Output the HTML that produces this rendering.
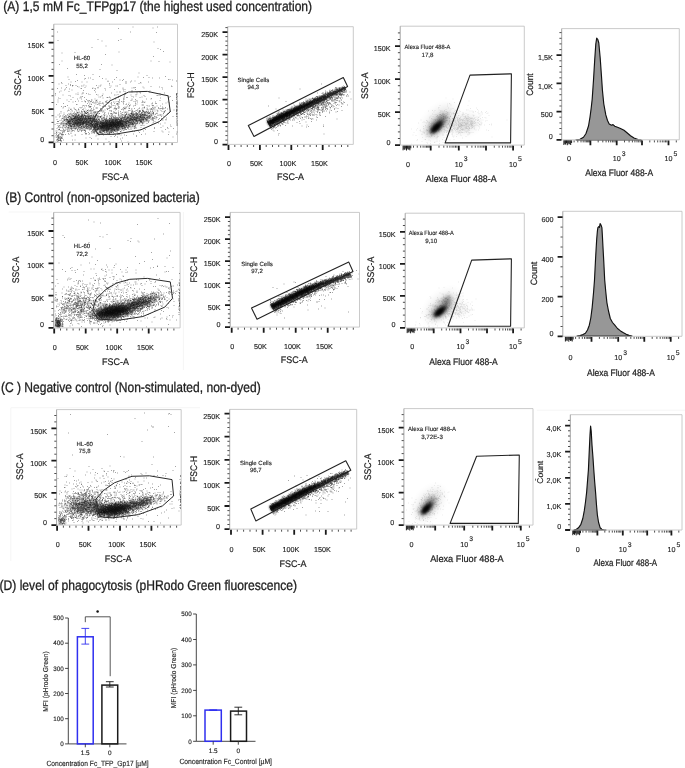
<!DOCTYPE html><html><head><meta charset="utf-8"><title>Figure</title><style>html,body{margin:0;padding:0;background:#fff;width:685px;height:768px;overflow:hidden}svg{display:block;will-change:transform;filter:blur(.35px)}text{font-family:"Liberation Sans",sans-serif;text-rendering:geometricPrecision}</style></head><body><svg width="685" height="768" viewBox="0 0 685 768" font-family="Liberation Sans, sans-serif" shape-rendering="auto"><defs><filter id="b0" x="-100%" y="-100%" width="300%" height="300%"><feGaussianBlur stdDeviation="2.4"/></filter><filter id="b1" x="-100%" y="-100%" width="300%" height="300%"><feGaussianBlur stdDeviation="2.2"/></filter><filter id="b2" x="-100%" y="-100%" width="300%" height="300%"><feGaussianBlur stdDeviation="2"/></filter><filter id="b3" x="-100%" y="-100%" width="300%" height="300%"><feGaussianBlur stdDeviation="2.4"/></filter><filter id="b4" x="-100%" y="-100%" width="300%" height="300%"><feGaussianBlur stdDeviation="2"/></filter><filter id="b5" x="-100%" y="-100%" width="300%" height="300%"><feGaussianBlur stdDeviation="2"/></filter><filter id="b6" x="-100%" y="-100%" width="300%" height="300%"><feGaussianBlur stdDeviation="0.9"/></filter><filter id="b7" x="-100%" y="-100%" width="300%" height="300%"><feGaussianBlur stdDeviation="2.1"/></filter><filter id="b8" x="-100%" y="-100%" width="300%" height="300%"><feGaussianBlur stdDeviation="2"/></filter><filter id="b9" x="-100%" y="-100%" width="300%" height="300%"><feGaussianBlur stdDeviation="2.5"/></filter><filter id="b10" x="-100%" y="-100%" width="300%" height="300%"><feGaussianBlur stdDeviation="2.4"/></filter><filter id="b11" x="-20%" y="-50%" width="140%" height="200%"><feGaussianBlur stdDeviation="0.8"/></filter><filter id="b12" x="-20%" y="-50%" width="140%" height="200%"><feGaussianBlur stdDeviation="0.8"/></filter><filter id="b13" x="-20%" y="-50%" width="140%" height="200%"><feGaussianBlur stdDeviation="0.8"/></filter><filter id="b14" x="-100%" y="-100%" width="300%" height="300%"><feGaussianBlur stdDeviation="4"/></filter><filter id="b15" x="-100%" y="-100%" width="300%" height="300%"><feGaussianBlur stdDeviation="2.6"/></filter><filter id="b16" x="-100%" y="-100%" width="300%" height="300%"><feGaussianBlur stdDeviation="1.7"/></filter><filter id="b17" x="-100%" y="-100%" width="300%" height="300%"><feGaussianBlur stdDeviation="1.0"/></filter><filter id="b18" x="-100%" y="-100%" width="300%" height="300%"><feGaussianBlur stdDeviation="2.2"/></filter><filter id="b19" x="-100%" y="-100%" width="300%" height="300%"><feGaussianBlur stdDeviation="4"/></filter><filter id="b20" x="-100%" y="-100%" width="300%" height="300%"><feGaussianBlur stdDeviation="4"/></filter><filter id="b21" x="-100%" y="-100%" width="300%" height="300%"><feGaussianBlur stdDeviation="2.6"/></filter><filter id="b22" x="-100%" y="-100%" width="300%" height="300%"><feGaussianBlur stdDeviation="1.7"/></filter><filter id="b23" x="-100%" y="-100%" width="300%" height="300%"><feGaussianBlur stdDeviation="1.0"/></filter><filter id="b24" x="-100%" y="-100%" width="300%" height="300%"><feGaussianBlur stdDeviation="2.2"/></filter><filter id="b25" x="-100%" y="-100%" width="300%" height="300%"><feGaussianBlur stdDeviation="4"/></filter><filter id="b26" x="-100%" y="-100%" width="300%" height="300%"><feGaussianBlur stdDeviation="4"/></filter><filter id="b27" x="-100%" y="-100%" width="300%" height="300%"><feGaussianBlur stdDeviation="2.6"/></filter><filter id="b28" x="-100%" y="-100%" width="300%" height="300%"><feGaussianBlur stdDeviation="1.7"/></filter><filter id="b29" x="-100%" y="-100%" width="300%" height="300%"><feGaussianBlur stdDeviation="1.0"/></filter><filter id="b30" x="-100%" y="-100%" width="300%" height="300%"><feGaussianBlur stdDeviation="2.2"/></filter></defs><rect width="685" height="768" fill="#fff"/><text x="3.3" y="11.3" font-size="14.0" textLength="308.8" lengthAdjust="spacingAndGlyphs" fill="#1e1e1e" stroke="#1e1e1e" stroke-width="0.3">(A) 1,5 mM Fc_TFPgp17 (the highest used concentration)</text><text x="5.2" y="202.1" font-size="14.0" textLength="194.6" lengthAdjust="spacingAndGlyphs" fill="#1e1e1e" stroke="#1e1e1e" stroke-width="0.3">(B) Control (non-opsonized bacteria)</text><text x=".9" y="392" font-size="14.0" textLength="259.8" lengthAdjust="spacingAndGlyphs" fill="#1e1e1e" stroke="#1e1e1e" stroke-width="0.3">(C ) Negative control (Non-stimulated, non-dyed)</text><text x="-.5" y="589.5" font-size="14.0" textLength="297.6" lengthAdjust="spacingAndGlyphs" fill="#1e1e1e" stroke="#1e1e1e" stroke-width="0.3">(D) level of phagocytosis (pHRodo Green fluorescence)</text><path d="M10.8 408L10.8 561" stroke="#f2f2f2" stroke-width="0.8"/><path d="M10.8 407.7L200 407.7" stroke="#f2f2f2" stroke-width="0.8"/><path d="M8.7 212L52 212" stroke="#f2f2f2" stroke-width="0.8"/><path d="M183.4 212L183.4 370" stroke="#f2f2f2" stroke-width="0.8"/><path d="M536.8 410.2L685 410.2" stroke="#f2f2f2" stroke-width="0.8"/><ellipse cx="78.5" cy="121.3" rx="13.6" ry="4.6" transform="rotate(-5 78.5 121.3)" fill="#000" opacity="0.4" filter="url(#b0)"/><ellipse cx="110.1" cy="125" rx="14.9" ry="4.6" transform="rotate(-10 110.1 125)" fill="#000" opacity="0.55" filter="url(#b1)"/><ellipse cx="138.6" cy="119.7" rx="11.2" ry="3.3" transform="rotate(-18 138.6 119.7)" fill="#000" opacity="0.28" filter="url(#b2)"/><ellipse cx="94" cy="123.7" rx="6.2" ry="4" transform="rotate(0 94 123.7)" fill="#000" opacity="0.25" filter="url(#b3)"/><path transform="scale(.5)" d="M265 54h2m47 0h2m-11 2h2m-124 39h2m141 8h2m-91 1h2m-116 18h2m214 2h2m-223 5h2m14 8h2m161 18h2m19 1h2m-116 1h2m-38 1h2m15 1h2m59 0h2m-9 1h2m21 2h2m13 5h2m-143 1h2m54 3h2m37 1h2m110 1h2m-188 1h2m126 0h2m31 0h2m-188 1h2m35 0h2m152 0h2m-130 1h2m70 0h2m18 0h2m-175 1h2m73 0h2m-61 1h2m192 0h2m-27 4h2m-54 1h2m-131 1h2m178 0h2m-145 2h2m7 0h2m39 2h2m41 0h2m23 0h2m-83 1h2m41 0h2m-127 1h2m201 1h2m4 0h2m-181 1h2m106 0h2m39 1h2m-131 1h2m38 0h2m16 0h2m118 0h2m-172 1h2m47 0h2m17 0h2m-122 1h2m41 0h2m44 0h2m39 0h2m-129 1h2m181 0h2m-142 1h2m66 0h2m31 0h2m27 0h2m7 0h2m-56 1h2m21 0h2m-157 1h2m146 0h2m-90 1h2m1 0h2m12 0h2m19 0h2m58 0h2m69 0h2m-178 1h2m101 0h2m-103 1h2m27 0h2m35 0h2m47 0h2m-172 1h2m28 0h2m29 0h2m1 0h2m5 0h2m38 0h2m1 0h2m14 0h2m27 0h2m59 0h2m-124 1h2m2 0h2m66 0h2m-98 1h2m13 0h2m-1 0h2m9 0h2m28 0h2m9 0h2m-133 1h2m77 0h2m21 0h2m3 0h2m-1 0h2m34 0h2m-76 1h2m39 0h2m13 0h2m19 0h2m-93 1h2m67 0h2m-31 1h2m59 0h2m-1 0h2m17 0h2m-171 1h2m81 0h2m6 0h2m0 0h2m-61 1h2m2 0h2m3 0h2m51 0h2m26 0h2m35 0h2m1 0h2m13 0h2m-193 1h2m5 0h2m49 0h2m37 0h2m-44 1h2m70 0h2m1 0h2m34 0h2m34 0h2m-163 1h2m53 0h2m0 0h2m-75 1h2m37 0h2m3 0h2m95 0h2m3 0h2m-95 1h2m14 0h2m0 0h2m8 0h2m2 0h2m15 0h2m7 0h2m17 0h2m23 0h2m15 0h2m6 0h2m-163 1h2m131 0h2m6 0h2m10 0h2m3 0h2m-1 0h2m7 0h2m-186 1h2m35 0h2m53 0h2m1 0h2m-90 1h2m7 0h2m3 0h2m7 0h2m22 0h2m3 0h2m85 0h2m2 0h2m-128 1h2m3 0h2m3 0h2m75 0h2m21 0h2m35 0h2m-168 1h2m5 0h2m4 0h2m9 0h2m20 0h2m-1 0h2m2 0h2m11 0h2m15 0h2m42 0h2m27 0h2m3 0h2m-151 1h2m1 0h2m24 0h2m3 0h2m62 0h2m10 0h2m1 0h2m-1 0h2m5 0h2m3 0h2m-1 0h2m10 0h2m17 0h2m3 0h2m-182 1h2m8 0h2m8 0h2m5 0h2m13 0h2m12 0h2m20 0h2m-1 0h2m22 0h2m35 0h2m3 0h2m6 0h2m-148 1h2m6 0h2m10 0h2m59 0h2m6 0h2m17 0h2m11 0h2m0 0h2m8 0h2m0 0h2m1 0h2m-174 1h2m4 0h2m41 0h2m-1 0h2m17 0h2m24 0h2m35 0h2m15 0h2m5 0h2m5 0h2m3 0h2m35 0h2m-191 1h2m1 0h2m4 0h2m2 0h2m1 0h2m17 0h2m-1 0h2m6 0h2m40 0h2m7 0h2m2 0h2m3 0h2m9 0h2m8 0h2m8 0h2m-1 0h2m4 0h2m16 0h2m6 0h2m4 0h2m-157 1h2m9 0h2m83 0h2m7 0h2m-1 0h2m1 0h2m0 0h2m1 0h2m8 0h2m20 0h2m2 0h2m-174 1h2m28 0h2m24 0h2m15 0h2m15 0h2m25 0h2m8 0h2m1 0h2m0 0h2m5 0h2m4 0h2m0 0h2m1 0h2m0 0h2m-1 0h2m1 0h2m18 0h2m-197 1h2m25 0h2m1 0h2m17 0h2m2 0h2m22 0h2m48 0h2m1 0h2m10 0h2m6 0h2m-1 0h2m4 0h2m7 0h2m0 0h2m2 0h2m8 0h2m16 0h2m2 0h2m4 0h2m-184 1h2m4 0h2m0 0h2m1 0h2m0 0h2m6 0h2m2 0h2m0 0h2m9 0h2m-1 0h2m2 0h2m-1 0h2m1 0h2m-1 0h2m54 0h2m11 0h2m2 0h2m-1 0h2m9 0h2m2 0h2m0 0h2m17 0h2m12 0h2m4 0h2m-204 1h2m-1 0h2m3 0h2m19 0h2m3 0h2m9 0h2m-1 0h2m4 0h2m2 0h2m10 0h2m-1 0h2m7 0h2m28 0h2m14 0h2m1 0h2m3 0h2m5 0h2m6 0h2m10 0h2m1 0h2m4 0h2m10 0h2m-162 1h2m-1 0h2m5 0h2m3 0h2m1 0h2m-1 0h2m5 0h2m-1 0h2m9 0h2m0 0h2m1 0h2m-1 0h2m7 0h2m6 0h2m2 0h2m17 0h2m23 0h2m13 0h2m-1 0h2m-1 0h2m-1 0h2m0 0h2m10 0h2m1 0h2m-1 0h2m17 0h2m44 0h2m-219 1h2m19 0h2m-1 0h2m1 0h2m3 0h2m2 0h2m6 0h2m1 0h2m1 0h2m0 0h2m1 0h2m40 0h2m19 0h2m1 0h2m-1 0h2m21 0h2m0 0h2m-1 0h2m1 0h2m14 0h2m16 0h2m-1 0h2m-178 1h2m3 0h2m6 0h2m5 0h2m1 0h2m0 0h2m37 0h2m5 0h2m13 0h2m20 0h2m1 0h2m2 0h2m0 0h2m1 0h2m10 0h2m1 0h2m-1 0h2m6 0h2m0 0h2m0 0h2m0 0h2m0 0h2m3 0h2m-1 0h2m8 0h2m1 0h2m-172 1h2m4 0h2m3 0h2m3 0h2m5 0h2m4 0h2m2 0h2m-1 0h2m10 0h2m-1 0h2m0 0h2m-1 0h2m17 0h2m27 0h2m5 0h2m9 0h2m1 0h2m3 0h2m-1 0h2m11 0h2m1 0h2m-1 0h2m0 0h2m1 0h2m12 0h2m6 0h2m24 0h2m-202 1h2m11 0h2m1 0h2m-1 0h2m0 0h2m0 0h2m1 0h2m10 0h2m0 0h2m-1 0h2m1 0h2m1 0h2m-1 0h2m0 0h2m-1 0h2m-1 0h2m-1 0h2m0 0h2m17 0h2m6 0h2m6 0h2m0 0h2m17 0h2m-1 0h2m8 0h2m-1 0h2m5 0h2m5 0h2m0 0h2m4 0h2m9 0h2m-161 1h2m12 0h2m6 0h2m-1 0h2m1 0h2m2 0h2m1 0h2m9 0h2m3 0h2m13 0h2m13 0h2m3 0h2m13 0h2m1 0h2m18 0h2m0 0h2m1 0h2m0 0h2m0 0h2m6 0h2m-1 0h2m-1 0h2m1 0h2m5 0h2m1 0h2m1 0h2m5 0h2m2 0h2m-168 1h2m0 0h2m2 0h2m6 0h2m10 0h2m0 0h2m5 0h2m2 0h2m0 0h2m3 0h2m9 0h2m1 0h2m1 0h2m3 0h2m9 0h2m-1 0h2m4 0h2m4 0h2m1 0h2m-1 0h2m0 0h2m2 0h2m-1 0h2m1 0h2m0 0h2m8 0h2m12 0h2m0 0h2m-1 0h2m-1 0h2m-1 0h2m-1 0h2m-1 0h2m9 0h2m-1 0h2m-1 0h2m3 0h2m-1 0h2m2 0h2m38 0h2m-211 1h2m3 0h2m3 0h2m4 0h2m2 0h2m-1 0h2m-1 0h2m4 0h2m1 0h2m3 0h2m0 0h2m-1 0h2m1 0h2m11 0h2m2 0h2m-1 0h2m0 0h2m0 0h2m-1 0h2m0 0h2m4 0h2m8 0h2m5 0h2m2 0h2m1 0h2m2 0h2m3 0h2m4 0h2m1 0h2m0 0h2m0 0h2m-1 0h2m2 0h2m2 0h2m-1 0h2m2 0h2m1 0h2m0 0h2m1 0h2m1 0h2m0 0h2m2 0h2m-1 0h2m0 0h2m6 0h2m38 0h2m-189 1h2m8 0h2m1 0h2m0 0h2m7 0h2m-1 0h2m1 0h2m3 0h2m1 0h2m1 0h2m1 0h2m0 0h2m1 0h2m-1 0h2m9 0h2m13 0h2m3 0h2m3 0h2m2 0h2m2 0h2m0 0h2m-1 0h2m7 0h2m0 0h2m-1 0h2m0 0h2m6 0h2m4 0h2m5 0h2m2 0h2m-1 0h2m0 0h2m3 0h2m-1 0h2m11 0h2m0 0h2m10 0h2m-183 1h2m10 0h2m18 0h2m3 0h2m1 0h2m-1 0h2m6 0h2m25 0h2m1 0h2m-1 0h2m0 0h2m2 0h2m-1 0h2m4 0h2m6 0h2m2 0h2m2 0h2m4 0h2m5 0h2m-1 0h2m-1 0h2m2 0h2m-1 0h2m0 0h2m13 0h2m-1 0h2m2 0h2m2 0h2m-1 0h2m-1 0h2m3 0h2m8 0h2m-183 1h2m18 0h2m-1 0h2m-1 0h2m-1 0h2m3 0h2m6 0h2m1 0h2m13 0h2m-1 0h2m3 0h2m4 0h2m3 0h2m-1 0h2m-1 0h2m0 0h2m4 0h2m12 0h2m0 0h2m-1 0h2m1 0h2m3 0h2m6 0h2m0 0h2m0 0h2m-1 0h2m1 0h2m1 0h2m0 0h2m2 0h2m0 0h2m0 0h2m-1 0h2m-1 0h2m1 0h2m-1 0h2m3 0h2m9 0h2m4 0h2m0 0h2m13 0h2m11 0h2m-186 1h2m7 0h2m2 0h2m8 0h2m-1 0h2m0 0h2m2 0h2m6 0h2m-1 0h2m0 0h2m2 0h2m-1 0h2m0 0h2m-1 0h2m-1 0h2m1 0h2m-1 0h2m1 0h2m-1 0h2m2 0h2m0 0h2m-1 0h2m-1 0h2m-1 0h2m2 0h2m4 0h2m1 0h2m4 0h2m-1 0h2m1 0h2m-1 0h2m-1 0h2m4 0h2m-1 0h2m-1 0h2m-1 0h2m-1 0h2m3 0h2m1 0h2m-1 0h2m1 0h2m3 0h2m2 0h2m-1 0h2m6 0h2m1 0h2m12 0h2m4 0h2m24 0h2m-185 1h2m10 0h2m0 0h2m2 0h2m4 0h2m2 0h2m5 0h2m6 0h2m-1 0h2m0 0h2m5 0h2m2 0h2m12 0h2m3 0h2m0 0h2m1 0h2m-1 0h2m2 0h2m0 0h2m-1 0h2m2 0h2m0 0h2m0 0h2m-1 0h2m-1 0h2m-1 0h2m0 0h2m4 0h2m0 0h2m1 0h2m1 0h2m7 0h2m-1 0h2m-1 0h2m0 0h2m-1 0h2m1 0h2m0 0h2m-1 0h2m0 0h2m4 0h2m10 0h2m1 0h2m12 0h2m-176 1h2m3 0h2m11 0h2m4 0h2m2 0h2m2 0h2m-1 0h2m-1 0h2m-1 0h2m1 0h2m2 0h2m0 0h2m1 0h2m10 0h2m7 0h2m3 0h2m-1 0h2m5 0h2m1 0h2m0 0h2m-1 0h2m-1 0h2m0 0h2m0 0h2m5 0h2m-1 0h2m1 0h2m-1 0h2m-1 0h2m-1 0h2m-1 0h2m1 0h2m-1 0h2m1 0h2m1 0h2m0 0h2m0 0h2m-1 0h2m0 0h2m9 0h2m0 0h2m25 0h2m28 0h2m-205 1h2m0 0h2m19 0h2m0 0h2m1 0h2m6 0h2m-1 0h2m1 0h2m3 0h2m-1 0h2m4 0h2m6 0h2m5 0h2m5 0h2m1 0h2m-1 0h2m-1 0h2m2 0h2m-1 0h2m-1 0h2m0 0h2m3 0h2m-1 0h2m-1 0h2m1 0h2m-1 0h2m-1 0h2m0 0h2m-1 0h2m2 0h2m-1 0h2m-1 0h2m-1 0h2m0 0h2m-1 0h2m-1 0h2m-1 0h2m-1 0h2m-1 0h2m3 0h2m0 0h2m-1 0h2m0 0h2m3 0h2m6 0h2m0 0h2m8 0h2m8 0h2m2 0h2m29 0h2m-185 1h2m7 0h2m9 0h2m3 0h2m3 0h2m3 0h2m2 0h2m-1 0h2m4 0h2m4 0h2m2 0h2m9 0h2m0 0h2m0 0h2m5 0h2m-1 0h2m3 0h2m-1 0h2m-1 0h2m0 0h2m-1 0h2m2 0h2m2 0h2m-1 0h2m0 0h2m-1 0h2m-1 0h2m-1 0h2m-1 0h2m3 0h2m-1 0h2m1 0h2m0 0h2m-1 0h2m1 0h2m2 0h2m4 0h2m-1 0h2m2 0h2m3 0h2m-1 0h2m4 0h2m10 0h2m34 0h2m-190 1h2m1 0h2m2 0h2m7 0h2m2 0h2m-1 0h2m-1 0h2m3 0h2m-1 0h2m2 0h2m5 0h2m0 0h2m0 0h2m0 0h2m1 0h2m1 0h2m-1 0h2m-1 0h2m2 0h2m-1 0h2m-1 0h2m0 0h2m-1 0h2m-1 0h2m8 0h2m-1 0h2m5 0h2m2 0h2m0 0h2m-1 0h2m1 0h2m2 0h2m-1 0h2m1 0h2m0 0h2m-1 0h2m-1 0h2m0 0h2m0 0h2m7 0h2m0 0h2m-1 0h2m8 0h2m0 0h2m1 0h2m2 0h2m-145 1h2m1 0h2m1 0h2m3 0h2m-1 0h2m3 0h2m31 0h2m-1 0h2m-1 0h2m0 0h2m1 0h2m1 0h2m5 0h2m6 0h2m0 0h2m-1 0h2m0 0h2m2 0h2m-1 0h2m-1 0h2m-1 0h2m3 0h2m1 0h2m-1 0h2m0 0h2m2 0h2m2 0h2m0 0h2m-1 0h2m-1 0h2m1 0h2m2 0h2m-1 0h2m4 0h2m4 0h2m-1 0h2m-1 0h2m2 0h2m-1 0h2m-139 1h2m12 0h2m16 0h2m8 0h2m6 0h2m9 0h2m-1 0h2m3 0h2m2 0h2m4 0h2m-1 0h2m-1 0h2m1 0h2m0 0h2m-1 0h2m2 0h2m0 0h2m1 0h2m-1 0h2m-1 0h2m3 0h2m-1 0h2m0 0h2m0 0h2m2 0h2m2 0h2m3 0h2m3 0h2m3 0h2m11 0h2m10 0h2m-164 1h2m22 0h2m0 0h2m1 0h2m3 0h2m11 0h2m3 0h2m2 0h2m1 0h2m0 0h2m3 0h2m1 0h2m0 0h2m1 0h2m5 0h2m4 0h2m0 0h2m1 0h2m-1 0h2m-1 0h2m-1 0h2m-1 0h2m0 0h2m0 0h2m-1 0h2m0 0h2m-1 0h2m5 0h2m0 0h2m-1 0h2m-1 0h2m-1 0h2m1 0h2m0 0h2m1 0h2m7 0h2m5 0h2m-122 1h2m6 0h2m6 0h2m5 0h2m1 0h2m7 0h2m5 0h2m4 0h2m-1 0h2m0 0h2m2 0h2m-1 0h2m1 0h2m-1 0h2m0 0h2m-1 0h2m1 0h2m0 0h2m-1 0h2m1 0h2m0 0h2m2 0h2m-1 0h2m2 0h2m2 0h2m2 0h2m0 0h2m4 0h2m1 0h2m-1 0h2m0 0h2m0 0h2m-1 0h2m0 0h2m1 0h2m14 0h2m-139 1h2m9 0h2m3 0h2m8 0h2m11 0h2m5 0h2m2 0h2m0 0h2m2 0h2m0 0h2m0 0h2m0 0h2m6 0h2m1 0h2m-1 0h2m-1 0h2m-1 0h2m2 0h2m1 0h2m2 0h2m-1 0h2m5 0h2m-1 0h2m4 0h2m6 0h2m2 0h2m7 0h2m12 0h2m-155 1h2m7 0h2m3 0h2m12 0h2m13 0h2m3 0h2m2 0h2m-1 0h2m6 0h2m11 0h2m10 0h2m1 0h2m3 0h2m1 0h2m-1 0h2m1 0h2m5 0h2m6 0h2m-1 0h2m-1 0h2m0 0h2m6 0h2m-1 0h2m3 0h2m6 0h2m22 0h2m-149 1h2m6 0h2m3 0h2m7 0h2m14 0h2m2 0h2m1 0h2m1 0h2m4 0h2m0 0h2m0 0h2m3 0h2m3 0h2m0 0h2m0 0h2m-1 0h2m2 0h2m-1 0h2m-1 0h2m-1 0h2m-1 0h2m0 0h2m2 0h2m3 0h2m4 0h2m1 0h2m2 0h2m6 0h2m38 0h2m-164 1h2m13 0h2m1 0h2m0 0h2m2 0h2m8 0h2m13 0h2m10 0h2m5 0h2m-1 0h2m5 0h2m0 0h2m1 0h2m0 0h2m-1 0h2m1 0h2m-1 0h2m-1 0h2m-1 0h2m0 0h2m4 0h2m0 0h2m5 0h2m-1 0h2m3 0h2m4 0h2m9 0h2m11 0h2m-152 1h2m23 0h2m4 0h2m4 0h2m5 0h2m16 0h2m4 0h2m6 0h2m1 0h2m-1 0h2m2 0h2m0 0h2m2 0h2m4 0h2m0 0h2m1 0h2m2 0h2m-1 0h2m0 0h2m4 0h2m0 0h2m-1 0h2m-120 1h2m7 0h2m5 0h2m52 0h2m1 0h2m0 0h2m0 0h2m-1 0h2m2 0h2m-1 0h2m5 0h2m2 0h2m0 0h2m2 0h2m4 0h2m3 0h2m-1 0h2m1 0h2m4 0h2m0 0h2m7 0h2m0 0h2m37 0h2m-165 1h2m1 0h2m22 0h2m14 0h2m14 0h2m3 0h2m-1 0h2m4 0h2m1 0h2m0 0h2m-1 0h2m7 0h2m-1 0h2m-1 0h2m-1 0h2m2 0h2m1 0h2m8 0h2m1 0h2m-109 1h2m31 0h2m5 0h2m13 0h2m20 0h2m-1 0h2m3 0h2m9 0h2m3 0h2m17 0h2m-136 1h2m8 0h2m2 0h2m9 0h2m47 0h2m17 0h2m-1 0h2m0 0h2m3 0h2m-1 0h2m6 0h2m-1 0h2m-1 0h2m3 0h2m32 0h2m-130 1h2m44 0h2m22 0h2m6 0h2m8 0h2m14 0h2m-117 1h2m72 0h2m7 0h2m2 0h2m7 0h2m-38 1h2m-1 0h2m6 0h2m3 0h2m1 0h2m5 0h2m8 0h2m0 0h2m-1 0h2m-112 1h2m6 0h2m66 0h2m2 0h2m2 0h2m19 0h2m-1 0h2m-79 1h2m35 0h2m16 0h2m3 0h2m2 0h2m7 0h2m-93 1h2m-1 0h2m46 0h2m52 0h2m38 0h2m22 0h2m-180 1h2m23 0h2m60 0h2m18 0h2m15 0h2m0 0h2m42 0h2m-159 1h2m-16 1h2m10 0h2m105 0h2m20 0h2m-138 1h2m-1 0h2m72 0h2m79 0h2m-160 1h2m0 0h2m103 0h2m-114 1h2m234 0h2m-225 1h2m55 0h2m-10 1h2m-58 1h2m5 0h2m-9 1h2m123 0h2m-128 1h2m4 0h2m4 1h2m-7 1h2m-9 1h2m5 0h2m94 1h2m-108 1h2m142 0h2" stroke="#000" stroke-width="1.4" opacity="0.5"/><path transform="scale(.5)" d="M114 64h2m144 0h2m-67 15h2m44 0h2m-40 3h2m102 2h2m6 13h2m-107 12h2m89 13h2m14 1h2m-117 6h2m19 1h2m52 16h2m-127 3h2m14 2h2m-35 3h2m95 1h2m52 0h2m-112 1h2m2 0h2m-12 1h2m39 1h2m-76 1h2m200 0h2m3 1h2m-192 1h2m88 0h2m-31 1h2m52 0h2m-56 1h2m-76 1h2m20 0h2m8 0h2m121 0h2m-176 1h2m156 0h2m-1 1h2m-166 2h2m120 1h2m-97 2h2m-2 1h2m19 0h2m30 0h2m35 0h2m-82 1h2m63 2h2m24 1h2m-38 1h2m-21 1h2m36 1h2m40 0h2m-144 1h2m13 0h2m65 0h2m-46 1h2m20 0h2m73 0h2m-32 3h2m3 0h2m23 0h2m63 2h2m-11 1h2m-72 1h2m-96 1h2m92 0h2m20 0h2m-148 1h2m68 0h2m34 0h2m28 0h2m-60 2h2m42 0h2m22 0h2m-109 1h2m31 1h2m84 0h2m-140 1h2m66 0h2m64 0h2m-61 1h2m9 0h2m15 0h2m-96 2h2m33 0h2m55 0h2m-76 1h2m8 1h2m9 0h2m43 0h2m21 1h2m56 0h2m-129 1h2m-57 1h2m11 0h2m60 0h2m28 0h2m3 0h2m18 0h2m-75 1h2m93 0h2m-107 1h2m5 0h2m18 0h2m75 0h2m64 0h2m-169 1h2m8 0h2m132 0h2m-132 1h2m18 0h2m80 0h2m7 0h2m-92 1h2m11 0h2m-43 1h2m60 0h2m12 1h2m-106 1h2m41 0h2m24 0h2m56 0h2m9 0h2m-142 1h2m22 0h2m-60 1h2m46 0h2m1 0h2m22 0h2m10 0h2m17 0h2m-17 1h2m15 0h2m69 0h2m-118 1h2m90 0h2m17 0h2m10 0h2m-157 1h2m72 0h2m0 0h2m10 0h2m27 0h2m45 0h2m-134 1h2m35 0h2m-1 0h2m12 0h2m10 0h2m9 0h2m46 0h2m5 0h2m-177 1h2m64 0h2m46 0h2m-1 0h2m18 0h2m16 0h2m0 0h2m0 0h2m-167 1h2m90 0h2m59 0h2m7 0h2m-168 1h2m38 0h2m4 0h2m2 0h2m14 0h2m42 0h2m26 0h2m-102 1h2m102 0h2m5 0h2m-135 1h2m23 0h2m43 0h2m46 0h2m6 0h2m25 0h2m8 0h2m-196 1h2m39 0h2m8 0h2m7 0h2m8 0h2m47 0h2m22 0h2m2 0h2m17 0h2m-126 1h2m4 0h2m36 0h2m42 0h2m13 0h2m17 0h2m51 0h2m-186 1h2m14 0h2m2 0h2m15 0h2m57 0h2m30 0h2m5 0h2m3 0h2m-1 0h2m0 0h2m7 0h2m-139 1h2m0 0h2m9 0h2m4 0h2m51 0h2m21 0h2m-1 0h2m-106 1h2m6 0h2m0 0h2m12 0h2m10 0h2m21 0h2m0 0h2m6 0h2m28 0h2m0 0h2m10 0h2m6 0h2m11 0h2m-1 0h2m-1 0h2m-1 0h2m6 0h2m5 0h2m11 0h2m-210 1h2m24 0h2m7 0h2m21 0h2m44 0h2m44 0h2m4 0h2m1 0h2m8 0h2m-140 1h2m1 0h2m21 0h2m75 0h2m2 0h2m-1 0h2m4 0h2m9 0h2m-1 0h2m3 0h2m-1 0h2m1 0h2m3 0h2m10 0h2m18 0h2m-186 1h2m0 0h2m8 0h2m12 0h2m3 0h2m7 0h2m-1 0h2m2 0h2m8 0h2m1 0h2m14 0h2m8 0h2m14 0h2m2 0h2m14 0h2m3 0h2m4 0h2m0 0h2m0 0h2m7 0h2m5 0h2m-1 0h2m28 0h2m-191 1h2m1 0h2m9 0h2m10 0h2m5 0h2m3 0h2m3 0h2m10 0h2m3 0h2m30 0h2m26 0h2m7 0h2m-1 0h2m1 0h2m1 0h2m2 0h2m-1 0h2m-1 0h2m14 0h2m0 0h2m-1 0h2m-1 0h2m7 0h2m-167 1h2m7 0h2m0 0h2m8 0h2m4 0h2m5 0h2m-1 0h2m3 0h2m12 0h2m1 0h2m8 0h2m3 0h2m4 0h2m34 0h2m1 0h2m5 0h2m12 0h2m5 0h2m15 0h2m2 0h2m-1 0h2m-177 1h2m7 0h2m-1 0h2m9 0h2m0 0h2m9 0h2m2 0h2m2 0h2m1 0h2m1 0h2m-1 0h2m4 0h2m0 0h2m-1 0h2m-1 0h2m-1 0h2m1 0h2m5 0h2m0 0h2m65 0h2m-1 0h2m11 0h2m0 0h2m11 0h2m10 0h2m-1 0h2m16 0h2m-218 1h2m5 0h2m20 0h2m10 0h2m5 0h2m1 0h2m-1 0h2m-1 0h2m-1 0h2m33 0h2m19 0h2m4 0h2m12 0h2m5 0h2m9 0h2m2 0h2m-1 0h2m1 0h2m-1 0h2m1 0h2m1 0h2m4 0h2m3 0h2m1 0h2m1 0h2m4 0h2m-164 1h2m3 0h2m7 0h2m4 0h2m1 0h2m4 0h2m3 0h2m4 0h2m-1 0h2m1 0h2m-1 0h2m-1 0h2m8 0h2m1 0h2m30 0h2m0 0h2m1 0h2m4 0h2m6 0h2m7 0h2m1 0h2m5 0h2m0 0h2m-1 0h2m19 0h2m2 0h2m5 0h2m-176 1h2m4 0h2m13 0h2m2 0h2m0 0h2m-1 0h2m-1 0h2m-1 0h2m-1 0h2m5 0h2m0 0h2m-1 0h2m9 0h2m6 0h2m0 0h2m0 0h2m3 0h2m32 0h2m1 0h2m12 0h2m-1 0h2m0 0h2m-1 0h2m3 0h2m1 0h2m-1 0h2m0 0h2m-1 0h2m-1 0h2m-1 0h2m2 0h2m1 0h2m-1 0h2m3 0h2m4 0h2m5 0h2m4 0h2m0 0h2m2 0h2m-180 1h2m2 0h2m10 0h2m1 0h2m1 0h2m-1 0h2m0 0h2m6 0h2m-1 0h2m1 0h2m-1 0h2m1 0h2m-1 0h2m6 0h2m1 0h2m-1 0h2m-1 0h2m0 0h2m-1 0h2m14 0h2m9 0h2m8 0h2m-1 0h2m1 0h2m5 0h2m-1 0h2m1 0h2m0 0h2m3 0h2m3 0h2m5 0h2m1 0h2m3 0h2m0 0h2m8 0h2m-1 0h2m3 0h2m11 0h2m0 0h2m8 0h2m0 0h2m11 0h2m-177 1h2m-1 0h2m0 0h2m-1 0h2m3 0h2m-1 0h2m-1 0h2m1 0h2m4 0h2m2 0h2m1 0h2m1 0h2m4 0h2m-1 0h2m0 0h2m-1 0h2m1 0h2m0 0h2m0 0h2m5 0h2m3 0h2m5 0h2m0 0h2m28 0h2m0 0h2m4 0h2m9 0h2m2 0h2m9 0h2m5 0h2m21 0h2m-194 1h2m19 0h2m2 0h2m6 0h2m-1 0h2m7 0h2m-1 0h2m2 0h2m-1 0h2m0 0h2m-1 0h2m0 0h2m3 0h2m3 0h2m5 0h2m1 0h2m2 0h2m-1 0h2m3 0h2m4 0h2m16 0h2m2 0h2m3 0h2m-1 0h2m2 0h2m15 0h2m5 0h2m2 0h2m3 0h2m0 0h2m5 0h2m-1 0h2m2 0h2m0 0h2m7 0h2m21 0h2m-187 1h2m0 0h2m3 0h2m0 0h2m-1 0h2m0 0h2m1 0h2m0 0h2m1 0h2m0 0h2m5 0h2m3 0h2m2 0h2m1 0h2m0 0h2m3 0h2m-1 0h2m2 0h2m5 0h2m17 0h2m6 0h2m6 0h2m1 0h2m-1 0h2m1 0h2m2 0h2m0 0h2m0 0h2m8 0h2m1 0h2m0 0h2m3 0h2m1 0h2m-1 0h2m5 0h2m12 0h2m3 0h2m-1 0h2m9 0h2m-1 0h2m25 0h2m-205 1h2m17 0h2m3 0h2m4 0h2m3 0h2m3 0h2m28 0h2m5 0h2m-1 0h2m4 0h2m0 0h2m2 0h2m3 0h2m1 0h2m-1 0h2m4 0h2m6 0h2m14 0h2m-1 0h2m1 0h2m4 0h2m7 0h2m0 0h2m-1 0h2m16 0h2m-166 1h2m1 0h2m5 0h2m-1 0h2m1 0h2m4 0h2m-1 0h2m1 0h2m1 0h2m-1 0h2m-1 0h2m1 0h2m-1 0h2m9 0h2m1 0h2m-1 0h2m-1 0h2m3 0h2m-1 0h2m-1 0h2m-1 0h2m-1 0h2m0 0h2m11 0h2m0 0h2m6 0h2m0 0h2m3 0h2m-1 0h2m4 0h2m0 0h2m-1 0h2m4 0h2m-1 0h2m-1 0h2m2 0h2m2 0h2m-1 0h2m1 0h2m4 0h2m3 0h2m5 0h2m0 0h2m-1 0h2m4 0h2m-1 0h2m7 0h2m-177 1h2m18 0h2m-1 0h2m-1 0h2m5 0h2m-1 0h2m2 0h2m3 0h2m-1 0h2m2 0h2m5 0h2m-1 0h2m12 0h2m4 0h2m0 0h2m0 0h2m0 0h2m0 0h2m4 0h2m7 0h2m-1 0h2m5 0h2m0 0h2m1 0h2m-1 0h2m-1 0h2m4 0h2m0 0h2m1 0h2m-1 0h2m-1 0h2m0 0h2m-1 0h2m0 0h2m-1 0h2m-1 0h2m0 0h2m0 0h2m0 0h2m1 0h2m-1 0h2m0 0h2m7 0h2m14 0h2m-1 0h2m8 0h2m-161 1h2m17 0h2m-1 0h2m-1 0h2m-1 0h2m5 0h2m2 0h2m2 0h2m-1 0h2m0 0h2m0 0h2m-1 0h2m-1 0h2m2 0h2m-1 0h2m-1 0h2m2 0h2m2 0h2m6 0h2m5 0h2m0 0h2m4 0h2m0 0h2m3 0h2m-1 0h2m1 0h2m-1 0h2m-1 0h2m4 0h2m17 0h2m0 0h2m8 0h2m0 0h2m5 0h2m5 0h2m-1 0h2m-147 1h2m6 0h2m3 0h2m-1 0h2m-1 0h2m1 0h2m2 0h2m-1 0h2m-1 0h2m1 0h2m1 0h2m4 0h2m2 0h2m14 0h2m0 0h2m4 0h2m1 0h2m-1 0h2m1 0h2m1 0h2m0 0h2m-1 0h2m-1 0h2m0 0h2m0 0h2m0 0h2m-1 0h2m0 0h2m-1 0h2m0 0h2m-1 0h2m-1 0h2m0 0h2m-1 0h2m-1 0h2m-1 0h2m0 0h2m0 0h2m-1 0h2m-1 0h2m-1 0h2m-1 0h2m1 0h2m3 0h2m4 0h2m0 0h2m0 0h2m0 0h2m10 0h2m-155 1h2m16 0h2m0 0h2m4 0h2m0 0h2m4 0h2m-1 0h2m-1 0h2m0 0h2m-1 0h2m1 0h2m3 0h2m0 0h2m-1 0h2m6 0h2m2 0h2m1 0h2m1 0h2m4 0h2m3 0h2m-1 0h2m0 0h2m6 0h2m2 0h2m0 0h2m1 0h2m2 0h2m-1 0h2m8 0h2m-1 0h2m0 0h2m0 0h2m-1 0h2m-1 0h2m0 0h2m3 0h2m1 0h2m8 0h2m0 0h2m2 0h2m14 0h2m19 0h2m22 0h2m-201 1h2m-1 0h2m-1 0h2m1 0h2m2 0h2m1 0h2m6 0h2m-1 0h2m0 0h2m-1 0h2m0 0h2m6 0h2m-1 0h2m-1 0h2m2 0h2m3 0h2m2 0h2m-1 0h2m-1 0h2m-1 0h2m2 0h2m1 0h2m-1 0h2m0 0h2m-1 0h2m-1 0h2m3 0h2m0 0h2m2 0h2m0 0h2m-1 0h2m1 0h2m0 0h2m1 0h2m1 0h2m-1 0h2m-1 0h2m3 0h2m-1 0h2m1 0h2m2 0h2m-1 0h2m0 0h2m0 0h2m-1 0h2m-1 0h2m1 0h2m-1 0h2m1 0h2m0 0h2m0 0h2m-1 0h2m9 0h2m3 0h2m0 0h2m0 0h2m9 0h2m7 0h2m-174 1h2m1 0h2m1 0h2m4 0h2m3 0h2m-1 0h2m5 0h2m2 0h2m-1 0h2m5 0h2m-1 0h2m0 0h2m0 0h2m1 0h2m-1 0h2m3 0h2m-1 0h2m2 0h2m3 0h2m-1 0h2m2 0h2m-1 0h2m-1 0h2m0 0h2m0 0h2m-1 0h2m6 0h2m0 0h2m9 0h2m-1 0h2m-1 0h2m0 0h2m-1 0h2m3 0h2m-1 0h2m1 0h2m0 0h2m-1 0h2m1 0h2m-1 0h2m-1 0h2m0 0h2m-1 0h2m0 0h2m-1 0h2m0 0h2m0 0h2m1 0h2m-1 0h2m0 0h2m-1 0h2m3 0h2m0 0h2m3 0h2m-159 1h2m28 0h2m3 0h2m-1 0h2m11 0h2m0 0h2m-1 0h2m0 0h2m1 0h2m3 0h2m0 0h2m9 0h2m5 0h2m0 0h2m3 0h2m1 0h2m0 0h2m2 0h2m-1 0h2m0 0h2m4 0h2m0 0h2m0 0h2m-1 0h2m-1 0h2m2 0h2m-1 0h2m-1 0h2m-1 0h2m-1 0h2m-1 0h2m-1 0h2m1 0h2m0 0h2m2 0h2m1 0h2m-1 0h2m-1 0h2m10 0h2m1 0h2m0 0h2m-134 1h2m6 0h2m1 0h2m4 0h2m3 0h2m4 0h2m11 0h2m8 0h2m2 0h2m1 0h2m1 0h2m-1 0h2m-1 0h2m5 0h2m1 0h2m-1 0h2m1 0h2m-1 0h2m-1 0h2m-1 0h2m-1 0h2m-1 0h2m-1 0h2m3 0h2m-1 0h2m-1 0h2m-1 0h2m-1 0h2m-1 0h2m-1 0h2m2 0h2m-1 0h2m7 0h2m2 0h2m-1 0h2m-1 0h2m1 0h2m-1 0h2m0 0h2m-1 0h2m0 0h2m-1 0h2m-1 0h2m82 0h2m-224 1h2m16 0h2m1 0h2m11 0h2m0 0h2m-1 0h2m2 0h2m-1 0h2m3 0h2m3 0h2m0 0h2m2 0h2m2 0h2m6 0h2m-1 0h2m0 0h2m6 0h2m0 0h2m2 0h2m0 0h2m2 0h2m1 0h2m1 0h2m2 0h2m-1 0h2m0 0h2m-1 0h2m-1 0h2m-1 0h2m-1 0h2m4 0h2m-1 0h2m-1 0h2m1 0h2m0 0h2m3 0h2m-1 0h2m-1 0h2m0 0h2m0 0h2m0 0h2m0 0h2m25 0h2m-148 1h2m2 0h2m5 0h2m0 0h2m2 0h2m1 0h2m-1 0h2m13 0h2m0 0h2m4 0h2m7 0h2m2 0h2m5 0h2m0 0h2m-1 0h2m-1 0h2m-1 0h2m-1 0h2m-1 0h2m1 0h2m3 0h2m1 0h2m-1 0h2m0 0h2m1 0h2m-1 0h2m0 0h2m-1 0h2m1 0h2m0 0h2m-1 0h2m0 0h2m0 0h2m2 0h2m1 0h2m0 0h2m5 0h2m-1 0h2m1 0h2m9 0h2m53 0h2m-211 1h2m14 0h2m8 0h2m12 0h2m4 0h2m-1 0h2m14 0h2m2 0h2m6 0h2m4 0h2m2 0h2m-1 0h2m-1 0h2m-1 0h2m0 0h2m1 0h2m3 0h2m1 0h2m-1 0h2m-1 0h2m-1 0h2m0 0h2m-1 0h2m0 0h2m3 0h2m5 0h2m0 0h2m1 0h2m0 0h2m7 0h2m3 0h2m-120 1h2m4 0h2m5 0h2m8 0h2m1 0h2m20 0h2m-1 0h2m4 0h2m2 0h2m4 0h2m2 0h2m-1 0h2m-1 0h2m0 0h2m-1 0h2m-1 0h2m5 0h2m2 0h2m1 0h2m1 0h2m0 0h2m-1 0h2m-1 0h2m1 0h2m1 0h2m-1 0h2m2 0h2m2 0h2m7 0h2m0 0h2m4 0h2m-151 1h2m14 0h2m0 0h2m21 0h2m-1 0h2m4 0h2m3 0h2m-1 0h2m3 0h2m8 0h2m-1 0h2m0 0h2m3 0h2m3 0h2m0 0h2m-1 0h2m-1 0h2m1 0h2m3 0h2m8 0h2m-1 0h2m-1 0h2m2 0h2m0 0h2m3 0h2m-1 0h2m-1 0h2m9 0h2m-1 0h2m1 0h2m15 0h2m36 0h2m-180 1h2m1 0h2m4 0h2m9 0h2m1 0h2m1 0h2m9 0h2m2 0h2m8 0h2m10 0h2m1 0h2m3 0h2m1 0h2m1 0h2m0 0h2m0 0h2m-1 0h2m-1 0h2m0 0h2m0 0h2m-1 0h2m15 0h2m-1 0h2m3 0h2m0 0h2m3 0h2m0 0h2m4 0h2m7 0h2m5 0h2m-161 1h2m36 0h2m9 0h2m0 0h2m5 0h2m9 0h2m11 0h2m-1 0h2m2 0h2m5 0h2m5 0h2m1 0h2m1 0h2m-1 0h2m0 0h2m7 0h2m-1 0h2m2 0h2m5 0h2m-1 0h2m-1 0h2m1 0h2m57 0h2m-133 1h2m-1 0h2m-1 0h2m0 0h2m7 0h2m3 0h2m0 0h2m5 0h2m4 0h2m0 0h2m3 0h2m1 0h2m2 0h2m-1 0h2m-1 0h2m0 0h2m5 0h2m24 0h2m-146 1h2m-1 0h2m22 0h2m10 0h2m3 0h2m18 0h2m2 0h2m1 0h2m7 0h2m18 0h2m0 0h2m3 0h2m-1 0h2m0 0h2m-1 0h2m1 0h2m-1 0h2m-1 0h2m1 0h2m-1 0h2m12 0h2m-117 1h2m31 0h2m9 0h2m8 0h2m15 0h2m3 0h2m1 0h2m0 0h2m0 0h2m6 0h2m0 0h2m4 0h2m0 0h2m6 0h2m-125 1h2m22 0h2m0 0h2m13 0h2m2 0h2m1 0h2m23 0h2m13 0h2m7 0h2m2 0h2m5 0h2m4 0h2m1 0h2m-113 1h2m6 0h2m18 0h2m32 0h2m3 0h2m7 0h2m8 0h2m1 0h2m-1 0h2m1 0h2m-1 0h2m-1 0h2m-1 0h2m5 0h2m0 0h2m-1 0h2m42 0h2m-144 1h2m20 0h2m12 0h2m13 0h2m4 0h2m5 0h2m-1 0h2m-76 1h2m14 0h2m45 0h2m18 0h2m2 0h2m1 0h2m3 0h2m103 0h2m-210 1h2m5 0h2m72 0h2m0 0h2m24 0h2m-115 1h2m67 0h2m1 0h2m1 0h2m3 0h2m22 0h2m-1 0h2m-101 1h2m15 0h2m34 0h2m-4 1h2m24 0h2m6 0h2m-84 1h2m39 0h2m46 0h2m4 0h2m15 0h2m100 0h2m-141 1h2m7 0h2m40 0h2m-136 1h2m156 1h2m-152 2h2m0 0h2m108 0h2m-123 1h2m0 0h2m0 0h2m2 0h2m-7 1h2m1 0h2m123 0h2m-127 1h2m-2 1h2m90 0h2m-98 1h2m-5 1h2m-1 0h2m4 0h2m28 0h2m-35 1h2m0 0h2m122 1h2m-129 1h2m4 1h2" stroke="#000" stroke-width="1.4" opacity="0.5"/><path transform="scale(.5)" d="M236 57h2m74 8h2m-199 16h2m119 0h2m-27 11h2m107 7h2m-173 6h2m-28 1h2m181 7h2m-109 26h2m32 2h2m-50 8h2m106 2h2m-97 2h2m130 0h2m-57 1h2m27 2h2m-78 3h2m106 0h2m-188 4h2m99 0h2m-29 1h2m34 0h2m-11 1h2m-130 2h2m93 0h2m31 0h2m-113 2h2m25 1h2m32 0h2m15 0h2m-89 1h2m7 0h2m3 0h2m4 0h2m9 1h2m7 0h2m27 0h2m19 0h2m119 0h2m-43 1h2m-108 2h2m70 0h2m1 0h2m-150 1h2m61 0h2m76 0h2m-104 1h2m-1 0h2m20 0h2m-48 1h2m105 0h2m2 1h2m-5 1h2m-127 2h2m14 1h2m124 0h2m-75 1h2m48 0h2m8 0h2m21 1h2m4 0h2m-115 1h2m54 0h2m56 0h2m-172 1h2m60 0h2m-23 1h2m10 0h2m11 0h2m1 1h2m47 1h2m-93 1h2m65 0h2m81 0h2m26 0h2m18 0h2m-97 1h2m-6 1h2m25 0h2m75 0h2m-180 1h2m102 0h2m-54 1h2m36 0h2m0 0h2m64 1h2m-181 3h2m-10 1h2m48 0h2m34 0h2m17 0h2m-84 2h2m17 0h2m13 0h2m54 0h2m36 0h2m-123 1h2m15 0h2m0 0h2m26 0h2m21 0h2m-65 1h2m66 0h2m30 0h2m38 0h2m-97 1h2m5 0h2m13 0h2m44 0h2m-86 1h2m103 0h2m32 0h2m-166 1h2m134 0h2m-134 1h2m1 0h2m8 0h2m5 0h2m33 0h2m0 0h2m9 0h2m76 0h2m-214 1h2m38 0h2m-1 0h2m78 0h2m-29 1h2m52 0h2m24 0h2m-117 1h2m3 0h2m21 0h2m57 0h2m9 0h2m35 0h2m-54 1h2m10 0h2m37 0h2m13 0h2m-117 1h2m3 0h2m-86 1h2m52 0h2m40 0h2m33 0h2m-100 1h2m18 0h2m48 0h2m15 0h2m40 0h2m19 0h2m19 0h2m-207 1h2m10 0h2m30 0h2m65 0h2m13 0h2m53 0h2m22 0h2m-150 1h2m29 0h2m33 0h2m71 0h2m-182 1h2m13 0h2m69 0h2m20 0h2m34 0h2m7 0h2m13 0h2m-155 1h2m6 0h2m48 0h2m-74 1h2m7 0h2m77 0h2m43 0h2m27 0h2m7 0h2m32 0h2m-212 1h2m42 0h2m18 0h2m16 0h2m35 0h2m0 0h2m4 0h2m6 0h2m5 0h2m49 0h2m-198 1h2m8 0h2m76 0h2m60 0h2m-1 0h2m-1 0h2m5 0h2m34 0h2m-163 1h2m17 0h2m90 0h2m15 0h2m2 0h2m25 0h2m11 0h2m-201 1h2m26 0h2m12 0h2m3 0h2m57 0h2m6 0h2m5 0h2m20 0h2m5 0h2m-140 1h2m0 0h2m17 0h2m10 0h2m1 0h2m18 0h2m17 0h2m1 0h2m39 0h2m24 0h2m6 0h2m20 0h2m-183 1h2m10 0h2m19 0h2m49 0h2m15 0h2m12 0h2m7 0h2m-1 0h2m8 0h2m-1 0h2m2 0h2m8 0h2m2 0h2m1 0h2m7 0h2m-143 1h2m3 0h2m19 0h2m8 0h2m17 0h2m28 0h2m3 0h2m1 0h2m22 0h2m45 0h2m-196 1h2m4 0h2m1 0h2m10 0h2m-1 0h2m22 0h2m26 0h2m47 0h2m2 0h2m0 0h2m-1 0h2m1 0h2m11 0h2m1 0h2m0 0h2m5 0h2m3 0h2m27 0h2m-209 1h2m10 0h2m15 0h2m-1 0h2m3 0h2m21 0h2m49 0h2m6 0h2m-1 0h2m2 0h2m0 0h2m12 0h2m0 0h2m9 0h2m4 0h2m-135 1h2m-1 0h2m2 0h2m0 0h2m6 0h2m7 0h2m9 0h2m19 0h2m45 0h2m2 0h2m6 0h2m4 0h2m-1 0h2m10 0h2m0 0h2m5 0h2m7 0h2m2 0h2m-163 1h2m5 0h2m2 0h2m3 0h2m1 0h2m0 0h2m8 0h2m1 0h2m26 0h2m8 0h2m9 0h2m5 0h2m12 0h2m7 0h2m14 0h2m4 0h2m1 0h2m0 0h2m3 0h2m0 0h2m-1 0h2m2 0h2m-175 1h2m33 0h2m2 0h2m5 0h2m1 0h2m3 0h2m1 0h2m10 0h2m6 0h2m20 0h2m13 0h2m7 0h2m8 0h2m-1 0h2m0 0h2m0 0h2m2 0h2m10 0h2m2 0h2m3 0h2m7 0h2m-1 0h2m-169 1h2m6 0h2m6 0h2m1 0h2m-1 0h2m1 0h2m-1 0h2m0 0h2m0 0h2m-1 0h2m-1 0h2m2 0h2m-1 0h2m27 0h2m4 0h2m27 0h2m5 0h2m11 0h2m-1 0h2m1 0h2m-1 0h2m10 0h2m4 0h2m2 0h2m-1 0h2m0 0h2m4 0h2m6 0h2m4 0h2m20 0h2m-194 1h2m0 0h2m8 0h2m-1 0h2m3 0h2m7 0h2m0 0h2m1 0h2m5 0h2m5 0h2m1 0h2m-1 0h2m1 0h2m5 0h2m8 0h2m5 0h2m3 0h2m-1 0h2m7 0h2m2 0h2m13 0h2m7 0h2m-1 0h2m1 0h2m0 0h2m-1 0h2m2 0h2m0 0h2m0 0h2m1 0h2m0 0h2m-1 0h2m0 0h2m-1 0h2m2 0h2m0 0h2m1 0h2m0 0h2m9 0h2m-171 1h2m6 0h2m12 0h2m0 0h2m0 0h2m-1 0h2m10 0h2m2 0h2m1 0h2m9 0h2m11 0h2m4 0h2m2 0h2m22 0h2m1 0h2m2 0h2m7 0h2m5 0h2m0 0h2m3 0h2m1 0h2m0 0h2m1 0h2m0 0h2m0 0h2m-1 0h2m-1 0h2m3 0h2m5 0h2m6 0h2m2 0h2m12 0h2m-167 1h2m-1 0h2m-1 0h2m10 0h2m6 0h2m4 0h2m3 0h2m3 0h2m-1 0h2m6 0h2m21 0h2m11 0h2m7 0h2m1 0h2m3 0h2m0 0h2m-1 0h2m6 0h2m10 0h2m4 0h2m2 0h2m0 0h2m2 0h2m-1 0h2m4 0h2m3 0h2m3 0h2m-1 0h2m4 0h2m-189 1h2m15 0h2m3 0h2m-1 0h2m-1 0h2m8 0h2m0 0h2m-1 0h2m-1 0h2m0 0h2m2 0h2m1 0h2m-1 0h2m2 0h2m-1 0h2m1 0h2m1 0h2m0 0h2m5 0h2m8 0h2m14 0h2m7 0h2m7 0h2m7 0h2m7 0h2m1 0h2m2 0h2m2 0h2m-1 0h2m-1 0h2m2 0h2m-1 0h2m0 0h2m-1 0h2m12 0h2m-1 0h2m5 0h2m9 0h2m12 0h2m-183 1h2m8 0h2m4 0h2m2 0h2m0 0h2m0 0h2m0 0h2m10 0h2m-1 0h2m2 0h2m26 0h2m4 0h2m4 0h2m-1 0h2m5 0h2m-1 0h2m2 0h2m2 0h2m-1 0h2m-1 0h2m2 0h2m-1 0h2m8 0h2m-1 0h2m2 0h2m5 0h2m12 0h2m-1 0h2m2 0h2m20 0h2m-181 1h2m0 0h2m5 0h2m-1 0h2m0 0h2m3 0h2m2 0h2m0 0h2m-1 0h2m0 0h2m-1 0h2m10 0h2m1 0h2m4 0h2m6 0h2m5 0h2m-1 0h2m11 0h2m12 0h2m2 0h2m2 0h2m2 0h2m0 0h2m3 0h2m2 0h2m0 0h2m-1 0h2m-1 0h2m-1 0h2m-1 0h2m3 0h2m0 0h2m0 0h2m-1 0h2m-1 0h2m2 0h2m-1 0h2m-1 0h2m-1 0h2m0 0h2m12 0h2m3 0h2m0 0h2m6 0h2m2 0h2m-180 1h2m-1 0h2m-1 0h2m23 0h2m-1 0h2m0 0h2m10 0h2m2 0h2m2 0h2m-1 0h2m5 0h2m1 0h2m1 0h2m5 0h2m3 0h2m7 0h2m0 0h2m1 0h2m1 0h2m-1 0h2m9 0h2m0 0h2m1 0h2m0 0h2m0 0h2m-1 0h2m-1 0h2m1 0h2m5 0h2m3 0h2m1 0h2m0 0h2m-1 0h2m4 0h2m3 0h2m3 0h2m4 0h2m37 0h2m-208 1h2m13 0h2m3 0h2m-1 0h2m8 0h2m-1 0h2m-1 0h2m0 0h2m1 0h2m0 0h2m1 0h2m8 0h2m-1 0h2m5 0h2m6 0h2m0 0h2m0 0h2m0 0h2m9 0h2m3 0h2m1 0h2m3 0h2m2 0h2m6 0h2m0 0h2m4 0h2m3 0h2m-1 0h2m5 0h2m1 0h2m2 0h2m0 0h2m1 0h2m7 0h2m9 0h2m0 0h2m-148 1h2m-1 0h2m8 0h2m3 0h2m2 0h2m1 0h2m4 0h2m7 0h2m2 0h2m0 0h2m-1 0h2m-1 0h2m0 0h2m2 0h2m6 0h2m1 0h2m10 0h2m3 0h2m0 0h2m-1 0h2m-1 0h2m-1 0h2m-1 0h2m-1 0h2m2 0h2m2 0h2m2 0h2m1 0h2m-1 0h2m-1 0h2m-1 0h2m0 0h2m-1 0h2m2 0h2m1 0h2m0 0h2m-1 0h2m2 0h2m1 0h2m3 0h2m1 0h2m8 0h2m-170 1h2m9 0h2m4 0h2m3 0h2m0 0h2m-1 0h2m-1 0h2m1 0h2m14 0h2m-1 0h2m-1 0h2m3 0h2m-1 0h2m-1 0h2m0 0h2m0 0h2m3 0h2m10 0h2m1 0h2m0 0h2m3 0h2m-1 0h2m8 0h2m2 0h2m2 0h2m8 0h2m0 0h2m3 0h2m1 0h2m-1 0h2m5 0h2m-1 0h2m2 0h2m0 0h2m0 0h2m9 0h2m12 0h2m5 0h2m-142 1h2m-1 0h2m0 0h2m0 0h2m3 0h2m0 0h2m4 0h2m3 0h2m-1 0h2m-1 0h2m-1 0h2m0 0h2m5 0h2m11 0h2m-1 0h2m-1 0h2m2 0h2m1 0h2m1 0h2m4 0h2m8 0h2m-1 0h2m9 0h2m3 0h2m-1 0h2m-1 0h2m7 0h2m-1 0h2m5 0h2m1 0h2m2 0h2m2 0h2m15 0h2m-154 1h2m-1 0h2m18 0h2m-1 0h2m0 0h2m0 0h2m-1 0h2m-1 0h2m0 0h2m-1 0h2m1 0h2m5 0h2m-1 0h2m9 0h2m2 0h2m4 0h2m2 0h2m2 0h2m-1 0h2m2 0h2m-1 0h2m5 0h2m-1 0h2m3 0h2m-1 0h2m-1 0h2m1 0h2m0 0h2m0 0h2m-1 0h2m0 0h2m0 0h2m-1 0h2m3 0h2m0 0h2m0 0h2m-1 0h2m3 0h2m7 0h2m18 0h2m-153 1h2m2 0h2m5 0h2m1 0h2m5 0h2m4 0h2m-1 0h2m3 0h2m0 0h2m2 0h2m0 0h2m0 0h2m4 0h2m10 0h2m4 0h2m3 0h2m6 0h2m4 0h2m-1 0h2m0 0h2m0 0h2m0 0h2m0 0h2m0 0h2m1 0h2m-1 0h2m-1 0h2m-1 0h2m0 0h2m-1 0h2m-1 0h2m3 0h2m-1 0h2m4 0h2m3 0h2m9 0h2m-1 0h2m0 0h2m-154 1h2m2 0h2m2 0h2m3 0h2m5 0h2m7 0h2m2 0h2m0 0h2m6 0h2m1 0h2m0 0h2m-1 0h2m9 0h2m0 0h2m8 0h2m7 0h2m-1 0h2m-1 0h2m-1 0h2m-1 0h2m0 0h2m-1 0h2m2 0h2m-1 0h2m-1 0h2m3 0h2m4 0h2m-1 0h2m0 0h2m1 0h2m-1 0h2m0 0h2m0 0h2m4 0h2m-1 0h2m-1 0h2m4 0h2m0 0h2m-1 0h2m3 0h2m1 0h2m0 0h2m0 0h2m-121 1h2m1 0h2m-1 0h2m-1 0h2m0 0h2m2 0h2m1 0h2m1 0h2m0 0h2m-1 0h2m3 0h2m0 0h2m1 0h2m-1 0h2m-1 0h2m0 0h2m0 0h2m0 0h2m2 0h2m2 0h2m1 0h2m11 0h2m1 0h2m0 0h2m1 0h2m0 0h2m-1 0h2m1 0h2m-1 0h2m2 0h2m2 0h2m-1 0h2m-1 0h2m0 0h2m-1 0h2m0 0h2m0 0h2m0 0h2m0 0h2m-1 0h2m11 0h2m6 0h2m0 0h2m-148 1h2m22 0h2m-1 0h2m-1 0h2m4 0h2m-1 0h2m-1 0h2m-1 0h2m3 0h2m10 0h2m-1 0h2m3 0h2m3 0h2m1 0h2m5 0h2m0 0h2m5 0h2m4 0h2m0 0h2m0 0h2m-1 0h2m-1 0h2m-1 0h2m0 0h2m-1 0h2m1 0h2m0 0h2m-1 0h2m-1 0h2m1 0h2m-1 0h2m0 0h2m-1 0h2m1 0h2m2 0h2m-1 0h2m-1 0h2m-1 0h2m-1 0h2m-1 0h2m4 0h2m11 0h2m37 0h2m-141 1h2m6 0h2m13 0h2m-1 0h2m-1 0h2m1 0h2m1 0h2m1 0h2m-1 0h2m1 0h2m-1 0h2m-1 0h2m2 0h2m-1 0h2m0 0h2m2 0h2m2 0h2m-1 0h2m-1 0h2m2 0h2m0 0h2m-1 0h2m-1 0h2m-1 0h2m1 0h2m3 0h2m1 0h2m1 0h2m-1 0h2m0 0h2m8 0h2m-144 1h2m9 0h2m8 0h2m2 0h2m6 0h2m3 0h2m1 0h2m0 0h2m3 0h2m13 0h2m1 0h2m-1 0h2m-1 0h2m-1 0h2m5 0h2m-1 0h2m-1 0h2m3 0h2m5 0h2m-1 0h2m-1 0h2m1 0h2m1 0h2m-1 0h2m2 0h2m1 0h2m-1 0h2m-1 0h2m1 0h2m-1 0h2m-1 0h2m0 0h2m-1 0h2m0 0h2m-1 0h2m-1 0h2m-1 0h2m-1 0h2m0 0h2m1 0h2m2 0h2m4 0h2m2 0h2m29 0h2m-165 1h2m0 0h2m13 0h2m3 0h2m1 0h2m9 0h2m5 0h2m7 0h2m4 0h2m-1 0h2m0 0h2m-1 0h2m2 0h2m1 0h2m3 0h2m-1 0h2m-1 0h2m2 0h2m1 0h2m-1 0h2m-1 0h2m0 0h2m-1 0h2m-1 0h2m-1 0h2m0 0h2m1 0h2m-1 0h2m-1 0h2m0 0h2m-1 0h2m-1 0h2m-1 0h2m-1 0h2m-1 0h2m1 0h2m-1 0h2m-1 0h2m-1 0h2m0 0h2m3 0h2m-1 0h2m0 0h2m1 0h2m-1 0h2m0 0h2m13 0h2m-1 0h2m2 0h2m-132 1h2m0 0h2m-1 0h2m4 0h2m16 0h2m-1 0h2m0 0h2m-1 0h2m-1 0h2m-1 0h2m0 0h2m3 0h2m8 0h2m-1 0h2m4 0h2m1 0h2m-1 0h2m0 0h2m5 0h2m3 0h2m2 0h2m-1 0h2m1 0h2m1 0h2m-1 0h2m-1 0h2m-1 0h2m-1 0h2m-1 0h2m5 0h2m4 0h2m1 0h2m7 0h2m-1 0h2m5 0h2m75 0h2m-226 1h2m8 0h2m7 0h2m14 0h2m3 0h2m3 0h2m8 0h2m1 0h2m6 0h2m-1 0h2m0 0h2m-1 0h2m-1 0h2m2 0h2m0 0h2m7 0h2m-1 0h2m-1 0h2m1 0h2m1 0h2m-1 0h2m1 0h2m0 0h2m-1 0h2m-1 0h2m-1 0h2m0 0h2m-1 0h2m-1 0h2m3 0h2m1 0h2m1 0h2m0 0h2m8 0h2m-1 0h2m1 0h2m3 0h2m-137 1h2m13 0h2m21 0h2m6 0h2m13 0h2m3 0h2m0 0h2m-1 0h2m1 0h2m0 0h2m1 0h2m0 0h2m0 0h2m-1 0h2m2 0h2m0 0h2m4 0h2m0 0h2m-1 0h2m2 0h2m0 0h2m3 0h2m1 0h2m2 0h2m16 0h2m65 0h2m11 0h2m-189 1h2m0 0h2m1 0h2m20 0h2m1 0h2m1 0h2m18 0h2m-1 0h2m2 0h2m-1 0h2m8 0h2m0 0h2m-1 0h2m-1 0h2m3 0h2m0 0h2m-1 0h2m-1 0h2m0 0h2m1 0h2m0 0h2m3 0h2m4 0h2m-1 0h2m0 0h2m2 0h2m-120 1h2m4 0h2m27 0h2m17 0h2m4 0h2m-1 0h2m2 0h2m-1 0h2m6 0h2m4 0h2m1 0h2m0 0h2m-1 0h2m6 0h2m37 0h2m17 0h2m45 0h2m9 0h2m-210 1h2m10 0h2m8 0h2m3 0h2m0 0h2m4 0h2m0 0h2m16 0h2m7 0h2m1 0h2m-1 0h2m1 0h2m-1 0h2m-1 0h2m-1 0h2m1 0h2m-1 0h2m-1 0h2m-1 0h2m0 0h2m-1 0h2m0 0h2m2 0h2m7 0h2m5 0h2m-1 0h2m15 0h2m-72 1h2m0 0h2m-1 0h2m6 0h2m2 0h2m0 0h2m1 0h2m-1 0h2m-1 0h2m1 0h2m7 0h2m25 0h2m3 0h2m21 0h2m48 0h2m-215 1h2m17 0h2m1 0h2m17 0h2m4 0h2m2 0h2m15 0h2m1 0h2m1 0h2m0 0h2m11 0h2m0 0h2m-1 0h2m2 0h2m13 0h2m3 0h2m-1 0h2m0 0h2m8 0h2m-125 1h2m75 0h2m1 0h2m0 0h2m1 0h2m0 0h2m0 0h2m-1 0h2m8 0h2m1 0h2m0 0h2m-119 1h2m15 0h2m12 0h2m0 0h2m2 0h2m7 0h2m11 0h2m13 0h2m12 0h2m2 0h2m-1 0h2m-1 0h2m-1 0h2m4 0h2m7 0h2m0 0h2m5 0h2m10 0h2m42 0h2m35 0h2m-163 1h2m23 0h2m1 0h2m8 0h2m2 0h2m0 0h2m10 0h2m7 0h2m11 0h2m26 0h2m37 0h2m-181 1h2m59 0h2m31 0h2m9 0h2m-1 0h2m101 0h2m-227 1h2m55 0h2m5 0h2m22 0h2m11 0h2m7 0h2m1 0h2m51 0h2m-78 1h2m0 0h2m12 0h2m-111 1h2m59 0h2m56 0h2m-111 1h2m1 0h2m93 0h2m11 0h2m-116 1h2m-1 0h2m5 0h2m0 0h2m2 0h2m45 0h2m19 0h2m3 0h2m-56 1h2m-1 0h2m41 0h2m46 0h2m-127 1h2m-3 1h2m26 0h2m-25 1h2m106 0h2m-118 1h2m4 0h2m-4 1h2m-1 1h2m1 0h2m-1 1h2m1 0h2m56 0h2m-69 1h2m78 0h2m-77 2h2m22 0h2m-30 1h2m1 0h2m-1 0h2m0 1h2" stroke="#000" stroke-width="1.4" opacity="0.5"/><path d="M53.8 24.2L177.5 24.2" stroke="#bdbdbd" stroke-width="0.8"/><path d="M177.5 24.2L177.5 142.5" stroke="#bdbdbd" stroke-width="0.8"/><path d="M53.8 24.2L53.8 142.5" stroke="#9a9a9a" stroke-width="0.9"/><path d="M53.8 142.5L177.5 142.5" stroke="#c4c4c4" stroke-width="0.9"/><path transform="scale(.5)" d="M352 162h2m-2 25h2m-2 2h2m-2 1h2m-2 1h2m-1 2h2m-3 1h2m-2 1h2m-1 7h2m-2 4h2m-2 3h2m-3 2h2m-1 2h2m-3 1h2m-2 4h2m-2 1h2m-1 0h2m-2 2h2m-3 1h2m-2 4h2m-1 2h2m-3 5h2m-1 0h2m-2 16h2m-3 19h2" stroke="#000" stroke-width="1.8" opacity="0.45"/><path transform="scale(.5)" d="M353 187h2m-3 2h2m-2 7h2m-2 2h2m-2 1h2m-2 5h2m-1 0h2m-3 2h2m-2 1h2m-1 0h2m-3 6h2m-1 2h2m-3 5h2m-2 1h2m-2 2h2m-2 4h2m-1 0h2m-3 2h2m-2 3h2m-1 4h2m-3 2h2m-1 3h2m-3 3h2m-1 0h2m-2 3h2m-2 4h2m-2 13h2" stroke="#000" stroke-width="1.8" opacity="0.45"/><path d="M48.6 142.3L53.6 142.3M48.6 109.1L53.6 109.1M48.6 75.9L53.6 75.9M48.6 42.7L53.6 42.7" stroke="#1a1a1a" stroke-width="1.8"/><path d="M51.5 135.7L53.6 135.7M51.5 129L53.6 129M51.5 122.4L53.6 122.4M51.5 115.7L53.6 115.7M51.5 102.5L53.6 102.5M51.5 95.8L53.6 95.8M51.5 89.2L53.6 89.2M51.5 82.5L53.6 82.5M51.5 69.3L53.6 69.3M51.5 62.6L53.6 62.6M51.5 56L53.6 56M51.5 49.3L53.6 49.3M51.5 36.1L53.6 36.1M51.5 29.4L53.6 29.4" stroke="#3a3a3a" stroke-width="0.9"/><text x="44.2" y="141.7" font-size="7.2" text-anchor="end" fill="#1e1e1e" stroke="#1e1e1e" stroke-width="0.14">0</text><text x="44.2" y="114.2" font-size="7.2" text-anchor="end" fill="#1e1e1e" stroke="#1e1e1e" stroke-width="0.14">50K</text><text x="44.2" y="81" font-size="7.2" text-anchor="end" fill="#1e1e1e" stroke="#1e1e1e" stroke-width="0.14">100K</text><text x="44.2" y="47.8" font-size="7.2" text-anchor="end" fill="#1e1e1e" stroke="#1e1e1e" stroke-width="0.14">150K</text><path d="M54.3 143.1L54.3 148.1M85.3 143.1L85.3 148.1M116.3 143.1L116.3 148.1M147.3 143.1L147.3 148.1" stroke="#1a1a1a" stroke-width="1.8"/><path d="M60.5 143.1L60.5 145.1M66.7 143.1L66.7 145.1M72.9 143.1L72.9 145.1M79.1 143.1L79.1 145.1M91.5 143.1L91.5 145.1M97.7 143.1L97.7 145.1M103.9 143.1L103.9 145.1M110.1 143.1L110.1 145.1M122.5 143.1L122.5 145.1M128.7 143.1L128.7 145.1M134.9 143.1L134.9 145.1M141.1 143.1L141.1 145.1M153.5 143.1L153.5 145.1M159.7 143.1L159.7 145.1M165.9 143.1L165.9 145.1M172.1 143.1L172.1 145.1" stroke="#3a3a3a" stroke-width="0.9"/><text x="54.9" y="164.7" font-size="7.2" text-anchor="middle" fill="#1e1e1e" stroke="#1e1e1e" stroke-width="0.14">0</text><text x="81.9" y="164.7" font-size="7.2" text-anchor="middle" fill="#1e1e1e" stroke="#1e1e1e" stroke-width="0.14">50K</text><text x="112.9" y="164.7" font-size="7.2" text-anchor="middle" fill="#1e1e1e" stroke="#1e1e1e" stroke-width="0.14">100K</text><text x="143.9" y="164.7" font-size="7.2" text-anchor="middle" fill="#1e1e1e" stroke="#1e1e1e" stroke-width="0.14">150K</text><path d="M91.5 123.8L97.4 112.8L110.1 100.8L128.7 92L147.3 91.4L168.1 95.8L170.3 111.7L159.3 121.6L140.7 129.9L114.4 134.3L98 134.3Z" stroke="#2a2a2a" stroke-width="1.0" fill="none" stroke-linejoin="round"/><text x="115.3" y="179.7" font-size="9.6" text-anchor="middle" textLength="26.8" lengthAdjust="spacingAndGlyphs" fill="#1e1e1e" stroke="#1e1e1e" stroke-width="0.22">FSC-A</text><text x="20.9" y="82.7" font-size="9.6" text-anchor="middle" textLength="26.4" lengthAdjust="spacingAndGlyphs" transform="rotate(-90 20.9 82.7)" fill="#1e1e1e" stroke="#1e1e1e" stroke-width="0.22">SSC-A</text><text x="82" y="60.3" font-size="6.0" text-anchor="middle" fill="#1e1e1e" stroke="#1e1e1e" stroke-width="0.14">HL-60</text><text x="82" y="67.7" font-size="6.0" text-anchor="middle" fill="#1e1e1e" stroke="#1e1e1e" stroke-width="0.14">55,2</text><ellipse cx="112.2" cy="311.8" rx="17.6" ry="4.8" transform="rotate(-10 112.2 311.8)" fill="#000" opacity="0.75" filter="url(#b4)"/><ellipse cx="139.9" cy="302.7" rx="13.9" ry="3.2" transform="rotate(-20 139.9 302.7)" fill="#000" opacity="0.45" filter="url(#b5)"/><ellipse cx="57.4" cy="324" rx="2.2" ry="3.9" transform="rotate(0 57.4 324)" fill="#000" opacity="0.4" filter="url(#b6)"/><path transform="scale(.5)" d="M200 446h2m11 23h2m-10 5h2m-79 1h2m178 3h2m-35 4h2m-17 1h2m15 1h2m61 18h2m-40 3h2m-121 9h2m9 7h2m92 2h2m-173 3h2m59 0h2m98 1h2m-90 2h2m36 2h2m99 2h2m-188 2h2m200 0h2m-47 1h2m-99 2h2m-81 1h2m28 0h2m95 1h2m18 0h2m-143 3h2m35 0h2m41 0h2m0 1h2m115 0h2m-80 1h2m-21 4h2m-22 1h2m98 0h2m-27 4h2m-91 2h2m27 0h2m-22 1h2m109 0h2m-21 1h2m-75 1h2m14 1h2m-85 1h2m29 0h2m4 0h2m56 0h2m-92 1h2m126 1h2m16 0h2m-116 1h2m73 0h2m-117 2h2m73 0h2m-1 0h2m-46 1h2m35 0h2m74 0h2m-33 1h2m1 0h2m-102 1h2m9 1h2m11 0h2m36 0h2m16 0h2m6 0h2m-56 1h2m40 0h2m73 0h2m-4 1h2m19 0h2m-185 1h2m144 0h2m2 0h2m30 0h2m-217 1h2m13 0h2m22 0h2m17 0h2m48 0h2m94 0h2m0 0h2m-138 1h2m12 0h2m-1 0h2m1 0h2m-76 1h2m1 0h2m70 0h2m43 0h2m-117 1h2m42 0h2m9 0h2m133 0h2m-197 1h2m-1 0h2m30 0h2m16 0h2m25 0h2m8 0h2m47 0h2m58 0h2m-200 1h2m15 0h2m5 0h2m-1 0h2m46 0h2m17 0h2m3 0h2m2 0h2m-111 1h2m40 0h2m0 0h2m74 0h2m63 0h2m-55 1h2m51 0h2m-128 1h2m4 0h2m15 0h2m50 0h2m71 1h2m-199 1h2m46 0h2m45 0h2m34 0h2m-164 1h2m55 0h2m72 0h2m29 0h2m30 0h2m14 0h2m-174 1h2m3 0h2m5 0h2m11 0h2m43 0h2m6 0h2m17 0h2m36 0h2m30 0h2m9 0h2m-130 1h2m16 0h2m84 0h2m-166 1h2m51 0h2m11 0h2m23 0h2m35 0h2m40 0h2m-200 1h2m16 0h2m7 0h2m54 0h2m1 0h2m13 0h2m39 0h2m14 0h2m16 0h2m23 0h2m30 0h2m-209 1h2m1 0h2m9 0h2m3 0h2m58 0h2m84 0h2m12 0h2m3 0h2m3 0h2m-138 1h2m76 0h2m12 0h2m-1 0h2m-89 1h2m7 0h2m2 0h2m21 0h2m59 0h2m14 0h2m8 0h2m-178 1h2m78 0h2m9 0h2m3 0h2m24 0h2m22 0h2m9 0h2m7 0h2m-1 0h2m-112 1h2m-1 0h2m13 0h2m56 0h2m9 0h2m1 0h2m1 0h2m6 0h2m-1 0h2m10 0h2m4 0h2m-165 1h2m-1 0h2m8 0h2m17 0h2m39 0h2m48 0h2m-1 0h2m2 0h2m-1 0h2m4 0h2m0 0h2m0 0h2m20 0h2m-181 1h2m2 0h2m14 0h2m0 0h2m4 0h2m-1 0h2m19 0h2m53 0h2m16 0h2m7 0h2m11 0h2m4 0h2m2 0h2m6 0h2m9 0h2m-179 1h2m2 0h2m2 0h2m9 0h2m1 0h2m4 0h2m9 0h2m-1 0h2m4 0h2m20 0h2m75 0h2m8 0h2m6 0h2m-1 0h2m-1 0h2m8 0h2m-1 0h2m-1 0h2m13 0h2m-217 1h2m23 0h2m83 0h2m5 0h2m2 0h2m8 0h2m10 0h2m6 0h2m17 0h2m9 0h2m-1 0h2m8 0h2m1 0h2m2 0h2m1 0h2m-163 1h2m2 0h2m57 0h2m2 0h2m46 0h2m-1 0h2m1 0h2m3 0h2m1 0h2m1 0h2m-1 0h2m0 0h2m8 0h2m0 0h2m7 0h2m5 0h2m5 0h2m-207 1h2m23 0h2m13 0h2m1 0h2m7 0h2m3 0h2m-1 0h2m5 0h2m22 0h2m21 0h2m2 0h2m16 0h2m19 0h2m7 0h2m6 0h2m-1 0h2m8 0h2m3 0h2m2 0h2m1 0h2m0 0h2m4 0h2m-197 1h2m12 0h2m8 0h2m19 0h2m2 0h2m11 0h2m14 0h2m53 0h2m4 0h2m-1 0h2m4 0h2m6 0h2m0 0h2m11 0h2m-1 0h2m5 0h2m9 0h2m-200 1h2m45 0h2m26 0h2m83 0h2m23 0h2m6 0h2m13 0h2m-208 1h2m15 0h2m5 0h2m2 0h2m12 0h2m0 0h2m12 0h2m21 0h2m11 0h2m5 0h2m10 0h2m0 0h2m18 0h2m6 0h2m12 0h2m8 0h2m5 0h2m1 0h2m0 0h2m0 0h2m-1 0h2m14 0h2m5 0h2m1 0h2m24 0h2m-206 1h2m14 0h2m6 0h2m17 0h2m52 0h2m6 0h2m15 0h2m10 0h2m-1 0h2m6 0h2m2 0h2m2 0h2m-1 0h2m11 0h2m-180 1h2m2 0h2m16 0h2m2 0h2m12 0h2m21 0h2m44 0h2m3 0h2m3 0h2m7 0h2m4 0h2m0 0h2m-1 0h2m-1 0h2m-1 0h2m-1 0h2m3 0h2m4 0h2m0 0h2m-1 0h2m-1 0h2m2 0h2m0 0h2m4 0h2m-1 0h2m3 0h2m-1 0h2m14 0h2m-203 1h2m27 0h2m1 0h2m2 0h2m-1 0h2m3 0h2m5 0h2m0 0h2m28 0h2m-1 0h2m6 0h2m25 0h2m16 0h2m-1 0h2m-1 0h2m2 0h2m-1 0h2m0 0h2m0 0h2m0 0h2m3 0h2m8 0h2m-1 0h2m4 0h2m0 0h2m4 0h2m10 0h2m4 0h2m-182 1h2m18 0h2m-1 0h2m15 0h2m0 0h2m28 0h2m30 0h2m6 0h2m10 0h2m-1 0h2m1 0h2m1 0h2m4 0h2m-1 0h2m-1 0h2m0 0h2m1 0h2m3 0h2m-1 0h2m0 0h2m7 0h2m-150 1h2m34 0h2m6 0h2m38 0h2m-1 0h2m0 0h2m6 0h2m-1 0h2m1 0h2m11 0h2m2 0h2m-1 0h2m1 0h2m3 0h2m3 0h2m5 0h2m2 0h2m-1 0h2m6 0h2m-149 1h2m2 0h2m9 0h2m30 0h2m29 0h2m7 0h2m4 0h2m13 0h2m0 0h2m0 0h2m2 0h2m0 0h2m3 0h2m-1 0h2m5 0h2m-1 0h2m-1 0h2m1 0h2m4 0h2m6 0h2m7 0h2m2 0h2m-196 1h2m6 0h2m15 0h2m8 0h2m9 0h2m19 0h2m10 0h2m10 0h2m7 0h2m11 0h2m6 0h2m0 0h2m0 0h2m9 0h2m0 0h2m1 0h2m0 0h2m0 0h2m-1 0h2m-1 0h2m0 0h2m5 0h2m1 0h2m0 0h2m11 0h2m11 0h2m-1 0h2m-170 1h2m13 0h2m1 0h2m10 0h2m26 0h2m6 0h2m0 0h2m2 0h2m6 0h2m11 0h2m2 0h2m2 0h2m-1 0h2m4 0h2m3 0h2m-1 0h2m5 0h2m-1 0h2m0 0h2m-1 0h2m0 0h2m-1 0h2m-1 0h2m-1 0h2m-1 0h2m7 0h2m-1 0h2m0 0h2m0 0h2m0 0h2m8 0h2m2 0h2m6 0h2m2 0h2m8 0h2m24 0h2m-203 1h2m4 0h2m0 0h2m-1 0h2m19 0h2m31 0h2m1 0h2m5 0h2m1 0h2m-1 0h2m-1 0h2m1 0h2m2 0h2m0 0h2m2 0h2m2 0h2m1 0h2m0 0h2m-1 0h2m2 0h2m-1 0h2m5 0h2m3 0h2m5 0h2m0 0h2m-1 0h2m-1 0h2m0 0h2m-1 0h2m-1 0h2m13 0h2m2 0h2m-185 1h2m11 0h2m32 0h2m51 0h2m0 0h2m-1 0h2m-1 0h2m2 0h2m-1 0h2m-1 0h2m-1 0h2m-1 0h2m-1 0h2m2 0h2m2 0h2m2 0h2m2 0h2m2 0h2m0 0h2m5 0h2m0 0h2m-1 0h2m0 0h2m4 0h2m3 0h2m-1 0h2m-1 0h2m0 0h2m5 0h2m9 0h2m2 0h2m-189 1h2m49 0h2m8 0h2m3 0h2m0 0h2m18 0h2m7 0h2m6 0h2m0 0h2m0 0h2m0 0h2m0 0h2m-1 0h2m-1 0h2m0 0h2m-1 0h2m3 0h2m-1 0h2m-1 0h2m-1 0h2m3 0h2m1 0h2m-1 0h2m1 0h2m1 0h2m4 0h2m0 0h2m-1 0h2m-1 0h2m-1 0h2m0 0h2m-1 0h2m4 0h2m9 0h2m16 0h2m-172 1h2m24 0h2m1 0h2m-1 0h2m10 0h2m4 0h2m16 0h2m15 0h2m-1 0h2m3 0h2m0 0h2m-1 0h2m3 0h2m-1 0h2m0 0h2m-1 0h2m-1 0h2m2 0h2m4 0h2m0 0h2m-1 0h2m0 0h2m2 0h2m-1 0h2m1 0h2m0 0h2m-1 0h2m2 0h2m-1 0h2m-1 0h2m-1 0h2m3 0h2m1 0h2m7 0h2m2 0h2m2 0h2m10 0h2m27 0h2m-204 1h2m4 0h2m7 0h2m13 0h2m20 0h2m16 0h2m8 0h2m2 0h2m-1 0h2m-1 0h2m0 0h2m-1 0h2m-1 0h2m-1 0h2m0 0h2m-1 0h2m3 0h2m-1 0h2m0 0h2m-1 0h2m-1 0h2m-1 0h2m0 0h2m0 0h2m-1 0h2m0 0h2m0 0h2m0 0h2m1 0h2m2 0h2m-1 0h2m-1 0h2m1 0h2m-1 0h2m6 0h2m2 0h2m8 0h2m52 0h2m-209 1h2m17 0h2m3 0h2m20 0h2m0 0h2m10 0h2m12 0h2m1 0h2m2 0h2m1 0h2m-1 0h2m-1 0h2m0 0h2m-1 0h2m0 0h2m-1 0h2m6 0h2m0 0h2m0 0h2m-1 0h2m1 0h2m-1 0h2m0 0h2m2 0h2m-1 0h2m-1 0h2m0 0h2m3 0h2m-1 0h2m-1 0h2m-1 0h2m0 0h2m0 0h2m-1 0h2m2 0h2m0 0h2m28 0h2m4 0h2m-183 1h2m25 0h2m11 0h2m32 0h2m-1 0h2m1 0h2m1 0h2m3 0h2m-1 0h2m-1 0h2m-1 0h2m-1 0h2m0 0h2m-1 0h2m0 0h2m1 0h2m-1 0h2m4 0h2m-1 0h2m0 0h2m-1 0h2m3 0h2m-1 0h2m-1 0h2m-1 0h2m0 0h2m-1 0h2m-1 0h2m5 0h2m-1 0h2m-1 0h2m1 0h2m-1 0h2m-1 0h2m1 0h2m6 0h2m0 0h2m2 0h2m6 0h2m0 0h2m-168 1h2m5 0h2m12 0h2m24 0h2m30 0h2m6 0h2m-1 0h2m4 0h2m0 0h2m2 0h2m-1 0h2m-1 0h2m-1 0h2m0 0h2m-1 0h2m-1 0h2m0 0h2m-1 0h2m-1 0h2m-1 0h2m-1 0h2m-1 0h2m0 0h2m-1 0h2m-1 0h2m-1 0h2m-1 0h2m5 0h2m-1 0h2m1 0h2m0 0h2m-1 0h2m3 0h2m0 0h2m8 0h2m-129 1h2m0 0h2m15 0h2m1 0h2m22 0h2m6 0h2m4 0h2m0 0h2m1 0h2m-1 0h2m-1 0h2m0 0h2m2 0h2m1 0h2m-1 0h2m-1 0h2m-1 0h2m-1 0h2m-1 0h2m-1 0h2m0 0h2m-1 0h2m-1 0h2m-1 0h2m0 0h2m0 0h2m0 0h2m-1 0h2m-1 0h2m-1 0h2m0 0h2m1 0h2m0 0h2m1 0h2m8 0h2m0 0h2m4 0h2m40 0h2m0 0h2m-196 1h2m11 0h2m11 0h2m10 0h2m7 0h2m8 0h2m11 0h2m7 0h2m2 0h2m3 0h2m-1 0h2m1 0h2m-1 0h2m-1 0h2m1 0h2m-1 0h2m1 0h2m-1 0h2m3 0h2m-1 0h2m-1 0h2m-1 0h2m-1 0h2m-1 0h2m-1 0h2m-1 0h2m0 0h2m1 0h2m-1 0h2m-1 0h2m0 0h2m-1 0h2m1 0h2m0 0h2m2 0h2m1 0h2m3 0h2m0 0h2m8 0h2m7 0h2m-171 1h2m25 0h2m23 0h2m7 0h2m31 0h2m1 0h2m1 0h2m0 0h2m-1 0h2m-1 0h2m0 0h2m3 0h2m3 0h2m0 0h2m-1 0h2m-1 0h2m-1 0h2m-1 0h2m-1 0h2m0 0h2m1 0h2m0 0h2m0 0h2m3 0h2m5 0h2m-1 0h2m7 0h2m22 0h2m-159 1h2m15 0h2m8 0h2m3 0h2m3 0h2m25 0h2m2 0h2m1 0h2m-1 0h2m-1 0h2m5 0h2m-1 0h2m1 0h2m-1 0h2m-1 0h2m0 0h2m-1 0h2m-1 0h2m2 0h2m-1 0h2m2 0h2m-1 0h2m-1 0h2m1 0h2m-1 0h2m0 0h2m-1 0h2m-1 0h2m0 0h2m-1 0h2m-1 0h2m0 0h2m-1 0h2m1 0h2m-1 0h2m1 0h2m2 0h2m2 0h2m7 0h2m4 0h2m1 0h2m-150 1h2m17 0h2m10 0h2m8 0h2m14 0h2m6 0h2m0 0h2m-1 0h2m-1 0h2m-1 0h2m5 0h2m1 0h2m-1 0h2m-1 0h2m3 0h2m-1 0h2m-1 0h2m-1 0h2m1 0h2m0 0h2m-1 0h2m0 0h2m-1 0h2m-1 0h2m0 0h2m1 0h2m-1 0h2m0 0h2m0 0h2m3 0h2m1 0h2m4 0h2m0 0h2m1 0h2m-1 0h2m-143 1h2m8 0h2m11 0h2m0 0h2m2 0h2m9 0h2m34 0h2m3 0h2m-1 0h2m-1 0h2m-1 0h2m-1 0h2m0 0h2m1 0h2m0 0h2m2 0h2m-1 0h2m-1 0h2m-1 0h2m-1 0h2m-1 0h2m-1 0h2m-1 0h2m-1 0h2m1 0h2m-1 0h2m-1 0h2m-1 0h2m1 0h2m-1 0h2m0 0h2m0 0h2m0 0h2m1 0h2m-1 0h2m-1 0h2m0 0h2m1 0h2m-1 0h2m11 0h2m-89 1h2m4 0h2m8 0h2m3 0h2m-1 0h2m-1 0h2m4 0h2m-1 0h2m-1 0h2m1 0h2m0 0h2m-1 0h2m-1 0h2m-1 0h2m3 0h2m1 0h2m-1 0h2m-1 0h2m-1 0h2m1 0h2m-1 0h2m0 0h2m0 0h2m-1 0h2m2 0h2m3 0h2m2 0h2m-1 0h2m-1 0h2m1 0h2m-1 0h2m2 0h2m1 0h2m5 0h2m-104 1h2m2 0h2m9 0h2m1 0h2m6 0h2m1 0h2m-1 0h2m0 0h2m0 0h2m0 0h2m-1 0h2m1 0h2m2 0h2m-1 0h2m-1 0h2m-1 0h2m0 0h2m-1 0h2m0 0h2m0 0h2m-1 0h2m-1 0h2m-1 0h2m-1 0h2m-1 0h2m0 0h2m0 0h2m1 0h2m-1 0h2m-1 0h2m2 0h2m-1 0h2m6 0h2m3 0h2m0 0h2m15 0h2m26 0h2m-192 1h2m64 0h2m6 0h2m8 0h2m1 0h2m0 0h2m1 0h2m0 0h2m-1 0h2m2 0h2m-1 0h2m-1 0h2m3 0h2m-1 0h2m0 0h2m-1 0h2m-1 0h2m-1 0h2m0 0h2m-1 0h2m-1 0h2m-1 0h2m0 0h2m0 0h2m1 0h2m0 0h2m0 0h2m5 0h2m4 0h2m-1 0h2m1 0h2m6 0h2m-147 1h2m1 0h2m29 0h2m30 0h2m8 0h2m3 0h2m-1 0h2m1 0h2m-1 0h2m-1 0h2m-1 0h2m1 0h2m0 0h2m-1 0h2m1 0h2m-1 0h2m-1 0h2m0 0h2m0 0h2m0 0h2m-1 0h2m1 0h2m1 0h2m-1 0h2m2 0h2m0 0h2m1 0h2m-1 0h2m4 0h2m25 0h2m-137 1h2m39 0h2m0 0h2m3 0h2m1 0h2m1 0h2m1 0h2m1 0h2m-1 0h2m2 0h2m2 0h2m-1 0h2m3 0h2m-1 0h2m2 0h2m-1 0h2m1 0h2m0 0h2m-1 0h2m1 0h2m0 0h2m-1 0h2m-1 0h2m1 0h2m1 0h2m1 0h2m-1 0h2m4 0h2m2 0h2m2 0h2m4 0h2m-113 1h2m21 0h2m2 0h2m8 0h2m0 0h2m-1 0h2m1 0h2m1 0h2m-1 0h2m1 0h2m3 0h2m-1 0h2m1 0h2m0 0h2m0 0h2m-1 0h2m1 0h2m-1 0h2m-1 0h2m-1 0h2m-1 0h2m0 0h2m-1 0h2m0 0h2m0 0h2m0 0h2m1 0h2m-1 0h2m1 0h2m-1 0h2m96 0h2m-220 1h2m5 0h2m58 0h2m3 0h2m3 0h2m3 0h2m0 0h2m0 0h2m-1 0h2m-1 0h2m1 0h2m0 0h2m3 0h2m5 0h2m1 0h2m2 0h2m0 0h2m6 0h2m-1 0h2m1 0h2m-126 1h2m9 0h2m19 0h2m0 0h2m14 0h2m6 0h2m-1 0h2m6 0h2m7 0h2m2 0h2m1 0h2m-1 0h2m1 0h2m2 0h2m-1 0h2m1 0h2m3 0h2m2 0h2m7 0h2m0 0h2m1 0h2m3 0h2m-1 0h2m7 0h2m8 0h2m-158 1h2m35 0h2m43 0h2m7 0h2m-1 0h2m-1 0h2m2 0h2m6 0h2m1 0h2m2 0h2m4 0h2m-1 0h2m0 0h2m1 0h2m-1 0h2m0 0h2m4 0h2m4 0h2m83 0h2m9 0h2m-209 1h2m9 0h2m7 0h2m1 0h2m6 0h2m24 0h2m1 0h2m1 0h2m0 0h2m4 0h2m-1 0h2m7 0h2m-1 0h2m4 0h2m0 0h2m1 0h2m1 0h2m5 0h2m4 0h2m24 0h2m-161 1h2m4 0h2m23 0h2m0 0h2m10 0h2m20 0h2m20 0h2m2 0h2m-1 0h2m1 0h2m1 0h2m0 0h2m7 0h2m2 0h2m3 0h2m-124 1h2m-1 0h2m1 0h2m-1 0h2m69 0h2m1 0h2m13 0h2m-1 0h2m2 0h2m-1 0h2m1 0h2m2 0h2m-1 0h2m46 0h2m-142 1h2m4 0h2m9 0h2m49 0h2m11 0h2m6 0h2m3 0h2m-1 0h2m96 0h2m-211 1h2m7 0h2m0 0h2m7 0h2m-1 0h2m3 0h2m64 0h2m-1 0h2m1 0h2m29 0h2m93 0h2m-171 1h2m43 0h2m-1 0h2m2 0h2m136 0h2m-243 1h2m3 0h2m2 0h2m14 0h2m2 0h2m0 0h2m1 0h2m10 0h2m8 0h2m22 0h2m1 0h2m6 0h2m4 0h2m6 0h2m17 0h2m-124 1h2m-1 0h2m-1 0h2m-1 0h2m-1 0h2m0 0h2m-1 0h2m1 0h2m17 0h2m9 0h2m42 0h2m15 0h2m-102 1h2m4 0h2m59 0h2m12 0h2m55 0h2m-142 1h2m0 0h2m-1 0h2m0 0h2m-1 0h2m-1 0h2m58 0h2m34 0h2m-104 1h2m2 0h2m-1 0h2m-1 0h2m-10 1h2m0 0h2m27 0h2m34 0h2m7 0h2m5 0h2m-82 1h2m1 0h2m0 0h2m-1 0h2m80 0h2m-86 1h2m0 0h2m0 0h2m33 0h2m-49 1h2m2 0h2m-1 0h2m-1 0h2m6 0h2m70 0h2m2 0h2m134 0h2m-228 1h2m-1 0h2m-1 0h2m4 0h2m0 0h2m-1 0h2m2 0h2m17 0h2m-35 1h2m2 0h2m-1 0h2m0 0h2m-1 0h2m-1 0h2m-13 1h2m2 0h2m1 0h2m0 0h2m-1 0h2m1 0h2m-12 1h2m0 0h2m-1 1h2m0 0h2m173 0h2" stroke="#000" stroke-width="1.4" opacity="0.5"/><path transform="scale(.5)" d="M176 440h2m9 4h2m85 5h2m-151 22h2m50 14h2m159 26h2m-70 2h2m61 3h2m-174 14h2m49 0h2m100 3h2m-102 1h2m11 1h2m25 0h2m50 0h2m-121 3h2m34 2h2m111 3h2m-84 1h2m-11 8h2m-22 1h2m19 0h2m-62 3h2m-7 1h2m27 0h2m-17 1h2m42 0h2m-42 1h2m-12 1h2m85 0h2m-121 1h2m74 0h2m-27 1h2m-1 0h2m-55 1h2m2 0h2m107 1h2m-92 2h2m31 0h2m33 0h2m4 0h2m-140 1h2m48 0h2m72 0h2m-62 1h2m33 0h2m64 0h2m-118 2h2m43 0h2m13 0h2m40 0h2m86 0h2m-170 1h2m131 0h2m8 1h2m-178 1h2m16 0h2m37 0h2m-76 1h2m94 0h2m-69 1h2m1 0h2m167 0h2m-165 1h2m7 0h2m27 0h2m-21 1h2m-71 1h2m119 0h2m7 0h2m59 0h2m-131 1h2m100 0h2m-137 1h2m39 0h2m-23 1h2m34 0h2m30 0h2m-69 1h2m177 0h2m-208 1h2m61 0h2m108 0h2m29 0h2m-192 1h2m3 0h2m114 0h2m22 0h2m-146 1h2m124 0h2m19 0h2m21 0h2m13 0h2m-201 1h2m81 0h2m53 0h2m18 0h2m28 0h2m-198 1h2m6 0h2m5 0h2m136 0h2m5 0h2m1 0h2m0 0h2m0 0h2m-1 0h2m40 0h2m-222 1h2m45 0h2m106 0h2m14 0h2m14 0h2m3 0h2m14 0h2m-204 1h2m41 0h2m7 0h2m10 0h2m103 0h2m4 0h2m30 0h2m-186 1h2m132 0h2m1 0h2m23 0h2m1 0h2m-173 1h2m6 0h2m8 0h2m32 0h2m5 0h2m20 0h2m8 0h2m41 0h2m0 0h2m13 0h2m2 0h2m-1 0h2m4 0h2m-175 1h2m0 0h2m51 0h2m0 0h2m0 0h2m55 0h2m14 0h2m17 0h2m5 0h2m1 0h2m2 0h2m21 0h2m-208 1h2m29 0h2m3 0h2m33 0h2m21 0h2m4 0h2m-1 0h2m25 0h2m30 0h2m4 0h2m15 0h2m3 0h2m12 0h2m-176 1h2m1 0h2m11 0h2m8 0h2m12 0h2m24 0h2m76 0h2m8 0h2m5 0h2m0 0h2m10 0h2m-154 1h2m3 0h2m1 0h2m9 0h2m45 0h2m45 0h2m10 0h2m-1 0h2m0 0h2m1 0h2m1 0h2m-1 0h2m-1 0h2m-1 0h2m11 0h2m-191 1h2m10 0h2m7 0h2m13 0h2m91 0h2m1 0h2m11 0h2m2 0h2m8 0h2m-1 0h2m5 0h2m0 0h2m2 0h2m3 0h2m12 0h2m-194 1h2m4 0h2m23 0h2m0 0h2m90 0h2m7 0h2m0 0h2m1 0h2m-1 0h2m1 0h2m3 0h2m1 0h2m10 0h2m-1 0h2m0 0h2m2 0h2m10 0h2m-207 1h2m14 0h2m9 0h2m0 0h2m9 0h2m42 0h2m0 0h2m70 0h2m4 0h2m4 0h2m1 0h2m21 0h2m13 0h2m2 0h2m-1 0h2m-217 1h2m14 0h2m-1 0h2m6 0h2m50 0h2m3 0h2m0 0h2m55 0h2m7 0h2m-1 0h2m0 0h2m-1 0h2m0 0h2m0 0h2m1 0h2m1 0h2m4 0h2m-1 0h2m3 0h2m7 0h2m4 0h2m11 0h2m2 0h2m4 0h2m-1 0h2m-217 1h2m22 0h2m19 0h2m10 0h2m3 0h2m2 0h2m61 0h2m0 0h2m2 0h2m7 0h2m11 0h2m4 0h2m1 0h2m1 0h2m4 0h2m8 0h2m1 0h2m-168 1h2m8 0h2m1 0h2m26 0h2m7 0h2m4 0h2m56 0h2m5 0h2m1 0h2m13 0h2m1 0h2m2 0h2m2 0h2m-1 0h2m11 0h2m10 0h2m-176 1h2m14 0h2m-1 0h2m2 0h2m-1 0h2m6 0h2m8 0h2m17 0h2m41 0h2m0 0h2m6 0h2m1 0h2m11 0h2m0 0h2m3 0h2m-1 0h2m7 0h2m2 0h2m2 0h2m-1 0h2m2 0h2m1 0h2m6 0h2m0 0h2m2 0h2m17 0h2m-190 1h2m64 0h2m11 0h2m1 0h2m3 0h2m9 0h2m17 0h2m1 0h2m2 0h2m7 0h2m-1 0h2m0 0h2m5 0h2m0 0h2m10 0h2m10 0h2m-193 1h2m18 0h2m6 0h2m16 0h2m64 0h2m18 0h2m2 0h2m3 0h2m4 0h2m1 0h2m2 0h2m6 0h2m-1 0h2m-1 0h2m2 0h2m0 0h2m15 0h2m-176 1h2m12 0h2m17 0h2m-1 0h2m29 0h2m21 0h2m10 0h2m26 0h2m-1 0h2m-1 0h2m4 0h2m3 0h2m2 0h2m2 0h2m-1 0h2m0 0h2m-1 0h2m-1 0h2m3 0h2m8 0h2m-1 0h2m-169 1h2m23 0h2m6 0h2m13 0h2m42 0h2m10 0h2m0 0h2m0 0h2m3 0h2m3 0h2m4 0h2m1 0h2m0 0h2m5 0h2m-1 0h2m0 0h2m-1 0h2m-1 0h2m-1 0h2m-1 0h2m3 0h2m-1 0h2m4 0h2m2 0h2m0 0h2m2 0h2m-154 1h2m-1 0h2m-1 0h2m5 0h2m17 0h2m0 0h2m14 0h2m27 0h2m-1 0h2m8 0h2m-1 0h2m3 0h2m8 0h2m6 0h2m1 0h2m6 0h2m-1 0h2m9 0h2m4 0h2m1 0h2m41 0h2m-223 1h2m16 0h2m2 0h2m9 0h2m1 0h2m14 0h2m8 0h2m3 0h2m13 0h2m4 0h2m3 0h2m3 0h2m18 0h2m2 0h2m1 0h2m5 0h2m0 0h2m-1 0h2m4 0h2m0 0h2m-1 0h2m6 0h2m0 0h2m-1 0h2m0 0h2m0 0h2m-1 0h2m21 0h2m0 0h2m-1 0h2m-178 1h2m22 0h2m11 0h2m23 0h2m2 0h2m19 0h2m0 0h2m8 0h2m6 0h2m1 0h2m2 0h2m2 0h2m1 0h2m3 0h2m0 0h2m4 0h2m5 0h2m-1 0h2m0 0h2m4 0h2m-1 0h2m12 0h2m-1 0h2m2 0h2m1 0h2m-168 1h2m11 0h2m-1 0h2m5 0h2m2 0h2m4 0h2m0 0h2m8 0h2m13 0h2m3 0h2m9 0h2m3 0h2m6 0h2m3 0h2m10 0h2m-1 0h2m3 0h2m1 0h2m5 0h2m-1 0h2m5 0h2m0 0h2m2 0h2m3 0h2m-1 0h2m1 0h2m0 0h2m9 0h2m0 0h2m2 0h2m-163 1h2m0 0h2m3 0h2m-1 0h2m9 0h2m0 0h2m4 0h2m0 0h2m11 0h2m2 0h2m3 0h2m5 0h2m20 0h2m0 0h2m1 0h2m-1 0h2m0 0h2m3 0h2m0 0h2m6 0h2m-1 0h2m-1 0h2m-1 0h2m1 0h2m-1 0h2m1 0h2m-1 0h2m1 0h2m3 0h2m8 0h2m-1 0h2m10 0h2m-1 0h2m2 0h2m-1 0h2m3 0h2m10 0h2m-191 1h2m52 0h2m-1 0h2m18 0h2m12 0h2m15 0h2m8 0h2m3 0h2m0 0h2m-1 0h2m1 0h2m0 0h2m2 0h2m1 0h2m0 0h2m-1 0h2m-1 0h2m-1 0h2m1 0h2m-1 0h2m3 0h2m10 0h2m-1 0h2m3 0h2m-1 0h2m5 0h2m3 0h2m29 0h2m-191 1h2m17 0h2m20 0h2m16 0h2m11 0h2m2 0h2m5 0h2m3 0h2m-1 0h2m1 0h2m2 0h2m2 0h2m0 0h2m-1 0h2m2 0h2m2 0h2m0 0h2m-1 0h2m0 0h2m4 0h2m1 0h2m-1 0h2m12 0h2m0 0h2m0 0h2m0 0h2m-1 0h2m3 0h2m5 0h2m-1 0h2m-1 0h2m12 0h2m-181 1h2m7 0h2m9 0h2m-1 0h2m8 0h2m3 0h2m2 0h2m7 0h2m-1 0h2m13 0h2m2 0h2m3 0h2m-1 0h2m2 0h2m-1 0h2m3 0h2m-1 0h2m0 0h2m2 0h2m2 0h2m0 0h2m0 0h2m-1 0h2m-1 0h2m1 0h2m0 0h2m0 0h2m-1 0h2m-1 0h2m3 0h2m-1 0h2m1 0h2m-1 0h2m0 0h2m8 0h2m3 0h2m-1 0h2m0 0h2m-1 0h2m10 0h2m-150 1h2m13 0h2m26 0h2m5 0h2m1 0h2m9 0h2m5 0h2m-1 0h2m1 0h2m-1 0h2m-1 0h2m2 0h2m-1 0h2m1 0h2m-1 0h2m3 0h2m3 0h2m-1 0h2m-1 0h2m-1 0h2m0 0h2m1 0h2m1 0h2m0 0h2m-1 0h2m3 0h2m0 0h2m-1 0h2m1 0h2m6 0h2m4 0h2m0 0h2m8 0h2m1 0h2m-166 1h2m23 0h2m-1 0h2m0 0h2m4 0h2m-1 0h2m26 0h2m21 0h2m-1 0h2m0 0h2m3 0h2m3 0h2m0 0h2m0 0h2m0 0h2m-1 0h2m-1 0h2m-1 0h2m0 0h2m0 0h2m-1 0h2m-1 0h2m0 0h2m0 0h2m-1 0h2m-1 0h2m1 0h2m-1 0h2m-1 0h2m-1 0h2m-1 0h2m1 0h2m1 0h2m6 0h2m-1 0h2m1 0h2m2 0h2m-152 1h2m9 0h2m3 0h2m0 0h2m3 0h2m2 0h2m13 0h2m2 0h2m38 0h2m1 0h2m-1 0h2m0 0h2m-1 0h2m1 0h2m1 0h2m1 0h2m-1 0h2m-1 0h2m-1 0h2m-1 0h2m-1 0h2m-1 0h2m-1 0h2m-1 0h2m0 0h2m1 0h2m-1 0h2m3 0h2m-1 0h2m0 0h2m-1 0h2m-1 0h2m4 0h2m0 0h2m1 0h2m0 0h2m-1 0h2m-1 0h2m-1 0h2m0 0h2m1 0h2m-1 0h2m-1 0h2m1 0h2m0 0h2m1 0h2m-1 0h2m1 0h2m-149 1h2m7 0h2m8 0h2m0 0h2m2 0h2m14 0h2m0 0h2m21 0h2m1 0h2m6 0h2m-1 0h2m-1 0h2m-1 0h2m1 0h2m1 0h2m3 0h2m-1 0h2m0 0h2m-1 0h2m-1 0h2m-1 0h2m-1 0h2m-1 0h2m0 0h2m1 0h2m1 0h2m-1 0h2m-1 0h2m1 0h2m-1 0h2m-1 0h2m-1 0h2m0 0h2m-1 0h2m-1 0h2m-1 0h2m-1 0h2m0 0h2m5 0h2m1 0h2m11 0h2m-142 1h2m2 0h2m1 0h2m10 0h2m-1 0h2m1 0h2m26 0h2m4 0h2m4 0h2m-1 0h2m0 0h2m-1 0h2m0 0h2m-1 0h2m-1 0h2m5 0h2m-1 0h2m3 0h2m-1 0h2m-1 0h2m0 0h2m0 0h2m0 0h2m-1 0h2m2 0h2m-1 0h2m1 0h2m0 0h2m0 0h2m1 0h2m-1 0h2m1 0h2m0 0h2m1 0h2m3 0h2m-1 0h2m-1 0h2m0 0h2m-1 0h2m8 0h2m-1 0h2m-153 1h2m7 0h2m9 0h2m11 0h2m2 0h2m0 0h2m12 0h2m1 0h2m2 0h2m14 0h2m5 0h2m-1 0h2m-1 0h2m2 0h2m0 0h2m0 0h2m-1 0h2m0 0h2m-1 0h2m-1 0h2m3 0h2m0 0h2m2 0h2m-1 0h2m0 0h2m-1 0h2m-1 0h2m0 0h2m0 0h2m0 0h2m-1 0h2m-1 0h2m0 0h2m-1 0h2m2 0h2m-1 0h2m2 0h2m7 0h2m19 0h2m-168 1h2m8 0h2m2 0h2m18 0h2m20 0h2m5 0h2m1 0h2m9 0h2m8 0h2m-1 0h2m-1 0h2m-1 0h2m-1 0h2m5 0h2m-1 0h2m-1 0h2m-1 0h2m1 0h2m-1 0h2m0 0h2m-1 0h2m-1 0h2m-1 0h2m1 0h2m-1 0h2m0 0h2m-1 0h2m-1 0h2m-1 0h2m-1 0h2m-1 0h2m0 0h2m-1 0h2m-1 0h2m0 0h2m-1 0h2m-1 0h2m3 0h2m1 0h2m1 0h2m4 0h2m0 0h2m13 0h2m30 0h2m-199 1h2m-1 0h2m4 0h2m26 0h2m-1 0h2m0 0h2m20 0h2m9 0h2m-1 0h2m2 0h2m2 0h2m3 0h2m0 0h2m2 0h2m-1 0h2m0 0h2m0 0h2m0 0h2m-1 0h2m0 0h2m0 0h2m-1 0h2m1 0h2m-1 0h2m0 0h2m-1 0h2m-1 0h2m-1 0h2m1 0h2m-1 0h2m-1 0h2m-1 0h2m0 0h2m0 0h2m1 0h2m0 0h2m-1 0h2m-1 0h2m6 0h2m-1 0h2m-1 0h2m13 0h2m-159 1h2m14 0h2m2 0h2m4 0h2m-1 0h2m10 0h2m0 0h2m1 0h2m10 0h2m2 0h2m2 0h2m1 0h2m-1 0h2m14 0h2m1 0h2m0 0h2m-1 0h2m0 0h2m-1 0h2m0 0h2m-1 0h2m-1 0h2m-1 0h2m-1 0h2m-1 0h2m-1 0h2m4 0h2m1 0h2m0 0h2m0 0h2m1 0h2m0 0h2m0 0h2m-1 0h2m-1 0h2m1 0h2m0 0h2m0 0h2m4 0h2m0 0h2m11 0h2m8 0h2m40 0h2m-185 1h2m3 0h2m5 0h2m-1 0h2m8 0h2m1 0h2m1 0h2m19 0h2m3 0h2m1 0h2m-1 0h2m1 0h2m0 0h2m-1 0h2m2 0h2m-1 0h2m6 0h2m-1 0h2m-1 0h2m-1 0h2m0 0h2m0 0h2m-1 0h2m0 0h2m3 0h2m-1 0h2m-1 0h2m-1 0h2m-1 0h2m-1 0h2m-1 0h2m0 0h2m0 0h2m1 0h2m0 0h2m0 0h2m7 0h2m0 0h2m0 0h2m18 0h2m-164 1h2m12 0h2m15 0h2m24 0h2m11 0h2m1 0h2m-1 0h2m1 0h2m1 0h2m-1 0h2m3 0h2m0 0h2m-1 0h2m-1 0h2m2 0h2m-1 0h2m0 0h2m-1 0h2m-1 0h2m0 0h2m-1 0h2m1 0h2m2 0h2m-1 0h2m-1 0h2m0 0h2m0 0h2m3 0h2m-1 0h2m4 0h2m-1 0h2m1 0h2m-1 0h2m4 0h2m14 0h2m-122 1h2m15 0h2m3 0h2m2 0h2m-1 0h2m7 0h2m-1 0h2m0 0h2m12 0h2m0 0h2m0 0h2m-1 0h2m-1 0h2m1 0h2m-1 0h2m0 0h2m-1 0h2m-1 0h2m-1 0h2m-1 0h2m5 0h2m-1 0h2m-1 0h2m-1 0h2m1 0h2m0 0h2m1 0h2m9 0h2m-1 0h2m1 0h2m5 0h2m1 0h2m10 0h2m-116 1h2m3 0h2m26 0h2m1 0h2m4 0h2m-1 0h2m0 0h2m-1 0h2m-1 0h2m-1 0h2m0 0h2m-1 0h2m0 0h2m0 0h2m2 0h2m0 0h2m0 0h2m-1 0h2m-1 0h2m-1 0h2m0 0h2m0 0h2m5 0h2m0 0h2m4 0h2m-1 0h2m1 0h2m5 0h2m2 0h2m6 0h2m-158 1h2m14 0h2m36 0h2m8 0h2m6 0h2m-1 0h2m2 0h2m3 0h2m0 0h2m-1 0h2m1 0h2m-1 0h2m2 0h2m-1 0h2m0 0h2m-1 0h2m-1 0h2m1 0h2m2 0h2m-1 0h2m-1 0h2m1 0h2m-1 0h2m0 0h2m4 0h2m-1 0h2m4 0h2m3 0h2m0 0h2m20 0h2m0 0h2m41 0h2m-174 1h2m1 0h2m1 0h2m1 0h2m-1 0h2m19 0h2m2 0h2m9 0h2m-1 0h2m3 0h2m0 0h2m-1 0h2m3 0h2m1 0h2m4 0h2m0 0h2m0 0h2m1 0h2m-1 0h2m1 0h2m-1 0h2m-1 0h2m-1 0h2m-1 0h2m0 0h2m0 0h2m-1 0h2m1 0h2m-1 0h2m0 0h2m-1 0h2m0 0h2m3 0h2m2 0h2m3 0h2m0 0h2m3 0h2m0 0h2m25 0h2m-167 1h2m6 0h2m0 0h2m40 0h2m1 0h2m10 0h2m4 0h2m-1 0h2m0 0h2m-1 0h2m3 0h2m-1 0h2m-1 0h2m1 0h2m-1 0h2m0 0h2m-1 0h2m-1 0h2m3 0h2m4 0h2m0 0h2m-1 0h2m-1 0h2m-1 0h2m0 0h2m-1 0h2m0 0h2m17 0h2m21 0h2m-177 1h2m3 0h2m43 0h2m6 0h2m13 0h2m-1 0h2m0 0h2m0 0h2m0 0h2m-1 0h2m1 0h2m-1 0h2m0 0h2m-1 0h2m3 0h2m3 0h2m-1 0h2m-1 0h2m-1 0h2m-1 0h2m-1 0h2m5 0h2m3 0h2m3 0h2m49 0h2m61 0h2m-231 1h2m14 0h2m5 0h2m1 0h2m27 0h2m5 0h2m18 0h2m1 0h2m-1 0h2m3 0h2m2 0h2m-1 0h2m2 0h2m2 0h2m-1 0h2m3 0h2m-1 0h2m3 0h2m0 0h2m4 0h2m2 0h2m4 0h2m3 0h2m-141 1h2m5 0h2m4 0h2m-1 0h2m27 0h2m0 0h2m15 0h2m0 0h2m1 0h2m-1 0h2m2 0h2m1 0h2m1 0h2m-1 0h2m1 0h2m-1 0h2m-1 0h2m2 0h2m1 0h2m0 0h2m1 0h2m-1 0h2m7 0h2m1 0h2m2 0h2m-1 0h2m-1 0h2m2 0h2m1 0h2m0 0h2m2 0h2m1 0h2m1 0h2m15 0h2m-152 1h2m44 0h2m12 0h2m5 0h2m10 0h2m0 0h2m-1 0h2m6 0h2m5 0h2m2 0h2m5 0h2m0 0h2m9 0h2m-53 1h2m7 0h2m3 0h2m2 0h2m1 0h2m2 0h2m1 0h2m3 0h2m0 0h2m1 0h2m0 0h2m-1 0h2m-1 0h2m-1 0h2m5 0h2m3 0h2m63 0h2m-190 1h2m34 0h2m27 0h2m-1 0h2m6 0h2m-1 0h2m3 0h2m1 0h2m0 0h2m0 0h2m4 0h2m3 0h2m-1 0h2m2 0h2m10 0h2m53 0h2m3 0h2m-175 1h2m16 0h2m6 0h2m28 0h2m0 0h2m1 0h2m1 0h2m2 0h2m7 0h2m2 0h2m12 0h2m6 0h2m0 0h2m2 0h2m10 0h2m-134 1h2m4 0h2m32 0h2m25 0h2m28 0h2m-1 0h2m26 0h2m-126 1h2m6 0h2m2 0h2m15 0h2m45 0h2m2 0h2m3 0h2m6 0h2m-1 0h2m7 0h2m26 0h2m8 0h2m-141 1h2m26 0h2m14 0h2m19 0h2m16 0h2m4 0h2m6 0h2m11 0h2m22 0h2m89 0h2m-230 1h2m53 0h2m6 0h2m24 0h2m19 0h2m51 0h2m-160 1h2m1 0h2m85 0h2m7 0h2m64 0h2m-172 1h2m3 0h2m4 0h2m2 0h2m66 0h2m29 0h2m-111 1h2m0 0h2m43 0h2m3 0h2m28 0h2m23 0h2m-111 1h2m0 0h2m0 0h2m4 0h2m61 0h2m21 0h2m-101 1h2m5 0h2m0 0h2m2 0h2m81 0h2m-96 1h2m-1 0h2m1 0h2m-1 0h2m20 0h2m-32 1h2m1 0h2m-1 0h2m4 0h2m58 0h2m-65 1h2m1 0h2m-7 1h2m-1 0h2m-1 0h2m5 0h2m-12 1h2m1 0h2m-1 0h2m-10 1h2m2 0h2m7 0h2m-1 0h2m-10 1h2m-1 0h2m2 0h2m39 0h2m-50 1h2m1 0h2m-1 0h2" stroke="#000" stroke-width="1.4" opacity="0.5"/><path transform="scale(.5)" d="M315 437h2m21 10h2m-14 21h2m-129 5h2m60 4h2m-8 4h2m-38 16h2m-31 1h2m112 21h2m-75 9h2m81 4h2m-176 5h2m39 1h2m19 1h2m6 0h2m28 0h2m-25 1h2m-76 1h2m4 0h2m54 0h2m125 2h2m-91 1h2m-95 1h2m71 1h2m46 0h2m-82 1h2m-27 3h2m24 1h2m15 1h2m16 1h2m-10 2h2m-84 1h2m2 1h2m62 0h2m-72 1h2m60 0h2m-86 1h2m24 0h2m65 0h2m64 0h2m69 0h2m-211 1h2m162 0h2m-148 1h2m35 0h2m-44 2h2m61 0h2m37 0h2m50 0h2m-53 2h2m57 0h2m-156 1h2m58 0h2m41 0h2m-63 1h2m34 0h2m47 0h2m-129 1h2m132 0h2m-122 1h2m84 0h2m-108 2h2m83 0h2m47 0h2m-175 1h2m48 0h2m10 0h2m47 0h2m123 0h2m-129 1h2m10 0h2m23 0h2m68 0h2m-105 1h2m-10 1h2m43 0h2m-85 1h2m15 0h2m52 0h2m-55 1h2m71 0h2m-119 1h2m15 0h2m13 0h2m50 0h2m-21 1h2m1 0h2m-82 1h2m9 0h2m51 0h2m-62 1h2m34 0h2m11 0h2m-61 1h2m1 0h2m51 0h2m37 0h2m15 0h2m8 0h2m16 0h2m71 0h2m-211 1h2m2 0h2m31 0h2m42 0h2m117 0h2m-163 1h2m124 0h2m9 0h2m23 0h2m-89 1h2m-1 0h2m61 0h2m23 0h2m3 0h2m-224 1h2m57 0h2m13 0h2m22 0h2m-1 0h2m59 0h2m32 0h2m18 0h2m-207 1h2m13 0h2m6 0h2m19 0h2m2 0h2m122 0h2m5 0h2m33 0h2m-180 1h2m11 0h2m30 0h2m-82 1h2m129 0h2m31 0h2m1 0h2m7 0h2m1 0h2m-203 1h2m36 0h2m28 0h2m-1 0h2m19 0h2m20 0h2m15 0h2m43 0h2m-149 1h2m5 0h2m1 0h2m19 0h2m18 0h2m12 0h2m7 0h2m55 0h2m22 0h2m17 0h2m8 0h2m-171 1h2m37 0h2m48 0h2m50 0h2m7 0h2m12 0h2m-195 1h2m29 0h2m0 0h2m29 0h2m39 0h2m15 0h2m37 0h2m-1 0h2m13 0h2m0 0h2m10 0h2m-149 1h2m4 0h2m78 0h2m28 0h2m16 0h2m12 0h2m9 0h2m-219 1h2m64 0h2m24 0h2m68 0h2m5 0h2m2 0h2m-1 0h2m4 0h2m0 0h2m2 0h2m8 0h2m-1 0h2m7 0h2m1 0h2m12 0h2m-211 1h2m3 0h2m31 0h2m5 0h2m29 0h2m78 0h2m1 0h2m4 0h2m4 0h2m-1 0h2m2 0h2m20 0h2m-166 1h2m4 0h2m5 0h2m4 0h2m19 0h2m0 0h2m46 0h2m18 0h2m7 0h2m0 0h2m0 0h2m15 0h2m-1 0h2m0 0h2m2 0h2m10 0h2m0 0h2m-173 1h2m16 0h2m-1 0h2m62 0h2m17 0h2m12 0h2m15 0h2m3 0h2m5 0h2m17 0h2m9 0h2m12 0h2m6 0h2m-201 1h2m25 0h2m2 0h2m77 0h2m8 0h2m12 0h2m3 0h2m8 0h2m4 0h2m6 0h2m-1 0h2m5 0h2m-208 1h2m25 0h2m17 0h2m19 0h2m7 0h2m9 0h2m25 0h2m12 0h2m4 0h2m24 0h2m3 0h2m3 0h2m5 0h2m0 0h2m16 0h2m-201 1h2m49 0h2m16 0h2m33 0h2m18 0h2m0 0h2m14 0h2m3 0h2m3 0h2m3 0h2m7 0h2m10 0h2m8 0h2m1 0h2m5 0h2m25 0h2m-178 1h2m-1 0h2m5 0h2m13 0h2m6 0h2m0 0h2m58 0h2m1 0h2m12 0h2m3 0h2m-1 0h2m3 0h2m1 0h2m3 0h2m2 0h2m-1 0h2m-1 0h2m1 0h2m0 0h2m-1 0h2m5 0h2m-182 1h2m10 0h2m16 0h2m3 0h2m-1 0h2m1 0h2m9 0h2m14 0h2m27 0h2m12 0h2m22 0h2m5 0h2m6 0h2m-1 0h2m0 0h2m-1 0h2m2 0h2m2 0h2m5 0h2m0 0h2m1 0h2m-1 0h2m-1 0h2m-1 0h2m-1 0h2m-169 1h2m6 0h2m16 0h2m7 0h2m2 0h2m-1 0h2m-1 0h2m7 0h2m67 0h2m14 0h2m0 0h2m8 0h2m-1 0h2m-1 0h2m1 0h2m2 0h2m1 0h2m-1 0h2m0 0h2m3 0h2m1 0h2m12 0h2m-1 0h2m2 0h2m-176 1h2m2 0h2m11 0h2m10 0h2m18 0h2m30 0h2m14 0h2m14 0h2m1 0h2m0 0h2m-1 0h2m1 0h2m-1 0h2m1 0h2m5 0h2m2 0h2m7 0h2m-1 0h2m0 0h2m6 0h2m-180 1h2m1 0h2m24 0h2m4 0h2m8 0h2m6 0h2m41 0h2m7 0h2m5 0h2m3 0h2m-1 0h2m-1 0h2m5 0h2m5 0h2m-1 0h2m2 0h2m5 0h2m0 0h2m-1 0h2m0 0h2m1 0h2m4 0h2m7 0h2m17 0h2m-196 1h2m1 0h2m0 0h2m24 0h2m10 0h2m1 0h2m11 0h2m-1 0h2m34 0h2m9 0h2m0 0h2m5 0h2m3 0h2m-1 0h2m6 0h2m4 0h2m2 0h2m0 0h2m2 0h2m4 0h2m-1 0h2m2 0h2m1 0h2m2 0h2m3 0h2m-1 0h2m0 0h2m1 0h2m-170 1h2m9 0h2m-1 0h2m4 0h2m0 0h2m3 0h2m7 0h2m22 0h2m11 0h2m9 0h2m30 0h2m-1 0h2m0 0h2m0 0h2m3 0h2m-1 0h2m-1 0h2m0 0h2m3 0h2m1 0h2m0 0h2m-1 0h2m3 0h2m1 0h2m0 0h2m-1 0h2m-1 0h2m0 0h2m10 0h2m5 0h2m3 0h2m8 0h2m7 0h2m-203 1h2m29 0h2m3 0h2m6 0h2m0 0h2m2 0h2m8 0h2m19 0h2m4 0h2m-1 0h2m6 0h2m4 0h2m0 0h2m-1 0h2m4 0h2m17 0h2m-1 0h2m-1 0h2m2 0h2m0 0h2m-1 0h2m0 0h2m-1 0h2m0 0h2m0 0h2m0 0h2m-1 0h2m1 0h2m2 0h2m3 0h2m0 0h2m-1 0h2m1 0h2m23 0h2m-190 1h2m15 0h2m4 0h2m3 0h2m3 0h2m5 0h2m3 0h2m35 0h2m6 0h2m8 0h2m2 0h2m-1 0h2m15 0h2m8 0h2m-1 0h2m0 0h2m1 0h2m2 0h2m1 0h2m4 0h2m3 0h2m0 0h2m4 0h2m-1 0h2m-1 0h2m3 0h2m15 0h2m-185 1h2m23 0h2m1 0h2m22 0h2m37 0h2m-1 0h2m5 0h2m-1 0h2m4 0h2m0 0h2m0 0h2m-1 0h2m-1 0h2m0 0h2m-1 0h2m1 0h2m2 0h2m0 0h2m0 0h2m-1 0h2m1 0h2m-1 0h2m0 0h2m0 0h2m-1 0h2m11 0h2m0 0h2m17 0h2m1 0h2m-175 1h2m15 0h2m5 0h2m-1 0h2m33 0h2m2 0h2m2 0h2m6 0h2m11 0h2m-1 0h2m-1 0h2m3 0h2m-1 0h2m0 0h2m-1 0h2m-1 0h2m-1 0h2m3 0h2m-1 0h2m0 0h2m4 0h2m2 0h2m-1 0h2m0 0h2m-1 0h2m1 0h2m1 0h2m0 0h2m-1 0h2m2 0h2m-1 0h2m0 0h2m3 0h2m1 0h2m7 0h2m12 0h2m-177 1h2m5 0h2m14 0h2m66 0h2m1 0h2m3 0h2m0 0h2m4 0h2m0 0h2m-1 0h2m0 0h2m0 0h2m-1 0h2m7 0h2m3 0h2m7 0h2m0 0h2m0 0h2m0 0h2m0 0h2m-1 0h2m7 0h2m8 0h2m1 0h2m22 0h2m33 0h2m-235 1h2m8 0h2m9 0h2m4 0h2m8 0h2m-1 0h2m8 0h2m28 0h2m2 0h2m4 0h2m1 0h2m2 0h2m0 0h2m1 0h2m-1 0h2m-1 0h2m1 0h2m-1 0h2m-1 0h2m-1 0h2m1 0h2m-1 0h2m-1 0h2m0 0h2m2 0h2m0 0h2m1 0h2m-1 0h2m0 0h2m-1 0h2m0 0h2m0 0h2m2 0h2m-1 0h2m0 0h2m0 0h2m1 0h2m-1 0h2m16 0h2m9 0h2m-179 1h2m-1 0h2m0 0h2m1 0h2m13 0h2m-1 0h2m15 0h2m1 0h2m2 0h2m4 0h2m1 0h2m0 0h2m0 0h2m28 0h2m3 0h2m1 0h2m-1 0h2m-1 0h2m4 0h2m1 0h2m-1 0h2m0 0h2m-1 0h2m6 0h2m-1 0h2m-1 0h2m-1 0h2m-1 0h2m2 0h2m3 0h2m-1 0h2m-1 0h2m2 0h2m4 0h2m0 0h2m0 0h2m-1 0h2m5 0h2m12 0h2m3 0h2m-174 1h2m0 0h2m0 0h2m3 0h2m20 0h2m43 0h2m5 0h2m5 0h2m3 0h2m-1 0h2m-1 0h2m-1 0h2m-1 0h2m5 0h2m0 0h2m3 0h2m-1 0h2m-1 0h2m-1 0h2m0 0h2m0 0h2m1 0h2m-1 0h2m2 0h2m2 0h2m-1 0h2m-1 0h2m2 0h2m1 0h2m-1 0h2m-1 0h2m1 0h2m-1 0h2m7 0h2m3 0h2m-159 1h2m1 0h2m-1 0h2m11 0h2m6 0h2m-1 0h2m11 0h2m8 0h2m2 0h2m9 0h2m1 0h2m0 0h2m-1 0h2m8 0h2m2 0h2m-1 0h2m-1 0h2m1 0h2m0 0h2m0 0h2m-1 0h2m-1 0h2m-1 0h2m2 0h2m1 0h2m-1 0h2m0 0h2m-1 0h2m-1 0h2m2 0h2m1 0h2m5 0h2m-1 0h2m-1 0h2m0 0h2m2 0h2m-1 0h2m1 0h2m3 0h2m0 0h2m5 0h2m1 0h2m1 0h2m-1 0h2m8 0h2m-161 1h2m4 0h2m2 0h2m19 0h2m21 0h2m4 0h2m5 0h2m5 0h2m-1 0h2m0 0h2m-1 0h2m-1 0h2m-1 0h2m4 0h2m-1 0h2m-1 0h2m1 0h2m-1 0h2m-1 0h2m0 0h2m3 0h2m2 0h2m-1 0h2m1 0h2m0 0h2m0 0h2m0 0h2m0 0h2m-1 0h2m0 0h2m-1 0h2m1 0h2m-1 0h2m1 0h2m10 0h2m-1 0h2m-1 0h2m2 0h2m-156 1h2m0 0h2m48 0h2m6 0h2m-1 0h2m-1 0h2m2 0h2m5 0h2m1 0h2m-1 0h2m2 0h2m2 0h2m0 0h2m-1 0h2m1 0h2m2 0h2m0 0h2m-1 0h2m-1 0h2m2 0h2m-1 0h2m-1 0h2m-1 0h2m0 0h2m0 0h2m4 0h2m-1 0h2m0 0h2m-1 0h2m1 0h2m-1 0h2m-1 0h2m-1 0h2m-1 0h2m3 0h2m3 0h2m16 0h2m15 0h2m-179 1h2m0 0h2m7 0h2m17 0h2m6 0h2m0 0h2m24 0h2m-1 0h2m1 0h2m-1 0h2m0 0h2m-1 0h2m5 0h2m4 0h2m-1 0h2m-1 0h2m3 0h2m-1 0h2m1 0h2m-1 0h2m-1 0h2m0 0h2m0 0h2m2 0h2m0 0h2m-1 0h2m0 0h2m2 0h2m1 0h2m0 0h2m3 0h2m-1 0h2m0 0h2m-1 0h2m1 0h2m1 0h2m1 0h2m6 0h2m5 0h2m-1 0h2m15 0h2m-147 1h2m15 0h2m5 0h2m0 0h2m5 0h2m8 0h2m0 0h2m1 0h2m2 0h2m0 0h2m1 0h2m-1 0h2m0 0h2m-1 0h2m2 0h2m-1 0h2m2 0h2m-1 0h2m0 0h2m-1 0h2m-1 0h2m-1 0h2m0 0h2m0 0h2m-1 0h2m-1 0h2m0 0h2m0 0h2m0 0h2m-1 0h2m0 0h2m0 0h2m-1 0h2m-1 0h2m0 0h2m2 0h2m-1 0h2m1 0h2m-1 0h2m2 0h2m2 0h2m1 0h2m0 0h2m3 0h2m5 0h2m-153 1h2m20 0h2m7 0h2m33 0h2m0 0h2m1 0h2m-1 0h2m1 0h2m4 0h2m-1 0h2m0 0h2m-1 0h2m-1 0h2m-1 0h2m-1 0h2m1 0h2m-1 0h2m0 0h2m0 0h2m-1 0h2m0 0h2m0 0h2m-1 0h2m-1 0h2m-1 0h2m-1 0h2m0 0h2m-1 0h2m2 0h2m2 0h2m-1 0h2m-1 0h2m1 0h2m0 0h2m-1 0h2m3 0h2m-1 0h2m0 0h2m0 0h2m-1 0h2m4 0h2m3 0h2m-96 1h2m8 0h2m-1 0h2m-1 0h2m6 0h2m0 0h2m1 0h2m2 0h2m0 0h2m0 0h2m-1 0h2m2 0h2m-1 0h2m5 0h2m0 0h2m0 0h2m-1 0h2m0 0h2m-1 0h2m-1 0h2m-1 0h2m-1 0h2m0 0h2m1 0h2m-1 0h2m0 0h2m-1 0h2m-1 0h2m0 0h2m2 0h2m2 0h2m1 0h2m0 0h2m2 0h2m-141 1h2m16 0h2m8 0h2m7 0h2m11 0h2m7 0h2m4 0h2m2 0h2m0 0h2m0 0h2m-1 0h2m1 0h2m-1 0h2m3 0h2m0 0h2m-1 0h2m-1 0h2m2 0h2m0 0h2m-1 0h2m0 0h2m-1 0h2m-1 0h2m-1 0h2m-1 0h2m1 0h2m-1 0h2m-1 0h2m-1 0h2m1 0h2m-1 0h2m1 0h2m-1 0h2m2 0h2m0 0h2m-1 0h2m3 0h2m8 0h2m-139 1h2m17 0h2m6 0h2m1 0h2m21 0h2m16 0h2m3 0h2m-1 0h2m-1 0h2m1 0h2m-1 0h2m-1 0h2m-1 0h2m-1 0h2m-1 0h2m2 0h2m-1 0h2m-1 0h2m-1 0h2m-1 0h2m-1 0h2m0 0h2m2 0h2m1 0h2m0 0h2m2 0h2m2 0h2m0 0h2m-1 0h2m1 0h2m3 0h2m1 0h2m-1 0h2m1 0h2m0 0h2m-142 1h2m39 0h2m-1 0h2m13 0h2m6 0h2m1 0h2m1 0h2m-1 0h2m4 0h2m3 0h2m2 0h2m2 0h2m-1 0h2m-1 0h2m-1 0h2m-1 0h2m-1 0h2m0 0h2m2 0h2m-1 0h2m-1 0h2m-1 0h2m0 0h2m-1 0h2m3 0h2m1 0h2m0 0h2m-1 0h2m0 0h2m-1 0h2m2 0h2m2 0h2m6 0h2m-1 0h2m-146 1h2m7 0h2m1 0h2m12 0h2m15 0h2m15 0h2m16 0h2m0 0h2m-1 0h2m-1 0h2m-1 0h2m0 0h2m-1 0h2m1 0h2m0 0h2m-1 0h2m-1 0h2m-1 0h2m3 0h2m-1 0h2m0 0h2m-1 0h2m-1 0h2m-1 0h2m0 0h2m-1 0h2m-1 0h2m0 0h2m0 0h2m0 0h2m0 0h2m-1 0h2m3 0h2m-1 0h2m3 0h2m-1 0h2m0 0h2m0 0h2m0 0h2m-1 0h2m0 0h2m29 0h2m-145 1h2m2 0h2m6 0h2m3 0h2m25 0h2m4 0h2m0 0h2m11 0h2m-1 0h2m0 0h2m4 0h2m1 0h2m0 0h2m1 0h2m-1 0h2m1 0h2m-1 0h2m-1 0h2m-1 0h2m-1 0h2m-1 0h2m-1 0h2m3 0h2m5 0h2m0 0h2m-1 0h2m0 0h2m0 0h2m-1 0h2m1 0h2m2 0h2m-104 1h2m3 0h2m10 0h2m12 0h2m3 0h2m-1 0h2m2 0h2m2 0h2m1 0h2m0 0h2m-1 0h2m-1 0h2m-1 0h2m0 0h2m0 0h2m0 0h2m0 0h2m-1 0h2m-1 0h2m-1 0h2m2 0h2m2 0h2m1 0h2m1 0h2m0 0h2m3 0h2m-1 0h2m-1 0h2m4 0h2m-117 1h2m15 0h2m-1 0h2m18 0h2m3 0h2m13 0h2m-1 0h2m-1 0h2m0 0h2m2 0h2m0 0h2m-1 0h2m1 0h2m1 0h2m1 0h2m-1 0h2m1 0h2m1 0h2m3 0h2m-1 0h2m0 0h2m-1 0h2m0 0h2m-1 0h2m2 0h2m14 0h2m-121 1h2m10 0h2m7 0h2m0 0h2m24 0h2m0 0h2m8 0h2m1 0h2m1 0h2m-1 0h2m1 0h2m0 0h2m0 0h2m0 0h2m-1 0h2m-1 0h2m1 0h2m3 0h2m-1 0h2m-1 0h2m0 0h2m-1 0h2m0 0h2m-1 0h2m-1 0h2m-1 0h2m-1 0h2m0 0h2m11 0h2m3 0h2m-84 1h2m5 0h2m12 0h2m3 0h2m1 0h2m5 0h2m4 0h2m0 0h2m0 0h2m-1 0h2m2 0h2m0 0h2m0 0h2m0 0h2m1 0h2m1 0h2m-1 0h2m0 0h2m12 0h2m-1 0h2m-78 1h2m19 0h2m4 0h2m3 0h2m1 0h2m2 0h2m-1 0h2m1 0h2m0 0h2m0 0h2m2 0h2m-1 0h2m1 0h2m-1 0h2m0 0h2m8 0h2m13 0h2m-136 1h2m52 0h2m0 0h2m15 0h2m1 0h2m-1 0h2m-1 0h2m3 0h2m0 0h2m0 0h2m1 0h2m1 0h2m-1 0h2m-1 0h2m2 0h2m0 0h2m-1 0h2m3 0h2m1 0h2m23 0h2m46 0h2m-199 1h2m47 0h2m0 0h2m19 0h2m1 0h2m3 0h2m7 0h2m2 0h2m5 0h2m3 0h2m5 0h2m-1 0h2m7 0h2m0 0h2m-124 1h2m64 0h2m-1 0h2m2 0h2m10 0h2m0 0h2m1 0h2m-1 0h2m-1 0h2m5 0h2m-1 0h2m12 0h2m95 0h2m-213 1h2m13 0h2m44 0h2m17 0h2m-1 0h2m2 0h2m2 0h2m11 0h2m3 0h2m4 0h2m2 0h2m1 0h2m7 0h2m16 0h2m71 0h2m-217 1h2m65 0h2m11 0h2m2 0h2m1 0h2m4 0h2m20 0h2m20 0h2m-88 1h2m30 0h2m6 0h2m2 0h2m4 0h2m10 0h2m-122 1h2m0 0h2m-1 0h2m2 0h2m4 0h2m24 0h2m1 0h2m6 0h2m1 0h2m28 0h2m3 0h2m4 0h2m14 0h2m-112 1h2m1 0h2m-1 0h2m0 0h2m-1 0h2m-1 0h2m1 0h2m55 0h2m9 0h2m13 0h2m13 0h2m1 0h2m16 0h2m-129 1h2m1 0h2m0 0h2m-1 0h2m2 0h2m-1 0h2m70 0h2m15 0h2m1 0h2m-1 0h2m-1 0h2m8 0h2m2 0h2m-1 0h2m-124 1h2m1 0h2m2 0h2m18 0h2m39 0h2m0 0h2m27 0h2m-98 1h2m1 0h2m62 0h2m33 0h2m85 0h2m-194 1h2m0 0h2m-1 0h2m-1 0h2m2 0h2m118 0h2m-126 1h2m0 0h2m72 0h2m-76 1h2m5 0h2m29 0h2m30 0h2m-72 1h2m6 0h2m-11 1h2m1 0h2m-5 1h2m101 0h2m-110 1h2m5 0h2m85 0h2m-94 1h2m0 0h2m0 0h2m-1 0h2m0 0h2m17 0h2m-17 1h2m-1 0h2m77 0h2m-90 1h2m0 1h2" stroke="#000" stroke-width="1.4" opacity="0.5"/><path d="M53.7 212.4L180.1 212.4" stroke="#bdbdbd" stroke-width="0.8"/><path d="M180.1 212.4L180.1 327.9" stroke="#bdbdbd" stroke-width="0.8"/><path d="M53.7 212.4L53.7 327.9" stroke="#9a9a9a" stroke-width="0.9"/><path d="M53.7 327.9L180.1 327.9" stroke="#c4c4c4" stroke-width="0.9"/><path transform="scale(.5)" d="M357 566h2m-1 5h2m-3 7h2m-1 7h2m-2 1h2m-2 4h2m-3 1h2m-1 2h2m-2 1h2m-2 2h2m-2 6h2m-2 2h2m-2 2h2m-2 1h2m-2 2h2m-2 2h2m-2 2h2m-2 5h2m-3 1h2m-1 2h2m-3 8h2" stroke="#000" stroke-width="1.8" opacity="0.45"/><path transform="scale(.5)" d="M358 547h2m-2 13h2m-2 6h2m-2 2h2m-2 2h2m-3 9h2m-1 2h2m-3 4h2m-1 2h2m-3 10h2m-1 1h2m-3 1h2m-1 1h2m-3 1h2m-2 1h2m-1 4h2m-2 1h2m-2 4h2m-3 5h2m-2 9h2" stroke="#000" stroke-width="1.8" opacity="0.45"/><path d="M48.5 327.9L53.5 327.9M48.5 295.6L53.5 295.6M48.5 263.3L53.5 263.3M48.5 231L53.5 231" stroke="#1a1a1a" stroke-width="1.8"/><path d="M51.4 321.4L53.5 321.4M51.4 315L53.5 315M51.4 308.5L53.5 308.5M51.4 302.1L53.5 302.1M51.4 289.1L53.5 289.1M51.4 282.7L53.5 282.7M51.4 276.2L53.5 276.2M51.4 269.8L53.5 269.8M51.4 256.8L53.5 256.8M51.4 250.4L53.5 250.4M51.4 243.9L53.5 243.9M51.4 237.5L53.5 237.5M51.4 224.5L53.5 224.5M51.4 218.1L53.5 218.1" stroke="#3a3a3a" stroke-width="0.9"/><text x="44.1" y="327.3" font-size="7.2" text-anchor="end" fill="#1e1e1e" stroke="#1e1e1e" stroke-width="0.14">0</text><text x="44.1" y="300.7" font-size="7.2" text-anchor="end" fill="#1e1e1e" stroke="#1e1e1e" stroke-width="0.14">50K</text><text x="44.1" y="268.4" font-size="7.2" text-anchor="end" fill="#1e1e1e" stroke="#1e1e1e" stroke-width="0.14">100K</text><text x="44.1" y="236.1" font-size="7.2" text-anchor="end" fill="#1e1e1e" stroke="#1e1e1e" stroke-width="0.14">150K</text><path d="M54.2 328.5L54.2 333.5M85.7 328.5L85.7 333.5M117.2 328.5L117.2 333.5M148.7 328.5L148.7 333.5" stroke="#1a1a1a" stroke-width="1.8"/><path d="M60.5 328.5L60.5 330.5M66.8 328.5L66.8 330.5M73.1 328.5L73.1 330.5M79.4 328.5L79.4 330.5M92 328.5L92 330.5M98.3 328.5L98.3 330.5M104.6 328.5L104.6 330.5M110.9 328.5L110.9 330.5M123.5 328.5L123.5 330.5M129.8 328.5L129.8 330.5M136.1 328.5L136.1 330.5M142.4 328.5L142.4 330.5M155 328.5L155 330.5M161.3 328.5L161.3 330.5M167.6 328.5L167.6 330.5M173.9 328.5L173.9 330.5" stroke="#3a3a3a" stroke-width="0.9"/><text x="54.8" y="350.1" font-size="7.2" text-anchor="middle" fill="#1e1e1e" stroke="#1e1e1e" stroke-width="0.14">0</text><text x="82.3" y="350.1" font-size="7.2" text-anchor="middle" fill="#1e1e1e" stroke="#1e1e1e" stroke-width="0.14">50K</text><text x="113.8" y="350.1" font-size="7.2" text-anchor="middle" fill="#1e1e1e" stroke="#1e1e1e" stroke-width="0.14">100K</text><text x="145.3" y="350.1" font-size="7.2" text-anchor="middle" fill="#1e1e1e" stroke="#1e1e1e" stroke-width="0.14">150K</text><path d="M92.6 310.4L95.8 299.4L105.7 289.6L116.6 283L129.8 279.3L147.3 278.4L170.3 281.9L172.5 298.3L164.8 307.1L142.9 316.5L118.8 320.2L98 319.1Z" stroke="#2a2a2a" stroke-width="1.0" fill="none" stroke-linejoin="round"/><text x="115.5" y="364.9" font-size="9.6" text-anchor="middle" textLength="26.8" lengthAdjust="spacingAndGlyphs" fill="#1e1e1e" stroke="#1e1e1e" stroke-width="0.22">FSC-A</text><text x="19.2" y="270" font-size="9.6" text-anchor="middle" textLength="26.4" lengthAdjust="spacingAndGlyphs" transform="rotate(-90 19.2 270)" fill="#1e1e1e" stroke="#1e1e1e" stroke-width="0.22">SSC-A</text><text x="82" y="248.3" font-size="6.0" text-anchor="middle" fill="#1e1e1e" stroke="#1e1e1e" stroke-width="0.14">HL-60</text><text x="82" y="255.7" font-size="6.0" text-anchor="middle" fill="#1e1e1e" stroke="#1e1e1e" stroke-width="0.14">72,2</text><ellipse cx="113.1" cy="509.9" rx="15.7" ry="4.8" transform="rotate(-10 113.1 509.9)" fill="#000" opacity="0.62" filter="url(#b7)"/><ellipse cx="138.9" cy="503.2" rx="13.2" ry="3.2" transform="rotate(-15 138.9 503.2)" fill="#000" opacity="0.3" filter="url(#b8)"/><ellipse cx="82.3" cy="505.8" rx="15.1" ry="5.8" transform="rotate(-8 82.3 505.8)" fill="#000" opacity="0.22" filter="url(#b9)"/><ellipse cx="98.6" cy="508.3" rx="6.3" ry="3.9" transform="rotate(0 98.6 508.3)" fill="#000" opacity="0.25" filter="url(#b10)"/><path transform="scale(.5)" d="M288 826h2m-150 3h2m160 23h2m-168 14h2m76 3h2m87 60h2m-83 12h2m90 1h2m-108 1h2m43 0h2m-25 2h2m18 0h2m-58 2h2m16 0h2m67 0h2m0 2h2m-73 1h2m93 1h2m5 0h2m-110 1h2m-20 4h2m97 0h2m-20 2h2m-80 2h2m31 1h2m61 1h2m-35 1h2m-124 1h2m27 0h2m20 0h2m22 0h2m14 1h2m-7 1h2m33 0h2m41 0h2m-38 1h2m3 0h2m-121 1h2m4 0h2m8 0h2m140 0h2m-177 2h2m147 0h2m-125 1h2m57 0h2m16 0h2m34 0h2m-39 1h2m40 0h2m-101 1h2m52 0h2m23 0h2m4 0h2m8 2h2m33 0h2m-77 1h2m-2 1h2m20 0h2m-77 1h2m-5 1h2m133 0h2m-104 1h2m-40 1h2m14 0h2m25 0h2m66 0h2m-151 1h2m41 0h2m-1 0h2m4 0h2m13 0h2m85 0h2m-36 1h2m13 0h2m-104 1h2m10 0h2m3 0h2m12 0h2m-44 1h2m8 0h2m27 0h2m4 0h2m61 0h2m-1 0h2m54 0h2m-161 1h2m12 0h2m24 0h2m22 0h2m10 0h2m-84 1h2m0 0h2m2 0h2m19 0h2m76 0h2m9 0h2m-100 1h2m1 0h2m14 0h2m14 0h2m7 0h2m54 0h2m20 0h2m-122 1h2m7 0h2m1 0h2m5 0h2m30 0h2m73 0h2m42 0h2m0 0h2m-198 1h2m9 0h2m8 0h2m4 0h2m7 0h2m36 0h2m-1 0h2m61 0h2m-1 0h2m25 0h2m-175 1h2m37 0h2m0 0h2m130 0h2m-1 0h2m-152 1h2m5 0h2m3 0h2m8 0h2m14 0h2m54 0h2m14 0h2m6 0h2m21 0h2m29 0h2m-207 1h2m14 0h2m1 0h2m20 0h2m4 0h2m3 0h2m3 0h2m1 0h2m24 0h2m56 0h2m6 0h2m-150 1h2m19 0h2m9 0h2m3 0h2m3 0h2m5 0h2m-1 0h2m78 0h2m12 0h2m9 0h2m-1 0h2m3 0h2m5 0h2m-1 0h2m27 0h2m10 0h2m-122 1h2m1 0h2m8 0h2m5 0h2m32 0h2m9 0h2m6 0h2m0 0h2m0 0h2m3 0h2m-167 1h2m35 0h2m13 0h2m4 0h2m2 0h2m11 0h2m30 0h2m7 0h2m18 0h2m-139 1h2m3 0h2m0 0h2m0 0h2m1 0h2m8 0h2m2 0h2m5 0h2m9 0h2m35 0h2m16 0h2m6 0h2m9 0h2m28 0h2m-1 0h2m0 0h2m16 0h2m4 0h2m2 0h2m-189 1h2m12 0h2m11 0h2m3 0h2m7 0h2m50 0h2m18 0h2m17 0h2m20 0h2m4 0h2m0 0h2m6 0h2m3 0h2m18 0h2m-171 1h2m3 0h2m20 0h2m1 0h2m8 0h2m4 0h2m21 0h2m36 0h2m7 0h2m2 0h2m14 0h2m9 0h2m0 0h2m6 0h2m-189 1h2m32 0h2m3 0h2m14 0h2m3 0h2m14 0h2m4 0h2m27 0h2m23 0h2m-1 0h2m18 0h2m3 0h2m6 0h2m-171 1h2m7 0h2m10 0h2m1 0h2m-1 0h2m18 0h2m2 0h2m-1 0h2m5 0h2m8 0h2m4 0h2m12 0h2m10 0h2m45 0h2m4 0h2m-1 0h2m7 0h2m-1 0h2m-1 0h2m-1 0h2m1 0h2m4 0h2m-177 1h2m11 0h2m2 0h2m27 0h2m35 0h2m2 0h2m28 0h2m5 0h2m5 0h2m1 0h2m22 0h2m4 0h2m0 0h2m24 0h2m-187 1h2m33 0h2m0 0h2m15 0h2m18 0h2m1 0h2m26 0h2m0 0h2m15 0h2m1 0h2m1 0h2m-1 0h2m1 0h2m2 0h2m3 0h2m2 0h2m4 0h2m3 0h2m3 0h2m0 0h2m-1 0h2m3 0h2m-157 1h2m5 0h2m12 0h2m0 0h2m8 0h2m1 0h2m2 0h2m9 0h2m8 0h2m6 0h2m14 0h2m2 0h2m-1 0h2m20 0h2m4 0h2m9 0h2m-1 0h2m-1 0h2m1 0h2m3 0h2m0 0h2m1 0h2m34 0h2m-190 1h2m16 0h2m2 0h2m1 0h2m0 0h2m3 0h2m5 0h2m1 0h2m4 0h2m15 0h2m12 0h2m12 0h2m-1 0h2m9 0h2m4 0h2m1 0h2m-1 0h2m-1 0h2m-1 0h2m0 0h2m10 0h2m-1 0h2m0 0h2m2 0h2m0 0h2m3 0h2m0 0h2m3 0h2m3 0h2m-160 1h2m-1 0h2m2 0h2m-1 0h2m1 0h2m9 0h2m5 0h2m-1 0h2m3 0h2m0 0h2m0 0h2m4 0h2m8 0h2m21 0h2m4 0h2m-1 0h2m12 0h2m1 0h2m1 0h2m1 0h2m0 0h2m0 0h2m1 0h2m1 0h2m-1 0h2m5 0h2m-1 0h2m-1 0h2m3 0h2m0 0h2m2 0h2m2 0h2m0 0h2m4 0h2m6 0h2m0 0h2m-180 1h2m5 0h2m7 0h2m11 0h2m1 0h2m-1 0h2m0 0h2m4 0h2m2 0h2m-1 0h2m1 0h2m3 0h2m8 0h2m0 0h2m1 0h2m0 0h2m7 0h2m17 0h2m3 0h2m-1 0h2m0 0h2m4 0h2m6 0h2m9 0h2m0 0h2m2 0h2m0 0h2m1 0h2m1 0h2m1 0h2m-1 0h2m-1 0h2m1 0h2m-1 0h2m1 0h2m1 0h2m0 0h2m4 0h2m14 0h2m-193 1h2m2 0h2m8 0h2m15 0h2m-1 0h2m-1 0h2m3 0h2m0 0h2m8 0h2m2 0h2m1 0h2m0 0h2m7 0h2m0 0h2m-1 0h2m2 0h2m10 0h2m1 0h2m3 0h2m2 0h2m12 0h2m-1 0h2m-1 0h2m2 0h2m0 0h2m-1 0h2m5 0h2m-1 0h2m0 0h2m3 0h2m5 0h2m5 0h2m4 0h2m1 0h2m6 0h2m7 0h2m43 0h2m-212 1h2m16 0h2m2 0h2m-1 0h2m4 0h2m1 0h2m0 0h2m0 0h2m1 0h2m0 0h2m6 0h2m0 0h2m7 0h2m0 0h2m-1 0h2m-1 0h2m3 0h2m0 0h2m3 0h2m3 0h2m-1 0h2m0 0h2m-1 0h2m1 0h2m3 0h2m1 0h2m0 0h2m-1 0h2m-1 0h2m0 0h2m1 0h2m0 0h2m-1 0h2m1 0h2m1 0h2m4 0h2m-1 0h2m-1 0h2m1 0h2m-1 0h2m10 0h2m4 0h2m1 0h2m-1 0h2m-1 0h2m2 0h2m2 0h2m3 0h2m2 0h2m4 0h2m-175 1h2m28 0h2m5 0h2m6 0h2m5 0h2m0 0h2m0 0h2m6 0h2m-1 0h2m2 0h2m1 0h2m-1 0h2m3 0h2m2 0h2m6 0h2m1 0h2m-1 0h2m3 0h2m1 0h2m1 0h2m0 0h2m7 0h2m0 0h2m-1 0h2m0 0h2m1 0h2m3 0h2m0 0h2m2 0h2m0 0h2m1 0h2m2 0h2m5 0h2m-1 0h2m-1 0h2m2 0h2m3 0h2m-175 1h2m31 0h2m3 0h2m7 0h2m3 0h2m-1 0h2m0 0h2m2 0h2m0 0h2m0 0h2m-1 0h2m0 0h2m5 0h2m8 0h2m2 0h2m-1 0h2m8 0h2m-1 0h2m2 0h2m0 0h2m-1 0h2m3 0h2m3 0h2m4 0h2m-1 0h2m-1 0h2m1 0h2m0 0h2m-1 0h2m1 0h2m-1 0h2m1 0h2m0 0h2m0 0h2m-1 0h2m6 0h2m-1 0h2m0 0h2m-1 0h2m-1 0h2m-1 0h2m7 0h2m3 0h2m-151 1h2m11 0h2m-1 0h2m0 0h2m3 0h2m1 0h2m3 0h2m1 0h2m5 0h2m-1 0h2m9 0h2m-1 0h2m0 0h2m2 0h2m0 0h2m2 0h2m0 0h2m-1 0h2m2 0h2m-1 0h2m-1 0h2m4 0h2m2 0h2m-1 0h2m-1 0h2m-1 0h2m-1 0h2m-1 0h2m-1 0h2m0 0h2m-1 0h2m-1 0h2m3 0h2m-1 0h2m-1 0h2m-1 0h2m0 0h2m1 0h2m2 0h2m0 0h2m-1 0h2m-1 0h2m0 0h2m1 0h2m2 0h2m0 0h2m-1 0h2m4 0h2m-1 0h2m2 0h2m-1 0h2m-1 0h2m-1 0h2m17 0h2m-143 1h2m1 0h2m0 0h2m5 0h2m0 0h2m17 0h2m-1 0h2m1 0h2m7 0h2m3 0h2m7 0h2m0 0h2m-1 0h2m0 0h2m-1 0h2m-1 0h2m1 0h2m1 0h2m0 0h2m3 0h2m1 0h2m-1 0h2m-1 0h2m-1 0h2m-1 0h2m0 0h2m-1 0h2m0 0h2m-1 0h2m3 0h2m0 0h2m2 0h2m3 0h2m1 0h2m0 0h2m0 0h2m2 0h2m7 0h2m-144 1h2m1 0h2m11 0h2m0 0h2m-1 0h2m1 0h2m2 0h2m6 0h2m5 0h2m0 0h2m2 0h2m9 0h2m4 0h2m-1 0h2m-1 0h2m0 0h2m-1 0h2m-1 0h2m2 0h2m0 0h2m0 0h2m0 0h2m0 0h2m1 0h2m-1 0h2m1 0h2m-1 0h2m0 0h2m0 0h2m0 0h2m2 0h2m-1 0h2m-1 0h2m-1 0h2m1 0h2m5 0h2m-1 0h2m5 0h2m-1 0h2m-1 0h2m0 0h2m0 0h2m2 0h2m-1 0h2m3 0h2m2 0h2m18 0h2m-163 1h2m9 0h2m-1 0h2m-1 0h2m1 0h2m6 0h2m6 0h2m0 0h2m-1 0h2m1 0h2m4 0h2m-1 0h2m11 0h2m2 0h2m0 0h2m3 0h2m-1 0h2m-1 0h2m-1 0h2m-1 0h2m-1 0h2m0 0h2m3 0h2m1 0h2m-1 0h2m-1 0h2m0 0h2m1 0h2m0 0h2m-1 0h2m-1 0h2m-1 0h2m0 0h2m-1 0h2m-1 0h2m-1 0h2m-1 0h2m3 0h2m-1 0h2m0 0h2m-1 0h2m2 0h2m-1 0h2m-1 0h2m3 0h2m-1 0h2m9 0h2m2 0h2m3 0h2m7 0h2m-164 1h2m13 0h2m2 0h2m4 0h2m5 0h2m8 0h2m9 0h2m-1 0h2m6 0h2m2 0h2m1 0h2m-1 0h2m-1 0h2m0 0h2m0 0h2m-1 0h2m1 0h2m0 0h2m2 0h2m0 0h2m-1 0h2m-1 0h2m-1 0h2m0 0h2m0 0h2m-1 0h2m-1 0h2m-1 0h2m-1 0h2m-1 0h2m-1 0h2m-1 0h2m-1 0h2m2 0h2m-1 0h2m0 0h2m-1 0h2m-1 0h2m-1 0h2m-1 0h2m0 0h2m-1 0h2m-1 0h2m1 0h2m2 0h2m-1 0h2m0 0h2m0 0h2m1 0h2m4 0h2m0 0h2m2 0h2m3 0h2m6 0h2m-167 1h2m17 0h2m0 0h2m8 0h2m5 0h2m2 0h2m-1 0h2m15 0h2m0 0h2m1 0h2m0 0h2m11 0h2m1 0h2m-1 0h2m-1 0h2m-1 0h2m1 0h2m-1 0h2m2 0h2m0 0h2m-1 0h2m2 0h2m-1 0h2m-1 0h2m-1 0h2m-1 0h2m0 0h2m-1 0h2m3 0h2m-1 0h2m0 0h2m-1 0h2m-1 0h2m-1 0h2m-1 0h2m-1 0h2m0 0h2m0 0h2m1 0h2m1 0h2m3 0h2m28 0h2m50 0h2m-198 1h2m5 0h2m0 0h2m2 0h2m0 0h2m6 0h2m-1 0h2m2 0h2m0 0h2m13 0h2m1 0h2m-1 0h2m3 0h2m1 0h2m-1 0h2m-1 0h2m3 0h2m0 0h2m0 0h2m-1 0h2m0 0h2m1 0h2m-1 0h2m1 0h2m-1 0h2m-1 0h2m1 0h2m0 0h2m-1 0h2m-1 0h2m-1 0h2m-1 0h2m0 0h2m-1 0h2m0 0h2m-1 0h2m-1 0h2m1 0h2m-1 0h2m-1 0h2m-1 0h2m4 0h2m-1 0h2m1 0h2m4 0h2m1 0h2m0 0h2m5 0h2m4 0h2m-130 1h2m4 0h2m2 0h2m-1 0h2m2 0h2m1 0h2m3 0h2m2 0h2m1 0h2m1 0h2m0 0h2m3 0h2m-1 0h2m1 0h2m0 0h2m-1 0h2m0 0h2m-1 0h2m-1 0h2m2 0h2m0 0h2m0 0h2m-1 0h2m-1 0h2m-1 0h2m1 0h2m-1 0h2m1 0h2m-1 0h2m0 0h2m-1 0h2m-1 0h2m0 0h2m0 0h2m-1 0h2m1 0h2m-1 0h2m0 0h2m-1 0h2m0 0h2m-1 0h2m-1 0h2m-1 0h2m-1 0h2m0 0h2m1 0h2m1 0h2m5 0h2m-116 1h2m1 0h2m1 0h2m6 0h2m9 0h2m16 0h2m-1 0h2m1 0h2m1 0h2m-1 0h2m-1 0h2m0 0h2m-1 0h2m-1 0h2m0 0h2m2 0h2m-1 0h2m-1 0h2m-1 0h2m-1 0h2m-1 0h2m4 0h2m-1 0h2m-1 0h2m-1 0h2m-1 0h2m-1 0h2m1 0h2m-1 0h2m-1 0h2m-1 0h2m-1 0h2m-1 0h2m0 0h2m1 0h2m1 0h2m-1 0h2m-1 0h2m0 0h2m1 0h2m10 0h2m1 0h2m-137 1h2m3 0h2m-1 0h2m24 0h2m-1 0h2m0 0h2m5 0h2m-1 0h2m7 0h2m1 0h2m0 0h2m-1 0h2m4 0h2m0 0h2m6 0h2m-1 0h2m0 0h2m2 0h2m-1 0h2m0 0h2m2 0h2m-1 0h2m0 0h2m-1 0h2m-1 0h2m0 0h2m2 0h2m-1 0h2m1 0h2m-1 0h2m-1 0h2m-1 0h2m0 0h2m-1 0h2m-1 0h2m5 0h2m-1 0h2m0 0h2m1 0h2m3 0h2m-1 0h2m4 0h2m-1 0h2m-143 1h2m7 0h2m16 0h2m-1 0h2m0 0h2m0 0h2m-1 0h2m7 0h2m5 0h2m0 0h2m0 0h2m7 0h2m4 0h2m1 0h2m1 0h2m2 0h2m2 0h2m-1 0h2m-1 0h2m1 0h2m-1 0h2m-1 0h2m0 0h2m-1 0h2m-1 0h2m-1 0h2m-1 0h2m-1 0h2m-1 0h2m1 0h2m-1 0h2m-1 0h2m1 0h2m1 0h2m0 0h2m2 0h2m0 0h2m-1 0h2m-1 0h2m4 0h2m-1 0h2m0 0h2m-1 0h2m3 0h2m98 0h2m-217 1h2m9 0h2m-1 0h2m16 0h2m1 0h2m2 0h2m0 0h2m9 0h2m8 0h2m1 0h2m0 0h2m-1 0h2m1 0h2m0 0h2m1 0h2m0 0h2m0 0h2m-1 0h2m0 0h2m-1 0h2m0 0h2m-1 0h2m-1 0h2m-1 0h2m-1 0h2m-1 0h2m-1 0h2m2 0h2m2 0h2m3 0h2m5 0h2m2 0h2m5 0h2m17 0h2m-163 1h2m8 0h2m2 0h2m14 0h2m12 0h2m9 0h2m-1 0h2m5 0h2m-1 0h2m3 0h2m1 0h2m-1 0h2m2 0h2m-1 0h2m4 0h2m1 0h2m-1 0h2m0 0h2m-1 0h2m0 0h2m-1 0h2m1 0h2m-1 0h2m-1 0h2m-1 0h2m0 0h2m3 0h2m-1 0h2m0 0h2m1 0h2m0 0h2m-1 0h2m4 0h2m-1 0h2m16 0h2m2 0h2m1 0h2m57 0h2m-208 1h2m8 0h2m20 0h2m-1 0h2m4 0h2m12 0h2m4 0h2m13 0h2m1 0h2m-1 0h2m-1 0h2m0 0h2m1 0h2m-1 0h2m0 0h2m-1 0h2m2 0h2m3 0h2m-1 0h2m3 0h2m-1 0h2m2 0h2m0 0h2m4 0h2m-1 0h2m0 0h2m-1 0h2m-1 0h2m5 0h2m2 0h2m0 0h2m0 0h2m1 0h2m3 0h2m-115 1h2m-1 0h2m6 0h2m8 0h2m2 0h2m-1 0h2m14 0h2m0 0h2m1 0h2m2 0h2m0 0h2m-1 0h2m-1 0h2m-1 0h2m0 0h2m0 0h2m1 0h2m0 0h2m1 0h2m2 0h2m-1 0h2m0 0h2m-1 0h2m-1 0h2m0 0h2m-1 0h2m0 0h2m0 0h2m0 0h2m-1 0h2m0 0h2m1 0h2m1 0h2m3 0h2m-135 1h2m19 0h2m0 0h2m2 0h2m35 0h2m11 0h2m-1 0h2m4 0h2m4 0h2m-1 0h2m-1 0h2m0 0h2m1 0h2m-1 0h2m0 0h2m-1 0h2m2 0h2m1 0h2m1 0h2m2 0h2m0 0h2m-1 0h2m0 0h2m1 0h2m1 0h2m-1 0h2m6 0h2m22 0h2m-143 1h2m35 0h2m15 0h2m5 0h2m8 0h2m-1 0h2m-1 0h2m4 0h2m-1 0h2m-1 0h2m3 0h2m3 0h2m2 0h2m0 0h2m-1 0h2m-1 0h2m2 0h2m15 0h2m-138 1h2m24 0h2m12 0h2m-1 0h2m-1 0h2m-1 0h2m18 0h2m1 0h2m3 0h2m0 0h2m-1 0h2m2 0h2m1 0h2m1 0h2m1 0h2m0 0h2m3 0h2m6 0h2m0 0h2m2 0h2m3 0h2m3 0h2m11 0h2m-112 1h2m3 0h2m3 0h2m10 0h2m-1 0h2m12 0h2m8 0h2m4 0h2m0 0h2m0 0h2m6 0h2m0 0h2m5 0h2m3 0h2m-1 0h2m2 0h2m1 0h2m-1 0h2m15 0h2m-131 1h2m9 0h2m1 0h2m26 0h2m17 0h2m20 0h2m4 0h2m0 0h2m10 0h2m22 0h2m18 0h2m-125 1h2m9 0h2m7 0h2m21 0h2m30 0h2m0 0h2m-1 0h2m7 0h2m4 0h2m7 0h2m12 0h2m-120 1h2m0 0h2m47 0h2m7 0h2m-1 0h2m0 0h2m-1 0h2m2 0h2m6 0h2m15 0h2m-117 1h2m0 0h2m2 0h2m18 0h2m16 0h2m33 0h2m-82 1h2m22 0h2m0 0h2m2 0h2m2 0h2m-1 0h2m11 0h2m-1 0h2m7 0h2m31 0h2m5 0h2m0 0h2m2 0h2m13 0h2m4 0h2m-126 1h2m7 0h2m31 0h2m7 0h2m12 0h2m1 0h2m22 0h2m6 0h2m8 0h2m-103 1h2m15 0h2m8 0h2m2 0h2m13 0h2m15 0h2m36 0h2m-66 1h2m0 0h2m26 0h2m-1 0h2m50 0h2m-124 1h2m3 0h2m5 0h2m45 0h2m-69 1h2m2 0h2m4 0h2m18 0h2m64 0h2m-93 1h2m0 0h2m0 0h2m-1 0h2m-1 0h2m15 0h2m57 0h2m-1 0h2m-84 1h2m-1 0h2m1 0h2m0 0h2m-11 1h2m1 0h2m3 0h2m25 0h2m7 0h2m31 0h2m-78 1h2m-1 0h2m3 0h2m-1 0h2m18 1h2m-25 1h2m5 0h2m-10 1h2m-7 1h2m3 0h2m4 1h2" stroke="#000" stroke-width="1.4" opacity="0.5"/><path transform="scale(.5)" d="M336 828h2m3 1h2m-7 24h2m10 12h2m0 68h2m-96 8h2m87 0h2m-198 1h2m56 0h2m17 0h2m19 1h2m-23 1h2m-38 1h2m-12 1h2m52 0h2m-103 4h2m54 0h2m66 2h2m-130 1h2m1 0h2m12 0h2m109 0h2m-44 1h2m-18 2h2m91 0h2m-87 1h2m13 0h2m3 1h2m22 1h2m-97 1h2m36 3h2m65 0h2m-20 1h2m-70 1h2m-39 1h2m94 1h2m16 0h2m6 0h2m-24 2h2m43 0h2m-74 1h2m55 0h2m50 0h2m-189 1h2m45 0h2m36 0h2m29 0h2m-97 1h2m-6 1h2m94 0h2m-96 1h2m85 0h2m-113 1h2m30 0h2m30 0h2m36 1h2m68 0h2m-82 1h2m68 0h2m-149 1h2m10 0h2m96 0h2m-52 1h2m7 0h2m72 0h2m-129 1h2m12 0h2m38 0h2m35 0h2m20 0h2m-73 1h2m-36 1h2m8 0h2m74 0h2m26 0h2m1 0h2m7 0h2m-106 1h2m12 0h2m64 0h2m70 0h2m-150 1h2m8 0h2m22 0h2m10 0h2m4 0h2m-114 1h2m27 0h2m21 0h2m40 0h2m8 0h2m13 0h2m30 0h2m9 0h2m22 0h2m-150 1h2m16 0h2m24 0h2m82 0h2m8 0h2m15 0h2m-183 1h2m1 0h2m5 0h2m5 0h2m3 0h2m-1 0h2m123 0h2m-177 1h2m36 0h2m6 0h2m3 0h2m7 0h2m9 0h2m134 0h2m-163 1h2m0 0h2m29 0h2m42 0h2m48 0h2m21 0h2m-153 1h2m1 0h2m46 0h2m47 0h2m45 0h2m6 0h2m3 0h2m-195 1h2m40 0h2m4 0h2m5 0h2m14 0h2m66 0h2m30 0h2m-157 1h2m-1 0h2m11 0h2m15 0h2m5 0h2m28 0h2m70 0h2m21 0h2m7 0h2m-1 0h2m14 0h2m-199 1h2m17 0h2m7 0h2m10 0h2m2 0h2m-1 0h2m10 0h2m0 0h2m48 0h2m18 0h2m5 0h2m15 0h2m9 0h2m24 0h2m-189 1h2m40 0h2m-1 0h2m24 0h2m104 0h2m-171 1h2m0 0h2m2 0h2m19 0h2m12 0h2m0 0h2m13 0h2m22 0h2m3 0h2m30 0h2m16 0h2m-1 0h2m13 0h2m1 0h2m15 0h2m-191 1h2m8 0h2m3 0h2m20 0h2m5 0h2m10 0h2m6 0h2m50 0h2m9 0h2m17 0h2m8 0h2m0 0h2m2 0h2m0 0h2m9 0h2m8 0h2m13 0h2m-198 1h2m0 0h2m5 0h2m2 0h2m3 0h2m0 0h2m13 0h2m10 0h2m1 0h2m19 0h2m6 0h2m-1 0h2m1 0h2m29 0h2m24 0h2m12 0h2m27 0h2m2 0h2m3 0h2m4 0h2m-186 1h2m14 0h2m20 0h2m1 0h2m46 0h2m38 0h2m0 0h2m0 0h2m3 0h2m4 0h2m2 0h2m7 0h2m12 0h2m2 0h2m-185 1h2m1 0h2m7 0h2m4 0h2m5 0h2m2 0h2m7 0h2m1 0h2m7 0h2m-1 0h2m5 0h2m3 0h2m15 0h2m17 0h2m24 0h2m12 0h2m-1 0h2m10 0h2m2 0h2m1 0h2m0 0h2m12 0h2m-194 1h2m23 0h2m4 0h2m9 0h2m17 0h2m2 0h2m-1 0h2m54 0h2m8 0h2m12 0h2m8 0h2m10 0h2m3 0h2m0 0h2m6 0h2m2 0h2m-177 1h2m12 0h2m5 0h2m10 0h2m6 0h2m1 0h2m0 0h2m2 0h2m20 0h2m11 0h2m35 0h2m1 0h2m20 0h2m-1 0h2m-1 0h2m2 0h2m5 0h2m17 0h2m-193 1h2m18 0h2m2 0h2m4 0h2m12 0h2m0 0h2m-1 0h2m1 0h2m0 0h2m1 0h2m-1 0h2m4 0h2m1 0h2m-1 0h2m6 0h2m11 0h2m2 0h2m6 0h2m3 0h2m17 0h2m11 0h2m3 0h2m14 0h2m4 0h2m16 0h2m2 0h2m17 0h2m-201 1h2m37 0h2m-1 0h2m0 0h2m7 0h2m-1 0h2m7 0h2m1 0h2m19 0h2m45 0h2m18 0h2m1 0h2m-1 0h2m5 0h2m25 0h2m22 0h2m-211 1h2m14 0h2m13 0h2m1 0h2m15 0h2m2 0h2m0 0h2m6 0h2m10 0h2m3 0h2m9 0h2m2 0h2m11 0h2m2 0h2m1 0h2m1 0h2m3 0h2m2 0h2m6 0h2m2 0h2m9 0h2m16 0h2m-170 1h2m-1 0h2m4 0h2m1 0h2m14 0h2m1 0h2m0 0h2m3 0h2m3 0h2m1 0h2m19 0h2m28 0h2m10 0h2m4 0h2m8 0h2m-1 0h2m3 0h2m1 0h2m8 0h2m4 0h2m0 0h2m-1 0h2m5 0h2m15 0h2m-195 1h2m2 0h2m5 0h2m11 0h2m2 0h2m9 0h2m10 0h2m2 0h2m0 0h2m2 0h2m1 0h2m2 0h2m-1 0h2m0 0h2m11 0h2m7 0h2m17 0h2m3 0h2m2 0h2m4 0h2m9 0h2m8 0h2m-1 0h2m0 0h2m0 0h2m-1 0h2m5 0h2m0 0h2m4 0h2m-1 0h2m0 0h2m0 0h2m-1 0h2m3 0h2m1 0h2m-174 1h2m22 0h2m2 0h2m17 0h2m21 0h2m2 0h2m16 0h2m1 0h2m4 0h2m-1 0h2m6 0h2m4 0h2m4 0h2m-1 0h2m5 0h2m-1 0h2m-1 0h2m-1 0h2m0 0h2m-1 0h2m1 0h2m0 0h2m1 0h2m3 0h2m-1 0h2m0 0h2m11 0h2m-1 0h2m-156 1h2m10 0h2m1 0h2m-1 0h2m0 0h2m0 0h2m0 0h2m1 0h2m1 0h2m1 0h2m4 0h2m5 0h2m2 0h2m-1 0h2m2 0h2m0 0h2m2 0h2m12 0h2m2 0h2m10 0h2m3 0h2m1 0h2m5 0h2m5 0h2m0 0h2m0 0h2m0 0h2m-1 0h2m0 0h2m1 0h2m1 0h2m4 0h2m1 0h2m2 0h2m1 0h2m-1 0h2m4 0h2m0 0h2m0 0h2m47 0h2m-204 1h2m-1 0h2m3 0h2m2 0h2m-1 0h2m4 0h2m1 0h2m0 0h2m0 0h2m7 0h2m4 0h2m3 0h2m1 0h2m3 0h2m2 0h2m1 0h2m27 0h2m2 0h2m0 0h2m-1 0h2m1 0h2m-1 0h2m-1 0h2m10 0h2m-1 0h2m3 0h2m5 0h2m4 0h2m2 0h2m2 0h2m1 0h2m4 0h2m-1 0h2m2 0h2m5 0h2m-180 1h2m8 0h2m3 0h2m17 0h2m-1 0h2m2 0h2m-1 0h2m-1 0h2m0 0h2m2 0h2m0 0h2m8 0h2m-1 0h2m4 0h2m-1 0h2m1 0h2m1 0h2m7 0h2m8 0h2m0 0h2m-1 0h2m2 0h2m-1 0h2m3 0h2m3 0h2m4 0h2m-1 0h2m-1 0h2m-1 0h2m1 0h2m-1 0h2m0 0h2m-1 0h2m1 0h2m-1 0h2m-1 0h2m-1 0h2m-1 0h2m0 0h2m9 0h2m0 0h2m2 0h2m4 0h2m2 0h2m-1 0h2m0 0h2m8 0h2m-168 1h2m0 0h2m9 0h2m6 0h2m-1 0h2m11 0h2m11 0h2m6 0h2m0 0h2m1 0h2m-1 0h2m10 0h2m10 0h2m-1 0h2m-1 0h2m0 0h2m5 0h2m-1 0h2m-1 0h2m1 0h2m-1 0h2m0 0h2m0 0h2m-1 0h2m1 0h2m-1 0h2m3 0h2m0 0h2m1 0h2m-1 0h2m-1 0h2m-1 0h2m-1 0h2m-1 0h2m4 0h2m8 0h2m3 0h2m-1 0h2m1 0h2m-164 1h2m16 0h2m3 0h2m7 0h2m7 0h2m0 0h2m5 0h2m13 0h2m4 0h2m-1 0h2m3 0h2m-1 0h2m0 0h2m-1 0h2m2 0h2m1 0h2m-1 0h2m3 0h2m-1 0h2m2 0h2m-1 0h2m0 0h2m-1 0h2m0 0h2m3 0h2m-1 0h2m-1 0h2m2 0h2m-1 0h2m2 0h2m6 0h2m-1 0h2m-1 0h2m-1 0h2m-1 0h2m-1 0h2m1 0h2m8 0h2m9 0h2m7 0h2m0 0h2m-170 1h2m36 0h2m8 0h2m6 0h2m-1 0h2m6 0h2m-1 0h2m0 0h2m1 0h2m0 0h2m1 0h2m-1 0h2m5 0h2m0 0h2m4 0h2m2 0h2m-1 0h2m3 0h2m0 0h2m0 0h2m2 0h2m0 0h2m-1 0h2m-1 0h2m-1 0h2m2 0h2m0 0h2m0 0h2m-1 0h2m0 0h2m0 0h2m-1 0h2m-1 0h2m2 0h2m0 0h2m1 0h2m-1 0h2m-1 0h2m3 0h2m-1 0h2m24 0h2m-155 1h2m-1 0h2m18 0h2m7 0h2m-1 0h2m0 0h2m2 0h2m9 0h2m2 0h2m1 0h2m1 0h2m0 0h2m0 0h2m3 0h2m-1 0h2m-1 0h2m-1 0h2m0 0h2m-1 0h2m4 0h2m-1 0h2m-1 0h2m1 0h2m0 0h2m-1 0h2m1 0h2m2 0h2m0 0h2m0 0h2m-1 0h2m0 0h2m-1 0h2m-1 0h2m-1 0h2m-1 0h2m-1 0h2m-1 0h2m-1 0h2m-1 0h2m1 0h2m-1 0h2m-1 0h2m-1 0h2m0 0h2m-1 0h2m-1 0h2m0 0h2m1 0h2m-1 0h2m0 0h2m4 0h2m3 0h2m38 0h2m-204 1h2m2 0h2m20 0h2m1 0h2m8 0h2m3 0h2m2 0h2m3 0h2m0 0h2m0 0h2m-1 0h2m0 0h2m1 0h2m0 0h2m0 0h2m-1 0h2m0 0h2m1 0h2m3 0h2m2 0h2m0 0h2m6 0h2m-1 0h2m-1 0h2m-1 0h2m-1 0h2m0 0h2m-1 0h2m-1 0h2m-1 0h2m0 0h2m0 0h2m-1 0h2m0 0h2m-1 0h2m1 0h2m-1 0h2m-1 0h2m0 0h2m-1 0h2m-1 0h2m-1 0h2m0 0h2m0 0h2m1 0h2m-1 0h2m-1 0h2m-1 0h2m5 0h2m2 0h2m-1 0h2m3 0h2m4 0h2m15 0h2m5 0h2m7 0h2m-173 1h2m4 0h2m1 0h2m-1 0h2m10 0h2m3 0h2m-1 0h2m4 0h2m0 0h2m3 0h2m0 0h2m1 0h2m7 0h2m1 0h2m4 0h2m0 0h2m5 0h2m3 0h2m1 0h2m0 0h2m-1 0h2m-1 0h2m-1 0h2m-1 0h2m-1 0h2m-1 0h2m-1 0h2m-1 0h2m-1 0h2m-1 0h2m1 0h2m0 0h2m-1 0h2m-1 0h2m-1 0h2m0 0h2m1 0h2m-1 0h2m0 0h2m-1 0h2m-1 0h2m1 0h2m-1 0h2m-1 0h2m-1 0h2m-1 0h2m-1 0h2m-1 0h2m0 0h2m-1 0h2m0 0h2m-1 0h2m-1 0h2m11 0h2m2 0h2m2 0h2m31 0h2m-180 1h2m2 0h2m3 0h2m0 0h2m-1 0h2m-1 0h2m6 0h2m4 0h2m0 0h2m1 0h2m0 0h2m0 0h2m4 0h2m-1 0h2m0 0h2m-1 0h2m9 0h2m5 0h2m0 0h2m4 0h2m4 0h2m0 0h2m-1 0h2m1 0h2m-1 0h2m0 0h2m-1 0h2m-1 0h2m3 0h2m1 0h2m0 0h2m-1 0h2m0 0h2m-1 0h2m-1 0h2m-1 0h2m0 0h2m1 0h2m5 0h2m-1 0h2m-1 0h2m1 0h2m-1 0h2m-1 0h2m1 0h2m7 0h2m0 0h2m7 0h2m-145 1h2m2 0h2m20 0h2m2 0h2m0 0h2m0 0h2m5 0h2m4 0h2m1 0h2m1 0h2m-1 0h2m9 0h2m2 0h2m-1 0h2m0 0h2m-1 0h2m-1 0h2m0 0h2m-1 0h2m2 0h2m0 0h2m0 0h2m-1 0h2m1 0h2m-1 0h2m1 0h2m0 0h2m-1 0h2m-1 0h2m1 0h2m-1 0h2m3 0h2m-1 0h2m-1 0h2m0 0h2m-1 0h2m-1 0h2m2 0h2m-1 0h2m1 0h2m3 0h2m0 0h2m0 0h2m-1 0h2m17 0h2m11 0h2m-164 1h2m3 0h2m9 0h2m7 0h2m0 0h2m0 0h2m2 0h2m2 0h2m6 0h2m11 0h2m0 0h2m0 0h2m1 0h2m-1 0h2m-1 0h2m-1 0h2m0 0h2m0 0h2m-1 0h2m1 0h2m-1 0h2m-1 0h2m-1 0h2m-1 0h2m-1 0h2m0 0h2m-1 0h2m1 0h2m-1 0h2m-1 0h2m-1 0h2m-1 0h2m-1 0h2m-1 0h2m-1 0h2m-1 0h2m-1 0h2m-1 0h2m9 0h2m-1 0h2m4 0h2m0 0h2m5 0h2m0 0h2m6 0h2m34 0h2m-175 1h2m10 0h2m5 0h2m1 0h2m9 0h2m15 0h2m-1 0h2m2 0h2m0 0h2m0 0h2m0 0h2m4 0h2m-1 0h2m-1 0h2m0 0h2m-1 0h2m1 0h2m2 0h2m-1 0h2m0 0h2m-1 0h2m0 0h2m-1 0h2m0 0h2m0 0h2m-1 0h2m-1 0h2m-1 0h2m-1 0h2m1 0h2m1 0h2m0 0h2m1 0h2m0 0h2m0 0h2m0 0h2m2 0h2m-1 0h2m0 0h2m-118 1h2m0 0h2m0 0h2m9 0h2m0 0h2m0 0h2m0 0h2m1 0h2m3 0h2m9 0h2m-1 0h2m1 0h2m4 0h2m1 0h2m12 0h2m2 0h2m-1 0h2m7 0h2m-1 0h2m-1 0h2m0 0h2m0 0h2m0 0h2m0 0h2m0 0h2m0 0h2m0 0h2m0 0h2m-1 0h2m2 0h2m1 0h2m0 0h2m-1 0h2m-1 0h2m-1 0h2m-1 0h2m11 0h2m0 0h2m-139 1h2m25 0h2m1 0h2m-1 0h2m2 0h2m0 0h2m1 0h2m13 0h2m-1 0h2m2 0h2m3 0h2m1 0h2m1 0h2m-1 0h2m-1 0h2m2 0h2m-1 0h2m0 0h2m0 0h2m-1 0h2m-1 0h2m1 0h2m0 0h2m-1 0h2m0 0h2m1 0h2m-1 0h2m-1 0h2m-1 0h2m-1 0h2m-1 0h2m1 0h2m-1 0h2m0 0h2m-1 0h2m0 0h2m0 0h2m3 0h2m1 0h2m-1 0h2m13 0h2m0 0h2m8 0h2m-145 1h2m4 0h2m-1 0h2m11 0h2m-1 0h2m4 0h2m0 0h2m9 0h2m-1 0h2m2 0h2m2 0h2m0 0h2m-1 0h2m4 0h2m-1 0h2m-1 0h2m4 0h2m-1 0h2m3 0h2m-1 0h2m-1 0h2m2 0h2m1 0h2m1 0h2m2 0h2m-1 0h2m-1 0h2m1 0h2m0 0h2m-1 0h2m-1 0h2m-1 0h2m0 0h2m-1 0h2m-1 0h2m0 0h2m0 0h2m0 0h2m1 0h2m2 0h2m1 0h2m0 0h2m-1 0h2m8 0h2m13 0h2m-164 1h2m39 0h2m3 0h2m2 0h2m3 0h2m5 0h2m-1 0h2m0 0h2m1 0h2m0 0h2m-1 0h2m-1 0h2m4 0h2m-1 0h2m-1 0h2m6 0h2m0 0h2m0 0h2m1 0h2m0 0h2m-1 0h2m-1 0h2m4 0h2m-1 0h2m-1 0h2m3 0h2m-1 0h2m2 0h2m0 0h2m1 0h2m1 0h2m1 0h2m0 0h2m0 0h2m-1 0h2m1 0h2m0 0h2m-129 1h2m7 0h2m8 0h2m0 0h2m15 0h2m6 0h2m5 0h2m11 0h2m-1 0h2m2 0h2m-1 0h2m-1 0h2m-1 0h2m0 0h2m0 0h2m0 0h2m0 0h2m-1 0h2m0 0h2m5 0h2m-1 0h2m-1 0h2m-1 0h2m-1 0h2m-1 0h2m0 0h2m-1 0h2m0 0h2m-1 0h2m8 0h2m0 0h2m2 0h2m3 0h2m-1 0h2m16 0h2m-127 1h2m5 0h2m4 0h2m0 0h2m1 0h2m7 0h2m11 0h2m0 0h2m-1 0h2m1 0h2m1 0h2m-1 0h2m3 0h2m3 0h2m-1 0h2m-1 0h2m2 0h2m4 0h2m-1 0h2m-1 0h2m1 0h2m0 0h2m0 0h2m-1 0h2m-1 0h2m-1 0h2m-1 0h2m3 0h2m1 0h2m-1 0h2m2 0h2m-1 0h2m2 0h2m-1 0h2m3 0h2m0 0h2m-83 1h2m1 0h2m14 0h2m6 0h2m7 0h2m5 0h2m0 0h2m-1 0h2m0 0h2m1 0h2m2 0h2m0 0h2m3 0h2m2 0h2m-1 0h2m7 0h2m-104 1h2m9 0h2m6 0h2m15 0h2m-1 0h2m4 0h2m-1 0h2m18 0h2m-1 0h2m-1 0h2m1 0h2m-1 0h2m-1 0h2m5 0h2m-1 0h2m8 0h2m6 0h2m20 0h2m-139 1h2m26 0h2m24 0h2m0 0h2m3 0h2m2 0h2m0 0h2m0 0h2m9 0h2m0 0h2m-1 0h2m0 0h2m1 0h2m2 0h2m1 0h2m0 0h2m-1 0h2m4 0h2m-1 0h2m2 0h2m-1 0h2m1 0h2m-120 1h2m14 0h2m27 0h2m-1 0h2m4 0h2m12 0h2m11 0h2m4 0h2m0 0h2m-1 0h2m0 0h2m-1 0h2m-1 0h2m7 0h2m0 0h2m0 0h2m-1 0h2m0 0h2m3 0h2m-124 1h2m-1 0h2m35 0h2m25 0h2m0 0h2m5 0h2m2 0h2m2 0h2m2 0h2m1 0h2m5 0h2m7 0h2m-1 0h2m0 0h2m-1 0h2m4 0h2m33 0h2m43 0h2m-175 1h2m5 0h2m18 0h2m28 0h2m13 0h2m7 0h2m4 0h2m8 0h2m6 0h2m-129 1h2m11 0h2m3 0h2m17 0h2m2 0h2m5 0h2m30 0h2m-1 0h2m0 0h2m11 0h2m1 0h2m5 0h2m1 0h2m29 0h2m14 0h2m-149 1h2m10 0h2m9 0h2m2 0h2m17 0h2m19 0h2m9 0h2m0 0h2m15 0h2m1 0h2m24 0h2m-132 1h2m-1 0h2m4 0h2m16 0h2m0 0h2m18 0h2m23 0h2m17 0h2m8 0h2m-100 1h2m13 0h2m1 0h2m-30 1h2m0 0h2m2 0h2m28 0h2m11 0h2m48 0h2m63 0h2m-162 1h2m43 0h2m35 0h2m27 0h2m51 0h2m-169 1h2m2 0h2m4 0h2m33 0h2m35 0h2m-85 1h2m1 0h2m-1 0h2m1 0h2m38 0h2m44 0h2m5 0h2m-40 1h2m4 0h2m-70 1h2m54 0h2m-58 1h2m0 0h2m6 0h2m-1 0h2m101 0h2m74 0h2m-189 1h2m4 0h2m-11 1h2m0 0h2m5 1h2m-1 0h2m0 0h2m-12 1h2m-1 0h2m3 0h2m0 0h2m-1 1h2m-7 1h2" stroke="#000" stroke-width="1.4" opacity="0.5"/><path transform="scale(.5)" d="M338 827h2m-71 10h2m34 16h2m-2 2h2m-13 5h2m-13 23h2m-141 27h2m94 3h2m5 1h2m57 0h2m-89 18h2m-44 1h2m-40 4h2m62 0h2m-20 2h2m40 2h2m-14 2h2m-44 1h2m116 2h2m38 1h2m-163 3h2m90 0h2m61 1h2m-123 1h2m124 0h2m-62 3h2m-157 2h2m141 3h2m-112 1h2m2 1h2m38 0h2m22 0h2m3 0h2m-13 1h2m8 0h2m53 1h2m-20 1h2m-101 1h2m42 0h2m44 0h2m15 0h2m-51 1h2m0 1h2m-58 1h2m117 0h2m-51 1h2m43 0h2m-68 1h2m57 0h2m-108 1h2m30 0h2m18 0h2m-37 1h2m133 0h2m-152 1h2m25 0h2m-66 1h2m47 0h2m8 0h2m-14 1h2m-31 1h2m99 0h2m23 1h2m-107 1h2m5 0h2m16 0h2m54 0h2m10 0h2m49 0h2m-151 1h2m18 0h2m14 0h2m54 0h2m8 0h2m0 0h2m-64 1h2m-88 1h2m57 0h2m54 0h2m23 0h2m-126 1h2m9 0h2m36 0h2m15 0h2m-74 1h2m41 0h2m55 0h2m95 0h2m-206 1h2m31 0h2m37 0h2m6 0h2m66 0h2m26 0h2m-130 1h2m0 0h2m6 0h2m12 0h2m22 0h2m9 0h2m27 0h2m25 0h2m-111 1h2m30 0h2m-1 0h2m58 0h2m7 0h2m26 0h2m-175 1h2m20 0h2m13 0h2m113 0h2m-132 1h2m1 0h2m1 0h2m9 0h2m21 0h2m3 0h2m50 0h2m-93 1h2m0 0h2m64 0h2m1 0h2m13 0h2m70 0h2m-184 1h2m24 0h2m0 0h2m1 0h2m0 0h2m23 0h2m25 0h2m20 0h2m12 0h2m39 0h2m19 0h2m-164 1h2m33 0h2m34 0h2m11 0h2m48 0h2m5 0h2m3 0h2m5 0h2m15 0h2m-197 1h2m4 0h2m2 0h2m12 0h2m13 0h2m25 0h2m10 0h2m6 0h2m24 0h2m13 0h2m61 0h2m4 0h2m-195 1h2m10 0h2m3 0h2m2 0h2m-1 0h2m5 0h2m0 0h2m7 0h2m34 0h2m61 0h2m3 0h2m6 0h2m4 0h2m3 0h2m4 0h2m4 0h2m6 0h2m-186 1h2m4 0h2m16 0h2m2 0h2m5 0h2m12 0h2m12 0h2m0 0h2m21 0h2m4 0h2m53 0h2m11 0h2m2 0h2m16 0h2m6 0h2m4 0h2m-175 1h2m12 0h2m7 0h2m21 0h2m23 0h2m37 0h2m20 0h2m0 0h2m4 0h2m-1 0h2m-160 1h2m9 0h2m0 0h2m0 0h2m5 0h2m9 0h2m14 0h2m6 0h2m19 0h2m13 0h2m41 0h2m10 0h2m2 0h2m3 0h2m5 0h2m4 0h2m-163 1h2m1 0h2m6 0h2m0 0h2m-1 0h2m9 0h2m8 0h2m20 0h2m50 0h2m0 0h2m13 0h2m3 0h2m1 0h2m4 0h2m6 0h2m4 0h2m10 0h2m-181 1h2m37 0h2m14 0h2m74 0h2m3 0h2m9 0h2m-1 0h2m7 0h2m23 0h2m-177 1h2m1 0h2m10 0h2m7 0h2m0 0h2m5 0h2m5 0h2m3 0h2m1 0h2m-1 0h2m64 0h2m4 0h2m9 0h2m3 0h2m-1 0h2m1 0h2m0 0h2m1 0h2m1 0h2m1 0h2m-1 0h2m-1 0h2m20 0h2m-1 0h2m31 0h2m-214 1h2m10 0h2m6 0h2m2 0h2m3 0h2m10 0h2m12 0h2m3 0h2m41 0h2m10 0h2m6 0h2m6 0h2m1 0h2m3 0h2m1 0h2m2 0h2m0 0h2m0 0h2m4 0h2m27 0h2m-200 1h2m13 0h2m3 0h2m17 0h2m6 0h2m17 0h2m0 0h2m3 0h2m4 0h2m28 0h2m2 0h2m33 0h2m8 0h2m4 0h2m1 0h2m-1 0h2m0 0h2m5 0h2m-1 0h2m3 0h2m-176 1h2m12 0h2m7 0h2m3 0h2m1 0h2m22 0h2m14 0h2m20 0h2m1 0h2m3 0h2m5 0h2m4 0h2m8 0h2m2 0h2m2 0h2m8 0h2m1 0h2m0 0h2m0 0h2m15 0h2m3 0h2m8 0h2m-189 1h2m11 0h2m2 0h2m6 0h2m1 0h2m1 0h2m-1 0h2m7 0h2m2 0h2m4 0h2m7 0h2m4 0h2m-1 0h2m34 0h2m1 0h2m6 0h2m-1 0h2m-1 0h2m3 0h2m8 0h2m5 0h2m-1 0h2m-1 0h2m9 0h2m1 0h2m7 0h2m8 0h2m-158 1h2m5 0h2m4 0h2m-1 0h2m0 0h2m-1 0h2m5 0h2m3 0h2m10 0h2m0 0h2m2 0h2m8 0h2m20 0h2m8 0h2m0 0h2m4 0h2m10 0h2m-1 0h2m0 0h2m-1 0h2m-1 0h2m3 0h2m-1 0h2m3 0h2m-1 0h2m1 0h2m-1 0h2m3 0h2m-1 0h2m3 0h2m8 0h2m-170 1h2m24 0h2m4 0h2m-1 0h2m11 0h2m-1 0h2m-1 0h2m1 0h2m0 0h2m0 0h2m0 0h2m15 0h2m7 0h2m13 0h2m0 0h2m8 0h2m1 0h2m0 0h2m0 0h2m-1 0h2m9 0h2m0 0h2m0 0h2m2 0h2m-1 0h2m3 0h2m4 0h2m1 0h2m7 0h2m-1 0h2m0 0h2m0 0h2m-1 0h2m-1 0h2m7 0h2m0 0h2m-196 1h2m16 0h2m1 0h2m4 0h2m-1 0h2m1 0h2m1 0h2m2 0h2m10 0h2m12 0h2m4 0h2m7 0h2m2 0h2m16 0h2m2 0h2m4 0h2m-1 0h2m29 0h2m2 0h2m1 0h2m-1 0h2m-1 0h2m9 0h2m0 0h2m0 0h2m0 0h2m0 0h2m2 0h2m4 0h2m-1 0h2m16 0h2m-162 1h2m-1 0h2m1 0h2m6 0h2m0 0h2m1 0h2m1 0h2m-1 0h2m-1 0h2m10 0h2m7 0h2m1 0h2m0 0h2m12 0h2m2 0h2m1 0h2m0 0h2m1 0h2m0 0h2m0 0h2m2 0h2m1 0h2m2 0h2m-1 0h2m0 0h2m-1 0h2m9 0h2m2 0h2m1 0h2m3 0h2m1 0h2m2 0h2m7 0h2m13 0h2m5 0h2m-174 1h2m8 0h2m0 0h2m1 0h2m4 0h2m0 0h2m12 0h2m-1 0h2m-1 0h2m2 0h2m0 0h2m-1 0h2m0 0h2m12 0h2m4 0h2m-1 0h2m0 0h2m12 0h2m0 0h2m0 0h2m0 0h2m1 0h2m-1 0h2m4 0h2m1 0h2m1 0h2m-1 0h2m-1 0h2m5 0h2m1 0h2m5 0h2m3 0h2m1 0h2m2 0h2m0 0h2m-154 1h2m15 0h2m7 0h2m4 0h2m4 0h2m3 0h2m4 0h2m-1 0h2m9 0h2m4 0h2m9 0h2m0 0h2m6 0h2m0 0h2m1 0h2m3 0h2m-1 0h2m1 0h2m-1 0h2m-1 0h2m4 0h2m-1 0h2m-1 0h2m-1 0h2m5 0h2m0 0h2m13 0h2m1 0h2m-1 0h2m-1 0h2m0 0h2m1 0h2m-1 0h2m5 0h2m6 0h2m-151 1h2m-1 0h2m15 0h2m4 0h2m0 0h2m3 0h2m10 0h2m3 0h2m0 0h2m0 0h2m-1 0h2m6 0h2m0 0h2m6 0h2m0 0h2m1 0h2m0 0h2m-1 0h2m5 0h2m2 0h2m-1 0h2m4 0h2m2 0h2m-1 0h2m0 0h2m-1 0h2m0 0h2m1 0h2m0 0h2m0 0h2m1 0h2m-1 0h2m0 0h2m1 0h2m-1 0h2m1 0h2m-1 0h2m4 0h2m-1 0h2m-1 0h2m5 0h2m0 0h2m-1 0h2m6 0h2m-174 1h2m20 0h2m1 0h2m-1 0h2m3 0h2m10 0h2m2 0h2m0 0h2m1 0h2m2 0h2m2 0h2m1 0h2m2 0h2m0 0h2m1 0h2m2 0h2m0 0h2m3 0h2m-1 0h2m7 0h2m6 0h2m0 0h2m0 0h2m2 0h2m-1 0h2m0 0h2m0 0h2m0 0h2m-1 0h2m0 0h2m1 0h2m0 0h2m1 0h2m0 0h2m2 0h2m-1 0h2m1 0h2m0 0h2m3 0h2m2 0h2m5 0h2m2 0h2m-135 1h2m8 0h2m3 0h2m-1 0h2m4 0h2m7 0h2m2 0h2m-1 0h2m4 0h2m8 0h2m-1 0h2m-1 0h2m2 0h2m-1 0h2m-1 0h2m0 0h2m-1 0h2m-1 0h2m2 0h2m0 0h2m0 0h2m0 0h2m2 0h2m-1 0h2m1 0h2m-1 0h2m-1 0h2m-1 0h2m4 0h2m0 0h2m0 0h2m2 0h2m0 0h2m-1 0h2m-1 0h2m-1 0h2m-1 0h2m0 0h2m3 0h2m0 0h2m-1 0h2m17 0h2m9 0h2m-169 1h2m2 0h2m4 0h2m5 0h2m6 0h2m11 0h2m10 0h2m1 0h2m5 0h2m0 0h2m1 0h2m3 0h2m0 0h2m0 0h2m1 0h2m4 0h2m4 0h2m-1 0h2m-1 0h2m1 0h2m0 0h2m0 0h2m-1 0h2m0 0h2m-1 0h2m0 0h2m0 0h2m-1 0h2m-1 0h2m0 0h2m-1 0h2m2 0h2m-1 0h2m1 0h2m1 0h2m1 0h2m2 0h2m-1 0h2m3 0h2m0 0h2m0 0h2m-1 0h2m26 0h2m-169 1h2m13 0h2m3 0h2m2 0h2m-1 0h2m4 0h2m4 0h2m5 0h2m0 0h2m-1 0h2m8 0h2m4 0h2m-1 0h2m9 0h2m-1 0h2m2 0h2m-1 0h2m1 0h2m-1 0h2m1 0h2m-1 0h2m3 0h2m2 0h2m-1 0h2m-1 0h2m0 0h2m-1 0h2m0 0h2m0 0h2m-1 0h2m0 0h2m0 0h2m0 0h2m2 0h2m-1 0h2m3 0h2m-1 0h2m1 0h2m-1 0h2m0 0h2m9 0h2m1 0h2m3 0h2m12 0h2m-170 1h2m7 0h2m8 0h2m4 0h2m9 0h2m0 0h2m-1 0h2m-1 0h2m3 0h2m11 0h2m1 0h2m1 0h2m-1 0h2m-1 0h2m5 0h2m1 0h2m1 0h2m0 0h2m-1 0h2m4 0h2m-1 0h2m0 0h2m1 0h2m-1 0h2m-1 0h2m0 0h2m-1 0h2m1 0h2m0 0h2m0 0h2m0 0h2m2 0h2m-1 0h2m-1 0h2m-1 0h2m0 0h2m4 0h2m1 0h2m7 0h2m10 0h2m0 0h2m3 0h2m65 0h2m-199 1h2m-1 0h2m-1 0h2m0 0h2m1 0h2m25 0h2m8 0h2m0 0h2m-1 0h2m0 0h2m3 0h2m0 0h2m1 0h2m-1 0h2m3 0h2m-1 0h2m-1 0h2m0 0h2m0 0h2m0 0h2m-1 0h2m-1 0h2m-1 0h2m-1 0h2m0 0h2m-1 0h2m-1 0h2m-1 0h2m-1 0h2m0 0h2m-1 0h2m0 0h2m0 0h2m0 0h2m-1 0h2m0 0h2m0 0h2m-1 0h2m-1 0h2m-1 0h2m3 0h2m0 0h2m1 0h2m-1 0h2m-1 0h2m8 0h2m2 0h2m-1 0h2m12 0h2m-166 1h2m5 0h2m13 0h2m8 0h2m-1 0h2m-1 0h2m0 0h2m4 0h2m-1 0h2m1 0h2m1 0h2m7 0h2m0 0h2m0 0h2m2 0h2m0 0h2m0 0h2m1 0h2m-1 0h2m0 0h2m4 0h2m-1 0h2m3 0h2m0 0h2m-1 0h2m1 0h2m-1 0h2m0 0h2m0 0h2m0 0h2m-1 0h2m1 0h2m-1 0h2m-1 0h2m-1 0h2m-1 0h2m-1 0h2m-1 0h2m1 0h2m-1 0h2m-1 0h2m-1 0h2m-1 0h2m-1 0h2m-1 0h2m-1 0h2m1 0h2m-1 0h2m2 0h2m2 0h2m0 0h2m-1 0h2m-1 0h2m2 0h2m1 0h2m-123 1h2m2 0h2m2 0h2m4 0h2m4 0h2m0 0h2m2 0h2m1 0h2m1 0h2m4 0h2m2 0h2m3 0h2m0 0h2m7 0h2m3 0h2m-1 0h2m0 0h2m0 0h2m1 0h2m-1 0h2m-1 0h2m-1 0h2m-1 0h2m-1 0h2m0 0h2m-1 0h2m-1 0h2m-1 0h2m-1 0h2m-1 0h2m-1 0h2m0 0h2m1 0h2m-1 0h2m0 0h2m-1 0h2m-1 0h2m0 0h2m-1 0h2m3 0h2m3 0h2m1 0h2m11 0h2m4 0h2m3 0h2m16 0h2m-172 1h2m7 0h2m15 0h2m3 0h2m2 0h2m12 0h2m1 0h2m1 0h2m6 0h2m-1 0h2m-1 0h2m0 0h2m-1 0h2m-1 0h2m0 0h2m1 0h2m0 0h2m-1 0h2m-1 0h2m3 0h2m-1 0h2m-1 0h2m-1 0h2m2 0h2m-1 0h2m0 0h2m-1 0h2m0 0h2m-1 0h2m-1 0h2m2 0h2m0 0h2m1 0h2m-1 0h2m-1 0h2m-1 0h2m2 0h2m-1 0h2m-1 0h2m-1 0h2m0 0h2m3 0h2m1 0h2m-1 0h2m3 0h2m9 0h2m7 0h2m7 0h2m36 0h2m-186 1h2m16 0h2m4 0h2m0 0h2m5 0h2m-1 0h2m0 0h2m6 0h2m-1 0h2m2 0h2m-1 0h2m0 0h2m0 0h2m0 0h2m10 0h2m-1 0h2m-1 0h2m-1 0h2m-1 0h2m-1 0h2m-1 0h2m1 0h2m1 0h2m-1 0h2m-1 0h2m0 0h2m0 0h2m-1 0h2m-1 0h2m-1 0h2m-1 0h2m-1 0h2m0 0h2m-1 0h2m-1 0h2m5 0h2m-1 0h2m6 0h2m5 0h2m4 0h2m-144 1h2m5 0h2m9 0h2m6 0h2m1 0h2m-1 0h2m2 0h2m4 0h2m0 0h2m3 0h2m-1 0h2m3 0h2m5 0h2m-1 0h2m2 0h2m0 0h2m0 0h2m3 0h2m-1 0h2m-1 0h2m-1 0h2m0 0h2m-1 0h2m5 0h2m-1 0h2m-1 0h2m-1 0h2m1 0h2m-1 0h2m0 0h2m-1 0h2m0 0h2m0 0h2m0 0h2m-1 0h2m0 0h2m0 0h2m1 0h2m-1 0h2m1 0h2m0 0h2m4 0h2m-1 0h2m16 0h2m2 0h2m-148 1h2m21 0h2m11 0h2m-1 0h2m8 0h2m1 0h2m0 0h2m4 0h2m0 0h2m1 0h2m0 0h2m-1 0h2m0 0h2m1 0h2m-1 0h2m2 0h2m0 0h2m-1 0h2m0 0h2m-1 0h2m0 0h2m0 0h2m1 0h2m1 0h2m0 0h2m-1 0h2m-1 0h2m-1 0h2m1 0h2m2 0h2m-1 0h2m2 0h2m-1 0h2m6 0h2m0 0h2m-1 0h2m0 0h2m1 0h2m12 0h2m-153 1h2m5 0h2m14 0h2m4 0h2m13 0h2m1 0h2m-1 0h2m-1 0h2m5 0h2m-1 0h2m15 0h2m4 0h2m-1 0h2m-1 0h2m-1 0h2m2 0h2m2 0h2m1 0h2m2 0h2m0 0h2m0 0h2m-1 0h2m0 0h2m0 0h2m0 0h2m-1 0h2m-1 0h2m-1 0h2m0 0h2m4 0h2m2 0h2m1 0h2m2 0h2m2 0h2m-113 1h2m-1 0h2m12 0h2m3 0h2m-1 0h2m-1 0h2m13 0h2m7 0h2m-1 0h2m4 0h2m0 0h2m0 0h2m-1 0h2m-1 0h2m-1 0h2m1 0h2m-1 0h2m-1 0h2m-1 0h2m-1 0h2m-1 0h2m2 0h2m-1 0h2m-1 0h2m1 0h2m0 0h2m3 0h2m-1 0h2m2 0h2m1 0h2m0 0h2m-1 0h2m-1 0h2m11 0h2m11 0h2m-129 1h2m19 0h2m0 0h2m7 0h2m9 0h2m3 0h2m3 0h2m0 0h2m-1 0h2m0 0h2m2 0h2m1 0h2m1 0h2m0 0h2m4 0h2m-1 0h2m-1 0h2m-1 0h2m6 0h2m1 0h2m-1 0h2m0 0h2m-1 0h2m1 0h2m5 0h2m1 0h2m-1 0h2m1 0h2m-1 0h2m3 0h2m6 0h2m0 0h2m55 0h2m-202 1h2m17 0h2m2 0h2m1 0h2m-1 0h2m5 0h2m14 0h2m6 0h2m8 0h2m0 0h2m-1 0h2m0 0h2m0 0h2m1 0h2m7 0h2m2 0h2m6 0h2m0 0h2m2 0h2m-1 0h2m0 0h2m0 0h2m-1 0h2m-1 0h2m2 0h2m0 0h2m2 0h2m13 0h2m3 0h2m20 0h2m-168 1h2m-1 0h2m1 0h2m9 0h2m0 0h2m4 0h2m-1 0h2m12 0h2m0 0h2m9 0h2m1 0h2m2 0h2m5 0h2m6 0h2m0 0h2m6 0h2m-1 0h2m-1 0h2m5 0h2m-1 0h2m8 0h2m0 0h2m0 0h2m7 0h2m-1 0h2m5 0h2m8 0h2m-123 1h2m11 0h2m41 0h2m12 0h2m7 0h2m4 0h2m-1 0h2m4 0h2m2 0h2m-1 0h2m-1 0h2m-1 0h2m14 0h2m0 0h2m5 0h2m-97 1h2m22 0h2m6 0h2m1 0h2m2 0h2m5 0h2m1 0h2m5 0h2m2 0h2m0 0h2m5 0h2m4 0h2m20 0h2m31 0h2m-170 1h2m3 0h2m42 0h2m10 0h2m30 0h2m2 0h2m-1 0h2m11 0h2m0 0h2m4 0h2m6 0h2m-125 1h2m14 0h2m6 0h2m3 0h2m10 0h2m6 0h2m20 0h2m2 0h2m11 0h2m1 0h2m8 0h2m0 0h2m2 0h2m9 0h2m-122 1h2m-1 0h2m1 0h2m63 0h2m18 0h2m-1 0h2m-1 0h2m1 0h2m5 0h2m26 0h2m-138 1h2m23 0h2m48 0h2m-1 0h2m-1 0h2m1 0h2m11 0h2m1 0h2m11 0h2m4 0h2m6 0h2m-78 1h2m5 0h2m23 0h2m9 0h2m11 0h2m5 0h2m-101 1h2m14 0h2m16 0h2m60 0h2m15 0h2m1 0h2m6 0h2m80 0h2m-216 1h2m-1 0h2m-1 0h2m10 0h2m4 0h2m-27 1h2m3 0h2m-1 0h2m2 0h2m-1 0h2m1 0h2m115 0h2m14 0h2m-149 1h2m1 0h2m-1 0h2m0 0h2m7 0h2m-13 1h2m-1 0h2m0 0h2m0 0h2m-1 0h2m-1 0h2m-1 0h2m67 0h2m52 0h2m-137 1h2m1 0h2m0 0h2m-1 0h2m4 0h2m25 0h2m29 0h2m-69 1h2m2 0h2m4 0h2m4 0h2m158 1h2m-177 1h2m53 0h2m-57 1h2m-1 0h2m-2 1h2m41 0h2m153 0h2m-205 1h2m5 0h2m1 0h2m-6 1h2m-1 0h2m-9 1h2m1 0h2" stroke="#000" stroke-width="1.4" opacity="0.5"/><path d="M56.6 409.6L181.2 409.6" stroke="#bdbdbd" stroke-width="0.8"/><path d="M181.2 409.6L181.2 525.1" stroke="#bdbdbd" stroke-width="0.8"/><path d="M56.6 409.6L56.6 525.1" stroke="#9a9a9a" stroke-width="0.9"/><path d="M56.6 525.1L181.2 525.1" stroke="#c4c4c4" stroke-width="0.9"/><path transform="scale(.5)" d="M360 951h2m-2 2h2m-2 11h2m-2 2h2m-2 7h2m-2 6h2m-3 3h2m-1 2h2m-2 6h2m-2 3h2m-2 2h2m-2 3h2m-2 1h2m-2 4h2m-2 1h2m-2 1h2m-2 4h2m-2 2h2m-3 4h2" stroke="#000" stroke-width="1.8" opacity="0.45"/><path transform="scale(.5)" d="M359 959h2m-1 7h2m-2 1h2m-2 7h2m-2 1h2m-2 2h2m-2 7h2m-3 2h2m-2 2h2m-2 2h2m-1 0h2m-2 2h2m-2 1h2m-2 2h2m-3 4h2m-1 1h2m-2 1h2m-2 1h2m-3 9h2m-1 5h2m-2 1h2" stroke="#000" stroke-width="1.8" opacity="0.45"/><path d="M51.4 525.1L56.4 525.1M51.4 492.9L56.4 492.9M51.4 460.6L56.4 460.6M51.4 428.4L56.4 428.4" stroke="#1a1a1a" stroke-width="1.8"/><path d="M54.3 518.6L56.4 518.6M54.3 512.2L56.4 512.2M54.3 505.8L56.4 505.8M54.3 499.3L56.4 499.3M54.3 486.4L56.4 486.4M54.3 480L56.4 480M54.3 473.5L56.4 473.5M54.3 467.1L56.4 467.1M54.3 454.2L56.4 454.2M54.3 447.7L56.4 447.7M54.3 441.2L56.4 441.2M54.3 434.8L56.4 434.8M54.3 421.9L56.4 421.9M54.3 415.5L56.4 415.5" stroke="#3a3a3a" stroke-width="0.9"/><text x="47" y="524.5" font-size="7.2" text-anchor="end" fill="#1e1e1e" stroke="#1e1e1e" stroke-width="0.14">0</text><text x="47" y="498" font-size="7.2" text-anchor="end" fill="#1e1e1e" stroke="#1e1e1e" stroke-width="0.14">50K</text><text x="47" y="465.7" font-size="7.2" text-anchor="end" fill="#1e1e1e" stroke="#1e1e1e" stroke-width="0.14">100K</text><text x="47" y="433.5" font-size="7.2" text-anchor="end" fill="#1e1e1e" stroke="#1e1e1e" stroke-width="0.14">150K</text><path d="M57.1 525.7L57.1 530.7M88.5 525.7L88.5 530.7M120 525.7L120 530.7M151.4 525.7L151.4 530.7" stroke="#1a1a1a" stroke-width="1.8"/><path d="M63.4 525.7L63.4 527.7M69.7 525.7L69.7 527.7M76 525.7L76 527.7M82.3 525.7L82.3 527.7M94.8 525.7L94.8 527.7M101.1 525.7L101.1 527.7M107.4 525.7L107.4 527.7M113.7 525.7L113.7 527.7M126.3 525.7L126.3 527.7M132.6 525.7L132.6 527.7M138.9 525.7L138.9 527.7M145.2 525.7L145.2 527.7M157.7 525.7L157.7 527.7M164 525.7L164 527.7M170.3 525.7L170.3 527.7M176.6 525.7L176.6 527.7" stroke="#3a3a3a" stroke-width="0.9"/><text x="57.7" y="547.3" font-size="7.2" text-anchor="middle" fill="#1e1e1e" stroke="#1e1e1e" stroke-width="0.14">0</text><text x="85.1" y="547.3" font-size="7.2" text-anchor="middle" fill="#1e1e1e" stroke="#1e1e1e" stroke-width="0.14">50K</text><text x="116.6" y="547.3" font-size="7.2" text-anchor="middle" fill="#1e1e1e" stroke="#1e1e1e" stroke-width="0.14">100K</text><text x="148" y="547.3" font-size="7.2" text-anchor="middle" fill="#1e1e1e" stroke="#1e1e1e" stroke-width="0.14">150K</text><path d="M95.8 499.3L100.2 516.8L112.3 517.9L138.5 514.6L162.6 505.8L173.6 496L172 479.6L149.5 475.8L132 476.3L114.4 482.8L103.5 490.5Z" stroke="#2a2a2a" stroke-width="1.0" fill="none" stroke-linejoin="round"/><text x="118.2" y="561.8" font-size="9.6" text-anchor="middle" textLength="26.8" lengthAdjust="spacingAndGlyphs" fill="#1e1e1e" stroke="#1e1e1e" stroke-width="0.22">FSC-A</text><text x="23.2" y="466.7" font-size="9.6" text-anchor="middle" textLength="26.4" lengthAdjust="spacingAndGlyphs" transform="rotate(-90 23.2 466.7)" fill="#1e1e1e" stroke="#1e1e1e" stroke-width="0.22">SSC-A</text><text x="84.7" y="445.6" font-size="6.0" text-anchor="middle" fill="#1e1e1e" stroke="#1e1e1e" stroke-width="0.14">HL-60</text><text x="84.7" y="453" font-size="6.0" text-anchor="middle" fill="#1e1e1e" stroke="#1e1e1e" stroke-width="0.14">75,8</text><path d="M269.3 126.1L283.2 119.2L299.3 111.3L317 102L330.5 95L344.7 88L344.6 87.8L330 93.9L315.8 99.4L297.1 106.4L280.6 113.8L266.8 121.3Z" fill="#000" opacity="0.9" filter="url(#b11)" stroke-linejoin="round"/><path transform="scale(.5)" d="M683 174h2m3 0h2m-4 1h2m-1 0h2m-1 0h2m-19 1h2m3 0h2m2 0h2m1 0h2m0 0h2m-12 1h2m1 0h2m5 0h2m-1 0h2m-1 0h2m1 0h2m-93 1h2m70 0h2m3 0h2m0 0h2m3 0h2m-1 0h2m1 0h2m2 0h2m-20 1h2m0 0h2m2 0h2m0 0h2m-1 0h2m4 0h2m0 0h2m-28 1h2m1 0h2m0 0h2m0 0h2m2 0h2m1 0h2m-1 0h2m-1 0h2m-1 0h2m0 0h2m-22 1h2m6 0h2m0 0h2m-1 0h2m0 0h2m1 0h2m-1 0h2m1 0h2m0 0h2m1 0h2m-40 1h2m7 0h2m4 0h2m10 0h2m-1 0h2m0 0h2m-1 0h2m-1 0h2m-1 0h2m-1 0h2m-1 0h2m2 0h2m-28 1h2m1 0h2m0 0h2m-1 0h2m-1 0h2m-1 0h2m3 0h2m6 0h2m-35 1h2m5 0h2m3 0h2m2 0h2m0 0h2m0 0h2m-1 0h2m0 0h2m0 0h2m4 0h2m4 0h2m-24 1h2m0 0h2m2 0h2m-1 0h2m-31 1h2m0 0h2m8 0h2m-1 0h2m0 0h2m1 0h2m-1 0h2m-1 0h2m-1 0h2m0 0h2m-1 0h2m-1 0h2m-1 0h2m2 0h2m2 0h2m-30 1h2m3 0h2m-1 0h2m-1 0h2m1 0h2m-1 0h2m-1 0h2m-1 0h2m0 0h2m-1 0h2m-1 0h2m2 0h2m3 0h2m-27 1h2m3 0h2m-1 0h2m-1 0h2m3 0h2m-1 0h2m3 0h2m-1 0h2m-1 0h2m11 0h2m-40 1h2m1 0h2m2 0h2m3 0h2m2 0h2m-1 0h2m-1 0h2m-1 0h2m2 0h2m0 0h2m0 0h2m3 0h2m3 0h2m2 0h2m-35 1h2m1 0h2m1 0h2m-1 0h2m-1 0h2m-1 0h2m4 0h2m1 0h2m-1 0h2m2 0h2m8 0h2m-50 1h2m9 0h2m2 0h2m17 0h2m-34 1h2m0 0h2m-1 0h2m-1 0h2m-1 0h2m-1 0h2m-1 0h2m-1 0h2m-1 0h2m-1 0h2m2 0h2m0 0h2m0 0h2m0 0h2m0 0h2m2 0h2m4 0h2m17 0h2m-61 1h2m3 0h2m4 0h2m1 0h2m-1 0h2m-1 0h2m-1 0h2m1 0h2m21 0h2m-47 1h2m0 0h2m4 0h2m2 0h2m-1 0h2m1 0h2m-1 0h2m12 0h2m3 0h2m-31 1h2m-1 0h2m1 0h2m-1 0h2m0 0h2m-1 0h2m0 0h2m-1 0h2m-1 0h2m-1 0h2m7 0h2m-1 0h2m-1 0h2m-1 0h2m4 0h2m-46 1h2m7 0h2m-1 0h2m5 0h2m1 0h2m0 0h2m-1 0h2m-1 0h2m1 0h2m4 0h2m-1 0h2m3 0h2m4 0h2m7 0h2m-57 1h2m3 0h2m1 0h2m-1 0h2m-1 0h2m-1 0h2m1 0h2m0 0h2m-1 0h2m-1 0h2m-1 0h2m1 0h2m2 0h2m0 0h2m1 0h2m3 0h2m11 0h2m-48 1h2m-1 0h2m4 0h2m-1 0h2m1 0h2m2 0h2m-1 0h2m1 0h2m3 0h2m6 0h2m9 0h2m1 0h2m-56 1h2m5 0h2m-1 0h2m-1 0h2m-1 0h2m2 0h2m-1 0h2m0 0h2m3 0h2m2 0h2m0 0h2m-1 0h2m0 0h2m-1 0h2m16 0h2m-45 1h2m1 0h2m-1 0h2m0 0h2m0 0h2m-1 0h2m2 0h2m0 0h2m1 0h2m-1 0h2m2 0h2m1 0h2m-43 1h2m8 0h2m3 0h2m5 0h2m-1 0h2m1 0h2m-1 0h2m4 0h2m-1 0h2m9 0h2m-1 0h2m8 0h2m3 0h2m-62 1h2m0 0h2m3 0h2m0 0h2m1 0h2m1 0h2m-1 0h2m-1 0h2m2 0h2m5 0h2m-1 0h2m1 0h2m0 0h2m-1 0h2m18 0h2m9 0h2m-68 1h2m4 0h2m2 0h2m0 0h2m-1 0h2m5 0h2m3 0h2m4 0h2m3 0h2m-44 1h2m5 0h2m5 0h2m0 0h2m0 0h2m2 0h2m1 0h2m1 0h2m50 0h2m-80 1h2m1 0h2m0 0h2m3 0h2m-1 0h2m0 0h2m0 0h2m5 0h2m0 0h2m-1 0h2m-1 0h2m-1 0h2m-1 0h2m6 0h2m0 0h2m0 0h2m0 0h2m19 0h2m15 0h2m-87 1h2m1 0h2m4 0h2m1 0h2m1 0h2m1 0h2m1 0h2m3 0h2m2 0h2m0 0h2m1 0h2m1 0h2m0 0h2m9 0h2m-1 0h2m-56 1h2m12 0h2m-1 0h2m9 0h2m-1 0h2m0 0h2m3 0h2m-1 0h2m5 0h2m1 0h2m35 0h2m-87 1h2m10 0h2m6 0h2m4 0h2m-1 0h2m3 0h2m0 0h2m14 0h2m0 0h2m0 0h2m3 0h2m11 0h2m-73 1h2m5 0h2m-1 0h2m0 0h2m0 0h2m-1 0h2m-1 0h2m0 0h2m-1 0h2m5 0h2m0 0h2m21 0h2m24 0h2m-76 1h2m1 0h2m-1 0h2m0 0h2m4 0h2m-1 0h2m-1 0h2m5 0h2m-1 0h2m6 0h2m9 0h2m-1 0h2m6 0h2m0 0h2m2 0h2m-59 1h2m0 0h2m0 0h2m1 0h2m1 0h2m1 0h2m-1 0h2m3 0h2m0 0h2m1 0h2m1 0h2m-1 0h2m1 0h2m17 0h2m1 0h2m11 0h2m5 0h2m-79 1h2m0 0h2m3 0h2m0 0h2m7 0h2m2 0h2m2 0h2m4 0h2m6 0h2m10 0h2m-51 1h2m1 0h2m0 0h2m-1 0h2m1 0h2m-1 0h2m0 0h2m2 0h2m-1 0h2m0 0h2m4 0h2m1 0h2m1 0h2m3 0h2m14 0h2m10 0h2m18 0h2m-92 1h2m-1 0h2m1 0h2m-1 0h2m-1 0h2m1 0h2m-1 0h2m-1 0h2m6 0h2m0 0h2m0 0h2m-1 0h2m18 0h2m20 0h2m-69 1h2m1 0h2m-1 0h2m0 0h2m-1 0h2m6 0h2m0 0h2m0 0h2m0 0h2m-1 0h2m5 0h2m4 0h2m0 0h2m30 0h2m-73 1h2m1 0h2m-1 0h2m2 0h2m2 0h2m2 0h2m1 0h2m10 0h2m-1 0h2m5 0h2m6 0h2m12 0h2m-69 1h2m5 0h2m1 0h2m-1 0h2m0 0h2m1 0h2m7 0h2m2 0h2m8 0h2m0 0h2m-75 1h2m35 0h2m0 0h2m-1 0h2m-1 0h2m0 0h2m-1 0h2m-1 0h2m10 0h2m1 0h2m1 0h2m8 0h2m2 0h2m2 0h2m0 0h2m-62 1h2m0 0h2m9 0h2m1 0h2m2 0h2m1 0h2m4 0h2m31 0h2m0 0h2m10 0h2m16 0h2m-105 1h2m11 0h2m2 0h2m1 0h2m2 0h2m-1 0h2m3 0h2m0 0h2m0 0h2m4 0h2m0 0h2m7 0h2m-38 1h2m1 0h2m-1 0h2m-1 0h2m0 0h2m0 0h2m1 0h2m-1 0h2m5 0h2m2 0h2m2 0h2m31 0h2m40 0h2m-112 1h2m2 0h2m3 0h2m0 0h2m-1 0h2m1 0h2m3 0h2m2 0h2m35 0h2m12 0h2m2 0h2m-88 1h2m1 0h2m9 0h2m-1 0h2m-1 0h2m1 0h2m4 0h2m5 0h2m-1 0h2m4 0h2m0 0h2m-38 1h2m0 0h2m4 0h2m1 0h2m-1 0h2m0 0h2m0 0h2m-1 0h2m1 0h2m-1 0h2m0 0h2m5 0h2m3 0h2m2 0h2m13 0h2m-65 1h2m8 0h2m-1 0h2m1 0h2m2 0h2m11 0h2m0 0h2m2 0h2m7 0h2m24 0h2m3 0h2m-81 1h2m3 0h2m3 0h2m-1 0h2m-1 0h2m3 0h2m3 0h2m-1 0h2m0 0h2m-1 0h2m-1 0h2m-1 0h2m-1 0h2m8 0h2m17 0h2m-67 1h2m4 0h2m1 0h2m0 0h2m4 0h2m0 0h2m-1 0h2m-1 0h2m1 0h2m1 0h2m1 0h2m1 0h2m1 0h2m14 0h2m-52 1h2m2 0h2m3 0h2m3 0h2m-1 0h2m0 0h2m0 0h2m2 0h2m4 0h2m0 0h2m-1 0h2m1 0h2m-1 0h2m30 0h2m-71 1h2m2 0h2m3 0h2m1 0h2m1 0h2m3 0h2m3 0h2m4 0h2m16 0h2m2 0h2m9 0h2m-64 1h2m0 0h2m1 0h2m3 0h2m1 0h2m0 0h2m-1 0h2m2 0h2m0 0h2m2 0h2m3 0h2m11 0h2m18 0h2m4 0h2m10 0h2m-95 1h2m5 0h2m11 0h2m-1 0h2m-1 0h2m-1 0h2m-1 0h2m1 0h2m4 0h2m-1 0h2m3 0h2m7 0h2m25 0h2m-70 1h2m5 0h2m0 0h2m-1 0h2m0 0h2m2 0h2m-1 0h2m2 0h2m-1 0h2m1 0h2m-1 0h2m2 0h2m2 0h2m-37 1h2m2 0h2m-1 0h2m0 0h2m5 0h2m-1 0h2m-1 0h2m-1 0h2m1 0h2m2 0h2m36 0h2m-66 1h2m1 0h2m0 0h2m1 0h2m-1 0h2m-1 0h2m-1 0h2m1 0h2m-1 0h2m1 0h2m0 0h2m6 0h2m-31 1h2m0 0h2m0 0h2m-1 0h2m1 0h2m0 0h2m0 0h2m-1 0h2m1 0h2m2 0h2m6 0h2m3 0h2m7 0h2m12 0h2m28 0h2m-99 1h2m2 0h2m3 0h2m1 0h2m4 0h2m2 0h2m4 0h2m1 0h2m2 0h2m-1 0h2m42 0h2m-72 1h2m3 0h2m-1 0h2m-1 0h2m5 0h2m-1 0h2m0 0h2m-1 0h2m-1 0h2m-1 0h2m0 0h2m2 0h2m4 0h2m5 0h2m12 0h2m18 0h2m-83 1h2m4 0h2m1 0h2m-1 0h2m-1 0h2m6 0h2m4 0h2m1 0h2m-1 0h2m17 0h2m36 0h2m46 0h2m-131 1h2m-1 0h2m5 0h2m0 0h2m8 0h2m0 0h2m10 0h2m27 0h2m-65 1h2m-1 0h2m0 0h2m-1 0h2m1 0h2m0 0h2m5 0h2m3 0h2m0 0h2m1 0h2m1 0h2m10 0h2m-54 1h2m4 0h2m0 0h2m-1 0h2m0 0h2m-1 0h2m-1 0h2m1 0h2m-1 0h2m7 0h2m3 0h2m0 0h2m3 0h2m-39 1h2m4 0h2m-1 0h2m4 0h2m-1 0h2m2 0h2m0 0h2m1 0h2m0 0h2m2 0h2m-31 1h2m1 0h2m0 0h2m2 0h2m1 0h2m4 0h2m-1 0h2m-1 0h2m-1 0h2m-1 0h2m3 0h2m2 0h2m55 0h2m-90 1h2m0 0h2m2 0h2m-1 0h2m0 0h2m0 0h2m4 0h2m6 0h2m14 0h2m-42 1h2m-1 0h2m2 0h2m0 0h2m3 0h2m-1 0h2m0 0h2m7 0h2m-25 1h2m-1 0h2m-1 0h2m0 0h2m-1 0h2m0 0h2m1 0h2m0 0h2m15 0h2m-31 1h2m-1 0h2m-1 0h2m0 0h2m2 0h2m-1 0h2m3 0h2m2 0h2m-1 0h2m2 0h2m-25 1h2m-1 0h2m-1 0h2m4 0h2m1 0h2m0 0h2m12 0h2m-1 0h2m-27 1h2m-1 0h2m5 0h2m-1 0h2m4 0h2m-1 0h2m-18 1h2m-3 1h2m0 0h2m-1 0h2m-1 0h2m0 0h2m4 0h2m-14 1h2m-1 0h2m-1 0h2m1 0h2m4 0h2m52 0h2m-64 1h2m4 0h2m6 0h2m59 0h2m28 0h2m-108 1h2m4 0h2m64 0h2m-73 1h2m9 0h2m-13 1h2m3 0h2m2 0h2m-10 3h2m13 8h2m-3 3h2" stroke="#000" stroke-width="1.4" opacity="0.5"/><path transform="scale(.5)" d="M642 168h2m44 5h2m-2 1h2m-20 1h2m6 0h2m5 0h2m0 0h2m-16 1h2m6 0h2m-1 0h2m0 0h2m-1 0h2m-1 0h2m0 0h2m-1 0h2m-12 1h2m1 0h2m0 0h2m-1 0h2m-1 0h2m0 0h2m-1 0h2m-20 1h2m8 0h2m0 0h2m-1 0h2m0 0h2m1 0h2m-20 1h2m1 0h2m2 0h2m-1 0h2m1 0h2m1 0h2m0 0h2m1 0h2m-16 1h2m0 0h2m1 0h2m2 0h2m1 0h2m-17 1h2m0 0h2m-1 0h2m1 0h2m-1 0h2m-1 0h2m4 0h2m-1 0h2m1 0h2m-35 1h2m7 0h2m0 0h2m2 0h2m0 0h2m0 0h2m-1 0h2m-1 0h2m0 0h2m-1 0h2m-1 0h2m7 0h2m-35 1h2m4 0h2m-1 0h2m2 0h2m5 0h2m-1 0h2m-1 0h2m1 0h2m-24 1h2m-1 0h2m3 0h2m-1 0h2m0 0h2m0 0h2m-1 0h2m-1 0h2m0 0h2m9 0h2m1 0h2m-1 0h2m0 0h2m5 0h2m-41 1h2m-1 0h2m2 0h2m0 0h2m0 0h2m1 0h2m0 0h2m3 0h2m3 0h2m-31 1h2m1 0h2m3 0h2m0 0h2m-1 0h2m-1 0h2m0 0h2m3 0h2m4 0h2m-39 1h2m4 0h2m4 0h2m-1 0h2m-1 0h2m1 0h2m1 0h2m1 0h2m3 0h2m1 0h2m1 0h2m2 0h2m-29 1h2m-1 0h2m-1 0h2m-1 0h2m0 0h2m5 0h2m0 0h2m3 0h2m7 0h2m-1 0h2m-1 0h2m-68 1h2m29 0h2m0 0h2m2 0h2m0 0h2m1 0h2m3 0h2m6 0h2m-1 0h2m-1 0h2m1 0h2m0 0h2m12 0h2m-50 1h2m-1 0h2m-1 0h2m3 0h2m-1 0h2m8 0h2m3 0h2m4 0h2m1 0h2m0 0h2m1 0h2m1 0h2m-46 1h2m4 0h2m-1 0h2m4 0h2m3 0h2m1 0h2m-1 0h2m-1 0h2m-1 0h2m3 0h2m7 0h2m-45 1h2m6 0h2m-1 0h2m5 0h2m-1 0h2m-1 0h2m-1 0h2m-1 0h2m0 0h2m5 0h2m2 0h2m-40 1h2m1 0h2m4 0h2m0 0h2m0 0h2m3 0h2m-1 0h2m1 0h2m20 0h2m-38 1h2m-1 0h2m0 0h2m0 0h2m0 0h2m2 0h2m0 0h2m0 0h2m2 0h2m1 0h2m0 0h2m1 0h2m13 0h2m-50 1h2m2 0h2m-1 0h2m-1 0h2m4 0h2m1 0h2m-1 0h2m1 0h2m-1 0h2m-1 0h2m0 0h2m2 0h2m9 0h2m0 0h2m0 0h2m-42 1h2m0 0h2m0 0h2m-1 0h2m2 0h2m1 0h2m-1 0h2m1 0h2m-29 1h2m3 0h2m0 0h2m1 0h2m1 0h2m6 0h2m7 0h2m3 0h2m11 0h2m5 0h2m-71 1h2m15 0h2m1 0h2m1 0h2m3 0h2m0 0h2m0 0h2m3 0h2m1 0h2m0 0h2m9 0h2m35 0h2m-77 1h2m-1 0h2m0 0h2m-1 0h2m-1 0h2m0 0h2m2 0h2m0 0h2m0 0h2m0 0h2m-1 0h2m1 0h2m1 0h2m15 0h2m-55 1h2m1 0h2m10 0h2m5 0h2m0 0h2m3 0h2m-1 0h2m1 0h2m-1 0h2m-1 0h2m3 0h2m6 0h2m-1 0h2m5 0h2m10 0h2m-60 1h2m-1 0h2m0 0h2m-1 0h2m-1 0h2m1 0h2m-1 0h2m-1 0h2m-1 0h2m0 0h2m2 0h2m4 0h2m-30 1h2m3 0h2m-1 0h2m1 0h2m5 0h2m3 0h2m0 0h2m19 0h2m12 0h2m-68 1h2m11 0h2m5 0h2m4 0h2m1 0h2m10 0h2m-39 1h2m1 0h2m1 0h2m-1 0h2m-1 0h2m2 0h2m-1 0h2m5 0h2m17 0h2m-51 1h2m7 0h2m0 0h2m2 0h2m1 0h2m-1 0h2m0 0h2m4 0h2m2 0h2m1 0h2m-1 0h2m-1 0h2m2 0h2m-1 0h2m7 0h2m12 0h2m-73 1h2m1 0h2m5 0h2m-1 0h2m3 0h2m3 0h2m0 0h2m-1 0h2m1 0h2m0 0h2m0 0h2m0 0h2m1 0h2m3 0h2m2 0h2m1 0h2m3 0h2m2 0h2m-51 1h2m0 0h2m1 0h2m0 0h2m2 0h2m4 0h2m2 0h2m3 0h2m0 0h2m-1 0h2m1 0h2m3 0h2m12 0h2m1 0h2m5 0h2m-55 1h2m1 0h2m-1 0h2m0 0h2m-1 0h2m4 0h2m3 0h2m2 0h2m2 0h2m0 0h2m41 0h2m-81 1h2m0 0h2m0 0h2m1 0h2m-1 0h2m1 0h2m2 0h2m3 0h2m7 0h2m8 0h2m-1 0h2m-49 1h2m0 0h2m2 0h2m5 0h2m-1 0h2m0 0h2m-1 0h2m0 0h2m-1 0h2m0 0h2m16 0h2m22 0h2m-64 1h2m-1 0h2m3 0h2m-1 0h2m-1 0h2m-1 0h2m0 0h2m0 0h2m4 0h2m8 0h2m1 0h2m2 0h2m0 0h2m-53 1h2m5 0h2m2 0h2m7 0h2m2 0h2m2 0h2m1 0h2m0 0h2m-1 0h2m30 0h2m6 0h2m-70 1h2m-1 0h2m1 0h2m2 0h2m-1 0h2m-1 0h2m0 0h2m0 0h2m5 0h2m-1 0h2m1 0h2m-1 0h2m-1 0h2m1 0h2m26 0h2m-71 1h2m7 0h2m6 0h2m-1 0h2m-1 0h2m0 0h2m-1 0h2m1 0h2m0 0h2m3 0h2m-1 0h2m0 0h2m-1 0h2m4 0h2m17 0h2m0 0h2m-1 0h2m0 0h2m-62 1h2m5 0h2m1 0h2m1 0h2m1 0h2m1 0h2m3 0h2m0 0h2m7 0h2m0 0h2m6 0h2m0 0h2m12 0h2m-63 1h2m6 0h2m1 0h2m-1 0h2m1 0h2m1 0h2m0 0h2m1 0h2m-1 0h2m9 0h2m1 0h2m2 0h2m9 0h2m7 0h2m7 0h2m-75 1h2m0 0h2m1 0h2m-1 0h2m0 0h2m0 0h2m2 0h2m0 0h2m0 0h2m0 0h2m0 0h2m0 0h2m20 0h2m1 0h2m-59 1h2m5 0h2m-1 0h2m-1 0h2m2 0h2m1 0h2m-1 0h2m-1 0h2m10 0h2m0 0h2m-1 0h2m2 0h2m28 0h2m-67 1h2m3 0h2m-1 0h2m3 0h2m-1 0h2m-1 0h2m0 0h2m1 0h2m0 0h2m1 0h2m-1 0h2m-1 0h2m-1 0h2m-1 0h2m9 0h2m20 0h2m1 0h2m-1 0h2m-71 1h2m3 0h2m3 0h2m2 0h2m-1 0h2m1 0h2m0 0h2m2 0h2m-1 0h2m-1 0h2m2 0h2m0 0h2m-1 0h2m6 0h2m6 0h2m32 0h2m-82 1h2m3 0h2m-1 0h2m-1 0h2m6 0h2m-1 0h2m0 0h2m4 0h2m17 0h2m-56 1h2m2 0h2m11 0h2m-1 0h2m-1 0h2m2 0h2m1 0h2m2 0h2m13 0h2m2 0h2m27 0h2m-74 1h2m3 0h2m1 0h2m0 0h2m0 0h2m0 0h2m0 0h2m12 0h2m-36 1h2m-1 0h2m-1 0h2m2 0h2m4 0h2m0 0h2m4 0h2m19 0h2m1 0h2m9 0h2m17 0h2m25 0h2m-101 1h2m0 0h2m0 0h2m0 0h2m-1 0h2m1 0h2m8 0h2m5 0h2m1 0h2m3 0h2m-53 1h2m-1 0h2m6 0h2m5 0h2m-1 0h2m0 0h2m2 0h2m2 0h2m0 0h2m2 0h2m0 0h2m6 0h2m-1 0h2m26 0h2m28 0h2m-97 1h2m0 0h2m3 0h2m0 0h2m-1 0h2m-1 0h2m-1 0h2m0 0h2m2 0h2m2 0h2m1 0h2m11 0h2m0 0h2m8 0h2m-48 1h2m-1 0h2m0 0h2m-1 0h2m-1 0h2m-1 0h2m3 0h2m2 0h2m-1 0h2m7 0h2m20 0h2m-1 0h2m-58 1h2m5 0h2m-1 0h2m0 0h2m-1 0h2m2 0h2m2 0h2m-1 0h2m-1 0h2m-1 0h2m3 0h2m14 0h2m4 0h2m4 0h2m15 0h2m-79 1h2m11 0h2m0 0h2m1 0h2m-1 0h2m-1 0h2m2 0h2m39 0h2m3 0h2m2 0h2m-73 1h2m0 0h2m-1 0h2m1 0h2m6 0h2m-1 0h2m0 0h2m-1 0h2m1 0h2m-1 0h2m0 0h2m2 0h2m0 0h2m5 0h2m0 0h2m0 0h2m40 0h2m-89 1h2m2 0h2m2 0h2m0 0h2m-1 0h2m3 0h2m0 0h2m-1 0h2m1 0h2m1 0h2m-1 0h2m6 0h2m0 0h2m2 0h2m-44 1h2m-1 0h2m4 0h2m-1 0h2m-1 0h2m0 0h2m-1 0h2m0 0h2m4 0h2m-1 0h2m0 0h2m2 0h2m70 0h2m-108 1h2m3 0h2m4 0h2m0 0h2m-1 0h2m0 0h2m7 0h2m1 0h2m-1 0h2m0 0h2m21 0h2m1 0h2m5 0h2m0 0h2m-65 1h2m2 0h2m-1 0h2m1 0h2m0 0h2m-1 0h2m-1 0h2m-1 0h2m-1 0h2m4 0h2m2 0h2m12 0h2m-52 1h2m11 0h2m-1 0h2m1 0h2m0 0h2m-1 0h2m-1 0h2m0 0h2m2 0h2m-1 0h2m-1 0h2m-1 0h2m22 0h2m1 0h2m18 0h2m-76 1h2m1 0h2m3 0h2m0 0h2m0 0h2m0 0h2m1 0h2m-1 0h2m-1 0h2m-1 0h2m2 0h2m-1 0h2m0 0h2m0 0h2m1 0h2m-1 0h2m-1 0h2m1 0h2m0 0h2m-1 0h2m36 0h2m-86 1h2m4 0h2m10 0h2m-1 0h2m-1 0h2m-1 0h2m-1 0h2m-1 0h2m-1 0h2m0 0h2m9 0h2m1 0h2m1 0h2m18 0h2m-56 1h2m1 0h2m0 0h2m-1 0h2m0 0h2m0 0h2m-1 0h2m-1 0h2m0 0h2m1 0h2m-1 0h2m1 0h2m0 0h2m0 0h2m-34 1h2m0 0h2m2 0h2m2 0h2m0 0h2m0 0h2m-1 0h2m0 0h2m3 0h2m-1 0h2m0 0h2m2 0h2m3 0h2m1 0h2m7 0h2m6 0h2m13 0h2m27 0h2m-96 1h2m0 0h2m1 0h2m3 0h2m-1 0h2m5 0h2m3 0h2m1 0h2m3 0h2m4 0h2m-38 1h2m0 0h2m0 0h2m-1 0h2m-1 0h2m-1 0h2m4 0h2m3 0h2m-1 0h2m-26 1h2m2 0h2m-1 0h2m1 0h2m4 0h2m5 0h2m0 0h2m-1 0h2m3 0h2m-1 0h2m0 0h2m-1 0h2m29 0h2m-64 1h2m-1 0h2m-1 0h2m0 0h2m0 0h2m-1 0h2m-1 0h2m0 0h2m-1 0h2m4 0h2m4 0h2m0 0h2m4 0h2m5 0h2m-41 1h2m-1 0h2m1 0h2m0 0h2m0 0h2m-1 0h2m0 0h2m0 0h2m2 0h2m-1 0h2m11 0h2m-33 1h2m0 0h2m0 0h2m-1 0h2m-1 0h2m2 0h2m-1 0h2m2 0h2m-1 0h2m2 0h2m0 0h2m3 0h2m-27 1h2m2 0h2m1 0h2m-1 0h2m28 0h2m22 0h2m-61 1h2m0 0h2m0 0h2m1 0h2m3 0h2m0 0h2m2 0h2m-23 1h2m1 0h2m2 0h2m6 0h2m-16 1h2m-1 0h2m-1 0h2m-1 0h2m4 0h2m4 0h2m58 0h2m-75 1h2m-1 0h2m-1 0h2m12 0h2m-19 1h2m-1 0h2m12 0h2m4 0h2m22 0h2m-46 1h2m1 1h2m2 0h2m-1 0h2m-10 2h2m2 1h2m-1 3h2m7 1h2m91 7h2" stroke="#000" stroke-width="1.4" opacity="0.5"/><path transform="scale(.5)" d="M686 172h2m-4 2h2m-2 1h2m0 0h2m-1 0h2m-17 1h2m5 0h2m6 0h2m-11 1h2m3 0h2m0 0h2m-1 0h2m-19 1h2m2 0h2m3 0h2m1 0h2m-1 0h2m4 0h2m0 0h2m-20 1h2m0 0h2m3 0h2m-1 0h2m0 0h2m0 0h2m2 0h2m-1 0h2m-32 1h2m3 0h2m10 0h2m0 0h2m-1 0h2m4 0h2m0 0h2m-27 1h2m-1 0h2m6 0h2m2 0h2m0 0h2m2 0h2m-1 0h2m-16 1h2m2 0h2m1 0h2m2 0h2m5 0h2m-28 1h2m6 0h2m-1 0h2m-1 0h2m-1 0h2m-1 0h2m-1 0h2m0 0h2m0 0h2m0 0h2m0 0h2m0 0h2m-1 0h2m-32 1h2m9 0h2m3 0h2m-1 0h2m1 0h2m5 0h2m5 0h2m-40 1h2m2 0h2m2 0h2m0 0h2m-1 0h2m0 0h2m1 0h2m5 0h2m0 0h2m1 0h2m6 0h2m-54 1h2m17 0h2m0 0h2m0 0h2m-1 0h2m1 0h2m-1 0h2m0 0h2m4 0h2m-1 0h2m5 0h2m-1 0h2m-1 0h2m-31 1h2m7 0h2m0 0h2m-1 0h2m-1 0h2m0 0h2m2 0h2m-1 0h2m-1 0h2m6 0h2m-35 1h2m1 0h2m-1 0h2m0 0h2m-1 0h2m-1 0h2m0 0h2m0 0h2m0 0h2m1 0h2m2 0h2m0 0h2m6 0h2m-28 1h2m3 0h2m-1 0h2m0 0h2m-1 0h2m0 0h2m2 0h2m0 0h2m0 0h2m-1 0h2m6 0h2m0 0h2m-40 1h2m2 0h2m5 0h2m0 0h2m0 0h2m0 0h2m1 0h2m2 0h2m12 0h2m-39 1h2m7 0h2m-1 0h2m0 0h2m23 0h2m-39 1h2m1 0h2m-1 0h2m-1 0h2m1 0h2m-1 0h2m0 0h2m35 0h2m1 0h2m-57 1h2m-1 0h2m0 0h2m0 0h2m0 0h2m3 0h2m-1 0h2m0 0h2m0 0h2m2 0h2m-30 1h2m-1 0h2m2 0h2m0 0h2m0 0h2m3 0h2m0 0h2m0 0h2m0 0h2m-1 0h2m2 0h2m-31 1h2m14 0h2m-1 0h2m7 0h2m0 0h2m19 0h2m-124 1h2m65 0h2m2 0h2m1 0h2m2 0h2m-1 0h2m-1 0h2m0 0h2m-1 0h2m-1 0h2m-1 0h2m-1 0h2m4 0h2m0 0h2m5 0h2m3 0h2m19 0h2m-57 1h2m4 0h2m0 0h2m1 0h2m-1 0h2m-1 0h2m3 0h2m1 0h2m11 0h2m8 0h2m0 0h2m-60 1h2m0 0h2m0 0h2m-1 0h2m0 0h2m0 0h2m-1 0h2m0 0h2m3 0h2m-1 0h2m0 0h2m0 0h2m0 0h2m2 0h2m0 0h2m0 0h2m2 0h2m3 0h2m8 0h2m-42 1h2m0 0h2m-1 0h2m4 0h2m2 0h2m1 0h2m-1 0h2m-1 0h2m-1 0h2m2 0h2m-1 0h2m3 0h2m1 0h2m-34 1h2m1 0h2m1 0h2m-1 0h2m5 0h2m0 0h2m0 0h2m0 0h2m1 0h2m10 0h2m16 0h2m-63 1h2m4 0h2m2 0h2m-1 0h2m0 0h2m1 0h2m0 0h2m6 0h2m-1 0h2m-1 0h2m3 0h2m-1 0h2m18 0h2m-62 1h2m0 0h2m-1 0h2m4 0h2m-1 0h2m2 0h2m0 0h2m0 0h2m1 0h2m-1 0h2m-1 0h2m-1 0h2m-1 0h2m-1 0h2m0 0h2m-1 0h2m0 0h2m16 0h2m0 0h2m-96 1h2m42 0h2m1 0h2m0 0h2m-1 0h2m-1 0h2m2 0h2m-1 0h2m3 0h2m0 0h2m-1 0h2m0 0h2m1 0h2m0 0h2m2 0h2m1 0h2m1 0h2m-48 1h2m3 0h2m5 0h2m2 0h2m0 0h2m2 0h2m2 0h2m2 0h2m0 0h2m4 0h2m23 0h2m8 0h2m-64 1h2m-1 0h2m-1 0h2m-1 0h2m5 0h2m0 0h2m-1 0h2m-1 0h2m0 0h2m2 0h2m0 0h2m17 0h2m11 0h2m9 0h2m-82 1h2m0 0h2m2 0h2m3 0h2m3 0h2m2 0h2m-1 0h2m-1 0h2m1 0h2m3 0h2m0 0h2m0 0h2m3 0h2m10 0h2m3 0h2m-1 0h2m-76 1h2m18 0h2m-1 0h2m0 0h2m-1 0h2m1 0h2m2 0h2m-1 0h2m0 0h2m-1 0h2m1 0h2m0 0h2m0 0h2m5 0h2m-33 1h2m8 0h2m-1 0h2m0 0h2m-1 0h2m-1 0h2m6 0h2m1 0h2m5 0h2m45 0h2m-85 1h2m-1 0h2m2 0h2m5 0h2m-1 0h2m-1 0h2m-1 0h2m-1 0h2m0 0h2m2 0h2m0 0h2m0 0h2m7 0h2m0 0h2m3 0h2m-1 0h2m11 0h2m3 0h2m-76 1h2m19 0h2m0 0h2m-1 0h2m-1 0h2m2 0h2m1 0h2m0 0h2m-1 0h2m5 0h2m0 0h2m0 0h2m12 0h2m28 0h2m15 0h2m-98 1h2m0 0h2m-1 0h2m0 0h2m3 0h2m4 0h2m1 0h2m1 0h2m-1 0h2m10 0h2m9 0h2m-110 1h2m53 0h2m5 0h2m8 0h2m-1 0h2m2 0h2m1 0h2m0 0h2m0 0h2m0 0h2m2 0h2m3 0h2m-43 1h2m-1 0h2m3 0h2m3 0h2m3 0h2m3 0h2m0 0h2m-1 0h2m1 0h2m0 0h2m4 0h2m1 0h2m-1 0h2m-1 0h2m35 0h2m-86 1h2m14 0h2m1 0h2m-1 0h2m0 0h2m0 0h2m4 0h2m9 0h2m1 0h2m3 0h2m1 0h2m0 0h2m26 0h2m-79 1h2m1 0h2m0 0h2m4 0h2m0 0h2m-1 0h2m-1 0h2m1 0h2m4 0h2m-1 0h2m3 0h2m14 0h2m6 0h2m-63 1h2m4 0h2m-1 0h2m3 0h2m-1 0h2m-1 0h2m-1 0h2m-1 0h2m0 0h2m-1 0h2m-1 0h2m0 0h2m-1 0h2m1 0h2m0 0h2m5 0h2m-1 0h2m5 0h2m4 0h2m13 0h2m-1 0h2m23 0h2m-87 1h2m1 0h2m3 0h2m-1 0h2m1 0h2m0 0h2m1 0h2m4 0h2m11 0h2m28 0h2m0 0h2m12 0h2m5 0h2m-95 1h2m-1 0h2m1 0h2m2 0h2m-1 0h2m1 0h2m-1 0h2m0 0h2m5 0h2m-1 0h2m1 0h2m0 0h2m-1 0h2m1 0h2m1 0h2m0 0h2m1 0h2m0 0h2m18 0h2m-68 1h2m5 0h2m1 0h2m0 0h2m-1 0h2m-1 0h2m-1 0h2m0 0h2m2 0h2m-1 0h2m8 0h2m2 0h2m11 0h2m5 0h2m18 0h2m-85 1h2m0 0h2m1 0h2m2 0h2m5 0h2m0 0h2m-1 0h2m-1 0h2m1 0h2m1 0h2m1 0h2m2 0h2m7 0h2m21 0h2m-1 0h2m-65 1h2m5 0h2m0 0h2m-1 0h2m3 0h2m0 0h2m2 0h2m0 0h2m-1 0h2m0 0h2m-1 0h2m9 0h2m1 0h2m-1 0h2m9 0h2m14 0h2m17 0h2m-86 1h2m2 0h2m0 0h2m-1 0h2m-1 0h2m0 0h2m6 0h2m-1 0h2m4 0h2m4 0h2m4 0h2m3 0h2m-1 0h2m6 0h2m4 0h2m7 0h2m-89 1h2m9 0h2m7 0h2m-1 0h2m-1 0h2m1 0h2m4 0h2m-1 0h2m2 0h2m10 0h2m-1 0h2m13 0h2m10 0h2m39 0h2m-110 1h2m6 0h2m-1 0h2m4 0h2m-1 0h2m-1 0h2m-1 0h2m-1 0h2m0 0h2m-1 0h2m0 0h2m1 0h2m-1 0h2m1 0h2m-1 0h2m44 0h2m12 0h2m-93 1h2m3 0h2m4 0h2m2 0h2m2 0h2m1 0h2m16 0h2m13 0h2m14 0h2m-85 1h2m5 0h2m1 0h2m3 0h2m0 0h2m-1 0h2m0 0h2m0 0h2m-1 0h2m4 0h2m1 0h2m2 0h2m-1 0h2m0 0h2m3 0h2m-1 0h2m36 0h2m-78 1h2m5 0h2m-1 0h2m0 0h2m0 0h2m-1 0h2m4 0h2m8 0h2m1 0h2m-1 0h2m-1 0h2m6 0h2m-1 0h2m13 0h2m-61 1h2m0 0h2m0 0h2m2 0h2m-1 0h2m1 0h2m-1 0h2m0 0h2m0 0h2m5 0h2m-1 0h2m-1 0h2m2 0h2m7 0h2m37 0h2m-84 1h2m0 0h2m0 0h2m-1 0h2m2 0h2m2 0h2m6 0h2m0 0h2m11 0h2m1 0h2m4 0h2m-48 1h2m0 0h2m1 0h2m0 0h2m1 0h2m1 0h2m-1 0h2m3 0h2m1 0h2m-1 0h2m-1 0h2m12 0h2m0 0h2m18 0h2m7 0h2m6 0h2m-76 1h2m1 0h2m1 0h2m2 0h2m-1 0h2m-1 0h2m-1 0h2m1 0h2m-1 0h2m-1 0h2m2 0h2m3 0h2m0 0h2m-37 1h2m-1 0h2m0 0h2m-1 0h2m0 0h2m5 0h2m5 0h2m-1 0h2m1 0h2m8 0h2m6 0h2m15 0h2m-67 1h2m6 0h2m4 0h2m-1 0h2m0 0h2m3 0h2m1 0h2m-1 0h2m-1 0h2m-1 0h2m1 0h2m4 0h2m-48 1h2m0 0h2m14 0h2m-1 0h2m1 0h2m-1 0h2m-1 0h2m8 0h2m1 0h2m39 0h2m14 0h2m-90 1h2m0 0h2m1 0h2m-1 0h2m2 0h2m0 0h2m1 0h2m0 0h2m1 0h2m-1 0h2m-1 0h2m0 0h2m4 0h2m6 0h2m-51 1h2m11 0h2m2 0h2m0 0h2m0 0h2m-1 0h2m-1 0h2m8 0h2m-1 0h2m3 0h2m-1 0h2m5 0h2m22 0h2m-66 1h2m5 0h2m0 0h2m1 0h2m-1 0h2m1 0h2m3 0h2m60 0h2m-90 1h2m-1 0h2m0 0h2m3 0h2m-1 0h2m4 0h2m0 0h2m-1 0h2m1 0h2m-1 0h2m4 0h2m3 0h2m-1 0h2m5 0h2m-42 1h2m6 0h2m0 0h2m0 0h2m1 0h2m-1 0h2m0 0h2m1 0h2m1 0h2m2 0h2m0 0h2m9 0h2m43 0h2m-84 1h2m4 0h2m0 0h2m0 0h2m1 0h2m11 0h2m16 0h2m-46 1h2m0 0h2m-1 0h2m-1 0h2m-1 0h2m0 0h2m0 0h2m-1 0h2m3 0h2m1 0h2m-25 1h2m0 0h2m-1 0h2m0 0h2m0 0h2m-1 0h2m5 0h2m2 0h2m0 0h2m3 0h2m-1 0h2m-1 0h2m-31 1h2m1 0h2m1 0h2m0 0h2m-1 0h2m0 0h2m3 0h2m-1 0h2m1 0h2m4 0h2m-28 1h2m-1 0h2m0 0h2m4 0h2m1 0h2m6 0h2m12 0h2m41 0h2m-77 1h2m6 0h2m0 0h2m-1 0h2m0 0h2m3 0h2m-1 0h2m-1 0h2m1 0h2m0 0h2m6 0h2m22 0h2m-58 1h2m0 0h2m1 0h2m-1 0h2m0 0h2m4 0h2m-1 0h2m3 0h2m12 0h2m-37 1h2m-1 0h2m0 0h2m2 0h2m0 0h2m0 0h2m2 0h2m-1 0h2m-1 0h2m8 0h2m-23 1h2m2 0h2m-11 1h2m-1 0h2m1 0h2m0 0h2m2 0h2m-1 0h2m-1 0h2m14 0h2m-28 1h2m0 0h2m6 0h2m6 0h2m0 0h2m85 0h2m-110 1h2m-1 0h2m1 0h2m0 0h2m14 0h2m8 0h2m-29 1h2m2 0h2m0 0h2m-12 1h2m-1 1h2m4 0h2m-1 0h2m-9 1h2m0 0h2m-2 1h2m3 6h2" stroke="#000" stroke-width="1.4" opacity="0.5"/><path d="M227.7 26.7L353.3 26.7" stroke="#bdbdbd" stroke-width="0.8"/><path d="M353.3 26.7L353.3 144.4" stroke="#bdbdbd" stroke-width="0.8"/><path d="M227.7 26.7L227.7 144.4" stroke="#9a9a9a" stroke-width="0.9"/><path d="M227.7 144.4L353.3 144.4" stroke="#c4c4c4" stroke-width="0.9"/><path d="M222.5 144.6L227.5 144.6M222.5 122.1L227.5 122.1M222.5 99.6L227.5 99.6M222.5 77.1L227.5 77.1M222.5 54.6L227.5 54.6M222.5 32.1L227.5 32.1" stroke="#1a1a1a" stroke-width="1.8"/><path d="M225.4 140.1L227.5 140.1M225.4 135.6L227.5 135.6M225.4 131.1L227.5 131.1M225.4 126.6L227.5 126.6M225.4 117.6L227.5 117.6M225.4 113.1L227.5 113.1M225.4 108.6L227.5 108.6M225.4 104.1L227.5 104.1M225.4 95.1L227.5 95.1M225.4 90.6L227.5 90.6M225.4 86.1L227.5 86.1M225.4 81.6L227.5 81.6M225.4 72.6L227.5 72.6M225.4 68.1L227.5 68.1M225.4 63.6L227.5 63.6M225.4 59.1L227.5 59.1M225.4 50.1L227.5 50.1M225.4 45.6L227.5 45.6M225.4 41.1L227.5 41.1M225.4 36.6L227.5 36.6M225.4 27.6L227.5 27.6" stroke="#3a3a3a" stroke-width="0.9"/><text x="218.1" y="144" font-size="7.2" text-anchor="end" fill="#1e1e1e" stroke="#1e1e1e" stroke-width="0.14">0</text><text x="218.1" y="127.2" font-size="7.2" text-anchor="end" fill="#1e1e1e" stroke="#1e1e1e" stroke-width="0.14">50K</text><text x="218.1" y="104.7" font-size="7.2" text-anchor="end" fill="#1e1e1e" stroke="#1e1e1e" stroke-width="0.14">100K</text><text x="218.1" y="82.2" font-size="7.2" text-anchor="end" fill="#1e1e1e" stroke="#1e1e1e" stroke-width="0.14">150K</text><text x="218.1" y="59.7" font-size="7.2" text-anchor="end" fill="#1e1e1e" stroke="#1e1e1e" stroke-width="0.14">200K</text><text x="218.1" y="37.2" font-size="7.2" text-anchor="end" fill="#1e1e1e" stroke="#1e1e1e" stroke-width="0.14">250K</text><path d="M228.5 145L228.5 150M259.9 145L259.9 150M291.3 145L291.3 150M322.7 145L322.7 150" stroke="#1a1a1a" stroke-width="1.8"/><path d="M234.8 145L234.8 147M241.1 145L241.1 147M247.3 145L247.3 147M253.6 145L253.6 147M266.2 145L266.2 147M272.5 145L272.5 147M278.7 145L278.7 147M285 145L285 147M297.6 145L297.6 147M303.9 145L303.9 147M310.1 145L310.1 147M316.4 145L316.4 147M329 145L329 147M335.3 145L335.3 147M341.5 145L341.5 147M347.8 145L347.8 147" stroke="#3a3a3a" stroke-width="0.9"/><text x="229.1" y="166.3" font-size="7.2" text-anchor="middle" fill="#1e1e1e" stroke="#1e1e1e" stroke-width="0.14">0</text><text x="256.5" y="166.3" font-size="7.2" text-anchor="middle" fill="#1e1e1e" stroke="#1e1e1e" stroke-width="0.14">50K</text><text x="287.9" y="166.3" font-size="7.2" text-anchor="middle" fill="#1e1e1e" stroke="#1e1e1e" stroke-width="0.14">100K</text><text x="319.3" y="166.3" font-size="7.2" text-anchor="middle" fill="#1e1e1e" stroke="#1e1e1e" stroke-width="0.14">150K</text><path d="M248.3 125.5L254 136.4L347.6 86.5L343.3 77.6Z" stroke="#222" stroke-width="1.1" fill="none" stroke-linejoin="round"/><text x="290.5" y="180.3" font-size="9.6" text-anchor="middle" textLength="26.8" lengthAdjust="spacingAndGlyphs" fill="#1e1e1e" stroke="#1e1e1e" stroke-width="0.22">FSC-A</text><text x="194.4" y="85.2" font-size="9.6" text-anchor="middle" textLength="25.8" lengthAdjust="spacingAndGlyphs" transform="rotate(-90 194.4 85.2)" fill="#1e1e1e" stroke="#1e1e1e" stroke-width="0.22">FSC-H</text><text x="253.3" y="82" font-size="6.0" text-anchor="middle" fill="#1e1e1e" stroke="#1e1e1e" stroke-width="0.14">Single Cells</text><text x="253.3" y="89" font-size="6.0" text-anchor="middle" fill="#1e1e1e" stroke="#1e1e1e" stroke-width="0.14">94,3</text><path d="M272.4 309.1L284.9 303.9L307.9 292.8L321.9 285.8L330.6 282.1L350.2 274L350 273.7L329.9 280.2L320.7 282.6L305.3 287L282.2 298.4L270.4 305.1Z" fill="#000" opacity="0.9" filter="url(#b12)" stroke-linejoin="round"/><path transform="scale(.5)" d="M685 543h2m11 0h2m-6 1h2m-6 1h2m7 0h2m-11 1h2m5 0h2m-11 1h2m2 0h2m5 0h2m-11 1h2m1 0h2m-1 0h2m0 0h2m0 0h2m0 0h2m-20 1h2m-1 0h2m1 0h2m4 0h2m1 0h2m0 0h2m-1 0h2m-33 1h2m16 0h2m-1 0h2m-1 0h2m1 0h2m-1 0h2m0 0h2m0 0h2m-1 0h2m0 0h2m-1 0h2m-22 1h2m1 0h2m2 0h2m3 0h2m0 0h2m1 0h2m-1 0h2m1 0h2m-31 1h2m0 0h2m3 0h2m4 0h2m1 0h2m-1 0h2m3 0h2m3 0h2m-1 0h2m0 0h2m-39 1h2m0 0h2m7 0h2m0 0h2m4 0h2m-1 0h2m11 0h2m-34 1h2m5 0h2m-1 0h2m0 0h2m3 0h2m2 0h2m1 0h2m-14 1h2m-1 0h2m1 0h2m-1 0h2m5 0h2m0 0h2m0 0h2m1 0h2m0 0h2m-1 0h2m1 0h2m-38 1h2m-1 0h2m3 0h2m-1 0h2m-1 0h2m0 0h2m-1 0h2m3 0h2m2 0h2m0 0h2m-1 0h2m6 0h2m-39 1h2m9 0h2m0 0h2m1 0h2m-1 0h2m-1 0h2m0 0h2m-1 0h2m1 0h2m4 0h2m-34 1h2m0 0h2m0 0h2m2 0h2m-1 0h2m2 0h2m-1 0h2m2 0h2m-1 0h2m1 0h2m0 0h2m3 0h2m3 0h2m11 0h2m-55 1h2m9 0h2m2 0h2m-1 0h2m-1 0h2m0 0h2m-1 0h2m7 0h2m2 0h2m14 0h2m-53 1h2m7 0h2m3 0h2m-1 0h2m-1 0h2m-1 0h2m-1 0h2m2 0h2m0 0h2m-1 0h2m5 0h2m8 0h2m-45 1h2m0 0h2m1 0h2m-1 0h2m5 0h2m-1 0h2m-1 0h2m22 0h2m-56 1h2m7 0h2m0 0h2m6 0h2m-1 0h2m0 0h2m3 0h2m-1 0h2m-1 0h2m2 0h2m1 0h2m2 0h2m-1 0h2m-1 0h2m0 0h2m4 0h2m-44 1h2m1 0h2m-1 0h2m6 0h2m2 0h2m1 0h2m5 0h2m1 0h2m3 0h2m0 0h2m1 0h2m-46 1h2m6 0h2m1 0h2m7 0h2m-1 0h2m0 0h2m7 0h2m-1 0h2m-1 0h2m-1 0h2m1 0h2m-1 0h2m-1 0h2m-46 1h2m7 0h2m4 0h2m1 0h2m8 0h2m3 0h2m-1 0h2m-1 0h2m2 0h2m4 0h2m12 0h2m-72 1h2m15 0h2m0 0h2m-1 0h2m-1 0h2m8 0h2m1 0h2m2 0h2m0 0h2m1 0h2m4 0h2m6 0h2m-63 1h2m8 0h2m2 0h2m-1 0h2m2 0h2m9 0h2m0 0h2m0 0h2m0 0h2m0 0h2m3 0h2m-40 1h2m1 0h2m3 0h2m6 0h2m-1 0h2m-1 0h2m1 0h2m0 0h2m0 0h2m-1 0h2m1 0h2m1 0h2m-1 0h2m2 0h2m7 0h2m9 0h2m12 0h2m-62 1h2m0 0h2m0 0h2m1 0h2m5 0h2m1 0h2m4 0h2m1 0h2m11 0h2m-59 1h2m7 0h2m3 0h2m0 0h2m2 0h2m0 0h2m-1 0h2m-1 0h2m3 0h2m2 0h2m0 0h2m14 0h2m-57 1h2m12 0h2m0 0h2m6 0h2m0 0h2m-1 0h2m11 0h2m0 0h2m1 0h2m-1 0h2m-33 1h2m3 0h2m2 0h2m0 0h2m1 0h2m10 0h2m0 0h2m7 0h2m2 0h2m-57 1h2m5 0h2m3 0h2m2 0h2m3 0h2m1 0h2m-1 0h2m1 0h2m0 0h2m33 0h2m17 0h2m-85 1h2m3 0h2m-1 0h2m4 0h2m-1 0h2m0 0h2m-1 0h2m4 0h2m9 0h2m1 0h2m-105 1h2m63 0h2m0 0h2m0 0h2m-1 0h2m0 0h2m0 0h2m-1 0h2m-1 0h2m5 0h2m0 0h2m1 0h2m1 0h2m0 0h2m12 0h2m-40 1h2m-1 0h2m-1 0h2m-1 0h2m-1 0h2m3 0h2m3 0h2m-1 0h2m-1 0h2m7 0h2m29 0h2m-74 1h2m12 0h2m1 0h2m0 0h2m-1 0h2m1 0h2m2 0h2m-1 0h2m12 0h2m15 0h2m-57 1h2m10 0h2m1 0h2m0 0h2m0 0h2m0 0h2m1 0h2m6 0h2m6 0h2m-1 0h2m8 0h2m-63 1h2m0 0h2m15 0h2m4 0h2m1 0h2m0 0h2m-1 0h2m11 0h2m6 0h2m2 0h2m17 0h2m-75 1h2m16 0h2m4 0h2m1 0h2m-1 0h2m1 0h2m-1 0h2m21 0h2m-1 0h2m-58 1h2m5 0h2m-1 0h2m-1 0h2m2 0h2m-1 0h2m-1 0h2m4 0h2m2 0h2m14 0h2m2 0h2m2 0h2m-50 1h2m0 0h2m4 0h2m-1 0h2m1 0h2m2 0h2m1 0h2m13 0h2m-41 1h2m4 0h2m2 0h2m-1 0h2m1 0h2m1 0h2m0 0h2m0 0h2m0 0h2m0 0h2m-1 0h2m-1 0h2m0 0h2m-1 0h2m-1 0h2m0 0h2m4 0h2m-47 1h2m0 0h2m2 0h2m2 0h2m-1 0h2m-1 0h2m-1 0h2m-1 0h2m-1 0h2m0 0h2m1 0h2m-1 0h2m4 0h2m0 0h2m1 0h2m-1 0h2m-1 0h2m-1 0h2m-1 0h2m1 0h2m-52 1h2m17 0h2m2 0h2m1 0h2m0 0h2m7 0h2m-1 0h2m1 0h2m13 0h2m33 0h2m-69 1h2m9 0h2m-1 0h2m2 0h2m1 0h2m-41 1h2m9 0h2m2 0h2m-1 0h2m0 0h2m0 0h2m6 0h2m10 0h2m5 0h2m-37 1h2m-1 0h2m0 0h2m2 0h2m-1 0h2m-1 0h2m-22 1h2m3 0h2m6 0h2m9 0h2m3 0h2m-1 0h2m-1 0h2m0 0h2m-34 1h2m0 0h2m1 0h2m0 0h2m-1 0h2m-1 0h2m-1 0h2m0 0h2m0 0h2m18 0h2m-36 1h2m12 0h2m6 0h2m0 0h2m4 0h2m-32 1h2m3 0h2m4 0h2m-1 0h2m-1 0h2m2 0h2m1 0h2m2 0h2m12 0h2m3 0h2m-67 1h2m2 0h2m14 0h2m7 0h2m4 0h2m-1 0h2m-1 0h2m-33 1h2m7 0h2m1 0h2m-1 0h2m5 0h2m0 0h2m4 0h2m10 0h2m3 0h2m-44 1h2m1 0h2m0 0h2m-1 0h2m1 0h2m0 0h2m3 0h2m0 0h2m-1 0h2m0 0h2m4 0h2m5 0h2m0 0h2m-33 1h2m7 0h2m-17 1h2m3 0h2m2 0h2m8 0h2m-1 0h2m0 0h2m-1 0h2m1 0h2m5 0h2m-1 0h2m-34 1h2m0 0h2m0 0h2m-1 0h2m0 0h2m-1 0h2m-1 0h2m0 0h2m14 0h2m0 0h2m-35 1h2m0 0h2m1 0h2m1 0h2m2 0h2m21 0h2m1 0h2m35 0h2m8 0h2m-92 1h2m2 0h2m0 0h2m14 0h2m18 0h2m-62 1h2m15 0h2m6 0h2m0 0h2m-1 0h2m0 0h2m-1 0h2m4 0h2m1 0h2m1 0h2m9 0h2m-41 1h2m-1 0h2m-1 0h2m6 0h2m0 0h2m-1 0h2m0 0h2m1 0h2m3 0h2m-1 0h2m34 0h2m-55 1h2m1 0h2m0 0h2m-1 0h2m1 0h2m-1 0h2m1 0h2m6 0h2m-38 1h2m7 0h2m2 0h2m-1 0h2m-1 0h2m-1 0h2m-1 0h2m0 0h2m0 0h2m3 0h2m4 0h2m0 0h2m21 0h2m27 0h2m-82 1h2m0 0h2m2 0h2m0 0h2m-1 0h2m-1 0h2m4 0h2m1 0h2m-1 0h2m-30 1h2m4 0h2m1 0h2m0 0h2m-1 0h2m0 0h2m0 0h2m0 0h2m6 0h2m26 0h2m-58 1h2m-1 0h2m1 0h2m-1 0h2m1 0h2m-1 0h2m-1 0h2m-1 0h2m1 0h2m-1 0h2m-1 0h2m-1 0h2m1 0h2m-1 0h2m1 0h2m0 0h2m6 0h2m-39 1h2m0 0h2m0 0h2m0 0h2m-1 0h2m0 0h2m2 0h2m-1 0h2m-1 0h2m-1 0h2m2 0h2m-1 0h2m2 0h2m-1 0h2m7 0h2m3 0h2m-41 1h2m1 0h2m1 0h2m-1 0h2m-1 0h2m0 0h2m-1 0h2m-1 0h2m-1 0h2m-1 0h2m-1 0h2m3 0h2m0 0h2m2 0h2m0 0h2m2 0h2m-34 1h2m-1 0h2m-1 0h2m0 0h2m1 0h2m6 0h2m-1 0h2m1 0h2m2 0h2m48 0h2m-75 1h2m-1 0h2m0 0h2m0 0h2m1 0h2m5 0h2m-1 0h2m1 0h2m0 0h2m10 0h2m-34 1h2m1 0h2m-1 0h2m-1 0h2m-1 0h2m1 0h2m-1 0h2m1 0h2m-1 0h2m-1 0h2m0 0h2m1 0h2m-1 0h2m-1 0h2m9 0h2m-1 0h2m-35 1h2m-1 0h2m3 0h2m3 0h2m0 0h2m2 0h2m1 0h2m-16 1h2m0 0h2m0 0h2m-1 0h2m13 0h2m16 0h2m-44 1h2m0 0h2m3 0h2m1 0h2m0 0h2m3 0h2m10 0h2m-31 1h2m1 0h2m2 0h2m6 0h2m87 0h2m-107 1h2m-1 0h2m0 0h2m2 0h2m1 0h2m-10 1h2m6 0h2m-10 1h2m3 0h2m0 0h2m-6 1h2m64 0h2m-65 1h2m-4 1h2m12 0h2m-7 4h2m0 1h2" stroke="#000" stroke-width="1.4" opacity="0.5"/><path transform="scale(.5)" d="M697 544h2m-2 1h2m-6 1h2m-1 0h2m-14 1h2m4 0h2m5 0h2m0 0h2m-1 0h2m-21 1h2m9 0h2m0 0h2m2 0h2m19 0h2m-31 1h2m1 0h2m3 0h2m-1 0h2m-1 0h2m0 0h2m-20 1h2m3 0h2m1 0h2m-1 0h2m0 0h2m-21 1h2m6 0h2m3 0h2m-1 0h2m0 0h2m-1 0h2m-1 0h2m-1 0h2m-1 0h2m-1 0h2m-1 0h2m1 0h2m0 0h2m-37 1h2m9 0h2m0 0h2m3 0h2m1 0h2m-1 0h2m2 0h2m-43 1h2m21 0h2m6 0h2m0 0h2m-1 0h2m-1 0h2m-1 0h2m1 0h2m1 0h2m4 0h2m0 0h2m-25 1h2m6 0h2m-1 0h2m1 0h2m2 0h2m0 0h2m-1 0h2m-36 1h2m0 0h2m2 0h2m1 0h2m-1 0h2m0 0h2m2 0h2m-1 0h2m-1 0h2m0 0h2m-1 0h2m6 0h2m2 0h2m-40 1h2m7 0h2m-1 0h2m-1 0h2m-1 0h2m-1 0h2m-1 0h2m-1 0h2m0 0h2m1 0h2m2 0h2m0 0h2m-1 0h2m2 0h2m3 0h2m-31 1h2m2 0h2m1 0h2m-1 0h2m-1 0h2m3 0h2m0 0h2m-1 0h2m0 0h2m-1 0h2m0 0h2m0 0h2m-38 1h2m7 0h2m2 0h2m-1 0h2m0 0h2m4 0h2m4 0h2m14 0h2m16 0h2m-47 1h2m-1 0h2m2 0h2m0 0h2m0 0h2m0 0h2m-1 0h2m-40 1h2m1 0h2m3 0h2m2 0h2m0 0h2m-1 0h2m-1 0h2m0 0h2m-1 0h2m0 0h2m3 0h2m-1 0h2m0 0h2m0 0h2m-1 0h2m1 0h2m0 0h2m-39 1h2m3 0h2m3 0h2m2 0h2m-1 0h2m-1 0h2m-1 0h2m-1 0h2m2 0h2m0 0h2m4 0h2m7 0h2m1 0h2m-56 1h2m20 0h2m0 0h2m1 0h2m1 0h2m-1 0h2m2 0h2m0 0h2m2 0h2m5 0h2m-49 1h2m5 0h2m9 0h2m5 0h2m-1 0h2m0 0h2m2 0h2m-1 0h2m3 0h2m-44 1h2m12 0h2m0 0h2m4 0h2m-1 0h2m-1 0h2m-1 0h2m0 0h2m0 0h2m-1 0h2m2 0h2m8 0h2m-37 1h2m2 0h2m6 0h2m3 0h2m1 0h2m-1 0h2m-1 0h2m-1 0h2m2 0h2m-39 1h2m-1 0h2m2 0h2m5 0h2m1 0h2m-1 0h2m-1 0h2m0 0h2m1 0h2m0 0h2m0 0h2m-1 0h2m-38 1h2m8 0h2m0 0h2m-1 0h2m2 0h2m-1 0h2m1 0h2m-1 0h2m1 0h2m4 0h2m2 0h2m2 0h2m0 0h2m8 0h2m11 0h2m-65 1h2m-1 0h2m5 0h2m13 0h2m7 0h2m0 0h2m1 0h2m0 0h2m-1 0h2m-1 0h2m-39 1h2m10 0h2m6 0h2m17 0h2m4 0h2m-61 1h2m14 0h2m5 0h2m2 0h2m-1 0h2m6 0h2m5 0h2m2 0h2m-38 1h2m0 0h2m1 0h2m3 0h2m2 0h2m3 0h2m1 0h2m4 0h2m1 0h2m6 0h2m3 0h2m-1 0h2m1 0h2m-60 1h2m1 0h2m3 0h2m1 0h2m2 0h2m2 0h2m-1 0h2m7 0h2m-1 0h2m4 0h2m2 0h2m1 0h2m3 0h2m-50 1h2m3 0h2m0 0h2m0 0h2m0 0h2m2 0h2m7 0h2m3 0h2m0 0h2m0 0h2m-1 0h2m3 0h2m-45 1h2m1 0h2m3 0h2m0 0h2m-1 0h2m-1 0h2m2 0h2m2 0h2m-1 0h2m6 0h2m-1 0h2m29 0h2m-75 1h2m16 0h2m6 0h2m0 0h2m4 0h2m1 0h2m2 0h2m-1 0h2m0 0h2m0 0h2m-1 0h2m19 0h2m-57 1h2m6 0h2m-1 0h2m4 0h2m2 0h2m8 0h2m0 0h2m-34 1h2m2 0h2m0 0h2m-1 0h2m-1 0h2m4 0h2m3 0h2m0 0h2m5 0h2m2 0h2m23 0h2m-58 1h2m6 0h2m3 0h2m5 0h2m0 0h2m0 0h2m-1 0h2m-1 0h2m-1 0h2m7 0h2m-51 1h2m3 0h2m5 0h2m4 0h2m-1 0h2m-1 0h2m2 0h2m-1 0h2m3 0h2m0 0h2m0 0h2m-22 1h2m1 0h2m4 0h2m2 0h2m1 0h2m1 0h2m9 0h2m25 0h2m-70 1h2m11 0h2m4 0h2m-1 0h2m-17 1h2m-1 0h2m4 0h2m0 0h2m0 0h2m5 0h2m-1 0h2m-37 1h2m-1 0h2m11 0h2m-1 0h2m1 0h2m6 0h2m-1 0h2m13 0h2m0 0h2m2 0h2m-44 1h2m3 0h2m1 0h2m0 0h2m0 0h2m0 0h2m10 0h2m-28 1h2m-1 0h2m1 0h2m3 0h2m6 0h2m4 0h2m0 0h2m3 0h2m35 0h2m-70 1h2m4 0h2m-1 0h2m-1 0h2m2 0h2m0 0h2m3 0h2m1 0h2m4 0h2m7 0h2m-48 1h2m5 0h2m5 0h2m2 0h2m-1 0h2m0 0h2m4 0h2m3 0h2m-40 1h2m7 0h2m3 0h2m-1 0h2m-1 0h2m0 0h2m-1 0h2m3 0h2m0 0h2m-1 0h2m-1 0h2m4 0h2m2 0h2m11 0h2m-50 1h2m8 0h2m0 0h2m-1 0h2m6 0h2m9 0h2m3 0h2m3 0h2m-49 1h2m4 0h2m1 0h2m4 0h2m0 0h2m3 0h2m3 0h2m0 0h2m0 0h2m-1 0h2m10 0h2m0 0h2m19 0h2m12 0h2m-71 1h2m0 0h2m1 0h2m-1 0h2m1 0h2m5 0h2m2 0h2m1 0h2m-1 0h2m-48 1h2m4 0h2m6 0h2m0 0h2m-1 0h2m6 0h2m2 0h2m13 0h2m-27 1h2m0 0h2m-1 0h2m1 0h2m9 0h2m0 0h2m1 0h2m5 0h2m6 0h2m-1 0h2m-49 1h2m0 0h2m0 0h2m-1 0h2m-1 0h2m-1 0h2m-1 0h2m21 0h2m-1 0h2m5 0h2m1 0h2m-52 1h2m2 0h2m1 0h2m4 0h2m0 0h2m-1 0h2m-1 0h2m3 0h2m3 0h2m15 0h2m-51 1h2m4 0h2m-1 0h2m10 0h2m1 0h2m1 0h2m11 0h2m-41 1h2m1 0h2m5 0h2m-1 0h2m0 0h2m1 0h2m11 0h2m3 0h2m9 0h2m-53 1h2m1 0h2m14 0h2m8 0h2m0 0h2m-1 0h2m4 0h2m-1 0h2m-36 1h2m3 0h2m4 0h2m-1 0h2m0 0h2m6 0h2m1 0h2m-1 0h2m0 0h2m-1 0h2m6 0h2m-45 1h2m6 0h2m-1 0h2m0 0h2m-1 0h2m1 0h2m0 0h2m2 0h2m5 0h2m3 0h2m-1 0h2m-42 1h2m10 0h2m0 0h2m1 0h2m-1 0h2m6 0h2m1 0h2m33 0h2m6 0h2m-68 1h2m3 0h2m0 0h2m-1 0h2m2 0h2m-1 0h2m1 0h2m3 0h2m1 0h2m8 0h2m-47 1h2m9 0h2m7 0h2m0 0h2m1 0h2m2 0h2m2 0h2m0 0h2m1 0h2m0 0h2m4 0h2m46 0h2m-99 1h2m10 0h2m1 0h2m-1 0h2m1 0h2m0 0h2m-1 0h2m-1 0h2m-1 0h2m-1 0h2m1 0h2m15 0h2m0 0h2m1 0h2m-42 1h2m5 0h2m0 0h2m-1 0h2m-1 0h2m0 0h2m6 0h2m13 0h2m3 0h2m-1 0h2m7 0h2m-56 1h2m1 0h2m1 0h2m0 0h2m-1 0h2m-1 0h2m0 0h2m6 0h2m1 0h2m-1 0h2m4 0h2m-36 1h2m0 0h2m2 0h2m2 0h2m0 0h2m2 0h2m-1 0h2m-1 0h2m1 0h2m0 0h2m1 0h2m1 0h2m26 0h2m-56 1h2m-1 0h2m-1 0h2m-1 0h2m1 0h2m-1 0h2m4 0h2m0 0h2m0 0h2m-1 0h2m0 0h2m5 0h2m-34 1h2m0 0h2m0 0h2m2 0h2m-1 0h2m-1 0h2m-1 0h2m2 0h2m2 0h2m-1 0h2m2 0h2m-1 0h2m13 0h2m-42 1h2m0 0h2m1 0h2m0 0h2m-1 0h2m-1 0h2m-1 0h2m-1 0h2m-1 0h2m0 0h2m-1 0h2m1 0h2m0 0h2m-21 1h2m0 0h2m-1 0h2m0 0h2m-1 0h2m-1 0h2m5 0h2m1 0h2m17 0h2m-38 1h2m0 0h2m-1 0h2m0 0h2m-1 0h2m-1 0h2m-1 0h2m-1 0h2m2 0h2m2 0h2m-1 0h2m1 0h2m77 0h2m-102 1h2m-1 0h2m-1 0h2m0 0h2m-1 0h2m-1 0h2m-1 0h2m0 0h2m5 0h2m3 0h2m-22 1h2m-1 0h2m2 0h2m-1 0h2m2 0h2m1 0h2m-14 1h2m0 0h2m1 0h2m6 0h2m0 0h2m-15 1h2m0 0h2m2 0h2m-1 0h2m2 0h2m-14 1h2m0 0h2m-1 0h2m0 0h2m1 0h2m2 0h2m-1 0h2m-15 1h2m0 0h2m-1 0h2m4 0h2m-6 1h2m-1 0h2m-4 1h2m0 0h2m8 0h2m-16 1h2m3 0h2m2 0h2m-1 0h2m-9 1h2m2 0h2m-5 1h2m-5 1h2m6 0h2m138 0h2m-145 2h2" stroke="#000" stroke-width="1.4" opacity="0.5"/><path transform="scale(.5)" d="M712 541h2m-21 4h2m-6 1h2m3 0h2m0 0h2m5 0h2m-13 1h2m-5 1h2m0 0h2m2 0h2m-1 0h2m0 0h2m-14 1h2m0 0h2m2 0h2m-1 0h2m0 0h2m-1 0h2m1 0h2m-23 1h2m2 0h2m-1 0h2m4 0h2m0 0h2m-1 0h2m-1 0h2m0 0h2m-1 0h2m1 0h2m0 0h2m-22 1h2m4 0h2m0 0h2m3 0h2m1 0h2m5 0h2m-27 1h2m6 0h2m3 0h2m0 0h2m-24 1h2m2 0h2m1 0h2m0 0h2m2 0h2m-1 0h2m-1 0h2m0 0h2m1 0h2m-1 0h2m1 0h2m1 0h2m1 0h2m-27 1h2m0 0h2m-1 0h2m4 0h2m2 0h2m2 0h2m4 0h2m-32 1h2m0 0h2m0 0h2m4 0h2m3 0h2m0 0h2m-1 0h2m1 0h2m5 0h2m2 0h2m-38 1h2m1 0h2m-1 0h2m3 0h2m3 0h2m-1 0h2m0 0h2m-1 0h2m2 0h2m-1 0h2m-31 1h2m0 0h2m-1 0h2m-1 0h2m2 0h2m-1 0h2m2 0h2m0 0h2m3 0h2m2 0h2m1 0h2m-27 1h2m3 0h2m0 0h2m-1 0h2m-1 0h2m7 0h2m0 0h2m5 0h2m-1 0h2m-51 1h2m10 0h2m1 0h2m3 0h2m0 0h2m1 0h2m-1 0h2m3 0h2m1 0h2m-1 0h2m1 0h2m4 0h2m-38 1h2m0 0h2m6 0h2m3 0h2m5 0h2m1 0h2m-1 0h2m2 0h2m1 0h2m-1 0h2m0 0h2m5 0h2m-47 1h2m1 0h2m2 0h2m0 0h2m-1 0h2m0 0h2m-1 0h2m-1 0h2m0 0h2m-1 0h2m-1 0h2m-1 0h2m0 0h2m5 0h2m6 0h2m-40 1h2m2 0h2m-1 0h2m1 0h2m0 0h2m-1 0h2m3 0h2m0 0h2m7 0h2m3 0h2m3 0h2m-38 1h2m-1 0h2m0 0h2m-1 0h2m0 0h2m0 0h2m1 0h2m0 0h2m1 0h2m-1 0h2m10 0h2m3 0h2m8 0h2m-105 1h2m48 0h2m1 0h2m-1 0h2m10 0h2m7 0h2m2 0h2m2 0h2m2 0h2m-86 1h2m50 0h2m0 0h2m4 0h2m1 0h2m-1 0h2m-1 0h2m3 0h2m-1 0h2m-1 0h2m1 0h2m0 0h2m-38 1h2m4 0h2m7 0h2m1 0h2m0 0h2m2 0h2m-1 0h2m-1 0h2m7 0h2m20 0h2m0 0h2m-62 1h2m-1 0h2m-1 0h2m2 0h2m-1 0h2m1 0h2m-1 0h2m0 0h2m0 0h2m0 0h2m1 0h2m0 0h2m2 0h2m3 0h2m7 0h2m19 0h2m-126 1h2m66 0h2m3 0h2m-1 0h2m-1 0h2m7 0h2m4 0h2m-32 1h2m3 0h2m-1 0h2m2 0h2m3 0h2m1 0h2m-1 0h2m-1 0h2m0 0h2m-1 0h2m1 0h2m-1 0h2m1 0h2m16 0h2m-53 1h2m0 0h2m1 0h2m0 0h2m0 0h2m6 0h2m-1 0h2m0 0h2m4 0h2m-39 1h2m2 0h2m0 0h2m9 0h2m3 0h2m9 0h2m-1 0h2m-1 0h2m13 0h2m-46 1h2m1 0h2m1 0h2m2 0h2m0 0h2m0 0h2m3 0h2m5 0h2m2 0h2m-1 0h2m-45 1h2m1 0h2m6 0h2m3 0h2m3 0h2m-1 0h2m1 0h2m-1 0h2m3 0h2m6 0h2m-1 0h2m0 0h2m6 0h2m0 0h2m-53 1h2m2 0h2m3 0h2m-1 0h2m3 0h2m0 0h2m-1 0h2m0 0h2m2 0h2m4 0h2m1 0h2m-1 0h2m12 0h2m6 0h2m-59 1h2m-1 0h2m18 0h2m2 0h2m-1 0h2m0 0h2m0 0h2m2 0h2m12 0h2m5 0h2m-53 1h2m9 0h2m3 0h2m5 0h2m5 0h2m7 0h2m8 0h2m5 0h2m-116 1h2m47 0h2m8 0h2m0 0h2m7 0h2m6 0h2m1 0h2m3 0h2m-1 0h2m31 0h2m-78 1h2m2 0h2m-1 0h2m-1 0h2m2 0h2m2 0h2m-1 0h2m0 0h2m1 0h2m0 0h2m1 0h2m-1 0h2m1 0h2m8 0h2m1 0h2m16 0h2m9 0h2m-78 1h2m4 0h2m-1 0h2m4 0h2m-1 0h2m0 0h2m0 0h2m0 0h2m4 0h2m1 0h2m0 0h2m41 0h2m-71 1h2m3 0h2m2 0h2m0 0h2m-1 0h2m3 0h2m-1 0h2m9 0h2m2 0h2m3 0h2m12 0h2m4 0h2m-56 1h2m3 0h2m0 0h2m-1 0h2m1 0h2m1 0h2m5 0h2m8 0h2m2 0h2m-51 1h2m5 0h2m-1 0h2m1 0h2m0 0h2m2 0h2m2 0h2m1 0h2m-1 0h2m0 0h2m1 0h2m9 0h2m16 0h2m-58 1h2m2 0h2m2 0h2m3 0h2m-1 0h2m1 0h2m12 0h2m3 0h2m2 0h2m-1 0h2m-43 1h2m-1 0h2m4 0h2m0 0h2m-1 0h2m-1 0h2m-1 0h2m1 0h2m-1 0h2m5 0h2m-1 0h2m0 0h2m3 0h2m0 0h2m8 0h2m-52 1h2m11 0h2m-1 0h2m-1 0h2m7 0h2m3 0h2m0 0h2m-1 0h2m-1 0h2m41 0h2m-80 1h2m10 0h2m-1 0h2m-1 0h2m8 0h2m-1 0h2m1 0h2m-25 1h2m1 0h2m-1 0h2m6 0h2m7 0h2m5 0h2m-1 0h2m-1 0h2m13 0h2m-55 1h2m8 0h2m-1 0h2m5 0h2m1 0h2m0 0h2m-1 0h2m-1 0h2m-1 0h2m10 0h2m10 0h2m-59 1h2m3 0h2m3 0h2m0 0h2m7 0h2m5 0h2m0 0h2m0 0h2m0 0h2m3 0h2m-1 0h2m3 0h2m-1 0h2m-48 1h2m7 0h2m1 0h2m6 0h2m1 0h2m12 0h2m10 0h2m-1 0h2m3 0h2m2 0h2m14 0h2m-78 1h2m6 0h2m-1 0h2m3 0h2m-1 0h2m2 0h2m1 0h2m-1 0h2m3 0h2m-1 0h2m2 0h2m0 0h2m31 0h2m-69 1h2m1 0h2m-1 0h2m3 0h2m-1 0h2m1 0h2m0 0h2m4 0h2m0 0h2m3 0h2m1 0h2m0 0h2m2 0h2m3 0h2m2 0h2m-1 0h2m30 0h2m-83 1h2m-1 0h2m0 0h2m3 0h2m0 0h2m-1 0h2m2 0h2m2 0h2m3 0h2m6 0h2m0 0h2m-35 1h2m7 0h2m-1 0h2m0 0h2m-1 0h2m-1 0h2m1 0h2m7 0h2m-1 0h2m0 0h2m-1 0h2m3 0h2m6 0h2m-48 1h2m0 0h2m5 0h2m0 0h2m1 0h2m-1 0h2m2 0h2m1 0h2m0 0h2m-1 0h2m-1 0h2m10 0h2m-43 1h2m8 0h2m3 0h2m3 0h2m2 0h2m4 0h2m24 0h2m-66 1h2m1 0h2m1 0h2m0 0h2m2 0h2m-1 0h2m-1 0h2m-1 0h2m2 0h2m5 0h2m7 0h2m5 0h2m5 0h2m-48 1h2m11 0h2m0 0h2m0 0h2m-1 0h2m0 0h2m-1 0h2m3 0h2m-1 0h2m2 0h2m70 0h2m-111 1h2m7 0h2m0 0h2m2 0h2m1 0h2m4 0h2m-1 0h2m1 0h2m3 0h2m4 0h2m23 0h2m-57 1h2m0 0h2m-1 0h2m1 0h2m1 0h2m1 0h2m-1 0h2m-1 0h2m0 0h2m-1 0h2m1 0h2m-26 1h2m1 0h2m1 0h2m0 0h2m0 0h2m3 0h2m0 0h2m2 0h2m0 0h2m1 0h2m20 0h2m-58 1h2m0 0h2m2 0h2m-1 0h2m-1 0h2m3 0h2m-1 0h2m-1 0h2m0 0h2m2 0h2m18 0h2m11 0h2m-54 1h2m-1 0h2m3 0h2m2 0h2m0 0h2m-1 0h2m2 0h2m11 0h2m2 0h2m-42 1h2m5 0h2m-1 0h2m0 0h2m4 0h2m1 0h2m-1 0h2m3 0h2m-1 0h2m0 0h2m-1 0h2m5 0h2m0 0h2m47 0h2m-95 1h2m4 0h2m2 0h2m0 0h2m1 0h2m-1 0h2m-1 0h2m1 0h2m8 0h2m-1 0h2m2 0h2m0 0h2m11 0h2m-39 1h2m2 0h2m-1 0h2m4 0h2m3 0h2m2 0h2m-25 1h2m4 0h2m-1 0h2m-1 0h2m0 0h2m5 0h2m-1 0h2m3 0h2m-33 1h2m-1 0h2m0 0h2m2 0h2m6 0h2m18 0h2m-34 1h2m-1 0h2m1 0h2m-1 0h2m-1 0h2m-1 0h2m-1 0h2m-1 0h2m1 0h2m-1 0h2m0 0h2m0 0h2m9 0h2m9 0h2m3 0h2m-50 1h2m1 0h2m-1 0h2m6 0h2m-1 0h2m-1 0h2m-1 0h2m1 0h2m-1 0h2m0 0h2m-1 0h2m2 0h2m7 0h2m2 0h2m1 0h2m-42 1h2m0 0h2m0 0h2m1 0h2m-1 0h2m1 0h2m-13 1h2m0 0h2m0 0h2m-1 0h2m-1 0h2m-1 0h2m-1 0h2m16 0h2m-1 0h2m-29 1h2m-1 0h2m0 0h2m0 0h2m-1 0h2m-1 0h2m4 0h2m3 0h2m0 0h2m-22 1h2m0 0h2m0 0h2m-1 0h2m1 0h2m2 0h2m3 0h2m1 0h2m-22 1h2m1 0h2m0 0h2m0 0h2m-1 0h2m0 0h2m1 0h2m-1 0h2m-14 1h2m-1 0h2m-1 0h2m0 0h2m2 0h2m-1 0h2m-9 1h2m0 0h2m2 0h2m-1 0h2m-1 0h2m-12 1h2m2 0h2m85 0h2m-92 1h2m1 0h2m6 0h2m1 0h2m-15 1h2m1 0h2m8 3h2m-13 2h2m2 5h2m13 6h2" stroke="#000" stroke-width="1.4" opacity="0.5"/><path d="M230.2 212.4L359.5 212.4" stroke="#bdbdbd" stroke-width="0.8"/><path d="M359.5 212.4L359.5 327.1" stroke="#bdbdbd" stroke-width="0.8"/><path d="M230.2 212.4L230.2 327.1" stroke="#9a9a9a" stroke-width="0.9"/><path d="M230.2 327.1L359.5 327.1" stroke="#c4c4c4" stroke-width="0.9"/><path d="M225 327.1L230 327.1M225 305.1L230 305.1M225 283.1L230 283.1M225 261.1L230 261.1M225 239.1L230 239.1M225 217.1L230 217.1" stroke="#1a1a1a" stroke-width="1.8"/><path d="M227.9 322.7L230 322.7M227.9 318.3L230 318.3M227.9 313.9L230 313.9M227.9 309.5L230 309.5M227.9 300.7L230 300.7M227.9 296.3L230 296.3M227.9 291.9L230 291.9M227.9 287.5L230 287.5M227.9 278.7L230 278.7M227.9 274.3L230 274.3M227.9 269.9L230 269.9M227.9 265.5L230 265.5M227.9 256.7L230 256.7M227.9 252.3L230 252.3M227.9 247.9L230 247.9M227.9 243.5L230 243.5M227.9 234.7L230 234.7M227.9 230.3L230 230.3M227.9 225.9L230 225.9M227.9 221.5L230 221.5" stroke="#3a3a3a" stroke-width="0.9"/><text x="220.6" y="326.5" font-size="7.2" text-anchor="end" fill="#1e1e1e" stroke="#1e1e1e" stroke-width="0.14">0</text><text x="220.6" y="310.2" font-size="7.2" text-anchor="end" fill="#1e1e1e" stroke="#1e1e1e" stroke-width="0.14">50K</text><text x="220.6" y="288.2" font-size="7.2" text-anchor="end" fill="#1e1e1e" stroke="#1e1e1e" stroke-width="0.14">100K</text><text x="220.6" y="266.2" font-size="7.2" text-anchor="end" fill="#1e1e1e" stroke="#1e1e1e" stroke-width="0.14">150K</text><text x="220.6" y="244.2" font-size="7.2" text-anchor="end" fill="#1e1e1e" stroke="#1e1e1e" stroke-width="0.14">200K</text><text x="220.6" y="222.2" font-size="7.2" text-anchor="end" fill="#1e1e1e" stroke="#1e1e1e" stroke-width="0.14">250K</text><path d="M231.7 327.7L231.7 332.7M263.7 327.7L263.7 332.7M295.7 327.7L295.7 332.7M327.7 327.7L327.7 332.7" stroke="#1a1a1a" stroke-width="1.8"/><path d="M238.1 327.7L238.1 329.7M244.5 327.7L244.5 329.7M250.9 327.7L250.9 329.7M257.3 327.7L257.3 329.7M270.1 327.7L270.1 329.7M276.5 327.7L276.5 329.7M282.9 327.7L282.9 329.7M289.3 327.7L289.3 329.7M302.1 327.7L302.1 329.7M308.5 327.7L308.5 329.7M314.9 327.7L314.9 329.7M321.3 327.7L321.3 329.7M334.1 327.7L334.1 329.7M340.5 327.7L340.5 329.7M346.9 327.7L346.9 329.7M353.3 327.7L353.3 329.7" stroke="#3a3a3a" stroke-width="0.9"/><text x="232.3" y="349" font-size="7.2" text-anchor="middle" fill="#1e1e1e" stroke="#1e1e1e" stroke-width="0.14">0</text><text x="260.3" y="349" font-size="7.2" text-anchor="middle" fill="#1e1e1e" stroke="#1e1e1e" stroke-width="0.14">50K</text><text x="292.3" y="349" font-size="7.2" text-anchor="middle" fill="#1e1e1e" stroke="#1e1e1e" stroke-width="0.14">100K</text><text x="324.3" y="349" font-size="7.2" text-anchor="middle" fill="#1e1e1e" stroke="#1e1e1e" stroke-width="0.14">150K</text><path d="M251.5 308L257 319.2L353 271.5L348.8 262.1Z" stroke="#222" stroke-width="1.1" fill="none" stroke-linejoin="round"/><text x="294.2" y="363.4" font-size="9.6" text-anchor="middle" textLength="26.8" lengthAdjust="spacingAndGlyphs" fill="#1e1e1e" stroke="#1e1e1e" stroke-width="0.22">FSC-A</text><text x="196.7" y="269.7" font-size="9.6" text-anchor="middle" textLength="25.8" lengthAdjust="spacingAndGlyphs" transform="rotate(-90 196.7 269.7)" fill="#1e1e1e" stroke="#1e1e1e" stroke-width="0.22">FSC-H</text><text x="257" y="266.2" font-size="6.0" text-anchor="middle" fill="#1e1e1e" stroke="#1e1e1e" stroke-width="0.14">Single Cells</text><text x="257" y="273.2" font-size="6.0" text-anchor="middle" fill="#1e1e1e" stroke="#1e1e1e" stroke-width="0.14">97,2</text><path d="M271.3 510.9L284.8 504.9L308.2 493.2L320.1 486.1L330.5 480L348 472.4L347.9 472.1L329.9 478.6L318.8 483.4L305.5 487.6L282.1 499.3L269.1 506.6Z" fill="#000" opacity="0.9" filter="url(#b13)" stroke-linejoin="round"/><path transform="scale(.5)" d="M690 939h2m1 3h2m-8 1h2m-1 0h2m4 0h2m-1 0h2m-19 1h2m6 0h2m3 0h2m3 0h2m-22 1h2m1 0h2m9 0h2m-1 0h2m0 0h2m-1 0h2m-14 1h2m4 0h2m-1 0h2m1 0h2m1 0h2m-1 0h2m-38 1h2m15 0h2m0 0h2m1 0h2m-1 0h2m0 0h2m1 0h2m-1 0h2m0 0h2m1 0h2m-17 1h2m2 0h2m0 0h2m-1 0h2m2 0h2m-16 1h2m2 0h2m0 0h2m2 0h2m1 0h2m1 0h2m-1 0h2m-1 0h2m-26 1h2m3 0h2m0 0h2m0 0h2m-1 0h2m-1 0h2m-1 0h2m2 0h2m-1 0h2m-76 1h2m55 0h2m4 0h2m1 0h2m3 0h2m-1 0h2m-99 1h2m66 0h2m6 0h2m7 0h2m-1 0h2m1 0h2m0 0h2m0 0h2m2 0h2m3 0h2m-29 1h2m4 0h2m-1 0h2m1 0h2m-1 0h2m-1 0h2m4 0h2m0 0h2m0 0h2m0 0h2m1 0h2m-28 1h2m0 0h2m0 0h2m0 0h2m8 0h2m3 0h2m-25 1h2m-1 0h2m0 0h2m-1 0h2m0 0h2m1 0h2m1 0h2m-1 0h2m-1 0h2m3 0h2m-1 0h2m-42 1h2m11 0h2m6 0h2m0 0h2m1 0h2m2 0h2m4 0h2m0 0h2m18 0h2m-83 1h2m34 0h2m4 0h2m0 0h2m1 0h2m-1 0h2m-1 0h2m-1 0h2m0 0h2m-1 0h2m-1 0h2m0 0h2m0 0h2m3 0h2m0 0h2m-27 1h2m-1 0h2m-1 0h2m0 0h2m-1 0h2m0 0h2m2 0h2m4 0h2m-31 1h2m-1 0h2m4 0h2m1 0h2m0 0h2m6 0h2m1 0h2m4 0h2m-29 1h2m4 0h2m-1 0h2m0 0h2m-1 0h2m-1 0h2m1 0h2m-1 0h2m1 0h2m1 0h2m0 0h2m0 0h2m-28 1h2m-1 0h2m3 0h2m3 0h2m1 0h2m0 0h2m-1 0h2m-25 1h2m2 0h2m-1 0h2m-1 0h2m0 0h2m1 0h2m0 0h2m14 0h2m0 0h2m6 0h2m-41 1h2m-1 0h2m4 0h2m-1 0h2m2 0h2m-1 0h2m0 0h2m4 0h2m2 0h2m2 0h2m-43 1h2m2 0h2m15 0h2m2 0h2m-1 0h2m0 0h2m0 0h2m6 0h2m2 0h2m-38 1h2m1 0h2m4 0h2m1 0h2m3 0h2m4 0h2m19 0h2m-60 1h2m10 0h2m1 0h2m5 0h2m2 0h2m-1 0h2m-1 0h2m0 0h2m-1 0h2m-1 0h2m3 0h2m-1 0h2m-34 1h2m4 0h2m2 0h2m-1 0h2m1 0h2m-1 0h2m-1 0h2m-1 0h2m-1 0h2m4 0h2m5 0h2m11 0h2m14 0h2m-65 1h2m0 0h2m0 0h2m-1 0h2m3 0h2m1 0h2m2 0h2m4 0h2m3 0h2m0 0h2m5 0h2m-1 0h2m-47 1h2m9 0h2m4 0h2m-1 0h2m3 0h2m1 0h2m-1 0h2m-1 0h2m10 0h2m-37 1h2m3 0h2m-1 0h2m3 0h2m0 0h2m-1 0h2m23 0h2m-42 1h2m1 0h2m-1 0h2m-1 0h2m-1 0h2m-1 0h2m2 0h2m0 0h2m1 0h2m2 0h2m-25 1h2m6 0h2m-1 0h2m-1 0h2m13 0h2m-1 0h2m2 0h2m2 0h2m0 0h2m10 0h2m-51 1h2m-1 0h2m-1 0h2m0 0h2m-1 0h2m3 0h2m-1 0h2m-1 0h2m-1 0h2m3 0h2m-1 0h2m9 0h2m1 0h2m-41 1h2m0 0h2m0 0h2m2 0h2m0 0h2m0 0h2m1 0h2m2 0h2m2 0h2m1 0h2m5 0h2m0 0h2m-31 1h2m-1 0h2m-1 0h2m4 0h2m3 0h2m4 0h2m-1 0h2m1 0h2m18 0h2m-46 1h2m0 0h2m-1 0h2m0 0h2m2 0h2m-1 0h2m2 0h2m0 0h2m-17 1h2m0 0h2m-1 0h2m1 0h2m-1 0h2m5 0h2m-1 0h2m1 0h2m-21 1h2m0 0h2m-1 0h2m-1 0h2m0 0h2m3 0h2m-1 0h2m11 0h2m-40 1h2m8 0h2m3 0h2m2 0h2m1 0h2m4 0h2m4 0h2m-45 1h2m0 0h2m0 0h2m3 0h2m3 0h2m0 0h2m5 0h2m0 0h2m28 0h2m-58 1h2m4 0h2m1 0h2m-1 0h2m2 0h2m-1 0h2m2 0h2m11 0h2m-1 0h2m1 0h2m-1 0h2m-1 0h2m-1 0h2m0 0h2m8 0h2m2 0h2m-53 1h2m-1 0h2m0 0h2m-1 0h2m3 0h2m-1 0h2m0 0h2m1 0h2m57 0h2m-91 1h2m15 0h2m0 0h2m0 0h2m1 0h2m0 0h2m3 0h2m4 0h2m0 0h2m2 0h2m2 0h2m3 0h2m-1 0h2m23 0h2m-70 1h2m4 0h2m4 0h2m0 0h2m-1 0h2m0 0h2m0 0h2m7 0h2m1 0h2m4 0h2m29 0h2m0 0h2m-77 1h2m0 0h2m0 0h2m1 0h2m-1 0h2m-1 0h2m-1 0h2m-1 0h2m-1 0h2m-1 0h2m-1 0h2m1 0h2m-1 0h2m0 0h2m3 0h2m5 0h2m-42 1h2m5 0h2m6 0h2m1 0h2m8 0h2m3 0h2m2 0h2m3 0h2m6 0h2m-48 1h2m6 0h2m2 0h2m-1 0h2m2 0h2m0 0h2m0 0h2m16 0h2m-39 1h2m3 0h2m2 0h2m2 0h2m-1 0h2m1 0h2m4 0h2m-28 1h2m0 0h2m4 0h2m-1 0h2m15 0h2m0 0h2m3 0h2m-41 1h2m1 0h2m2 0h2m0 0h2m-1 0h2m2 0h2m2 0h2m-1 0h2m-1 0h2m7 0h2m4 0h2m21 0h2m-47 1h2m-1 0h2m5 0h2m29 0h2m-55 1h2m4 0h2m-1 0h2m-1 0h2m-1 0h2m-1 0h2m2 0h2m8 0h2m3 0h2m-1 0h2m-1 0h2m1 0h2m3 0h2m38 0h2m-81 1h2m9 0h2m6 0h2m0 0h2m3 0h2m1 0h2m2 0h2m13 0h2m-63 1h2m18 0h2m5 0h2m-1 0h2m6 0h2m-1 0h2m14 0h2m-46 1h2m1 0h2m5 0h2m-1 0h2m2 0h2m0 0h2m1 0h2m-1 0h2m-1 0h2m1 0h2m-1 0h2m3 0h2m1 0h2m1 0h2m28 0h2m4 0h2m-69 1h2m0 0h2m0 0h2m-1 0h2m-1 0h2m0 0h2m2 0h2m-1 0h2m5 0h2m5 0h2m0 0h2m-42 1h2m3 0h2m-1 0h2m-1 0h2m-1 0h2m0 0h2m3 0h2m3 0h2m0 0h2m1 0h2m1 0h2m0 0h2m4 0h2m41 0h2m-83 1h2m-1 0h2m8 0h2m-1 0h2m-1 0h2m-1 0h2m1 0h2m3 0h2m1 0h2m14 0h2m42 0h2m-95 1h2m3 0h2m1 0h2m2 0h2m0 0h2m0 0h2m1 0h2m3 0h2m-1 0h2m1 0h2m1 0h2m2 0h2m24 0h2m43 0h2m-104 1h2m0 0h2m3 0h2m0 0h2m2 0h2m14 0h2m0 0h2m-1 0h2m4 0h2m-1 0h2m-41 1h2m3 0h2m0 0h2m0 0h2m1 0h2m-1 0h2m-1 0h2m1 0h2m1 0h2m2 0h2m44 0h2m-74 1h2m6 0h2m0 0h2m1 0h2m2 0h2m-1 0h2m0 0h2m3 0h2m-1 0h2m-1 0h2m4 0h2m1 0h2m-39 1h2m0 0h2m1 0h2m9 0h2m8 0h2m-1 0h2m-23 1h2m-1 0h2m9 0h2m-1 0h2m1 0h2m7 0h2m-42 1h2m-1 0h2m1 0h2m6 0h2m2 0h2m0 0h2m0 0h2m0 0h2m2 0h2m4 0h2m-36 1h2m7 0h2m-1 0h2m-1 0h2m2 0h2m-1 0h2m1 0h2m1 0h2m0 0h2m0 0h2m2 0h2m-1 0h2m-1 0h2m-1 0h2m7 0h2m-50 1h2m1 0h2m7 0h2m-1 0h2m1 0h2m1 0h2m4 0h2m2 0h2m2 0h2m20 0h2m-53 1h2m3 0h2m0 0h2m1 0h2m0 0h2m1 0h2m4 0h2m-1 0h2m-1 0h2m-1 0h2m0 0h2m-1 0h2m-1 0h2m1 0h2m-34 1h2m-1 0h2m0 0h2m0 0h2m0 0h2m-1 0h2m0 0h2m6 0h2m9 0h2m-33 1h2m0 0h2m-1 0h2m2 0h2m3 0h2m-1 0h2m-1 0h2m-1 0h2m0 0h2m-1 0h2m-1 0h2m15 0h2m-1 0h2m-41 1h2m5 0h2m-1 0h2m2 0h2m-1 0h2m-1 0h2m-1 0h2m1 0h2m1 0h2m2 0h2m-1 0h2m0 0h2m6 0h2m8 0h2m-44 1h2m-1 0h2m-1 0h2m0 0h2m-1 0h2m-1 0h2m-1 0h2m2 0h2m0 0h2m-1 0h2m11 0h2m7 0h2m-42 1h2m3 0h2m-1 0h2m-1 0h2m-1 0h2m-1 0h2m-1 0h2m7 0h2m1 0h2m3 0h2m-27 1h2m0 0h2m-1 0h2m-1 0h2m0 0h2m7 0h2m-1 0h2m0 0h2m0 0h2m3 0h2m4 0h2m2 0h2m-40 1h2m4 0h2m1 0h2m3 0h2m-1 0h2m-1 0h2m-1 0h2m1 0h2m-1 0h2m5 0h2m35 0h2m-66 1h2m-1 0h2m1 0h2m-1 0h2m-1 0h2m0 0h2m0 0h2m1 0h2m-1 0h2m0 0h2m21 0h2m-41 1h2m-1 0h2m-1 0h2m-1 0h2m1 0h2m-1 0h2m6 0h2m-1 0h2m3 0h2m-22 1h2m-1 0h2m2 0h2m0 0h2m-1 0h2m3 0h2m2 0h2m-1 0h2m-20 1h2m-1 0h2m-1 0h2m0 0h2m0 0h2m1 0h2m0 0h2m-12 1h2m-1 0h2m0 0h2m12 0h2m-18 1h2m2 0h2m-6 1h2m0 0h2m0 0h2m-5 1h2m2 0h2m4 0h2m12 0h2m85 0h2m-105 1h2m-7 2h2m-3 2h2m1 2h2m60 0h2m75 0h2" stroke="#000" stroke-width="1.4" opacity="0.5"/><path transform="scale(.5)" d="M683 940h2m6 2h2m1 0h2m-13 1h2m9 0h2m-10 1h2m1 0h2m4 0h2m-6 1h2m-1 0h2m0 0h2m-13 1h2m-1 0h2m-1 0h2m-1 0h2m-25 1h2m7 0h2m4 0h2m3 0h2m0 0h2m-1 0h2m0 0h2m0 0h2m-1 0h2m-1 0h2m-24 1h2m12 0h2m-1 0h2m0 0h2m0 0h2m0 0h2m-24 1h2m-1 0h2m1 0h2m5 0h2m3 0h2m0 0h2m-1 0h2m0 0h2m3 0h2m-29 1h2m1 0h2m-1 0h2m0 0h2m-1 0h2m0 0h2m1 0h2m0 0h2m0 0h2m1 0h2m-1 0h2m-11 1h2m9 0h2m-26 1h2m0 0h2m-1 0h2m-1 0h2m1 0h2m-1 0h2m-1 0h2m3 0h2m-1 0h2m0 0h2m3 0h2m5 0h2m-60 1h2m24 0h2m-1 0h2m1 0h2m2 0h2m0 0h2m-1 0h2m2 0h2m-1 0h2m3 0h2m-1 0h2m-22 1h2m1 0h2m7 0h2m0 0h2m-80 1h2m53 0h2m4 0h2m3 0h2m0 0h2m3 0h2m9 0h2m-39 1h2m1 0h2m-1 0h2m0 0h2m5 0h2m0 0h2m-1 0h2m3 0h2m0 0h2m-1 0h2m14 0h2m-1 0h2m-57 1h2m4 0h2m8 0h2m3 0h2m0 0h2m1 0h2m0 0h2m-1 0h2m6 0h2m7 0h2m-1 0h2m-1 0h2m-1 0h2m-29 1h2m3 0h2m0 0h2m2 0h2m3 0h2m1 0h2m-31 1h2m2 0h2m-1 0h2m4 0h2m6 0h2m2 0h2m-1 0h2m0 0h2m1 0h2m-26 1h2m2 0h2m3 0h2m2 0h2m6 0h2m-1 0h2m1 0h2m1 0h2m15 0h2m-45 1h2m-1 0h2m3 0h2m-1 0h2m-1 0h2m-1 0h2m6 0h2m0 0h2m-27 1h2m0 0h2m-1 0h2m3 0h2m5 0h2m4 0h2m-1 0h2m-1 0h2m-48 1h2m16 0h2m1 0h2m-1 0h2m1 0h2m-1 0h2m3 0h2m2 0h2m3 0h2m1 0h2m0 0h2m-1 0h2m-37 1h2m0 0h2m2 0h2m0 0h2m0 0h2m1 0h2m0 0h2m3 0h2m0 0h2m22 0h2m-33 1h2m-1 0h2m1 0h2m-1 0h2m-1 0h2m4 0h2m9 0h2m-45 1h2m5 0h2m4 0h2m1 0h2m1 0h2m0 0h2m1 0h2m-1 0h2m2 0h2m2 0h2m-1 0h2m-55 1h2m16 0h2m1 0h2m3 0h2m3 0h2m1 0h2m4 0h2m7 0h2m1 0h2m-1 0h2m9 0h2m-41 1h2m0 0h2m5 0h2m15 0h2m-36 1h2m1 0h2m0 0h2m1 0h2m0 0h2m6 0h2m0 0h2m17 0h2m-59 1h2m17 0h2m0 0h2m0 0h2m-1 0h2m1 0h2m0 0h2m-1 0h2m4 0h2m-1 0h2m3 0h2m-27 1h2m4 0h2m1 0h2m1 0h2m-1 0h2m0 0h2m2 0h2m-1 0h2m-1 0h2m3 0h2m6 0h2m10 0h2m-84 1h2m10 0h2m13 0h2m3 0h2m1 0h2m-1 0h2m-1 0h2m0 0h2m3 0h2m1 0h2m2 0h2m4 0h2m2 0h2m-51 1h2m15 0h2m-1 0h2m2 0h2m0 0h2m1 0h2m2 0h2m-1 0h2m-1 0h2m0 0h2m4 0h2m5 0h2m3 0h2m0 0h2m-42 1h2m1 0h2m2 0h2m-1 0h2m-1 0h2m4 0h2m4 0h2m2 0h2m4 0h2m-32 1h2m0 0h2m3 0h2m-1 0h2m1 0h2m1 0h2m-1 0h2m0 0h2m1 0h2m-35 1h2m5 0h2m0 0h2m1 0h2m7 0h2m0 0h2m-1 0h2m14 0h2m14 0h2m13 0h2m-75 1h2m3 0h2m4 0h2m3 0h2m-1 0h2m0 0h2m9 0h2m-39 1h2m5 0h2m-1 0h2m1 0h2m4 0h2m4 0h2m3 0h2m-1 0h2m1 0h2m8 0h2m6 0h2m6 0h2m7 0h2m-73 1h2m6 0h2m1 0h2m0 0h2m0 0h2m1 0h2m-1 0h2m0 0h2m0 0h2m2 0h2m0 0h2m2 0h2m10 0h2m2 0h2m5 0h2m-57 1h2m13 0h2m1 0h2m-1 0h2m5 0h2m0 0h2m0 0h2m-1 0h2m5 0h2m27 0h2m-56 1h2m0 0h2m0 0h2m0 0h2m2 0h2m4 0h2m6 0h2m8 0h2m-45 1h2m1 0h2m3 0h2m1 0h2m-1 0h2m0 0h2m12 0h2m-1 0h2m23 0h2m5 0h2m-64 1h2m-1 0h2m-1 0h2m6 0h2m0 0h2m3 0h2m10 0h2m1 0h2m-42 1h2m5 0h2m2 0h2m0 0h2m1 0h2m0 0h2m-1 0h2m11 0h2m22 0h2m-59 1h2m6 0h2m14 0h2m1 0h2m4 0h2m11 0h2m3 0h2m-58 1h2m4 0h2m4 0h2m0 0h2m-1 0h2m2 0h2m-1 0h2m3 0h2m4 0h2m-1 0h2m1 0h2m1 0h2m15 0h2m9 0h2m14 0h2m-78 1h2m1 0h2m1 0h2m3 0h2m0 0h2m0 0h2m-1 0h2m4 0h2m4 0h2m-42 1h2m8 0h2m-1 0h2m7 0h2m0 0h2m1 0h2m1 0h2m-1 0h2m1 0h2m-1 0h2m-23 1h2m1 0h2m-1 0h2m5 0h2m-1 0h2m-1 0h2m3 0h2m3 0h2m1 0h2m-1 0h2m2 0h2m4 0h2m29 0h2m-72 1h2m0 0h2m-1 0h2m0 0h2m3 0h2m2 0h2m-1 0h2m2 0h2m1 0h2m-1 0h2m7 0h2m3 0h2m-42 1h2m1 0h2m-1 0h2m1 0h2m5 0h2m6 0h2m2 0h2m0 0h2m17 0h2m-67 1h2m6 0h2m0 0h2m3 0h2m-1 0h2m3 0h2m-1 0h2m0 0h2m-1 0h2m9 0h2m4 0h2m-42 1h2m5 0h2m-1 0h2m-1 0h2m6 0h2m0 0h2m0 0h2m1 0h2m7 0h2m12 0h2m-40 1h2m0 0h2m1 0h2m-1 0h2m-1 0h2m2 0h2m0 0h2m4 0h2m-1 0h2m3 0h2m10 0h2m-45 1h2m5 0h2m-1 0h2m0 0h2m10 0h2m2 0h2m3 0h2m-31 1h2m6 0h2m-1 0h2m0 0h2m4 0h2m-1 0h2m-1 0h2m2 0h2m-35 1h2m2 0h2m2 0h2m1 0h2m21 0h2m-1 0h2m-1 0h2m4 0h2m3 0h2m26 0h2m7 0h2m45 0h2m-126 1h2m-1 0h2m4 0h2m-1 0h2m-1 0h2m6 0h2m3 0h2m5 0h2m10 0h2m-53 1h2m-1 0h2m2 0h2m2 0h2m5 0h2m0 0h2m0 0h2m2 0h2m-1 0h2m2 0h2m-1 0h2m3 0h2m20 0h2m17 0h2m-74 1h2m8 0h2m0 0h2m0 0h2m10 0h2m1 0h2m27 0h2m29 0h2m-93 1h2m5 0h2m-1 0h2m0 0h2m-1 0h2m-1 0h2m-1 0h2m-1 0h2m4 0h2m0 0h2m1 0h2m-30 1h2m2 0h2m2 0h2m0 0h2m4 0h2m4 0h2m0 0h2m0 0h2m3 0h2m11 0h2m-40 1h2m1 0h2m-1 0h2m0 0h2m0 0h2m-1 0h2m4 0h2m-33 1h2m2 0h2m4 0h2m0 0h2m-1 0h2m1 0h2m-1 0h2m0 0h2m-1 0h2m0 0h2m1 0h2m-1 0h2m-1 0h2m5 0h2m105 0h2m-131 1h2m7 0h2m0 0h2m0 0h2m4 0h2m5 0h2m-36 1h2m-1 0h2m-1 0h2m3 0h2m-1 0h2m0 0h2m2 0h2m-1 0h2m-1 0h2m-27 1h2m0 0h2m-1 0h2m0 0h2m1 0h2m-1 0h2m-1 0h2m3 0h2m-1 0h2m-1 0h2m1 0h2m0 0h2m3 0h2m68 0h2m-91 1h2m0 0h2m1 0h2m-1 0h2m1 0h2m-1 0h2m-1 0h2m5 0h2m3 0h2m-30 1h2m-1 0h2m1 0h2m-1 0h2m0 0h2m1 0h2m3 0h2m1 0h2m5 0h2m-1 0h2m-31 1h2m0 0h2m-1 0h2m-1 0h2m0 0h2m0 0h2m0 0h2m5 0h2m2 0h2m2 0h2m1 0h2m1 0h2m-1 0h2m-35 1h2m0 0h2m1 0h2m4 0h2m-1 0h2m1 0h2m6 0h2m1 0h2m-33 1h2m2 0h2m3 0h2m0 0h2m0 0h2m2 0h2m0 0h2m3 0h2m1 0h2m0 0h2m0 0h2m11 0h2m-44 1h2m-1 0h2m-1 0h2m-1 0h2m-1 0h2m-1 0h2m-1 0h2m-1 0h2m-1 0h2m-1 0h2m0 0h2m2 0h2m-1 0h2m-1 0h2m-1 0h2m2 0h2m4 0h2m-28 1h2m1 0h2m3 0h2m1 0h2m-1 0h2m1 0h2m-1 0h2m-1 0h2m3 0h2m2 0h2m-31 1h2m0 0h2m-1 0h2m-1 0h2m-1 0h2m0 0h2m3 0h2m0 0h2m0 0h2m4 0h2m0 0h2m72 0h2m-97 1h2m-1 0h2m-1 0h2m0 0h2m3 0h2m-1 0h2m7 0h2m-23 1h2m0 0h2m-1 0h2m0 0h2m-1 0h2m-1 0h2m6 0h2m-1 0h2m-1 0h2m3 0h2m-1 0h2m1 0h2m1 0h2m-30 1h2m0 0h2m0 0h2m-1 0h2m-1 0h2m0 0h2m-1 0h2m-1 0h2m0 0h2m-14 1h2m-1 0h2m-1 0h2m0 0h2m-1 0h2m6 0h2m4 0h2m24 0h2m-46 1h2m0 0h2m0 0h2m0 0h2m-8 1h2m-1 0h2m-1 0h2m-1 0h2m-1 0h2m-1 0h2m-1 0h2m-4 1h2m3 0h2m0 0h2m-1 0h2m74 0h2m-81 1h2m85 0h2m-94 1h2m4 0h2m-9 1h2m2 0h2m-4 1h2m-4 1h2m4 1h2" stroke="#000" stroke-width="1.4" opacity="0.5"/><path transform="scale(.5)" d="M689 941h2m0 0h2m-5 1h2m-2 1h2m3 0h2m0 0h2m-11 1h2m-7 1h2m3 0h2m0 0h2m1 0h2m1 0h2m-15 1h2m0 0h2m-1 0h2m1 0h2m1 0h2m-1 0h2m0 0h2m0 0h2m-19 1h2m4 0h2m0 0h2m-1 0h2m-1 0h2m-1 0h2m-1 0h2m-1 0h2m1 0h2m-1 0h2m-23 1h2m5 0h2m-1 0h2m2 0h2m2 0h2m3 0h2m-1 0h2m-1 0h2m-25 1h2m3 0h2m1 0h2m1 0h2m0 0h2m4 0h2m0 0h2m-25 1h2m-1 0h2m-1 0h2m3 0h2m3 0h2m-1 0h2m-13 1h2m0 0h2m-1 0h2m2 0h2m5 0h2m-1 0h2m1 0h2m-26 1h2m2 0h2m-1 0h2m0 0h2m-1 0h2m2 0h2m-1 0h2m3 0h2m2 0h2m-34 1h2m-1 0h2m4 0h2m15 0h2m-1 0h2m-25 1h2m1 0h2m0 0h2m5 0h2m-1 0h2m-1 0h2m-1 0h2m1 0h2m-1 0h2m-1 0h2m2 0h2m-1 0h2m4 0h2m-32 1h2m1 0h2m6 0h2m5 0h2m-23 1h2m0 0h2m-1 0h2m-1 0h2m-1 0h2m2 0h2m0 0h2m5 0h2m0 0h2m4 0h2m-33 1h2m2 0h2m5 0h2m2 0h2m-1 0h2m1 0h2m14 0h2m-38 1h2m-1 0h2m1 0h2m0 0h2m-1 0h2m-1 0h2m1 0h2m11 0h2m0 0h2m-24 1h2m-1 0h2m1 0h2m0 0h2m2 0h2m3 0h2m-1 0h2m1 0h2m0 0h2m-74 1h2m34 0h2m7 0h2m2 0h2m0 0h2m0 0h2m-1 0h2m0 0h2m3 0h2m1 0h2m2 0h2m-99 1h2m64 0h2m0 0h2m0 0h2m-1 0h2m1 0h2m3 0h2m-1 0h2m-1 0h2m-1 0h2m1 0h2m-1 0h2m0 0h2m-37 1h2m13 0h2m2 0h2m-1 0h2m4 0h2m1 0h2m1 0h2m-1 0h2m4 0h2m-26 1h2m1 0h2m-1 0h2m1 0h2m2 0h2m0 0h2m-1 0h2m-1 0h2m6 0h2m2 0h2m1 0h2m-39 1h2m4 0h2m-1 0h2m7 0h2m12 0h2m9 0h2m-46 1h2m4 0h2m1 0h2m-1 0h2m1 0h2m0 0h2m-1 0h2m-1 0h2m-1 0h2m-1 0h2m-1 0h2m4 0h2m-1 0h2m-37 1h2m-1 0h2m-1 0h2m9 0h2m8 0h2m6 0h2m3 0h2m4 0h2m6 0h2m-53 1h2m8 0h2m4 0h2m7 0h2m4 0h2m-35 1h2m3 0h2m3 0h2m-1 0h2m5 0h2m-1 0h2m-1 0h2m1 0h2m-1 0h2m-1 0h2m1 0h2m-1 0h2m0 0h2m0 0h2m1 0h2m1 0h2m-46 1h2m8 0h2m2 0h2m-1 0h2m9 0h2m0 0h2m2 0h2m12 0h2m1 0h2m-57 1h2m3 0h2m11 0h2m4 0h2m1 0h2m0 0h2m3 0h2m0 0h2m5 0h2m-46 1h2m2 0h2m0 0h2m1 0h2m5 0h2m0 0h2m0 0h2m2 0h2m-1 0h2m0 0h2m-1 0h2m-1 0h2m3 0h2m6 0h2m5 0h2m-40 1h2m-1 0h2m1 0h2m-1 0h2m0 0h2m-1 0h2m9 0h2m23 0h2m-59 1h2m5 0h2m8 0h2m0 0h2m0 0h2m0 0h2m1 0h2m1 0h2m2 0h2m1 0h2m7 0h2m28 0h2m-83 1h2m11 0h2m0 0h2m8 0h2m10 0h2m0 0h2m2 0h2m12 0h2m2 0h2m-53 1h2m1 0h2m1 0h2m0 0h2m-1 0h2m0 0h2m0 0h2m1 0h2m0 0h2m-1 0h2m6 0h2m1 0h2m0 0h2m0 0h2m13 0h2m14 0h2m-75 1h2m0 0h2m-1 0h2m1 0h2m2 0h2m1 0h2m3 0h2m4 0h2m3 0h2m1 0h2m0 0h2m8 0h2m14 0h2m0 0h2m30 0h2m-108 1h2m11 0h2m0 0h2m0 0h2m5 0h2m1 0h2m-1 0h2m0 0h2m-1 0h2m-1 0h2m0 0h2m10 0h2m1 0h2m-45 1h2m8 0h2m2 0h2m0 0h2m0 0h2m0 0h2m2 0h2m-1 0h2m3 0h2m-1 0h2m2 0h2m3 0h2m-45 1h2m14 0h2m2 0h2m6 0h2m1 0h2m10 0h2m-1 0h2m7 0h2m1 0h2m12 0h2m-79 1h2m12 0h2m4 0h2m0 0h2m-1 0h2m-1 0h2m-1 0h2m8 0h2m3 0h2m-1 0h2m11 0h2m-33 1h2m5 0h2m4 0h2m-1 0h2m4 0h2m8 0h2m24 0h2m-80 1h2m-1 0h2m2 0h2m5 0h2m-1 0h2m1 0h2m-1 0h2m0 0h2m3 0h2m-1 0h2m1 0h2m2 0h2m0 0h2m-1 0h2m8 0h2m-40 1h2m5 0h2m0 0h2m-1 0h2m4 0h2m1 0h2m8 0h2m1 0h2m2 0h2m18 0h2m21 0h2m-64 1h2m4 0h2m-1 0h2m5 0h2m17 0h2m5 0h2m-62 1h2m4 0h2m-1 0h2m1 0h2m4 0h2m0 0h2m4 0h2m1 0h2m-42 1h2m4 0h2m3 0h2m3 0h2m2 0h2m9 0h2m2 0h2m9 0h2m3 0h2m-40 1h2m5 0h2m3 0h2m-20 1h2m-1 0h2m-1 0h2m0 0h2m0 0h2m-1 0h2m-1 0h2m-1 0h2m2 0h2m8 0h2m32 0h2m-69 1h2m1 0h2m1 0h2m5 0h2m-1 0h2m-1 0h2m2 0h2m3 0h2m0 0h2m-1 0h2m3 0h2m-1 0h2m4 0h2m-33 1h2m1 0h2m2 0h2m-1 0h2m2 0h2m-1 0h2m1 0h2m16 0h2m-47 1h2m9 0h2m-1 0h2m2 0h2m7 0h2m2 0h2m-27 1h2m5 0h2m0 0h2m9 0h2m2 0h2m11 0h2m24 0h2m-60 1h2m0 0h2m0 0h2m4 0h2m1 0h2m-1 0h2m2 0h2m12 0h2m15 0h2m-71 1h2m18 0h2m0 0h2m1 0h2m-1 0h2m-1 0h2m4 0h2m-1 0h2m4 0h2m2 0h2m-45 1h2m9 0h2m2 0h2m-1 0h2m-1 0h2m0 0h2m6 0h2m1 0h2m4 0h2m10 0h2m-48 1h2m8 0h2m1 0h2m1 0h2m0 0h2m-1 0h2m0 0h2m1 0h2m1 0h2m0 0h2m0 0h2m7 0h2m-43 1h2m1 0h2m0 0h2m2 0h2m1 0h2m2 0h2m5 0h2m2 0h2m13 0h2m-43 1h2m-1 0h2m2 0h2m0 0h2m-1 0h2m-1 0h2m0 0h2m-1 0h2m-1 0h2m-1 0h2m1 0h2m2 0h2m-1 0h2m4 0h2m7 0h2m7 0h2m-47 1h2m-1 0h2m0 0h2m2 0h2m0 0h2m3 0h2m19 0h2m-42 1h2m-1 0h2m3 0h2m2 0h2m-1 0h2m-1 0h2m3 0h2m3 0h2m1 0h2m9 0h2m40 0h2m-92 1h2m5 0h2m0 0h2m0 0h2m0 0h2m-1 0h2m-1 0h2m1 0h2m-1 0h2m-1 0h2m3 0h2m2 0h2m-1 0h2m-1 0h2m5 0h2m0 0h2m-42 1h2m2 0h2m6 0h2m-1 0h2m3 0h2m-1 0h2m0 0h2m2 0h2m3 0h2m6 0h2m-35 1h2m6 0h2m-1 0h2m-1 0h2m0 0h2m-1 0h2m1 0h2m1 0h2m1 0h2m15 0h2m-45 1h2m2 0h2m8 0h2m-1 0h2m-1 0h2m-1 0h2m-1 0h2m1 0h2m5 0h2m18 0h2m-53 1h2m4 0h2m7 0h2m-1 0h2m3 0h2m17 0h2m-36 1h2m1 0h2m2 0h2m2 0h2m3 0h2m1 0h2m0 0h2m3 0h2m1 0h2m15 0h2m28 0h2m-83 1h2m4 0h2m0 0h2m-1 0h2m0 0h2m-1 0h2m0 0h2m2 0h2m-1 0h2m-1 0h2m-1 0h2m-1 0h2m-1 0h2m-1 0h2m2 0h2m-1 0h2m10 0h2m-1 0h2m-48 1h2m4 0h2m0 0h2m-1 0h2m0 0h2m9 0h2m-1 0h2m0 0h2m-1 0h2m0 0h2m-34 1h2m2 0h2m-1 0h2m1 0h2m2 0h2m-1 0h2m-1 0h2m-1 0h2m5 0h2m4 0h2m4 0h2m9 0h2m-39 1h2m-1 0h2m0 0h2m-1 0h2m-1 0h2m1 0h2m18 0h2m-39 1h2m2 0h2m-1 0h2m1 0h2m-1 0h2m2 0h2m0 0h2m-1 0h2m1 0h2m-1 0h2m-1 0h2m-1 0h2m-1 0h2m1 0h2m7 0h2m0 0h2m9 0h2m-47 1h2m6 0h2m0 0h2m-1 0h2m0 0h2m2 0h2m7 0h2m17 0h2m-52 1h2m-1 0h2m0 0h2m2 0h2m1 0h2m-1 0h2m0 0h2m6 0h2m0 0h2m2 0h2m-29 1h2m1 0h2m-1 0h2m2 0h2m3 0h2m2 0h2m12 0h2m7 0h2m-40 1h2m-1 0h2m-1 0h2m-1 0h2m2 0h2m0 0h2m-1 0h2m5 0h2m-1 0h2m-1 0h2m-22 1h2m1 0h2m-1 0h2m0 0h2m-1 0h2m-1 0h2m0 0h2m1 0h2m-1 0h2m5 0h2m0 0h2m2 0h2m2 0h2m-33 1h2m-1 0h2m-1 0h2m-1 0h2m0 0h2m-1 0h2m0 0h2m-1 0h2m1 0h2m4 0h2m16 0h2m15 0h2m-54 1h2m0 0h2m-1 0h2m5 0h2m0 0h2m-1 0h2m0 0h2m-16 1h2m-1 0h2m0 0h2m0 0h2m-1 0h2m-1 0h2m-1 0h2m13 0h2m-26 1h2m1 0h2m-1 0h2m-1 0h2m1 0h2m0 0h2m0 0h2m9 0h2m-24 1h2m2 0h2m5 0h2m-1 0h2m0 0h2m4 0h2m-21 1h2m4 0h2m-6 2h2m8 1h2m-8 1h2" stroke="#000" stroke-width="1.4" opacity="0.5"/><path d="M229.7 409.4L356.7 409.4" stroke="#bdbdbd" stroke-width="0.8"/><path d="M356.7 409.4L356.7 529.1" stroke="#bdbdbd" stroke-width="0.8"/><path d="M229.7 409.4L229.7 529.1" stroke="#9a9a9a" stroke-width="0.9"/><path d="M229.7 529.1L356.7 529.1" stroke="#c4c4c4" stroke-width="0.9"/><path d="M224.5 529.1L229.5 529.1M224.5 506L229.5 506M224.5 482.9L229.5 482.9M224.5 459.8L229.5 459.8M224.5 436.7L229.5 436.7M224.5 413.6L229.5 413.6" stroke="#1a1a1a" stroke-width="1.8"/><path d="M227.4 524.5L229.5 524.5M227.4 519.9L229.5 519.9M227.4 515.2L229.5 515.2M227.4 510.6L229.5 510.6M227.4 501.4L229.5 501.4M227.4 496.8L229.5 496.8M227.4 492.1L229.5 492.1M227.4 487.5L229.5 487.5M227.4 478.3L229.5 478.3M227.4 473.7L229.5 473.7M227.4 469L229.5 469M227.4 464.4L229.5 464.4M227.4 455.2L229.5 455.2M227.4 450.6L229.5 450.6M227.4 445.9L229.5 445.9M227.4 441.3L229.5 441.3M227.4 432.1L229.5 432.1M227.4 427.5L229.5 427.5M227.4 422.8L229.5 422.8M227.4 418.2L229.5 418.2" stroke="#3a3a3a" stroke-width="0.9"/><text x="220.1" y="528.5" font-size="7.2" text-anchor="end" fill="#1e1e1e" stroke="#1e1e1e" stroke-width="0.14">0</text><text x="220.1" y="511.1" font-size="7.2" text-anchor="end" fill="#1e1e1e" stroke="#1e1e1e" stroke-width="0.14">50K</text><text x="220.1" y="488" font-size="7.2" text-anchor="end" fill="#1e1e1e" stroke="#1e1e1e" stroke-width="0.14">100K</text><text x="220.1" y="464.9" font-size="7.2" text-anchor="end" fill="#1e1e1e" stroke="#1e1e1e" stroke-width="0.14">150K</text><text x="220.1" y="441.8" font-size="7.2" text-anchor="end" fill="#1e1e1e" stroke="#1e1e1e" stroke-width="0.14">200K</text><text x="220.1" y="418.7" font-size="7.2" text-anchor="end" fill="#1e1e1e" stroke="#1e1e1e" stroke-width="0.14">250K</text><path d="M231 529.7L231 534.7M262.6 529.7L262.6 534.7M294.2 529.7L294.2 534.7M325.8 529.7L325.8 534.7" stroke="#1a1a1a" stroke-width="1.8"/><path d="M237.3 529.7L237.3 531.7M243.6 529.7L243.6 531.7M250 529.7L250 531.7M256.3 529.7L256.3 531.7M268.9 529.7L268.9 531.7M275.2 529.7L275.2 531.7M281.6 529.7L281.6 531.7M287.9 529.7L287.9 531.7M300.5 529.7L300.5 531.7M306.8 529.7L306.8 531.7M313.2 529.7L313.2 531.7M319.5 529.7L319.5 531.7M332.1 529.7L332.1 531.7M338.4 529.7L338.4 531.7M344.8 529.7L344.8 531.7M351.1 529.7L351.1 531.7" stroke="#3a3a3a" stroke-width="0.9"/><text x="231.6" y="551.9" font-size="7.2" text-anchor="middle" fill="#1e1e1e" stroke="#1e1e1e" stroke-width="0.14">0</text><text x="259.2" y="551.9" font-size="7.2" text-anchor="middle" fill="#1e1e1e" stroke="#1e1e1e" stroke-width="0.14">50K</text><text x="290.8" y="551.9" font-size="7.2" text-anchor="middle" fill="#1e1e1e" stroke="#1e1e1e" stroke-width="0.14">100K</text><text x="322.4" y="551.9" font-size="7.2" text-anchor="middle" fill="#1e1e1e" stroke="#1e1e1e" stroke-width="0.14">150K</text><path d="M250.8 509L255.8 520.9L350.8 470.2L345.8 460.8Z" stroke="#222" stroke-width="1.1" fill="none" stroke-linejoin="round"/><text x="293" y="567" font-size="9.6" text-anchor="middle" textLength="26.8" lengthAdjust="spacingAndGlyphs" fill="#1e1e1e" stroke="#1e1e1e" stroke-width="0.22">FSC-A</text><text x="197.2" y="468.9" font-size="9.6" text-anchor="middle" textLength="25.8" lengthAdjust="spacingAndGlyphs" transform="rotate(-90 197.2 468.9)" fill="#1e1e1e" stroke="#1e1e1e" stroke-width="0.22">FSC-H</text><text x="255.8" y="464.9" font-size="6.0" text-anchor="middle" fill="#1e1e1e" stroke="#1e1e1e" stroke-width="0.14">Single Cells</text><text x="255.8" y="471.9" font-size="6.0" text-anchor="middle" fill="#1e1e1e" stroke="#1e1e1e" stroke-width="0.14">96,7</text><path transform="scale(.5)" d="M905 198h2m1 7h2m10 1h2m-24 1h2m-21 4h2m13 1h2m-19 3h2m-3 1h2m18 0h2m7 1h2m-6 1h2m-15 3h2m-34 1h2m22 0h2m17 0h2m17 0h2m-53 2h2m10 1h2m16 0h2m4 1h2m1 0h2m-17 1h2m4 0h2m9 0h2m21 0h2m-69 1h2m18 0h2m0 0h2m5 0h2m-24 1h2m5 0h2m0 0h2m2 0h2m8 0h2m12 1h2m-28 1h2m6 1h2m8 0h2m-30 1h2m5 0h2m5 0h2m12 0h2m-22 1h2m7 0h2m6 0h2m-22 1h2m3 0h2m10 0h2m-4 1h2m-32 1h2m22 0h2m10 0h2m4 0h2m-43 1h2m12 0h2m0 0h2m0 0h2m-9 1h2m23 0h2m4 0h2m7 0h2m-75 1h2m45 0h2m14 0h2m3 0h2m-59 1h2m-1 0h2m15 0h2m21 0h2m4 0h2m-22 1h2m-6 1h2m3 0h2m-1 0h2m16 0h2m2 0h2m-40 1h2m12 0h2m6 0h2m13 0h2m-39 1h2m6 0h2m-39 1h2m24 0h2m31 1h2m-1 0h2m-33 1h2m5 0h2m9 0h2m2 1h2m2 0h2m-26 1h2m5 0h2m5 0h2m2 0h2m11 0h2m-39 1h2m11 0h2m-1 0h2m40 0h2m-62 1h2m16 0h2m1 0h2m6 0h2m5 0h2m3 0h2m-54 1h2m10 0h2m3 0h2m10 0h2m-1 0h2m9 0h2m-22 1h2m-1 0h2m11 0h2m5 0h2m-31 1h2m20 0h2m-1 0h2m-23 1h2m8 1h2m0 0h2m-28 1h2m11 0h2m0 0h2m5 0h2m2 0h2m0 0h2m1 0h2m-1 1h2m19 0h2m-70 1h2m5 1h2m13 0h2m35 0h2m-46 1h2m2 0h2m5 0h2m4 0h2m10 0h2m16 0h2m4 0h2m-33 1h2m-8 1h2m1 0h2m-9 1h2m-14 1h2m4 0h2m5 1h2m-19 1h2m8 0h2m-1 0h2m12 0h2m-27 1h2m39 1h2m-31 2h2m5 0h2m4 1h2m3 1h2m-1 0h2m-42 5h2m14 0h2m5 1h2m14 0h2m-42 1h2m25 1h2m16 0h2m-7 1h2m-22 2h2m13 0h2" stroke="#000" stroke-width="1.6" opacity="0.1"/><path transform="scale(.5)" d="M894 208h2m5 2h2m-12 9h2m16 1h2m-47 1h2m3 0h2m39 0h2m1 0h2m-34 1h2m0 0h2m7 1h2m14 0h2m-25 1h2m8 0h2m16 1h2m-22 1h2m-1 0h2m10 0h2m-23 1h2m15 1h2m-24 1h2m15 0h2m-20 1h2m5 0h2m-14 1h2m7 0h2m7 0h2m17 0h2m-52 1h2m24 1h2m-30 1h2m29 1h2m-17 1h2m10 0h2m2 0h2m2 0h2m0 0h2m-13 1h2m2 0h2m6 0h2m4 0h2m0 0h2m-25 1h2m2 0h2m-21 1h2m0 0h2m-1 0h2m5 0h2m-10 1h2m13 0h2m-12 1h2m0 0h2m3 0h2m8 0h2m-1 0h2m3 0h2m7 0h2m-48 1h2m5 0h2m1 0h2m13 0h2m7 0h2m-43 1h2m11 0h2m10 0h2m-24 1h2m4 0h2m12 0h2m-1 0h2m9 0h2m6 0h2m-50 1h2m4 0h2m18 0h2m2 0h2m-29 1h2m12 0h2m10 0h2m9 0h2m-34 1h2m1 0h2m2 0h2m2 0h2m-3 1h2m12 0h2m-1 0h2m2 0h2m8 0h2m1 0h2m2 0h2m-48 1h2m3 0h2m8 0h2m9 0h2m1 0h2m8 0h2m-32 1h2m12 0h2m1 0h2m-1 0h2m13 0h2m-51 1h2m9 0h2m2 0h2m3 0h2m4 0h2m2 0h2m-27 1h2m4 0h2m3 0h2m7 0h2m15 0h2m12 0h2m-50 1h2m0 0h2m10 0h2m8 0h2m6 0h2m-25 1h2m0 0h2m7 0h2m17 0h2m-44 1h2m5 0h2m3 1h2m1 0h2m0 0h2m0 0h2m-14 1h2m6 0h2m9 0h2m-1 0h2m10 0h2m-36 1h2m1 0h2m15 0h2m6 0h2m-38 1h2m20 0h2m3 0h2m-1 0h2m5 0h2m-49 1h2m11 0h2m6 0h2m40 0h2m-52 2h2m17 0h2m3 0h2m10 0h2m5 0h2m-57 1h2m28 0h2m-29 1h2m24 0h2m20 0h2m-33 1h2m5 0h2m-22 1h2m53 0h2m-39 1h2m5 1h2m-14 2h2m-32 1h2m29 1h2m-6 1h2m-3 1h2m1 0h2m11 2h2m-15 11h2m16 0h2" stroke="#000" stroke-width="1.6" opacity="0.1"/><path transform="scale(.5)" d="M926 178h2m-7 25h2m-24 5h2m-24 12h2m10 3h2m29 0h2m-22 2h2m5 2h2m-42 2h2m48 2h2m-44 2h2m0 0h2m-4 2h2m-19 1h2m17 0h2m-13 4h2m22 2h2m11 0h2m-17 1h2m-32 2h2m9 0h2m18 0h2m-29 2h2m18 3h2m19 1h2m-4 4h2m-22 1h2m8 0h2m6 0h2m-36 1h2m-45 1h2m53 0h2m-17 1h2m14 1h2m-1 0h2m7 0h2m-37 1h2m17 1h2m2 0h2m4 0h2m3 1h2m-43 1h2m-21 1h2m18 0h2m13 0h2m24 0h2m-5 1h2m-24 6h2m9 0h2m-5 4h2m-24 3h2m-8 4h2m9 4h2" stroke="#000" stroke-width="1.6" opacity="0.08"/><path transform="scale(.5)" d="M891 196h2m42 15h2m-43 14h2m21 1h2m-45 6h2m-11 1h2m24 0h2m-7 1h2m-15 4h2m-10 2h2m17 0h2m-39 3h2m36 0h2m-42 2h2m37 0h2m7 0h2m6 1h2m-38 2h2m-6 1h2m6 0h2m5 1h2m25 0h2m-15 1h2m-19 1h2m10 1h2m-36 1h2m39 1h2m-36 1h2m-26 1h2m10 0h2m22 1h2m30 0h2m-1 1h2m-40 2h2m2 0h2m-14 1h2m5 0h2m0 0h2m10 2h2m-27 5h2m-30 1h2m24 0h2m10 0h2m27 0h2m-41 3h2m21 0h2m-27 1h2m53 0h2m-64 1h2m41 0h2m6 4h2m-9 2h2m-68 7h2" stroke="#000" stroke-width="1.6" opacity="0.08"/><path transform="scale(.5)" d="M940 217h2m12 2h2m-21 1h2m2 2h2m15 0h2m-8 1h2m20 0h2m-29 1h2m8 1h2m6 0h2m5 0h2m-48 1h2m0 0h2m33 0h2m12 0h2m-63 1h2m41 0h2m-54 1h2m-1 0h2m18 0h2m29 0h2m5 0h2m-78 1h2m45 0h2m-21 2h2m29 0h2m28 0h2m-49 1h2m1 0h2m-35 1h2m19 0h2m-29 1h2m19 0h2m19 0h2m15 0h2m-47 1h2m33 0h2m11 0h2m11 0h2m-57 1h2m15 0h2m1 0h2m0 0h2m2 0h2m29 0h2m-63 1h2m2 0h2m2 0h2m9 0h2m1 0h2m2 0h2m5 0h2m3 0h2m-42 1h2m10 0h2m4 0h2m4 0h2m1 0h2m1 0h2m5 0h2m7 0h2m-5 1h2m-38 1h2m1 0h2m1 0h2m2 0h2m12 0h2m16 0h2m2 0h2m2 0h2m46 0h2m-101 1h2m9 0h2m6 0h2m6 0h2m11 0h2m-66 1h2m12 0h2m3 0h2m23 0h2m11 0h2m-44 1h2m9 0h2m22 0h2m6 0h2m8 0h2m-36 1h2m16 0h2m-1 0h2m16 0h2m-52 1h2m3 0h2m5 0h2m0 0h2m1 0h2m12 0h2m0 0h2m-1 0h2m8 0h2m-48 1h2m6 0h2m5 0h2m6 0h2m-1 0h2m6 0h2m0 0h2m2 0h2m14 0h2m-63 1h2m8 0h2m3 0h2m1 0h2m5 0h2m1 0h2m2 0h2m8 0h2m11 0h2m-60 1h2m16 0h2m12 0h2m-1 0h2m2 0h2m3 0h2m19 0h2m-70 1h2m15 0h2m9 0h2m18 0h2m15 0h2m-59 1h2m0 0h2m10 0h2m2 0h2m21 0h2m23 0h2m12 0h2m-102 1h2m20 0h2m16 0h2m-1 0h2m-1 0h2m1 0h2m-1 0h2m8 0h2m2 0h2m-1 0h2m-47 1h2m20 0h2m3 0h2m1 0h2m3 0h2m7 0h2m3 0h2m-31 1h2m14 0h2m0 0h2m3 0h2m4 0h2m8 0h2m-75 1h2m14 0h2m-1 0h2m0 0h2m12 0h2m-1 0h2m1 0h2m8 0h2m-1 0h2m-40 1h2m1 0h2m23 0h2m5 0h2m0 0h2m11 0h2m-45 1h2m6 0h2m2 0h2m0 0h2m12 0h2m7 0h2m5 0h2m11 0h2m-63 1h2m7 0h2m6 0h2m0 0h2m7 0h2m5 0h2m-1 0h2m2 0h2m0 0h2m-46 1h2m14 0h2m8 0h2m0 0h2m6 0h2m-20 1h2m-1 0h2m9 0h2m9 0h2m-47 1h2m3 0h2m23 0h2m1 0h2m2 0h2m7 0h2m33 0h2m-64 1h2m64 0h2m-85 1h2m-1 0h2m2 0h2m5 0h2m7 0h2m1 0h2m-1 0h2m0 0h2m7 0h2m2 0h2m-34 1h2m-6 1h2m0 0h2m10 0h2m9 0h2m12 0h2m-19 1h2m0 0h2m1 0h2m-30 1h2m19 0h2m-3 1h2m-14 1h2m32 0h2m-37 1h2m8 0h2m20 0h2m-2 1h2m-16 1h2m-11 2h2m69 1h2m-61 2h2m-27 4h2m-16 5h2" stroke="#000" stroke-width="1.6" opacity="0.1"/><path transform="scale(.5)" d="M937 202h2m-21 12h2m32 2h2m-22 4h2m9 2h2m17 1h2m-18 1h2m25 3h2m-51 2h2m1 0h2m-6 1h2m-1 0h2m9 0h2m8 0h2m14 0h2m-38 2h2m19 0h2m11 0h2m-34 1h2m0 0h2m-1 0h2m3 0h2m-26 1h2m44 0h2m-47 1h2m6 0h2m8 0h2m6 0h2m9 0h2m13 0h2m-51 1h2m2 0h2m7 0h2m2 0h2m-16 1h2m13 0h2m5 0h2m0 0h2m-1 0h2m15 0h2m-28 1h2m10 0h2m-62 1h2m29 0h2m3 0h2m-1 0h2m6 0h2m4 0h2m17 0h2m-38 1h2m3 0h2m14 0h2m7 0h2m4 0h2m-39 1h2m3 0h2m2 0h2m5 0h2m-1 0h2m17 0h2m16 0h2m-69 1h2m1 0h2m0 0h2m1 0h2m0 0h2m12 0h2m1 0h2m7 0h2m-1 0h2m-1 0h2m24 0h2m-74 1h2m6 0h2m30 0h2m2 0h2m0 0h2m-36 1h2m5 0h2m0 0h2m6 0h2m6 0h2m-1 0h2m9 0h2m-51 1h2m21 0h2m6 0h2m9 0h2m8 0h2m-56 1h2m2 0h2m2 0h2m28 0h2m14 0h2m-1 0h2m2 0h2m4 0h2m-57 1h2m11 0h2m2 0h2m6 0h2m7 0h2m0 0h2m1 0h2m1 0h2m-77 1h2m68 0h2m0 0h2m35 0h2m-83 1h2m2 0h2m8 0h2m0 0h2m1 0h2m0 0h2m1 0h2m3 0h2m1 0h2m3 0h2m0 0h2m0 0h2m14 0h2m18 0h2m-85 1h2m11 0h2m-1 0h2m11 0h2m5 0h2m0 0h2m-1 0h2m1 0h2m8 0h2m4 0h2m0 0h2m4 0h2m0 0h2m-59 1h2m6 0h2m2 0h2m3 0h2m2 0h2m14 0h2m1 0h2m3 0h2m4 0h2m-59 1h2m8 0h2m8 0h2m1 0h2m-1 0h2m-1 0h2m0 0h2m3 0h2m4 0h2m6 0h2m-60 1h2m-1 0h2m16 0h2m10 0h2m-1 0h2m0 0h2m23 0h2m-61 1h2m4 0h2m13 0h2m7 0h2m1 0h2m0 0h2m9 0h2m3 0h2m4 0h2m-30 1h2m20 0h2m4 0h2m-36 1h2m3 0h2m-1 0h2m8 0h2m4 0h2m2 0h2m1 0h2m8 0h2m-43 1h2m11 0h2m9 0h2m1 0h2m2 0h2m2 0h2m-45 1h2m28 0h2m17 0h2m-47 1h2m3 0h2m2 0h2m1 0h2m5 0h2m-1 0h2m0 0h2m-51 1h2m-1 0h2m25 0h2m18 0h2m0 0h2m6 0h2m1 0h2m12 0h2m3 0h2m-57 1h2m0 0h2m14 0h2m16 0h2m-8 1h2m-30 1h2m28 0h2m-22 1h2m1 0h2m13 0h2m-41 1h2m5 0h2m4 0h2m10 0h2m-1 0h2m3 0h2m2 0h2m3 0h2m4 0h2m1 0h2m2 0h2m-12 1h2m0 0h2m0 0h2m-21 2h2m-36 2h2m16 2h2m1 0h2m22 1h2m-49 6h2m21 0h2m-40 5h2" stroke="#000" stroke-width="1.6" opacity="0.1"/><ellipse cx="438.8" cy="122.3" rx="20" ry="10" transform="rotate(-48 438.8 122.3)" fill="#000" opacity="0.1" filter="url(#b14)"/><ellipse cx="437.8" cy="124.8" rx="13" ry="6" transform="rotate(-45 437.8 124.8)" fill="#000" opacity="0.3" filter="url(#b15)"/><ellipse cx="436.6" cy="127" rx="8.5" ry="3.6" transform="rotate(-45 436.6 127)" fill="#000" opacity="0.85" filter="url(#b16)"/><ellipse cx="436" cy="127.6" rx="4.5" ry="2.2" transform="rotate(-45 436 127.6)" fill="#000" opacity="0.9" filter="url(#b17)"/><ellipse cx="442.3" cy="119.3" rx="6" ry="3.5" transform="rotate(-55 442.3 119.3)" fill="#000" opacity="0.25" filter="url(#b18)"/><ellipse cx="464" cy="124" rx="13" ry="7" transform="rotate(-12 464 124)" fill="#000" opacity="0.12" filter="url(#b19)"/><path d="M400.2 26.2L524.3 26.2" stroke="#bdbdbd" stroke-width="0.8"/><path d="M524.3 26.2L524.3 145.1" stroke="#bdbdbd" stroke-width="0.8"/><path d="M400.2 26.2L400.2 145.1" stroke="#9a9a9a" stroke-width="0.9"/><path d="M400.2 145.1L524.3 145.1" stroke="#c4c4c4" stroke-width="0.9"/><path d="M395 145.1L400 145.1M395 112.1L400 112.1M395 79.1L400 79.1M395 46.1L400 46.1" stroke="#1a1a1a" stroke-width="1.8"/><path d="M397.9 138.5L400 138.5M397.9 131.9L400 131.9M397.9 125.3L400 125.3M397.9 118.7L400 118.7M397.9 105.5L400 105.5M397.9 98.9L400 98.9M397.9 92.3L400 92.3M397.9 85.7L400 85.7M397.9 72.5L400 72.5M397.9 65.9L400 65.9M397.9 59.3L400 59.3M397.9 52.7L400 52.7M397.9 39.5L400 39.5M397.9 32.9L400 32.9" stroke="#3a3a3a" stroke-width="0.9"/><text x="390.6" y="144.5" font-size="7.2" text-anchor="end" fill="#1e1e1e" stroke="#1e1e1e" stroke-width="0.14">0</text><text x="390.6" y="117.2" font-size="7.2" text-anchor="end" fill="#1e1e1e" stroke="#1e1e1e" stroke-width="0.14">50K</text><text x="390.6" y="84.2" font-size="7.2" text-anchor="end" fill="#1e1e1e" stroke="#1e1e1e" stroke-width="0.14">100K</text><text x="390.6" y="51.2" font-size="7.2" text-anchor="end" fill="#1e1e1e" stroke="#1e1e1e" stroke-width="0.14">150K</text><path d="M430.7 145.7L430.7 150.5M458.8 145.7L458.8 150.5M486 145.7L486 150.5M513.1 145.7L513.1 150.5" stroke="#1a1a1a" stroke-width="1.8"/><path d="M439 145.7L439 147.7M443.8 145.7L443.8 147.7M447.2 145.7L447.2 147.7M449.9 145.7L449.9 147.7M452.1 145.7L452.1 147.7M453.9 145.7L453.9 147.7M455.5 145.7L455.5 147.7M456.9 145.7L456.9 147.7M467.1 145.7L467.1 147.7M471.9 145.7L471.9 147.7M475.3 145.7L475.3 147.7M478 145.7L478 147.7M480.2 145.7L480.2 147.7M482 145.7L482 147.7M483.6 145.7L483.6 147.7M485 145.7L485 147.7M494.3 145.7L494.3 147.7M499.1 145.7L499.1 147.7M502.5 145.7L502.5 147.7M505.2 145.7L505.2 147.7M507.4 145.7L507.4 147.7M509.2 145.7L509.2 147.7M510.8 145.7L510.8 147.7M512.2 145.7L512.2 147.7M521.4 145.7L521.4 147.7M413.5 145.7L413.5 147.7M417.3 145.7L417.3 147.7M420.7 145.7L420.7 147.7M423.1 145.7L423.1 147.7M425 145.7L425 147.7M426.5 145.7L426.5 147.7M427.7 145.7L427.7 147.7M428.8 145.7L428.8 147.7M429.8 145.7L429.8 147.7" stroke="#3a3a3a" stroke-width="0.9"/><path d="M403.1 145.7L403.1 150.3M404 145.7L404 149.1M404.8 145.7L404.8 149.9M405.7 145.7L405.7 148.5M406.5 145.7L406.5 150.5M407.4 145.7L407.4 148.7M408.2 145.7L408.2 149.7M409.1 145.7L409.1 149.3M409.9 145.7L409.9 150.3M410.8 145.7L410.8 148.3" stroke="#111" stroke-width="0.95"/><text x="408.1" y="166.6" font-size="7.2" text-anchor="middle" fill="#1e1e1e" stroke="#1e1e1e" stroke-width="0.14">0</text><text x="458.8" y="166.6" font-size="7.2" text-anchor="middle" fill="#1e1e1e" stroke="#1e1e1e" stroke-width="0.14">10</text><text x="463.8" y="161.4" font-size="6.84" fill="#1e1e1e" stroke="#1e1e1e" stroke-width="0.14">3</text><text x="513.1" y="166.6" font-size="7.2" text-anchor="middle" fill="#1e1e1e" stroke="#1e1e1e" stroke-width="0.14">10</text><text x="518.1" y="161.4" font-size="6.84" fill="#1e1e1e" stroke="#1e1e1e" stroke-width="0.14">5</text><path d="M470 75.1L511.4 73.8L510.6 142.9L445.1 142.9Z" stroke="#222" stroke-width="1.1" fill="none" stroke-linejoin="round"/><text x="427.5" y="49" font-size="6.2" text-anchor="middle" textLength="45.9" lengthAdjust="spacingAndGlyphs" fill="#1e1e1e" stroke="#1e1e1e" stroke-width="0.14">Alexa Fluor 488-A</text><text x="427.5" y="56.6" font-size="6.2" text-anchor="middle" fill="#1e1e1e" stroke="#1e1e1e" stroke-width="0.14">17,8</text><text x="461.2" y="182.2" font-size="9.6" text-anchor="middle" textLength="70.7" lengthAdjust="spacingAndGlyphs" fill="#1e1e1e" stroke="#1e1e1e" stroke-width="0.22">Alexa Fluor 488-A</text><text x="367.8" y="85.8" font-size="9.6" text-anchor="middle" textLength="26.6" lengthAdjust="spacingAndGlyphs" transform="rotate(-90 367.8 85.8)" fill="#1e1e1e" stroke="#1e1e1e" stroke-width="0.22">SSC-A</text><path transform="scale(.5)" d="M916 564h2m-41 12h2m38 6h2m-21 2h2m-5 2h2m15 0h2m11 0h2m-6 1h2m-38 1h2m26 1h2m-29 1h2m21 0h2m5 0h2m-6 1h2m-20 1h2m1 0h2m15 0h2m-30 1h2m8 1h2m20 0h2m-34 1h2m17 0h2m-24 1h2m5 0h2m0 0h2m20 0h2m-7 1h2m7 1h2m-26 1h2m30 0h2m-55 1h2m10 0h2m-1 0h2m1 0h2m20 0h2m-42 1h2m8 0h2m-5 1h2m17 0h2m-11 1h2m36 0h2m-53 1h2m7 0h2m5 0h2m-1 0h2m29 0h2m-41 1h2m9 0h2m11 0h2m0 0h2m23 0h2m-45 1h2m8 0h2m-44 1h2m32 0h2m15 0h2m-48 2h2m25 0h2m28 0h2m-43 1h2m25 0h2m-31 1h2m-1 0h2m0 0h2m0 0h2m7 0h2m-26 1h2m0 0h2m10 0h2m7 0h2m3 0h2m16 0h2m-44 1h2m0 0h2m1 0h2m12 0h2m19 0h2m-41 1h2m8 0h2m9 0h2m-41 1h2m26 0h2m7 0h2m1 0h2m-3 1h2m15 0h2m-74 1h2m11 0h2m20 0h2m7 0h2m-24 1h2m28 0h2m-27 1h2m-1 0h2m15 0h2m12 0h2m-22 1h2m3 0h2m26 0h2m-40 1h2m-1 0h2m4 0h2m-1 0h2m0 0h2m7 0h2m-31 1h2m4 0h2m3 0h2m16 0h2m-37 1h2m1 0h2m14 0h2m0 0h2m10 0h2m5 0h2m-28 2h2m4 0h2m1 0h2m8 0h2m-25 1h2m2 0h2m1 0h2m24 0h2m-26 1h2m0 0h2m-14 1h2m19 0h2m14 0h2m-51 1h2m0 0h2m3 0h2m2 0h2m2 0h2m0 0h2m21 0h2m-21 1h2m12 0h2m-39 1h2m14 0h2m25 0h2m-19 1h2m-33 1h2m40 0h2m-21 1h2m8 0h2m-43 1h2m38 0h2m8 0h2m-37 1h2m6 0h2m13 0h2m5 0h2m-22 2h2m0 0h2m17 0h2m-26 1h2m-2 1h2m5 2h2m1 2h2m-4 4h2m-2 1h2m-42 1h2m15 4h2" stroke="#000" stroke-width="1.6" opacity="0.1"/><path transform="scale(.5)" d="M904 576h2m0 10h2m10 2h2m-4 1h2m-27 1h2m6 0h2m-4 1h2m26 1h2m-28 2h2m14 0h2m-43 1h2m17 0h2m4 0h2m-41 1h2m-1 0h2m25 0h2m-1 0h2m20 0h2m-32 1h2m7 0h2m0 0h2m11 0h2m7 0h2m-21 1h2m0 0h2m-24 1h2m17 0h2m-1 0h2m-21 1h2m7 0h2m-1 0h2m13 0h2m9 0h2m-10 1h2m-28 1h2m19 0h2m-24 1h2m3 0h2m5 0h2m0 0h2m-20 1h2m37 0h2m-44 1h2m5 1h2m13 0h2m4 0h2m-1 0h2m11 0h2m-30 1h2m4 0h2m6 0h2m14 0h2m7 0h2m-1 1h2m-40 1h2m-1 1h2m1 0h2m6 0h2m0 0h2m1 0h2m-44 1h2m18 0h2m13 0h2m-34 1h2m-1 0h2m0 0h2m9 0h2m-1 0h2m8 0h2m7 0h2m-29 1h2m9 0h2m2 0h2m0 0h2m3 0h2m3 0h2m3 0h2m-22 1h2m4 0h2m4 0h2m15 0h2m-14 1h2m15 0h2m-46 1h2m-1 0h2m1 0h2m2 0h2m1 1h2m4 0h2m2 0h2m-1 0h2m-29 1h2m19 0h2m15 0h2m-55 1h2m33 0h2m1 0h2m-36 1h2m20 0h2m-1 0h2m0 0h2m12 0h2m-30 1h2m0 0h2m6 0h2m6 1h2m-44 1h2m47 0h2m-14 1h2m0 0h2m1 0h2m-23 1h2m10 0h2m-1 0h2m-37 1h2m18 0h2m25 0h2m11 0h2m-36 1h2m10 0h2m9 0h2m4 0h2m-27 1h2m8 0h2m10 0h2m0 0h2m11 0h2m-55 1h2m-3 1h2m29 0h2m-29 2h2m8 0h2m-22 1h2m13 0h2m2 0h2m8 0h2m9 0h2m14 0h2m-15 1h2m-55 2h2m13 0h2m6 0h2m7 0h2m17 0h2m12 2h2m-25 2h2m-16 2h2m-11 1h2m26 1h2m-33 2h2m30 0h2m-52 1h2m15 1h2m33 2h2m-35 2h2m15 0h2" stroke="#000" stroke-width="1.6" opacity="0.1"/><path transform="scale(.5)" d="M887 575h2m8 18h2m20 0h2m-22 2h2m11 0h2m-39 2h2m-4 5h2m1 0h2m1 0h2m2 1h2m-10 2h2m16 2h2m19 0h2m-25 3h2m-1 0h2m-24 1h2m-13 1h2m13 0h2m51 0h2m-39 3h2m18 0h2m-10 1h2m-16 2h2m-4 1h2m20 0h2m-48 2h2m41 0h2m-42 1h2m-6 3h2m31 0h2m14 0h2m1 1h2m-38 1h2m35 0h2m-2 1h2m-39 3h2m-20 1h2m22 0h2m18 0h2m-33 1h2m-13 6h2m-13 1h2m-21 4h2m20 0h2m31 0h2m15 0h2m-11 1h2m30 0h2m-71 8h2m6 1h2" stroke="#000" stroke-width="1.6" opacity="0.08"/><path transform="scale(.5)" d="M896 583h2m-19 3h2m2 2h2m-26 5h2m29 4h2m2 5h2m10 0h2m-1 2h2m-1 0h2m-20 3h2m10 1h2m-11 1h2m-35 1h2m9 0h2m-16 1h2m21 0h2m45 1h2m-60 1h2m8 0h2m-13 1h2m1 1h2m12 1h2m11 2h2m11 0h2m-32 2h2m9 0h2m24 0h2m-14 1h2m-19 1h2m5 1h2m4 1h2m-29 3h2m3 1h2m-31 1h2m10 0h2m10 1h2m-25 1h2m-2 1h2m24 1h2m-28 1h2m32 0h2m4 0h2m10 1h2m-37 1h2m20 1h2m-25 2h2m25 0h2m-34 7h2m-26 4h2" stroke="#000" stroke-width="1.6" opacity="0.08"/><path transform="scale(.5)" d="M951 598h2m-46 1h2m24 0h2m-11 1h2m17 4h2m-27 4h2m0 0h2m9 0h2m-7 1h2m-30 1h2m14 1h2m16 0h2m-1 0h2m9 0h2m-23 2h2m9 0h2m-15 1h2m1 0h2m3 0h2m-1 0h2m-26 1h2m2 0h2m-20 1h2m8 0h2m12 0h2m7 0h2m15 0h2m-42 1h2m4 0h2m-14 1h2m11 0h2m14 0h2m1 0h2m-1 0h2m2 0h2m-1 0h2m7 0h2m-39 1h2m12 0h2m15 0h2m-27 1h2m6 0h2m25 0h2m-19 1h2m1 0h2m-29 1h2m5 0h2m6 0h2m2 1h2m6 0h2m-42 1h2m10 0h2m12 0h2m15 1h2m-33 1h2m0 0h2m13 0h2m-1 0h2m-38 1h2m27 1h2m8 0h2m-27 1h2m0 0h2m-15 1h2m28 0h2m5 1h2m-28 1h2m-1 0h2m13 0h2m3 0h2m-27 1h2m29 2h2m3 0h2m-23 1h2m35 5h2" stroke="#000" stroke-width="1.6" opacity="0.1"/><path transform="scale(.5)" d="M910 605h2m12 0h2m-7 2h2m-13 1h2m30 0h2m-36 1h2m20 0h2m-16 3h2m6 0h2m-8 1h2m2 0h2m-28 2h2m-11 1h2m3 0h2m9 0h2m12 0h2m2 0h2m-1 0h2m3 0h2m7 0h2m-18 1h2m7 0h2m-26 1h2m1 0h2m25 0h2m-16 1h2m-7 1h2m14 0h2m8 0h2m1 0h2m-1 0h2m-34 1h2m2 0h2m20 0h2m-40 1h2m16 0h2m9 0h2m-28 1h2m-1 0h2m0 0h2m12 0h2m11 0h2m-1 1h2m1 0h2m-28 1h2m6 0h2m-1 0h2m-47 1h2m32 0h2m5 0h2m4 0h2m5 0h2m-1 0h2m-37 1h2m0 0h2m0 0h2m16 0h2m-25 1h2m14 0h2m-1 0h2m-14 1h2m13 0h2m1 0h2m-1 0h2m24 0h2m-47 1h2m40 0h2m-55 2h2m26 0h2m19 0h2m-35 1h2m-6 1h2m16 0h2m4 3h2" stroke="#000" stroke-width="1.6" opacity="0.1"/><ellipse cx="442.3" cy="306.6" rx="19" ry="9.5" transform="rotate(-43 442.3 306.6)" fill="#000" opacity="0.1" filter="url(#b20)"/><ellipse cx="441.3" cy="309.1" rx="12.3" ry="5.7" transform="rotate(-40 441.3 309.1)" fill="#000" opacity="0.3" filter="url(#b21)"/><ellipse cx="440.1" cy="311.3" rx="8.1" ry="3.4" transform="rotate(-40 440.1 311.3)" fill="#000" opacity="0.85" filter="url(#b22)"/><ellipse cx="439.5" cy="311.9" rx="4.3" ry="2.1" transform="rotate(-40 439.5 311.9)" fill="#000" opacity="0.9" filter="url(#b23)"/><ellipse cx="446.8" cy="300.6" rx="5.7" ry="3.3" transform="rotate(-50 446.8 300.6)" fill="#000" opacity="0.35" filter="url(#b24)"/><ellipse cx="459" cy="310" rx="9" ry="5" transform="rotate(-12 459 310)" fill="#000" opacity="0.06" filter="url(#b25)"/><path d="M405.2 213.2L524.3 213.2" stroke="#bdbdbd" stroke-width="0.8"/><path d="M524.3 213.2L524.3 327.9" stroke="#bdbdbd" stroke-width="0.8"/><path d="M405.2 213.2L405.2 327.9" stroke="#9a9a9a" stroke-width="0.9"/><path d="M405.2 327.9L524.3 327.9" stroke="#c4c4c4" stroke-width="0.9"/><path d="M400 327.9L405 327.9M400 295.9L405 295.9M400 263.9L405 263.9M400 231.9L405 231.9" stroke="#1a1a1a" stroke-width="1.8"/><path d="M402.9 321.5L405 321.5M402.9 315.1L405 315.1M402.9 308.7L405 308.7M402.9 302.3L405 302.3M402.9 289.5L405 289.5M402.9 283.1L405 283.1M402.9 276.7L405 276.7M402.9 270.3L405 270.3M402.9 257.5L405 257.5M402.9 251.1L405 251.1M402.9 244.7L405 244.7M402.9 238.3L405 238.3M402.9 225.5L405 225.5M402.9 219.1L405 219.1" stroke="#3a3a3a" stroke-width="0.9"/><text x="395.6" y="327.3" font-size="7.2" text-anchor="end" fill="#1e1e1e" stroke="#1e1e1e" stroke-width="0.14">0</text><text x="395.6" y="301" font-size="7.2" text-anchor="end" fill="#1e1e1e" stroke="#1e1e1e" stroke-width="0.14">50K</text><text x="395.6" y="269" font-size="7.2" text-anchor="end" fill="#1e1e1e" stroke="#1e1e1e" stroke-width="0.14">100K</text><text x="395.6" y="237" font-size="7.2" text-anchor="end" fill="#1e1e1e" stroke="#1e1e1e" stroke-width="0.14">150K</text><path d="M433.7 328.5L433.7 333.3M460.5 328.5L460.5 333.3M487 328.5L487 333.3M513.1 328.5L513.1 333.3" stroke="#1a1a1a" stroke-width="1.8"/><path d="M441.7 328.5L441.7 330.5M446.3 328.5L446.3 330.5M449.6 328.5L449.6 330.5M452.2 328.5L452.2 330.5M454.3 328.5L454.3 330.5M456.1 328.5L456.1 330.5M457.6 328.5L457.6 330.5M459 328.5L459 330.5M468.5 328.5L468.5 330.5M473.1 328.5L473.1 330.5M476.4 328.5L476.4 330.5M479 328.5L479 330.5M481.1 328.5L481.1 330.5M482.9 328.5L482.9 330.5M484.4 328.5L484.4 330.5M485.8 328.5L485.8 330.5M495 328.5L495 330.5M499.6 328.5L499.6 330.5M502.9 328.5L502.9 330.5M505.5 328.5L505.5 330.5M507.6 328.5L507.6 330.5M509.4 328.5L509.4 330.5M510.9 328.5L510.9 330.5M512.3 328.5L512.3 330.5M521.1 328.5L521.1 330.5M417.4 328.5L417.4 330.5M421.1 328.5L421.1 330.5M424.3 328.5L424.3 330.5M426.5 328.5L426.5 330.5M428.3 328.5L428.3 330.5M429.7 328.5L429.7 330.5M430.9 328.5L430.9 330.5M432 328.5L432 330.5M432.9 328.5L432.9 330.5" stroke="#3a3a3a" stroke-width="0.9"/><path d="M407.2 328.5L407.2 333.1M408.1 328.5L408.1 331.9M408.9 328.5L408.9 332.7M409.8 328.5L409.8 331.3M410.6 328.5L410.6 333.3M411.5 328.5L411.5 331.5M412.3 328.5L412.3 332.5M413.2 328.5L413.2 332.1M414 328.5L414 333.1M414.9 328.5L414.9 331.1" stroke="#111" stroke-width="0.95"/><text x="412.2" y="349.4" font-size="7.2" text-anchor="middle" fill="#1e1e1e" stroke="#1e1e1e" stroke-width="0.14">0</text><text x="460.5" y="349.4" font-size="7.2" text-anchor="middle" fill="#1e1e1e" stroke="#1e1e1e" stroke-width="0.14">10</text><text x="465.5" y="344.2" font-size="6.84" fill="#1e1e1e" stroke="#1e1e1e" stroke-width="0.14">3</text><text x="513.1" y="349.4" font-size="7.2" text-anchor="middle" fill="#1e1e1e" stroke="#1e1e1e" stroke-width="0.14">10</text><text x="518.1" y="344.2" font-size="6.84" fill="#1e1e1e" stroke="#1e1e1e" stroke-width="0.14">5</text><path d="M471.7 260.1L511.4 258.8L510.6 326.2L448.1 326.2Z" stroke="#222" stroke-width="1.1" fill="none" stroke-linejoin="round"/><text x="431.2" y="235" font-size="6.2" text-anchor="middle" textLength="44.9" lengthAdjust="spacingAndGlyphs" fill="#1e1e1e" stroke="#1e1e1e" stroke-width="0.14">Alexa Fluor 488-A</text><text x="431.2" y="242.6" font-size="6.2" text-anchor="middle" fill="#1e1e1e" stroke="#1e1e1e" stroke-width="0.14">9,10</text><text x="463.5" y="364.6" font-size="9.6" text-anchor="middle" textLength="68.4" lengthAdjust="spacingAndGlyphs" fill="#1e1e1e" stroke="#1e1e1e" stroke-width="0.22">Alexa Fluor 488-A</text><text x="373.6" y="270" font-size="9.6" text-anchor="middle" textLength="26.6" lengthAdjust="spacingAndGlyphs" transform="rotate(-90 373.6 270)" fill="#1e1e1e" stroke="#1e1e1e" stroke-width="0.22">SSC-A</text><path transform="scale(.5)" d="M870 966h2m3 5h2m-2 4h2m-17 5h2m-1 3h2m25 1h2m-16 1h2m-12 3h2m15 0h2m-33 1h2m6 1h2m-1 0h2m4 0h2m13 0h2m-8 1h2m-8 1h2m8 0h2m-1 0h2m-16 1h2m21 0h2m-29 1h2m-1 0h2m-21 1h2m11 0h2m-35 1h2m19 0h2m3 0h2m18 0h2m-9 1h2m-1 0h2m4 0h2m5 0h2m0 0h2m-22 1h2m-1 0h2m4 0h2m1 0h2m2 0h2m-1 0h2m-34 1h2m-1 0h2m5 0h2m14 0h2m2 0h2m9 0h2m-39 1h2m9 0h2m1 0h2m7 0h2m26 0h2m-41 1h2m19 0h2m-23 1h2m10 0h2m2 1h2m-31 1h2m9 1h2m3 0h2m4 0h2m4 0h2m-56 1h2m42 0h2m4 0h2m-15 1h2m9 0h2m-1 0h2m0 0h2m-30 1h2m5 0h2m4 0h2m-1 0h2m3 0h2m6 0h2m-1 0h2m-1 0h2m8 0h2m-57 1h2m34 0h2m9 0h2m-1 0h2m-29 1h2m7 0h2m9 0h2m-23 1h2m12 0h2m16 0h2m-52 1h2m28 0h2m5 0h2m1 0h2m-1 0h2m-15 1h2m3 0h2m-1 0h2m11 0h2m-39 1h2m5 0h2m-1 0h2m5 0h2m2 0h2m1 0h2m6 0h2m8 0h2m-22 1h2m6 0h2m-28 1h2m9 0h2m4 0h2m-18 1h2m12 0h2m10 0h2m-31 1h2m8 0h2m2 0h2m23 0h2m0 0h2m2 0h2m-32 1h2m-12 1h2m3 1h2m14 0h2m0 0h2m-36 1h2m30 0h2m-32 1h2m3 0h2m0 0h2m3 0h2m2 0h2m8 0h2m10 0h2m-28 1h2m-4 1h2m18 0h2m-16 1h2m1 0h2m12 1h2m-16 1h2m16 0h2m-48 1h2m18 0h2m7 0h2m4 0h2m-6 1h2m2 1h2m-21 3h2m16 1h2m-20 1h2m6 5h2m3 1h2m-23 3h2m-8 2h2m11 2h2" stroke="#000" stroke-width="1.6" opacity="0.1"/><path transform="scale(.5)" d="M880 973h2m-19 2h2m10 1h2m-12 3h2m13 2h2m-28 1h2m1 1h2m5 0h2m3 0h2m4 0h2m2 2h2m2 0h2m-29 2h2m13 0h2m11 0h2m-39 1h2m9 0h2m15 0h2m-21 1h2m9 0h2m15 0h2m-37 3h2m7 0h2m27 0h2m-41 1h2m6 0h2m10 0h2m8 0h2m-32 1h2m2 0h2m3 0h2m22 0h2m-21 1h2m1 0h2m9 0h2m-6 1h2m-1 0h2m-13 1h2m6 0h2m0 0h2m-8 1h2m7 0h2m-46 1h2m21 0h2m0 0h2m15 0h2m-27 1h2m2 0h2m8 0h2m3 0h2m-26 1h2m4 0h2m11 0h2m1 0h2m-7 1h2m2 0h2m9 0h2m-27 1h2m-1 0h2m-1 0h2m4 0h2m0 0h2m-12 1h2m1 0h2m1 0h2m-29 1h2m18 0h2m8 0h2m-23 1h2m6 0h2m10 0h2m-7 1h2m26 0h2m-41 1h2m5 0h2m16 0h2m2 0h2m-10 1h2m11 0h2m-37 1h2m4 0h2m4 0h2m1 0h2m6 0h2m-27 1h2m-1 1h2m1 0h2m1 0h2m14 0h2m8 0h2m12 0h2m-48 1h2m36 0h2m-28 1h2m1 0h2m12 0h2m-35 1h2m2 0h2m0 0h2m-1 0h2m8 0h2m-10 1h2m1 0h2m13 0h2m-38 1h2m24 0h2m14 0h2m-37 1h2m15 0h2m4 0h2m-10 1h2m1 0h2m2 0h2m0 0h2m1 0h2m-1 0h2m0 0h2m19 0h2m-75 1h2m20 0h2m-1 0h2m9 0h2m5 0h2m0 0h2m-23 1h2m5 0h2m3 0h2m-6 1h2m5 1h2m-4 1h2m-25 1h2m9 0h2m23 0h2m3 0h2m-32 1h2m21 1h2m8 0h2m-25 1h2m1 0h2m1 0h2m7 0h2m4 0h2m-32 2h2m21 0h2m2 0h2m-21 4h2m0 0h2m-18 1h2m22 1h2m-24 1h2m16 0h2m-6 3h2m6 3h2m4 0h2" stroke="#000" stroke-width="1.6" opacity="0.1"/><path transform="scale(.5)" d="M879 972h2m-7 9h2m21 3h2m-4 1h2m-41 1h2m9 4h2m-23 1h2m17 0h2m-6 3h2m6 0h2m-18 1h2m34 0h2m-47 2h2m29 0h2m-48 7h2m27 1h2m9 0h2m11 0h2m-38 1h2m49 0h2m-73 3h2m24 0h2m19 0h2m-35 2h2m5 1h2m-2 3h2m4 0h2m12 0h2m-22 3h2m0 0h2m-16 5h2m3 0h2m14 0h2m-21 2h2m35 1h2m-40 2h2m21 2h2m7 0h2m-38 3h2m27 2h2m-25 2h2m4 0h2m-9 1h2m-1 1h2m19 7h2m-13 2h2" stroke="#000" stroke-width="1.6" opacity="0.08"/><path transform="scale(.5)" d="M868 971h2m-7 5h2m-10 5h2m15 1h2m-22 5h2m8 2h2m5 1h2m17 2h2m-28 1h2m-5 3h2m8 0h2m-29 3h2m29 0h2m-14 5h2m8 0h2m-6 1h2m-31 2h2m20 0h2m-10 3h2m19 0h2m-22 2h2m6 0h2m-20 1h2m-20 5h2m-1 1h2m36 0h2m-34 2h2m21 1h2m-16 1h2m12 0h2m-8 2h2m-6 5h2m37 0h2m-32 4h2m2 2h2m11 1h2m-43 1h2m3 0h2m18 1h2m-11 1h2m-9 1h2m-24 2h2m9 1h2m4 3h2m28 1h2" stroke="#000" stroke-width="1.6" opacity="0.08"/><ellipse cx="428.8" cy="503.8" rx="18" ry="9" transform="rotate(-51 428.8 503.8)" fill="#000" opacity="0.1" filter="url(#b26)"/><ellipse cx="427.8" cy="506.3" rx="11.7" ry="5.4" transform="rotate(-48 427.8 506.3)" fill="#000" opacity="0.3" filter="url(#b27)"/><ellipse cx="426.6" cy="508.5" rx="7.7" ry="3.2" transform="rotate(-48 426.6 508.5)" fill="#000" opacity="0.85" filter="url(#b28)"/><ellipse cx="426" cy="509.1" rx="4" ry="2" transform="rotate(-48 426 509.1)" fill="#000" opacity="0.9" filter="url(#b29)"/><ellipse cx="430.3" cy="502.8" rx="5.4" ry="3.1" transform="rotate(-58 430.3 502.8)" fill="#000" opacity="0.2" filter="url(#b30)"/><path d="M403.9 408.6L533 408.6" stroke="#bdbdbd" stroke-width="0.8"/><path d="M533 408.6L533 525.1" stroke="#bdbdbd" stroke-width="0.8"/><path d="M403.9 408.6L403.9 525.1" stroke="#9a9a9a" stroke-width="0.9"/><path d="M403.9 525.1L533 525.1" stroke="#c4c4c4" stroke-width="0.9"/><path d="M398.7 525.1L403.7 525.1M398.7 492.6L403.7 492.6M398.7 460.1L403.7 460.1M398.7 427.6L403.7 427.6" stroke="#1a1a1a" stroke-width="1.8"/><path d="M401.6 518.6L403.7 518.6M401.6 512.1L403.7 512.1M401.6 505.6L403.7 505.6M401.6 499.1L403.7 499.1M401.6 486.1L403.7 486.1M401.6 479.6L403.7 479.6M401.6 473.1L403.7 473.1M401.6 466.6L403.7 466.6M401.6 453.6L403.7 453.6M401.6 447.1L403.7 447.1M401.6 440.6L403.7 440.6M401.6 434.1L403.7 434.1M401.6 421.1L403.7 421.1M401.6 414.6L403.7 414.6" stroke="#3a3a3a" stroke-width="0.9"/><text x="394.3" y="524.5" font-size="7.2" text-anchor="end" fill="#1e1e1e" stroke="#1e1e1e" stroke-width="0.14">0</text><text x="394.3" y="497.7" font-size="7.2" text-anchor="end" fill="#1e1e1e" stroke="#1e1e1e" stroke-width="0.14">50K</text><text x="394.3" y="465.2" font-size="7.2" text-anchor="end" fill="#1e1e1e" stroke="#1e1e1e" stroke-width="0.14">100K</text><text x="394.3" y="432.7" font-size="7.2" text-anchor="end" fill="#1e1e1e" stroke="#1e1e1e" stroke-width="0.14">150K</text><path d="M435.2 525.7L435.2 530.5M464.2 525.7L464.2 530.5M492.3 525.7L492.3 530.5M520.8 525.7L520.8 530.5" stroke="#1a1a1a" stroke-width="1.8"/><path d="M443.8 525.7L443.8 527.7M448.8 525.7L448.8 527.7M452.4 525.7L452.4 527.7M455.1 525.7L455.1 527.7M457.4 525.7L457.4 527.7M459.3 525.7L459.3 527.7M461 525.7L461 527.7M462.4 525.7L462.4 527.7M472.8 525.7L472.8 527.7M477.8 525.7L477.8 527.7M481.4 525.7L481.4 527.7M484.1 525.7L484.1 527.7M486.4 525.7L486.4 527.7M488.3 525.7L488.3 527.7M490 525.7L490 527.7M491.4 525.7L491.4 527.7M500.9 525.7L500.9 527.7M505.9 525.7L505.9 527.7M509.5 525.7L509.5 527.7M512.2 525.7L512.2 527.7M514.5 525.7L514.5 527.7M516.4 525.7L516.4 527.7M518.1 525.7L518.1 527.7M519.5 525.7L519.5 527.7M529.4 525.7L529.4 527.7M416.9 525.7L416.9 527.7M421 525.7L421 527.7M424.6 525.7L424.6 527.7M427.1 525.7L427.1 527.7M429.1 525.7L429.1 527.7M430.7 525.7L430.7 527.7M432.1 525.7L432.1 527.7M433.2 525.7L433.2 527.7M434.3 525.7L434.3 527.7" stroke="#3a3a3a" stroke-width="0.9"/><path d="M406.4 525.7L406.4 530.3M407.3 525.7L407.3 529.1M408.1 525.7L408.1 529.9M409 525.7L409 528.5M409.8 525.7L409.8 530.5M410.7 525.7L410.7 528.7M411.5 525.7L411.5 529.7M412.4 525.7L412.4 529.3M413.2 525.7L413.2 530.3M414.1 525.7L414.1 528.3" stroke="#111" stroke-width="0.95"/><text x="411.4" y="546.6" font-size="7.2" text-anchor="middle" fill="#1e1e1e" stroke="#1e1e1e" stroke-width="0.14">0</text><text x="464.2" y="546.6" font-size="7.2" text-anchor="middle" fill="#1e1e1e" stroke="#1e1e1e" stroke-width="0.14">10</text><text x="469.2" y="541.4" font-size="6.84" fill="#1e1e1e" stroke="#1e1e1e" stroke-width="0.14">3</text><text x="520.8" y="546.6" font-size="7.2" text-anchor="middle" fill="#1e1e1e" stroke="#1e1e1e" stroke-width="0.14">10</text><text x="525.8" y="541.4" font-size="6.84" fill="#1e1e1e" stroke="#1e1e1e" stroke-width="0.14">5</text><path d="M476.6 456.3L519.3 455L518.3 523.4L450.1 523.4Z" stroke="#222" stroke-width="1.1" fill="none" stroke-linejoin="round"/><text x="432" y="431" font-size="6.2" text-anchor="middle" textLength="48" lengthAdjust="spacingAndGlyphs" fill="#1e1e1e" stroke="#1e1e1e" stroke-width="0.14">Alexa Fluor 488-A</text><text x="432" y="438.6" font-size="6.2" text-anchor="middle" fill="#1e1e1e" stroke="#1e1e1e" stroke-width="0.14">3,72E-3</text><text x="467" y="561.8" font-size="9.6" text-anchor="middle" textLength="73.5" lengthAdjust="spacingAndGlyphs" fill="#1e1e1e" stroke="#1e1e1e" stroke-width="0.22">Alexa Fluor 488-A</text><text x="370.6" y="467" font-size="9.6" text-anchor="middle" textLength="26.6" lengthAdjust="spacingAndGlyphs" transform="rotate(-90 370.6 467)" fill="#1e1e1e" stroke="#1e1e1e" stroke-width="0.22">SSC-A</text><path d="M576 139.8L580 139.2L583.5 137.2L586 133.5L588.5 126L590 117.1L591.2 108L592.2 99L593.5 80L594.7 60L595.8 44L596.7 38.1L597.8 39.5L598.8 43L600.2 58L601.4 75L602.4 90L603.8 104L605.8 114.9L607.5 120.5L609.2 123.9L611.5 125.2L613 124.6L614.8 126.2L617.5 127.2L620.5 128.5L624 130.3L627.3 133L630.5 135.8L634 138L638 139.5L641 139.8Z" stroke="#111" stroke-width="1.15" fill="#979797" stroke-linejoin="round"/><path d="M561.7 28.6L679.3 28.6" stroke="#bdbdbd" stroke-width="0.8"/><path d="M679.3 28.6L679.3 139.8" stroke="#bdbdbd" stroke-width="0.8"/><path d="M561.7 28.6L561.7 139.8" stroke="#9a9a9a" stroke-width="0.9"/><path d="M561.7 139.8L679.3 139.8" stroke="#c4c4c4" stroke-width="0.9"/><path d="M556.5 139.8L561.5 139.8M556.5 111.6L561.5 111.6M556.5 83.4L561.5 83.4M556.5 55.2L561.5 55.2" stroke="#1a1a1a" stroke-width="1.8"/><path d="M559.4 134.2L561.5 134.2M559.4 128.5L561.5 128.5M559.4 122.9L561.5 122.9M559.4 117.2L561.5 117.2M559.4 106L561.5 106M559.4 100.3L561.5 100.3M559.4 94.7L561.5 94.7M559.4 89L561.5 89M559.4 77.8L561.5 77.8M559.4 72.1L561.5 72.1M559.4 66.5L561.5 66.5M559.4 60.8L561.5 60.8M559.4 49.6L561.5 49.6M559.4 43.9L561.5 43.9M559.4 38.3L561.5 38.3M559.4 32.6L561.5 32.6" stroke="#3a3a3a" stroke-width="0.9"/><text x="552.8" y="139.2" font-size="7.2" text-anchor="end" fill="#1e1e1e" stroke="#1e1e1e" stroke-width="0.14">0</text><text x="552.8" y="116.7" font-size="7.2" text-anchor="end" fill="#1e1e1e" stroke="#1e1e1e" stroke-width="0.14">500</text><text x="552.8" y="88.5" font-size="7.2" text-anchor="end" fill="#1e1e1e" stroke="#1e1e1e" stroke-width="0.14">1,0K</text><text x="552.8" y="60.3" font-size="7.2" text-anchor="end" fill="#1e1e1e" stroke="#1e1e1e" stroke-width="0.14">1,5K</text><path d="M590.4 140.4L590.4 145.2M616.7 140.4L616.7 145.2M642 140.4L642 145.2M668.5 140.4L668.5 145.2" stroke="#1a1a1a" stroke-width="1.8"/><path d="M598.2 140.4L598.2 142.4M602.8 140.4L602.8 142.4M606.1 140.4L606.1 142.4M608.6 140.4L608.6 142.4M610.7 140.4L610.7 142.4M612.4 140.4L612.4 142.4M613.9 140.4L613.9 142.4M615.2 140.4L615.2 142.4M624.5 140.4L624.5 142.4M629.1 140.4L629.1 142.4M632.4 140.4L632.4 142.4M634.9 140.4L634.9 142.4M637 140.4L637 142.4M638.7 140.4L638.7 142.4M640.2 140.4L640.2 142.4M641.5 140.4L641.5 142.4M649.8 140.4L649.8 142.4M654.4 140.4L654.4 142.4M657.7 140.4L657.7 142.4M660.2 140.4L660.2 142.4M662.3 140.4L662.3 142.4M664 140.4L664 142.4M665.5 140.4L665.5 142.4M666.8 140.4L666.8 142.4M676.3 140.4L676.3 142.4M574.1 140.4L574.1 142.4M577.8 140.4L577.8 142.4M581 140.4L581 142.4M583.2 140.4L583.2 142.4M585 140.4L585 142.4M586.4 140.4L586.4 142.4M587.6 140.4L587.6 142.4M588.7 140.4L588.7 142.4M589.6 140.4L589.6 142.4" stroke="#3a3a3a" stroke-width="0.9"/><path d="M563.9 140.4L563.9 145M564.8 140.4L564.8 143.8M565.6 140.4L565.6 144.6M566.5 140.4L566.5 143.2M567.3 140.4L567.3 145.2M568.2 140.4L568.2 143.4M569 140.4L569 144.4M569.9 140.4L569.9 144M570.7 140.4L570.7 145M571.6 140.4L571.6 143" stroke="#111" stroke-width="0.95"/><text x="568.9" y="160.9" font-size="7.2" text-anchor="middle" fill="#1e1e1e" stroke="#1e1e1e" stroke-width="0.14">0</text><text x="616.7" y="160.9" font-size="7.2" text-anchor="middle" fill="#1e1e1e" stroke="#1e1e1e" stroke-width="0.14">10</text><text x="621.7" y="155.7" font-size="6.84" fill="#1e1e1e" stroke="#1e1e1e" stroke-width="0.14">3</text><text x="668.5" y="160.9" font-size="7.2" text-anchor="middle" fill="#1e1e1e" stroke="#1e1e1e" stroke-width="0.14">10</text><text x="673.5" y="155.7" font-size="6.84" fill="#1e1e1e" stroke="#1e1e1e" stroke-width="0.14">5</text><text x="619.2" y="175.5" font-size="9.6" text-anchor="middle" textLength="67.7" lengthAdjust="spacingAndGlyphs" fill="#1e1e1e" stroke="#1e1e1e" stroke-width="0.22">Alexa Fluor 488-A</text><text x="533" y="84.5" font-size="9.4" text-anchor="middle" textLength="22.4" lengthAdjust="spacingAndGlyphs" transform="rotate(-90 533 84.5)" fill="#1e1e1e" stroke="#1e1e1e" stroke-width="0.22">Count</text><path d="M577 336.1L580 335.5L583 334.5L585.4 333.2L587.5 330L589.3 325.2L590.8 318L592.2 307.1L593.5 293L594.5 280L595.6 258L596.7 239L597.4 231L597.9 227.6L598.8 226.5L599.4 227.5L600.1 223.6L601 225L601.9 227.6L602.4 236L602.9 245.7L603.8 262L604.7 280L605.8 292L606.9 302.6L608.5 311L610.3 318.5L612.5 322.5L614.8 325.2L617.5 328.5L620.5 330.9L623.5 332.8L626.2 334.3L629 335.4L632 336.1Z" stroke="#111" stroke-width="1.15" fill="#979797" stroke-linejoin="round"/><path d="M562.8 211.3L682 211.3" stroke="#bdbdbd" stroke-width="0.8"/><path d="M682 211.3L682 336.3" stroke="#bdbdbd" stroke-width="0.8"/><path d="M562.8 211.3L562.8 336.3" stroke="#9a9a9a" stroke-width="0.9"/><path d="M562.8 336.3L682 336.3" stroke="#c4c4c4" stroke-width="0.9"/><path d="M557.6 336.4L562.6 336.4M557.6 296.6L562.6 296.6M557.6 256.9L562.6 256.9M557.6 217.1L562.6 217.1" stroke="#1a1a1a" stroke-width="1.8"/><path d="M560.5 326.5L562.6 326.5M560.5 316.5L562.6 316.5M560.5 306.6L562.6 306.6M560.5 286.7L562.6 286.7M560.5 276.8L562.6 276.8M560.5 266.8L562.6 266.8M560.5 247L562.6 247M560.5 237L562.6 237M560.5 227.1L562.6 227.1" stroke="#3a3a3a" stroke-width="0.9"/><text x="553.6" y="335.8" font-size="7.2" text-anchor="end" fill="#1e1e1e" stroke="#1e1e1e" stroke-width="0.14">0</text><text x="553.6" y="301.8" font-size="7.2" text-anchor="end" fill="#1e1e1e" stroke="#1e1e1e" stroke-width="0.14">200</text><text x="553.6" y="262" font-size="7.2" text-anchor="end" fill="#1e1e1e" stroke="#1e1e1e" stroke-width="0.14">400</text><text x="553.6" y="222.2" font-size="7.2" text-anchor="end" fill="#1e1e1e" stroke="#1e1e1e" stroke-width="0.14">600</text><path d="M591.5 336.9L591.5 341.7M618.2 336.9L618.2 341.7M644.3 336.9L644.3 341.7M670.7 336.9L670.7 341.7" stroke="#1a1a1a" stroke-width="1.8"/><path d="M599.4 336.9L599.4 338.9M604.1 336.9L604.1 338.9M607.4 336.9L607.4 338.9M610 336.9L610 338.9M612 336.9L612 338.9M613.8 336.9L613.8 338.9M615.3 336.9L615.3 338.9M616.7 336.9L616.7 338.9M626.1 336.9L626.1 338.9M630.8 336.9L630.8 338.9M634.1 336.9L634.1 338.9M636.7 336.9L636.7 338.9M638.7 336.9L638.7 338.9M640.5 336.9L640.5 338.9M642 336.9L642 338.9M643.4 336.9L643.4 338.9M652.2 336.9L652.2 338.9M656.9 336.9L656.9 338.9M660.2 336.9L660.2 338.9M662.8 336.9L662.8 338.9M664.8 336.9L664.8 338.9M666.6 336.9L666.6 338.9M668.1 336.9L668.1 338.9M669.5 336.9L669.5 338.9M678.6 336.9L678.6 338.9M575.6 336.9L575.6 338.9M579.2 336.9L579.2 338.9M582.3 336.9L582.3 338.9M584.5 336.9L584.5 338.9M586.2 336.9L586.2 338.9M587.6 336.9L587.6 338.9M588.8 336.9L588.8 338.9M589.8 336.9L589.8 338.9M590.7 336.9L590.7 338.9" stroke="#3a3a3a" stroke-width="0.9"/><path d="M565.4 336.9L565.4 341.5M566.2 336.9L566.2 340.3M567.1 336.9L567.1 341.1M568 336.9L568 339.7M568.8 336.9L568.8 341.7M569.7 336.9L569.7 339.9M570.5 336.9L570.5 340.9M571.4 336.9L571.4 340.5M572.2 336.9L572.2 341.5M573.1 336.9L573.1 339.5" stroke="#111" stroke-width="0.95"/><text x="570.4" y="360.2" font-size="7.2" text-anchor="middle" fill="#1e1e1e" stroke="#1e1e1e" stroke-width="0.14">0</text><text x="618.2" y="360.2" font-size="7.2" text-anchor="middle" fill="#1e1e1e" stroke="#1e1e1e" stroke-width="0.14">10</text><text x="623.2" y="355" font-size="6.84" fill="#1e1e1e" stroke="#1e1e1e" stroke-width="0.14">3</text><text x="670.7" y="360.2" font-size="7.2" text-anchor="middle" fill="#1e1e1e" stroke="#1e1e1e" stroke-width="0.14">10</text><text x="675.7" y="355" font-size="6.84" fill="#1e1e1e" stroke="#1e1e1e" stroke-width="0.14">5</text><text x="620.9" y="375.6" font-size="9.6" text-anchor="middle" textLength="67.8" lengthAdjust="spacingAndGlyphs" fill="#1e1e1e" stroke="#1e1e1e" stroke-width="0.22">Alexa Fluor 488-A</text><text x="536.6" y="273.5" font-size="9.2" text-anchor="middle" textLength="23.7" lengthAdjust="spacingAndGlyphs" transform="rotate(-90 536.6 273.5)" fill="#1e1e1e" stroke="#1e1e1e" stroke-width="0.22">Count</text><path d="M574 530L576.4 529.3L578.5 527.8L580.9 524.3L582.8 518.5L584.3 510.7L585.5 502L586.6 492.6L587.6 480L588.4 470L589.3 450L590 435L590.6 426L591.2 431L592 445L593 458L593.8 470L594.7 482L595.6 492.6L596.5 505L597.4 515.2L598.6 522.5L600.1 527.7L601.8 529.2L603.5 529.8L606 530Z" stroke="#111" stroke-width="1.15" fill="#979797" stroke-linejoin="round"/><path d="M570.3 414.7L682 414.7" stroke="#bdbdbd" stroke-width="0.8"/><path d="M682 414.7L682 530" stroke="#bdbdbd" stroke-width="0.8"/><path d="M570.3 414.7L570.3 530" stroke="#9a9a9a" stroke-width="0.9"/><path d="M570.3 530L682 530" stroke="#c4c4c4" stroke-width="0.9"/><path d="M565.1 530L570.1 530M565.1 503.9L570.1 503.9M565.1 477.8L570.1 477.8M565.1 451.7L570.1 451.7M565.1 425.6L570.1 425.6" stroke="#1a1a1a" stroke-width="1.8"/><path d="M568 524.8L570.1 524.8M568 519.6L570.1 519.6M568 514.3L570.1 514.3M568 509.1L570.1 509.1M568 498.7L570.1 498.7M568 493.5L570.1 493.5M568 488.2L570.1 488.2M568 483L570.1 483M568 472.6L570.1 472.6M568 467.4L570.1 467.4M568 462.1L570.1 462.1M568 456.9L570.1 456.9M568 446.5L570.1 446.5M568 441.3L570.1 441.3M568 436L570.1 436M568 430.8L570.1 430.8M568 420.4L570.1 420.4" stroke="#3a3a3a" stroke-width="0.9"/><text x="561.2" y="529.4" font-size="7.2" text-anchor="end" fill="#1e1e1e" stroke="#1e1e1e" stroke-width="0.14">0</text><text x="561.2" y="509" font-size="7.2" text-anchor="end" fill="#1e1e1e" stroke="#1e1e1e" stroke-width="0.14">1,0K</text><text x="561.2" y="482.9" font-size="7.2" text-anchor="end" fill="#1e1e1e" stroke="#1e1e1e" stroke-width="0.14">2,0K</text><text x="561.2" y="456.8" font-size="7.2" text-anchor="end" fill="#1e1e1e" stroke="#1e1e1e" stroke-width="0.14">3,0K</text><text x="561.2" y="430.7" font-size="7.2" text-anchor="end" fill="#1e1e1e" stroke="#1e1e1e" stroke-width="0.14">4,0K</text><path d="M597.4 530.6L597.4 535.4M622.8 530.6L622.8 535.4M647.2 530.6L647.2 535.4M671.4 530.6L671.4 535.4" stroke="#1a1a1a" stroke-width="1.8"/><path d="M604.8 530.6L604.8 532.6M609.2 530.6L609.2 532.6M612.3 530.6L612.3 532.6M614.6 530.6L614.6 532.6M616.6 530.6L616.6 532.6M618.2 530.6L618.2 532.6M619.7 530.6L619.7 532.6M620.9 530.6L620.9 532.6M630.2 530.6L630.2 532.6M634.6 530.6L634.6 532.6M637.7 530.6L637.7 532.6M640 530.6L640 532.6M642 530.6L642 532.6M643.6 530.6L643.6 532.6M645.1 530.6L645.1 532.6M646.3 530.6L646.3 532.6M654.6 530.6L654.6 532.6M659 530.6L659 532.6M662.1 530.6L662.1 532.6M664.4 530.6L664.4 532.6M666.4 530.6L666.4 532.6M668 530.6L668 532.6M669.5 530.6L669.5 532.6M670.7 530.6L670.7 532.6M678.8 530.6L678.8 532.6M582.9 530.6L582.9 532.6M586.1 530.6L586.1 532.6M589 530.6L589 532.6M591 530.6L591 532.6M592.6 530.6L592.6 532.6M593.8 530.6L593.8 532.6M594.9 530.6L594.9 532.6M595.8 530.6L595.8 532.6M596.7 530.6L596.7 532.6" stroke="#3a3a3a" stroke-width="0.9"/><path d="M572.8 530.6L572.8 535.2M573.6 530.6L573.6 534M574.5 530.6L574.5 534.8M575.4 530.6L575.4 533.4M576.2 530.6L576.2 535.4M577.1 530.6L577.1 533.6M577.9 530.6L577.9 534.6M578.8 530.6L578.8 534.2M579.6 530.6L579.6 535.2M580.5 530.6L580.5 533.2" stroke="#111" stroke-width="0.95"/><text x="577.8" y="551.8" font-size="7.2" text-anchor="middle" fill="#1e1e1e" stroke="#1e1e1e" stroke-width="0.14">0</text><text x="622.8" y="551.8" font-size="7.2" text-anchor="middle" fill="#1e1e1e" stroke="#1e1e1e" stroke-width="0.14">10</text><text x="627.8" y="546.6" font-size="6.84" fill="#1e1e1e" stroke="#1e1e1e" stroke-width="0.14">3</text><text x="671.4" y="551.8" font-size="7.2" text-anchor="middle" fill="#1e1e1e" stroke="#1e1e1e" stroke-width="0.14">10</text><text x="676.4" y="546.6" font-size="6.84" fill="#1e1e1e" stroke="#1e1e1e" stroke-width="0.14">5</text><text x="625.3" y="566.2" font-size="9.6" text-anchor="middle" textLength="63.7" lengthAdjust="spacingAndGlyphs" fill="#1e1e1e" stroke="#1e1e1e" stroke-width="0.22">Alexa Fluor 488-A</text><text x="543.2" y="472.3" font-size="8.4" text-anchor="middle" textLength="22.8" lengthAdjust="spacingAndGlyphs" transform="rotate(-90 543.2 472.3)" fill="#1e1e1e" stroke="#1e1e1e" stroke-width="0.14">Count</text><path d="M535.5 478.6L535.5 480.6" stroke="#444" stroke-width="0.8"/><path d="M68.3 743.9L68.3 618" stroke="#333" stroke-width="0.9"/><path d="M68.3 743.9L126.5 743.9" stroke="#333" stroke-width="0.9"/><path d="M65.1 743.9L68.3 743.9M65.1 718.7L68.3 718.7M65.1 693.5L68.3 693.5M65.1 668.4L68.3 668.4M65.1 643.2L68.3 643.2M65.1 618L68.3 618" stroke="#333" stroke-width="0.9"/><text x="63.7" y="746.1" font-size="6.3" text-anchor="end" fill="#1e1e1e" stroke="#1e1e1e" stroke-width="0.14">0</text><text x="63.7" y="720.9" font-size="6.3" text-anchor="end" fill="#1e1e1e" stroke="#1e1e1e" stroke-width="0.14">100</text><text x="63.7" y="695.7" font-size="6.3" text-anchor="end" fill="#1e1e1e" stroke="#1e1e1e" stroke-width="0.14">200</text><text x="63.7" y="670.6" font-size="6.3" text-anchor="end" fill="#1e1e1e" stroke="#1e1e1e" stroke-width="0.14">300</text><text x="63.7" y="645.4" font-size="6.3" text-anchor="end" fill="#1e1e1e" stroke="#1e1e1e" stroke-width="0.14">400</text><text x="63.7" y="620.2" font-size="6.3" text-anchor="end" fill="#1e1e1e" stroke="#1e1e1e" stroke-width="0.14">500</text><rect x="77.4" y="636.8" width="15.8" height="107.1" fill="none" stroke="#2f2ff0" stroke-width="1.5"/><path d="M85.3 644.1L85.3 628.4M81.4 644.1L89.2 644.1M81.4 628.4L89.2 628.4" stroke="#2f2ff0" stroke-width="0.9"/><path d="M85.3 743.9L85.3 747.3" stroke="#333" stroke-width="0.9"/><rect x="101.9" y="685.1" width="15.8" height="58.8" fill="none" stroke="#1a1a1a" stroke-width="1.5"/><path d="M109.8 687L109.8 681.7M105.9 687L113.7 687M105.9 681.7L113.7 681.7" stroke="#1a1a1a" stroke-width="0.9"/><path d="M109.8 743.9L109.8 747.3" stroke="#333" stroke-width="0.9"/><text x="85.2" y="755.1" font-size="6.4" text-anchor="middle" fill="#1e1e1e" stroke="#1e1e1e" stroke-width="0.14">1.5</text><text x="109.8" y="755.1" font-size="6.4" text-anchor="middle" fill="#1e1e1e" stroke="#1e1e1e" stroke-width="0.14">0</text><text x="46.4" y="766.2" font-size="7.6" textLength="102.2" lengthAdjust="spacingAndGlyphs" fill="#1e1e1e" stroke="#1e1e1e" stroke-width="0.14">Concentration Fc_TFP_Gp17 [µM]</text><text x="47.6" y="681.5" font-size="7.2" text-anchor="middle" textLength="60.5" lengthAdjust="spacingAndGlyphs" transform="rotate(-90 47.6 681.5)" fill="#1e1e1e" stroke="#1e1e1e" stroke-width="0.14">MFI (pHrodo Green)</text><path d="M85.3 622.2L85.3 616.8L110.2 616.8L110.2 676.2" stroke="#444" stroke-width="0.9" fill="none" stroke-linejoin="round"/><circle cx="97.6" cy="611.6" r="1.25" fill="#111"/><path d="M196.3 741.3L196.3 614" stroke="#333" stroke-width="0.9"/><path d="M196.3 741.3L255.5 741.3" stroke="#333" stroke-width="0.9"/><path d="M193.1 741.3L196.3 741.3M193.1 715.8L196.3 715.8M193.1 690.4L196.3 690.4M193.1 664.9L196.3 664.9M193.1 639.5L196.3 639.5M193.1 614L196.3 614" stroke="#333" stroke-width="0.9"/><text x="191.7" y="743.5" font-size="6.3" text-anchor="end" fill="#1e1e1e" stroke="#1e1e1e" stroke-width="0.14">0</text><text x="191.7" y="718" font-size="6.3" text-anchor="end" fill="#1e1e1e" stroke="#1e1e1e" stroke-width="0.14">100</text><text x="191.7" y="692.6" font-size="6.3" text-anchor="end" fill="#1e1e1e" stroke="#1e1e1e" stroke-width="0.14">200</text><text x="191.7" y="667.1" font-size="6.3" text-anchor="end" fill="#1e1e1e" stroke="#1e1e1e" stroke-width="0.14">300</text><text x="191.7" y="641.7" font-size="6.3" text-anchor="end" fill="#1e1e1e" stroke="#1e1e1e" stroke-width="0.14">400</text><text x="191.7" y="616.2" font-size="6.3" text-anchor="end" fill="#1e1e1e" stroke="#1e1e1e" stroke-width="0.14">500</text><rect x="205" y="710.1" width="16.3" height="31.2" fill="none" stroke="#2f2ff0" stroke-width="1.5"/><path d="M213.2 710.4L213.2 709.9M209.3 710.4L217.1 710.4M209.3 709.9L217.1 709.9" stroke="#2f2ff0" stroke-width="0.9"/><path d="M213.2 741.3L213.2 744.7" stroke="#333" stroke-width="0.9"/><rect x="230.6" y="711.1" width="15.9" height="30.2" fill="none" stroke="#1a1a1a" stroke-width="1.5"/><path d="M238.3 714.8L238.3 707.2M234.4 714.8L242.2 714.8M234.4 707.2L242.2 707.2" stroke="#1a1a1a" stroke-width="0.9"/><path d="M238.3 741.3L238.3 744.7" stroke="#333" stroke-width="0.9"/><text x="213.2" y="752.5" font-size="6.4" text-anchor="middle" fill="#1e1e1e" stroke="#1e1e1e" stroke-width="0.14">1.5</text><text x="238.3" y="752.5" font-size="6.4" text-anchor="middle" fill="#1e1e1e" stroke="#1e1e1e" stroke-width="0.14">0</text><text x="179.4" y="763.7" font-size="7.6" textLength="92.6" lengthAdjust="spacingAndGlyphs" fill="#1e1e1e" stroke="#1e1e1e" stroke-width="0.14">Concentration Fc_Control [µM]</text><text x="176.3" y="678" font-size="7.2" text-anchor="middle" textLength="60.5" lengthAdjust="spacingAndGlyphs" transform="rotate(-90 176.3 678)" fill="#1e1e1e" stroke="#1e1e1e" stroke-width="0.14">MFI (pHrodo Green)</text></svg></body></html>
